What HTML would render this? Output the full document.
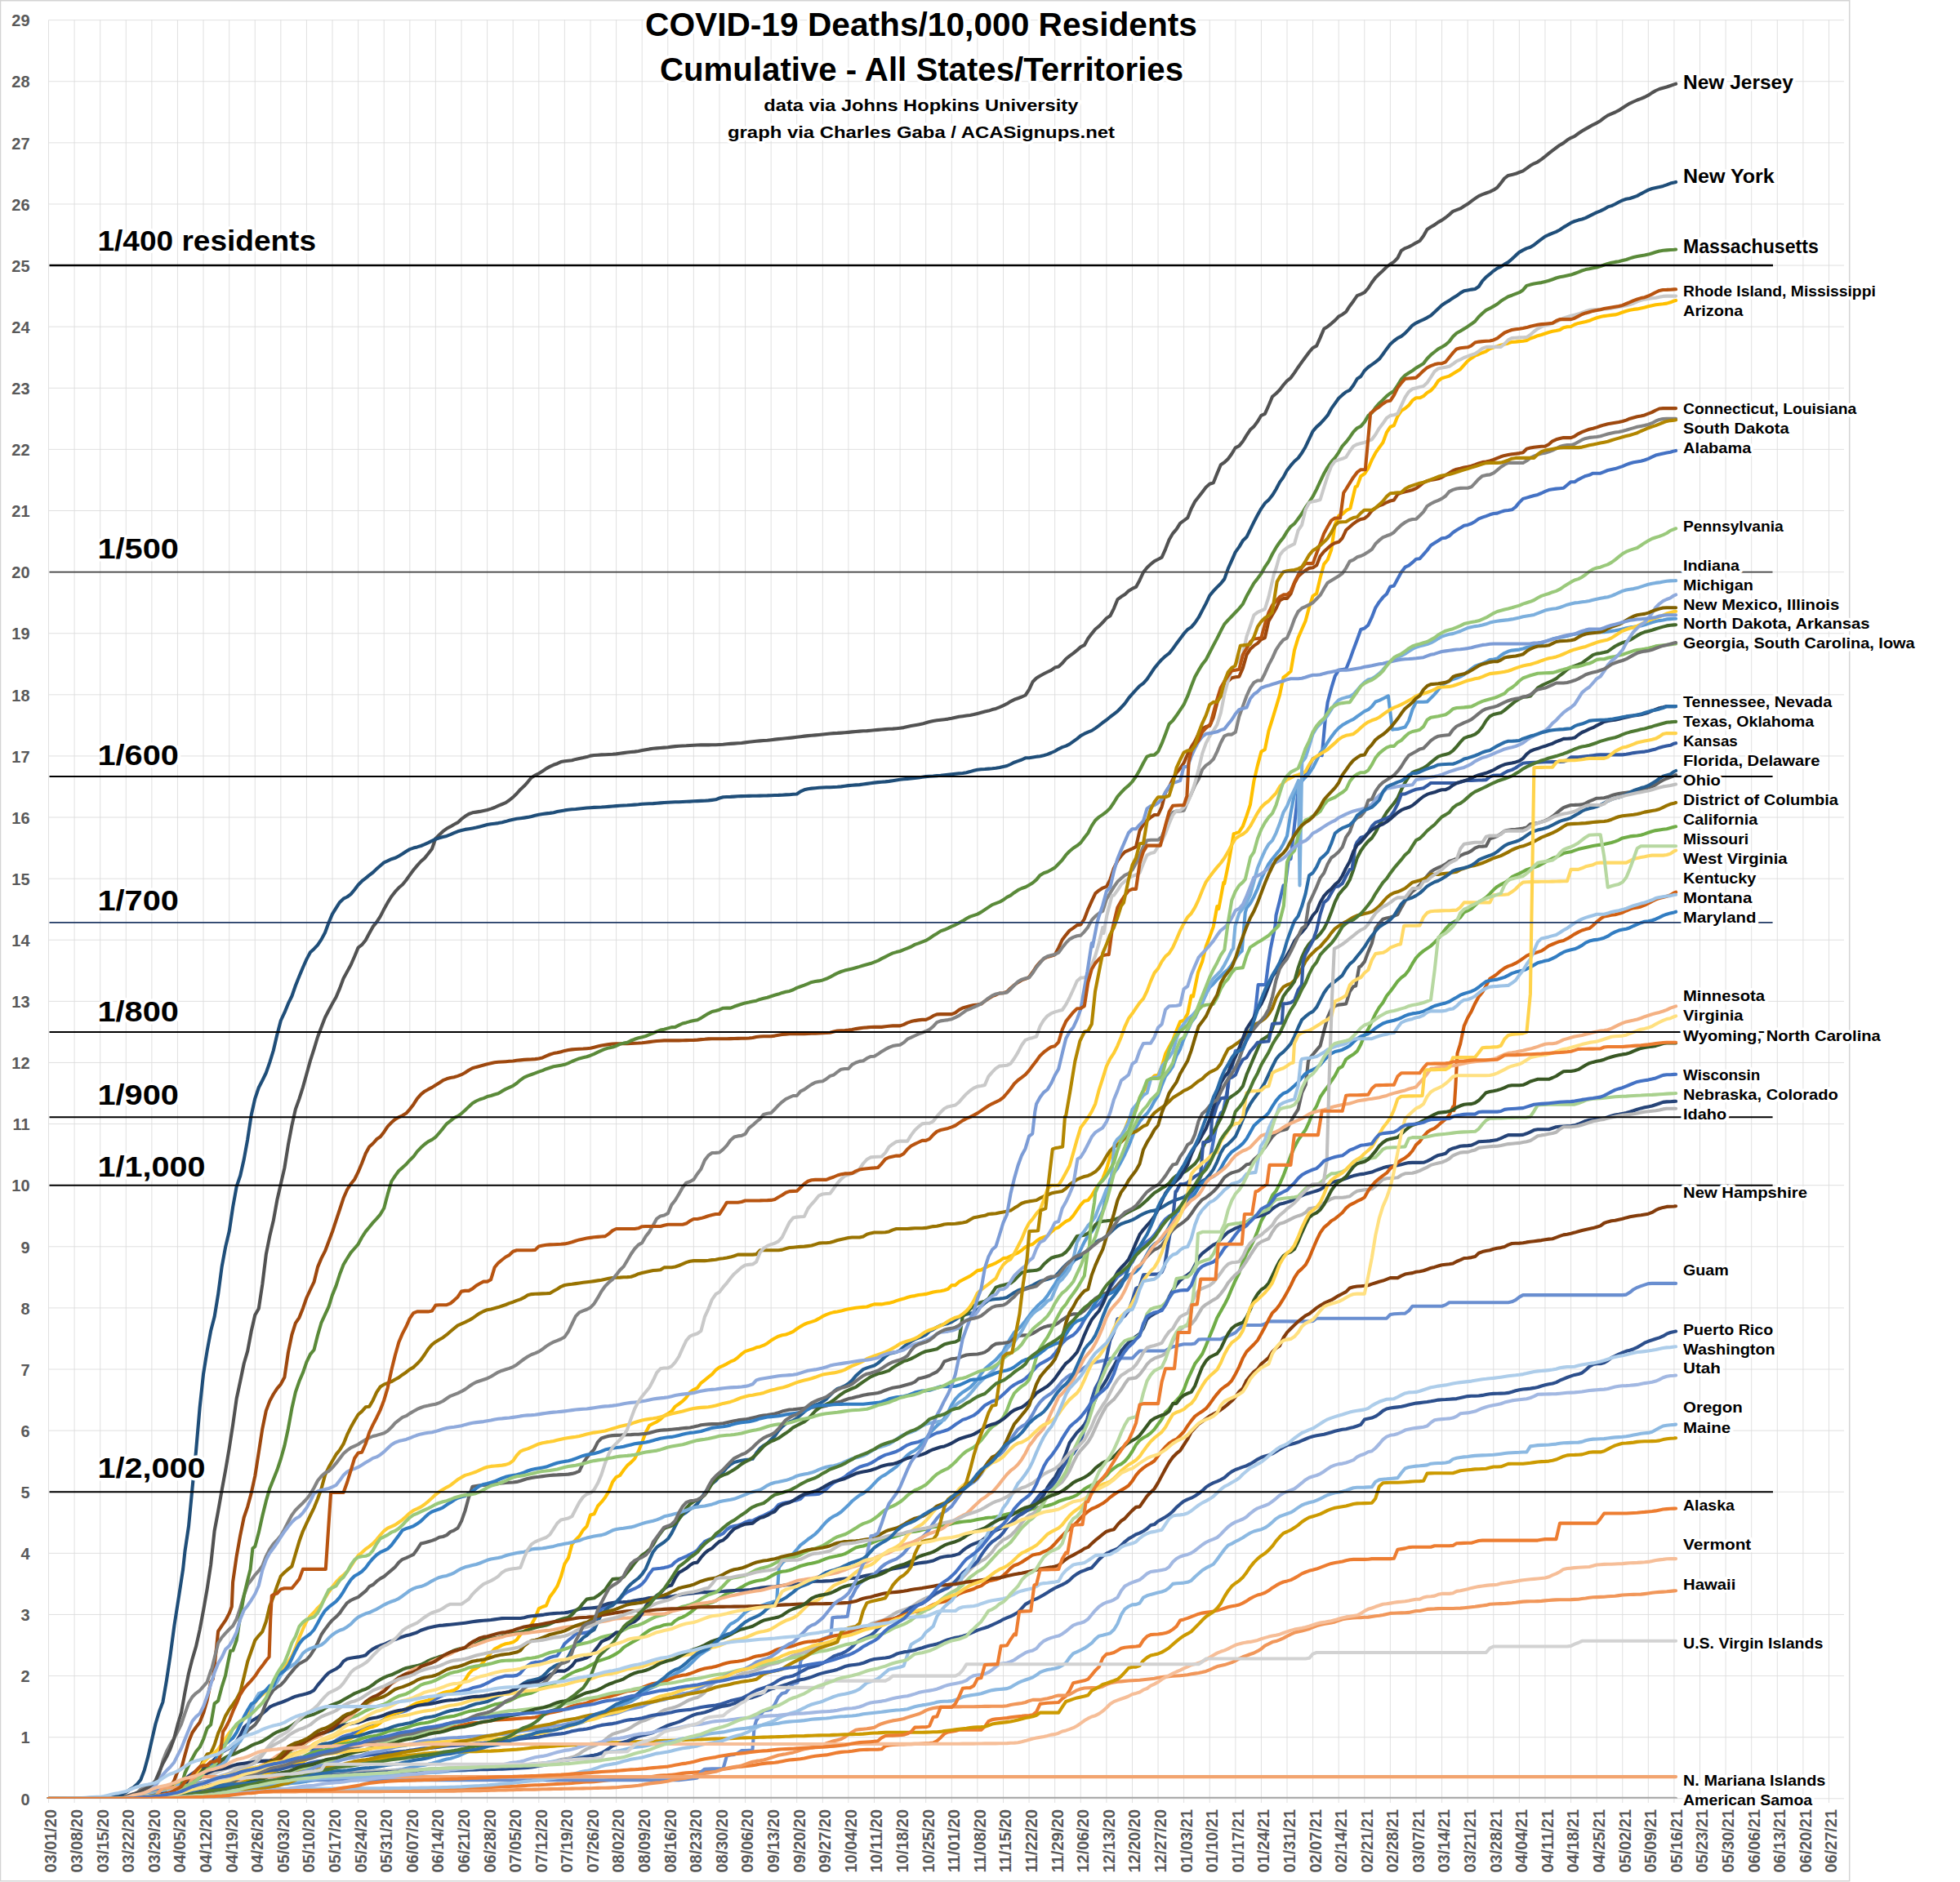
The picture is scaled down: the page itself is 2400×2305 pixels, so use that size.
<!DOCTYPE html>
<html><head><meta charset="utf-8"><title>COVID-19 Deaths/10,000 Residents</title>
<style>html,body{margin:0;padding:0;background:#fff}svg{display:block}</style></head>
<body>
<svg xmlns="http://www.w3.org/2000/svg" width="2400" height="2305" viewBox="0 0 2400 2305" style="display:block">
<rect x="0" y="0" width="2400" height="2305" fill="#fff"/>
<rect x="0.5" y="0.75" width="2264.2" height="2303" fill="none" stroke="#d4d4d4" stroke-width="1.5"/>
<path d="M59.5 2202.80H2258M59.5 2127.69H2258M59.5 2052.58H2258M59.5 1977.47H2258M59.5 1902.36H2258M59.5 1827.25H2258M59.5 1752.14H2258M59.5 1677.03H2258M59.5 1601.92H2258M59.5 1526.81H2258M59.5 1451.70H2258M59.5 1376.59H2258M59.5 1301.48H2258M59.5 1226.37H2258M59.5 1151.26H2258M59.5 1076.15H2258M59.5 1001.04H2258M59.5 925.93H2258M59.5 850.82H2258M59.5 775.71H2258M59.5 700.60H2258M59.5 625.49H2258M59.5 550.38H2258M59.5 475.27H2258M59.5 400.16H2258M59.5 325.05H2258M59.5 249.94H2258M59.5 174.83H2258M59.5 99.72H2258M59.5 24.61H2258M59.50 24.5V2208M91.09 24.5V2208M122.69 24.5V2208M154.28 24.5V2208M185.88 24.5V2208M217.47 24.5V2208M249.07 24.5V2208M280.66 24.5V2208M312.25 24.5V2208M343.85 24.5V2208M375.44 24.5V2208M407.04 24.5V2208M438.63 24.5V2208M470.22 24.5V2208M501.82 24.5V2208M533.41 24.5V2208M565.01 24.5V2208M596.60 24.5V2208M628.20 24.5V2208M659.79 24.5V2208M691.38 24.5V2208M722.98 24.5V2208M754.57 24.5V2208M786.17 24.5V2208M817.76 24.5V2208M849.36 24.5V2208M880.95 24.5V2208M912.54 24.5V2208M944.14 24.5V2208M975.73 24.5V2208M1007.33 24.5V2208M1038.92 24.5V2208M1070.51 24.5V2208M1102.11 24.5V2208M1133.70 24.5V2208M1165.30 24.5V2208M1196.89 24.5V2208M1228.49 24.5V2208M1260.08 24.5V2208M1291.67 24.5V2208M1323.27 24.5V2208M1354.86 24.5V2208M1386.46 24.5V2208M1418.05 24.5V2208M1449.64 24.5V2208M1481.24 24.5V2208M1512.83 24.5V2208M1544.43 24.5V2208M1576.02 24.5V2208M1607.62 24.5V2208M1639.21 24.5V2208M1670.80 24.5V2208M1702.40 24.5V2208M1733.99 24.5V2208M1765.59 24.5V2208M1797.18 24.5V2208M1828.78 24.5V2208M1860.37 24.5V2208M1891.96 24.5V2208M1923.56 24.5V2208M1955.15 24.5V2208M1986.75 24.5V2208M2018.34 24.5V2208M2049.93 24.5V2208M2081.53 24.5V2208M2113.12 24.5V2208M2144.72 24.5V2208M2176.31 24.5V2208M2207.91 24.5V2208M2239.50 24.5V2208" stroke="#dcdcdc" stroke-width="0.9" fill="none"/>
<text x="36.6" y="2210.5" text-anchor="end" font-size="20" fill="#595959" font-family="Liberation Sans, sans-serif" font-weight="bold">0</text>
<text x="36.6" y="2135.4" text-anchor="end" font-size="20" fill="#595959" font-family="Liberation Sans, sans-serif" font-weight="bold">1</text>
<text x="36.6" y="2060.3" text-anchor="end" font-size="20" fill="#595959" font-family="Liberation Sans, sans-serif" font-weight="bold">2</text>
<text x="36.6" y="1985.2" text-anchor="end" font-size="20" fill="#595959" font-family="Liberation Sans, sans-serif" font-weight="bold">3</text>
<text x="36.6" y="1910.1" text-anchor="end" font-size="20" fill="#595959" font-family="Liberation Sans, sans-serif" font-weight="bold">4</text>
<text x="36.6" y="1835.0" text-anchor="end" font-size="20" fill="#595959" font-family="Liberation Sans, sans-serif" font-weight="bold">5</text>
<text x="36.6" y="1759.8" text-anchor="end" font-size="20" fill="#595959" font-family="Liberation Sans, sans-serif" font-weight="bold">6</text>
<text x="36.6" y="1684.7" text-anchor="end" font-size="20" fill="#595959" font-family="Liberation Sans, sans-serif" font-weight="bold">7</text>
<text x="36.6" y="1609.6" text-anchor="end" font-size="20" fill="#595959" font-family="Liberation Sans, sans-serif" font-weight="bold">8</text>
<text x="36.6" y="1534.5" text-anchor="end" font-size="20" fill="#595959" font-family="Liberation Sans, sans-serif" font-weight="bold">9</text>
<text x="36.6" y="1459.4" text-anchor="end" font-size="20" fill="#595959" font-family="Liberation Sans, sans-serif" font-weight="bold">10</text>
<text x="36.6" y="1384.3" text-anchor="end" font-size="20" fill="#595959" font-family="Liberation Sans, sans-serif" font-weight="bold">11</text>
<text x="36.6" y="1309.2" text-anchor="end" font-size="20" fill="#595959" font-family="Liberation Sans, sans-serif" font-weight="bold">12</text>
<text x="36.6" y="1234.1" text-anchor="end" font-size="20" fill="#595959" font-family="Liberation Sans, sans-serif" font-weight="bold">13</text>
<text x="36.6" y="1159.0" text-anchor="end" font-size="20" fill="#595959" font-family="Liberation Sans, sans-serif" font-weight="bold">14</text>
<text x="36.6" y="1083.9" text-anchor="end" font-size="20" fill="#595959" font-family="Liberation Sans, sans-serif" font-weight="bold">15</text>
<text x="36.6" y="1008.7" text-anchor="end" font-size="20" fill="#595959" font-family="Liberation Sans, sans-serif" font-weight="bold">16</text>
<text x="36.6" y="933.6" text-anchor="end" font-size="20" fill="#595959" font-family="Liberation Sans, sans-serif" font-weight="bold">17</text>
<text x="36.6" y="858.5" text-anchor="end" font-size="20" fill="#595959" font-family="Liberation Sans, sans-serif" font-weight="bold">18</text>
<text x="36.6" y="783.4" text-anchor="end" font-size="20" fill="#595959" font-family="Liberation Sans, sans-serif" font-weight="bold">19</text>
<text x="36.6" y="708.3" text-anchor="end" font-size="20" fill="#595959" font-family="Liberation Sans, sans-serif" font-weight="bold">20</text>
<text x="36.6" y="633.2" text-anchor="end" font-size="20" fill="#595959" font-family="Liberation Sans, sans-serif" font-weight="bold">21</text>
<text x="36.6" y="558.1" text-anchor="end" font-size="20" fill="#595959" font-family="Liberation Sans, sans-serif" font-weight="bold">22</text>
<text x="36.6" y="483.0" text-anchor="end" font-size="20" fill="#595959" font-family="Liberation Sans, sans-serif" font-weight="bold">23</text>
<text x="36.6" y="407.9" text-anchor="end" font-size="20" fill="#595959" font-family="Liberation Sans, sans-serif" font-weight="bold">24</text>
<text x="36.6" y="332.8" text-anchor="end" font-size="20" fill="#595959" font-family="Liberation Sans, sans-serif" font-weight="bold">25</text>
<text x="36.6" y="257.6" text-anchor="end" font-size="20" fill="#595959" font-family="Liberation Sans, sans-serif" font-weight="bold">26</text>
<text x="36.6" y="182.5" text-anchor="end" font-size="20" fill="#595959" font-family="Liberation Sans, sans-serif" font-weight="bold">27</text>
<text x="36.6" y="107.4" text-anchor="end" font-size="20" fill="#595959" font-family="Liberation Sans, sans-serif" font-weight="bold">28</text>
<text x="36.6" y="32.3" text-anchor="end" font-size="20" fill="#595959" font-family="Liberation Sans, sans-serif" font-weight="bold">29</text>
<text transform="translate(69.40 2293.5) rotate(-90)" font-size="20" fill="#595959" textLength="77.5" lengthAdjust="spacingAndGlyphs" font-family="Liberation Sans, sans-serif" font-weight="bold">03/01/20</text>
<text transform="translate(100.99 2293.5) rotate(-90)" font-size="20" fill="#595959" textLength="77.5" lengthAdjust="spacingAndGlyphs" font-family="Liberation Sans, sans-serif" font-weight="bold">03/08/20</text>
<text transform="translate(132.59 2293.5) rotate(-90)" font-size="20" fill="#595959" textLength="77.5" lengthAdjust="spacingAndGlyphs" font-family="Liberation Sans, sans-serif" font-weight="bold">03/15/20</text>
<text transform="translate(164.18 2293.5) rotate(-90)" font-size="20" fill="#595959" textLength="77.5" lengthAdjust="spacingAndGlyphs" font-family="Liberation Sans, sans-serif" font-weight="bold">03/22/20</text>
<text transform="translate(195.78 2293.5) rotate(-90)" font-size="20" fill="#595959" textLength="77.5" lengthAdjust="spacingAndGlyphs" font-family="Liberation Sans, sans-serif" font-weight="bold">03/29/20</text>
<text transform="translate(227.37 2293.5) rotate(-90)" font-size="20" fill="#595959" textLength="77.5" lengthAdjust="spacingAndGlyphs" font-family="Liberation Sans, sans-serif" font-weight="bold">04/05/20</text>
<text transform="translate(258.97 2293.5) rotate(-90)" font-size="20" fill="#595959" textLength="77.5" lengthAdjust="spacingAndGlyphs" font-family="Liberation Sans, sans-serif" font-weight="bold">04/12/20</text>
<text transform="translate(290.56 2293.5) rotate(-90)" font-size="20" fill="#595959" textLength="77.5" lengthAdjust="spacingAndGlyphs" font-family="Liberation Sans, sans-serif" font-weight="bold">04/19/20</text>
<text transform="translate(322.15 2293.5) rotate(-90)" font-size="20" fill="#595959" textLength="77.5" lengthAdjust="spacingAndGlyphs" font-family="Liberation Sans, sans-serif" font-weight="bold">04/26/20</text>
<text transform="translate(353.75 2293.5) rotate(-90)" font-size="20" fill="#595959" textLength="77.5" lengthAdjust="spacingAndGlyphs" font-family="Liberation Sans, sans-serif" font-weight="bold">05/03/20</text>
<text transform="translate(385.34 2293.5) rotate(-90)" font-size="20" fill="#595959" textLength="77.5" lengthAdjust="spacingAndGlyphs" font-family="Liberation Sans, sans-serif" font-weight="bold">05/10/20</text>
<text transform="translate(416.94 2293.5) rotate(-90)" font-size="20" fill="#595959" textLength="77.5" lengthAdjust="spacingAndGlyphs" font-family="Liberation Sans, sans-serif" font-weight="bold">05/17/20</text>
<text transform="translate(448.53 2293.5) rotate(-90)" font-size="20" fill="#595959" textLength="77.5" lengthAdjust="spacingAndGlyphs" font-family="Liberation Sans, sans-serif" font-weight="bold">05/24/20</text>
<text transform="translate(480.12 2293.5) rotate(-90)" font-size="20" fill="#595959" textLength="77.5" lengthAdjust="spacingAndGlyphs" font-family="Liberation Sans, sans-serif" font-weight="bold">05/31/20</text>
<text transform="translate(511.72 2293.5) rotate(-90)" font-size="20" fill="#595959" textLength="77.5" lengthAdjust="spacingAndGlyphs" font-family="Liberation Sans, sans-serif" font-weight="bold">06/07/20</text>
<text transform="translate(543.31 2293.5) rotate(-90)" font-size="20" fill="#595959" textLength="77.5" lengthAdjust="spacingAndGlyphs" font-family="Liberation Sans, sans-serif" font-weight="bold">06/14/20</text>
<text transform="translate(574.91 2293.5) rotate(-90)" font-size="20" fill="#595959" textLength="77.5" lengthAdjust="spacingAndGlyphs" font-family="Liberation Sans, sans-serif" font-weight="bold">06/21/20</text>
<text transform="translate(606.50 2293.5) rotate(-90)" font-size="20" fill="#595959" textLength="77.5" lengthAdjust="spacingAndGlyphs" font-family="Liberation Sans, sans-serif" font-weight="bold">06/28/20</text>
<text transform="translate(638.10 2293.5) rotate(-90)" font-size="20" fill="#595959" textLength="77.5" lengthAdjust="spacingAndGlyphs" font-family="Liberation Sans, sans-serif" font-weight="bold">07/05/20</text>
<text transform="translate(669.69 2293.5) rotate(-90)" font-size="20" fill="#595959" textLength="77.5" lengthAdjust="spacingAndGlyphs" font-family="Liberation Sans, sans-serif" font-weight="bold">07/12/20</text>
<text transform="translate(701.28 2293.5) rotate(-90)" font-size="20" fill="#595959" textLength="77.5" lengthAdjust="spacingAndGlyphs" font-family="Liberation Sans, sans-serif" font-weight="bold">07/19/20</text>
<text transform="translate(732.88 2293.5) rotate(-90)" font-size="20" fill="#595959" textLength="77.5" lengthAdjust="spacingAndGlyphs" font-family="Liberation Sans, sans-serif" font-weight="bold">07/26/20</text>
<text transform="translate(764.47 2293.5) rotate(-90)" font-size="20" fill="#595959" textLength="77.5" lengthAdjust="spacingAndGlyphs" font-family="Liberation Sans, sans-serif" font-weight="bold">08/02/20</text>
<text transform="translate(796.07 2293.5) rotate(-90)" font-size="20" fill="#595959" textLength="77.5" lengthAdjust="spacingAndGlyphs" font-family="Liberation Sans, sans-serif" font-weight="bold">08/09/20</text>
<text transform="translate(827.66 2293.5) rotate(-90)" font-size="20" fill="#595959" textLength="77.5" lengthAdjust="spacingAndGlyphs" font-family="Liberation Sans, sans-serif" font-weight="bold">08/16/20</text>
<text transform="translate(859.26 2293.5) rotate(-90)" font-size="20" fill="#595959" textLength="77.5" lengthAdjust="spacingAndGlyphs" font-family="Liberation Sans, sans-serif" font-weight="bold">08/23/20</text>
<text transform="translate(890.85 2293.5) rotate(-90)" font-size="20" fill="#595959" textLength="77.5" lengthAdjust="spacingAndGlyphs" font-family="Liberation Sans, sans-serif" font-weight="bold">08/30/20</text>
<text transform="translate(922.44 2293.5) rotate(-90)" font-size="20" fill="#595959" textLength="77.5" lengthAdjust="spacingAndGlyphs" font-family="Liberation Sans, sans-serif" font-weight="bold">09/06/20</text>
<text transform="translate(954.04 2293.5) rotate(-90)" font-size="20" fill="#595959" textLength="77.5" lengthAdjust="spacingAndGlyphs" font-family="Liberation Sans, sans-serif" font-weight="bold">09/13/20</text>
<text transform="translate(985.63 2293.5) rotate(-90)" font-size="20" fill="#595959" textLength="77.5" lengthAdjust="spacingAndGlyphs" font-family="Liberation Sans, sans-serif" font-weight="bold">09/20/20</text>
<text transform="translate(1017.23 2293.5) rotate(-90)" font-size="20" fill="#595959" textLength="77.5" lengthAdjust="spacingAndGlyphs" font-family="Liberation Sans, sans-serif" font-weight="bold">09/27/20</text>
<text transform="translate(1048.82 2293.5) rotate(-90)" font-size="20" fill="#595959" textLength="77.5" lengthAdjust="spacingAndGlyphs" font-family="Liberation Sans, sans-serif" font-weight="bold">10/04/20</text>
<text transform="translate(1080.41 2293.5) rotate(-90)" font-size="20" fill="#595959" textLength="77.5" lengthAdjust="spacingAndGlyphs" font-family="Liberation Sans, sans-serif" font-weight="bold">10/11/20</text>
<text transform="translate(1112.01 2293.5) rotate(-90)" font-size="20" fill="#595959" textLength="77.5" lengthAdjust="spacingAndGlyphs" font-family="Liberation Sans, sans-serif" font-weight="bold">10/18/20</text>
<text transform="translate(1143.60 2293.5) rotate(-90)" font-size="20" fill="#595959" textLength="77.5" lengthAdjust="spacingAndGlyphs" font-family="Liberation Sans, sans-serif" font-weight="bold">10/25/20</text>
<text transform="translate(1175.20 2293.5) rotate(-90)" font-size="20" fill="#595959" textLength="77.5" lengthAdjust="spacingAndGlyphs" font-family="Liberation Sans, sans-serif" font-weight="bold">11/01/20</text>
<text transform="translate(1206.79 2293.5) rotate(-90)" font-size="20" fill="#595959" textLength="77.5" lengthAdjust="spacingAndGlyphs" font-family="Liberation Sans, sans-serif" font-weight="bold">11/08/20</text>
<text transform="translate(1238.39 2293.5) rotate(-90)" font-size="20" fill="#595959" textLength="77.5" lengthAdjust="spacingAndGlyphs" font-family="Liberation Sans, sans-serif" font-weight="bold">11/15/20</text>
<text transform="translate(1269.98 2293.5) rotate(-90)" font-size="20" fill="#595959" textLength="77.5" lengthAdjust="spacingAndGlyphs" font-family="Liberation Sans, sans-serif" font-weight="bold">11/22/20</text>
<text transform="translate(1301.57 2293.5) rotate(-90)" font-size="20" fill="#595959" textLength="77.5" lengthAdjust="spacingAndGlyphs" font-family="Liberation Sans, sans-serif" font-weight="bold">11/29/20</text>
<text transform="translate(1333.17 2293.5) rotate(-90)" font-size="20" fill="#595959" textLength="77.5" lengthAdjust="spacingAndGlyphs" font-family="Liberation Sans, sans-serif" font-weight="bold">12/06/20</text>
<text transform="translate(1364.76 2293.5) rotate(-90)" font-size="20" fill="#595959" textLength="77.5" lengthAdjust="spacingAndGlyphs" font-family="Liberation Sans, sans-serif" font-weight="bold">12/13/20</text>
<text transform="translate(1396.36 2293.5) rotate(-90)" font-size="20" fill="#595959" textLength="77.5" lengthAdjust="spacingAndGlyphs" font-family="Liberation Sans, sans-serif" font-weight="bold">12/20/20</text>
<text transform="translate(1427.95 2293.5) rotate(-90)" font-size="20" fill="#595959" textLength="77.5" lengthAdjust="spacingAndGlyphs" font-family="Liberation Sans, sans-serif" font-weight="bold">12/27/20</text>
<text transform="translate(1459.54 2293.5) rotate(-90)" font-size="20" fill="#595959" textLength="77.5" lengthAdjust="spacingAndGlyphs" font-family="Liberation Sans, sans-serif" font-weight="bold">01/03/21</text>
<text transform="translate(1491.14 2293.5) rotate(-90)" font-size="20" fill="#595959" textLength="77.5" lengthAdjust="spacingAndGlyphs" font-family="Liberation Sans, sans-serif" font-weight="bold">01/10/21</text>
<text transform="translate(1522.73 2293.5) rotate(-90)" font-size="20" fill="#595959" textLength="77.5" lengthAdjust="spacingAndGlyphs" font-family="Liberation Sans, sans-serif" font-weight="bold">01/17/21</text>
<text transform="translate(1554.33 2293.5) rotate(-90)" font-size="20" fill="#595959" textLength="77.5" lengthAdjust="spacingAndGlyphs" font-family="Liberation Sans, sans-serif" font-weight="bold">01/24/21</text>
<text transform="translate(1585.92 2293.5) rotate(-90)" font-size="20" fill="#595959" textLength="77.5" lengthAdjust="spacingAndGlyphs" font-family="Liberation Sans, sans-serif" font-weight="bold">01/31/21</text>
<text transform="translate(1617.52 2293.5) rotate(-90)" font-size="20" fill="#595959" textLength="77.5" lengthAdjust="spacingAndGlyphs" font-family="Liberation Sans, sans-serif" font-weight="bold">02/07/21</text>
<text transform="translate(1649.11 2293.5) rotate(-90)" font-size="20" fill="#595959" textLength="77.5" lengthAdjust="spacingAndGlyphs" font-family="Liberation Sans, sans-serif" font-weight="bold">02/14/21</text>
<text transform="translate(1680.70 2293.5) rotate(-90)" font-size="20" fill="#595959" textLength="77.5" lengthAdjust="spacingAndGlyphs" font-family="Liberation Sans, sans-serif" font-weight="bold">02/21/21</text>
<text transform="translate(1712.30 2293.5) rotate(-90)" font-size="20" fill="#595959" textLength="77.5" lengthAdjust="spacingAndGlyphs" font-family="Liberation Sans, sans-serif" font-weight="bold">02/28/21</text>
<text transform="translate(1743.89 2293.5) rotate(-90)" font-size="20" fill="#595959" textLength="77.5" lengthAdjust="spacingAndGlyphs" font-family="Liberation Sans, sans-serif" font-weight="bold">03/07/21</text>
<text transform="translate(1775.49 2293.5) rotate(-90)" font-size="20" fill="#595959" textLength="77.5" lengthAdjust="spacingAndGlyphs" font-family="Liberation Sans, sans-serif" font-weight="bold">03/14/21</text>
<text transform="translate(1807.08 2293.5) rotate(-90)" font-size="20" fill="#595959" textLength="77.5" lengthAdjust="spacingAndGlyphs" font-family="Liberation Sans, sans-serif" font-weight="bold">03/21/21</text>
<text transform="translate(1838.68 2293.5) rotate(-90)" font-size="20" fill="#595959" textLength="77.5" lengthAdjust="spacingAndGlyphs" font-family="Liberation Sans, sans-serif" font-weight="bold">03/28/21</text>
<text transform="translate(1870.27 2293.5) rotate(-90)" font-size="20" fill="#595959" textLength="77.5" lengthAdjust="spacingAndGlyphs" font-family="Liberation Sans, sans-serif" font-weight="bold">04/04/21</text>
<text transform="translate(1901.86 2293.5) rotate(-90)" font-size="20" fill="#595959" textLength="77.5" lengthAdjust="spacingAndGlyphs" font-family="Liberation Sans, sans-serif" font-weight="bold">04/11/21</text>
<text transform="translate(1933.46 2293.5) rotate(-90)" font-size="20" fill="#595959" textLength="77.5" lengthAdjust="spacingAndGlyphs" font-family="Liberation Sans, sans-serif" font-weight="bold">04/18/21</text>
<text transform="translate(1965.05 2293.5) rotate(-90)" font-size="20" fill="#595959" textLength="77.5" lengthAdjust="spacingAndGlyphs" font-family="Liberation Sans, sans-serif" font-weight="bold">04/25/21</text>
<text transform="translate(1996.65 2293.5) rotate(-90)" font-size="20" fill="#595959" textLength="77.5" lengthAdjust="spacingAndGlyphs" font-family="Liberation Sans, sans-serif" font-weight="bold">05/02/21</text>
<text transform="translate(2028.24 2293.5) rotate(-90)" font-size="20" fill="#595959" textLength="77.5" lengthAdjust="spacingAndGlyphs" font-family="Liberation Sans, sans-serif" font-weight="bold">05/09/21</text>
<text transform="translate(2059.83 2293.5) rotate(-90)" font-size="20" fill="#595959" textLength="77.5" lengthAdjust="spacingAndGlyphs" font-family="Liberation Sans, sans-serif" font-weight="bold">05/16/21</text>
<text transform="translate(2091.43 2293.5) rotate(-90)" font-size="20" fill="#595959" textLength="77.5" lengthAdjust="spacingAndGlyphs" font-family="Liberation Sans, sans-serif" font-weight="bold">05/23/21</text>
<text transform="translate(2123.02 2293.5) rotate(-90)" font-size="20" fill="#595959" textLength="77.5" lengthAdjust="spacingAndGlyphs" font-family="Liberation Sans, sans-serif" font-weight="bold">05/30/21</text>
<text transform="translate(2154.62 2293.5) rotate(-90)" font-size="20" fill="#595959" textLength="77.5" lengthAdjust="spacingAndGlyphs" font-family="Liberation Sans, sans-serif" font-weight="bold">06/06/21</text>
<text transform="translate(2186.21 2293.5) rotate(-90)" font-size="20" fill="#595959" textLength="77.5" lengthAdjust="spacingAndGlyphs" font-family="Liberation Sans, sans-serif" font-weight="bold">06/13/21</text>
<text transform="translate(2217.81 2293.5) rotate(-90)" font-size="20" fill="#595959" textLength="77.5" lengthAdjust="spacingAndGlyphs" font-family="Liberation Sans, sans-serif" font-weight="bold">06/20/21</text>
<text transform="translate(2249.40 2293.5) rotate(-90)" font-size="20" fill="#595959" textLength="77.5" lengthAdjust="spacingAndGlyphs" font-family="Liberation Sans, sans-serif" font-weight="bold">06/27/21</text>
<clipPath id="plot"><rect x="55" y="20" width="2010" height="2182.8"/></clipPath><g clip-path="url(#plot)" fill="none" stroke-width="4.1" stroke-linejoin="round" stroke-linecap="round">
<path d="M59.5,2202.8 64.0,2202.8 68.5,2202.8 73.0,2202.8 77.6,2202.8 82.1,2202.8 86.6,2202.8 91.1,2202.8 95.6,2202.8 100.1,2202.8 104.6,2202.8 109.1,2202.8 113.7,2202.8 118.2,2202.8 122.7,2202.8 127.2,2202.8 131.7,2202.8 136.2,2202.8 140.7,2202.8 145.3,2202.8 149.8,2202.7 154.3,2202.5 158.8,2202.3 163.3,2201.9 167.8,2201.6 172.3,2201.5 176.8,2201.3 181.4,2201.0 185.9,2200.6 190.4,2200.1 194.9,2199.5 199.4,2198.9 203.9,2198.5 208.4,2198.0 213.0,2197.4 217.5,2196.4 222.0,2195.2 226.5,2194.0 231.0,2192.8 235.5,2192.2 240.0,2191.5 244.6,2190.7 249.1,2189.2 253.6,2187.6 258.1,2186.0 262.6,2184.6 267.1,2183.7 271.6,2182.5 276.1,2181.0 280.7,2178.4 285.2,2175.3 289.7,2172.4 294.2,2170.6 298.7,2169.3 303.2,2168.1 307.7,2167.0 312.3,2165.4 316.8,2164.4 321.3,2163.8 325.8,2163.4 330.3,2163.2 334.8,2162.9 339.3,2162.6 343.8,2162.1 348.4,2161.3 352.9,2160.2 357.4,2158.7 361.9,2157.6 366.4,2156.1 370.9,2154.2 375.4,2150.9 380.0,2147.6 384.5,2143.6 389.0,2141.5 393.5,2140.1 398.0,2138.6 402.5,2136.8 407.0,2134.5 411.5,2131.6 416.1,2128.9 420.6,2126.6 425.1,2125.3 429.6,2124.2 434.1,2122.2 438.6,2120.0 443.1,2117.3 447.7,2114.3 452.2,2112.4 456.7,2111.0 461.2,2109.9 465.7,2108.4 470.2,2106.0 474.7,2103.2 479.3,2100.7 483.8,2098.9 488.3,2097.5 492.8,2096.5 497.3,2095.2 501.8,2093.0 506.3,2090.3 510.8,2088.0 515.4,2086.5 519.9,2085.2 524.4,2084.4 528.9,2083.0 533.4,2080.6 537.9,2078.4 542.4,2076.3 547.0,2074.8 551.5,2073.9 556.0,2073.3 560.5,2072.4 565.0,2071.5 569.5,2070.2 574.0,2069.2 578.5,2067.3 583.1,2066.2 587.6,2065.3 592.1,2063.5 596.6,2061.4 601.1,2059.0 605.6,2056.7 610.1,2054.9 614.7,2053.7 619.2,2052.6 623.7,2052.6 628.2,2052.6 632.7,2051.9 637.2,2049.2 641.7,2043.6 646.2,2040.0 650.8,2037.1 655.3,2035.9 659.8,2035.6 664.3,2035.0 668.8,2032.2 673.3,2030.1 677.8,2028.7 682.4,2027.9 686.9,2021.1 691.4,2013.1 695.9,2009.2 700.4,2005.7 704.9,2001.1 709.4,2000.6 714.0,2000.1 718.5,1999.4 723.0,1997.6 727.5,1993.4 732.0,1980.7 736.5,1970.5 741.0,1967.7 745.5,1966.1 750.1,1964.2 754.6,1962.1 759.1,1958.4 763.6,1953.1 768.1,1949.9 772.6,1947.7 777.1,1945.7 781.7,1943.3 786.2,1940.0 790.7,1934.8 795.2,1927.4 799.7,1921.7 804.2,1921.2 808.7,1920.8 813.2,1920.1 817.8,1919.0 822.3,1917.4 826.8,1913.1 831.3,1910.0 835.8,1908.2 840.3,1906.2 844.8,1903.8 849.4,1901.7 853.9,1898.6 858.4,1892.8 862.9,1888.1 867.4,1885.9 871.9,1884.1 876.4,1881.3 880.9,1880.3 885.5,1878.2 890.0,1873.3 894.5,1870.2 899.0,1869.0 903.5,1868.3 908.0,1866.8 912.5,1864.4 917.1,1862.6 921.6,1862.6 926.1,1860.0 930.6,1857.8 935.1,1856.1 939.6,1853.8 944.1,1851.6 948.7,1848.2 953.2,1843.0 957.7,1841.3 962.2,1840.3 966.7,1839.6 971.2,1838.3 975.7,1837.4 980.2,1835.8 984.8,1831.0 989.3,1830.7 993.8,1830.5 998.3,1830.3 1002.8,1829.6 1007.3,1827.2 1011.8,1823.7 1016.4,1819.4 1020.9,1815.9 1025.4,1813.6 1029.9,1811.3 1034.4,1808.9 1038.9,1805.2 1043.4,1802.1 1047.9,1799.2 1052.5,1796.7 1057.0,1795.3 1061.5,1794.1 1066.0,1792.2 1070.5,1789.6 1075.0,1786.6 1079.5,1784.1 1084.1,1781.9 1088.6,1780.6 1093.1,1779.2 1097.6,1777.7 1102.1,1775.5 1106.6,1772.5 1111.1,1769.8 1115.6,1768.1 1120.2,1767.0 1124.7,1765.9 1129.2,1764.3 1133.7,1762.3 1138.2,1759.6 1142.7,1757.0 1147.2,1755.0 1151.8,1753.9 1156.3,1752.5 1160.8,1751.0 1165.3,1748.2 1169.8,1744.8 1174.3,1741.9 1178.8,1738.9 1183.4,1737.5 1187.9,1735.5 1192.4,1733.5 1196.9,1730.2 1201.4,1725.7 1205.9,1721.3 1210.4,1718.8 1214.9,1716.3 1219.5,1714.9 1224.0,1711.7 1228.5,1707.8 1233.0,1703.5 1237.5,1699.1 1242.0,1696.0 1246.5,1693.4 1251.1,1691.5 1255.6,1688.4 1260.1,1684.4 1264.6,1679.0 1269.1,1674.1 1273.6,1670.5 1278.1,1668.1 1282.6,1665.6 1287.2,1662.6 1291.7,1657.5 1296.2,1651.6 1300.7,1645.1 1305.2,1640.5 1309.7,1637.5 1314.2,1635.1 1318.8,1630.6 1323.3,1624.6 1327.8,1616.3 1332.3,1609.8 1336.8,1604.1 1341.3,1600.7 1345.8,1597.4 1350.3,1592.2 1354.9,1585.0 1359.4,1576.8 1363.9,1570.1 1368.4,1563.9 1372.9,1560.3 1377.4,1556.7 1381.9,1551.9 1386.5,1545.8 1391.0,1537.5 1395.5,1530.0 1400.0,1524.4 1404.5,1520.7 1409.0,1517.5 1413.5,1512.4 1418.1,1506.2 1422.6,1498.5 1427.1,1493.2 1431.6,1489.5 1436.1,1487.1 1440.6,1484.6 1445.1,1481.7 1449.6,1476.8 1454.2,1469.3 1458.7,1461.8 1463.2,1453.4 1467.7,1447.2 1472.2,1436.3 1476.7,1427.4 1481.2,1419.3 1482.5,1414.9 1486.9,1391.6 1490.3,1375.9 1494.8,1363.1 1497.7,1360.8 1504.0,1330.0 1506.8,1300.0 1508.3,1308.2 1512.8,1287.0 1517.3,1286.2 1521.9,1282.5 1526.4,1274.3 1530.9,1266.4 1533.1,1260.2 1537.5,1235.4 1540.6,1206.1 1544.4,1206.1 1549.8,1206.1 1553.0,1180.6 1555.8,1161.8 1561.5,1134.0 1562.5,1121.0 1567.0,1103.1 1571.5,1084.4 1573.8,1084.4 1577.9,1052.1 1580.5,1052.1 1585.0,1011.0 1589.6,968.9 1594.1,956.6 1598.6,949.2 1603.1,938.6 1607.6,929.2 1612.1,927.2 1616.6,924.1 1618.7,925.2 1622.8,880.9 1625.7,859.9 1630.2,842.9 1634.7,828.1 1639.2,820.7 1643.7,820.0 1648.2,819.4 1652.8,808.1 1657.3,795.4 1661.8,783.6 1666.3,771.0 1670.8,769.5 1675.3,765.6 1679.8,755.9 1684.3,744.3 1688.9,737.2 1693.4,731.6 1697.9,727.5 1702.4,718.5 1706.9,717.4 1711.4,709.0 1715.9,700.8 1720.5,694.7 1725.0,692.6 1729.5,688.9 1734.0,684.7 1738.5,684.2 1743.0,679.2 1747.5,674.0 1752.0,668.0 1756.6,665.0 1761.1,662.2 1765.6,659.2 1770.1,658.8 1774.6,656.4 1779.1,652.2 1783.6,649.3 1788.2,646.6 1792.7,643.7 1797.2,642.9 1801.7,641.3 1806.2,638.7 1810.7,635.4 1815.2,633.7 1819.7,632.1 1824.3,630.3 1828.8,629.0 1833.3,628.6 1837.8,626.9 1842.3,625.5 1846.8,625.0 1851.3,624.3 1855.9,620.9 1860.4,615.4 1864.9,610.9 1869.4,609.6 1873.9,608.3 1878.4,607.1 1882.9,605.9 1887.5,604.0 1892.0,601.8 1896.5,600.1 1901.0,599.3 1905.5,598.6 1910.0,598.2 1914.5,597.8 1919.0,594.0 1923.6,590.2 1928.1,590.2 1932.6,587.3 1937.1,585.0 1941.6,582.9 1946.1,581.8 1950.6,579.7 1955.2,579.7 1959.7,579.7 1964.2,577.8 1968.7,576.0 1973.2,575.0 1977.7,574.1 1982.2,572.6 1986.7,571.1 1991.3,569.2 1995.8,567.5 2000.3,566.3 2004.8,565.5 2009.3,564.7 2013.8,563.5 2018.3,561.8 2022.9,559.7 2027.4,557.6 2031.9,556.4 2036.4,555.5 2040.9,554.6 2045.4,553.8 2049.9,552.4 2052.1,551.9" stroke="#4472c4"/>
<path d="M59.5,2202.8 64.0,2202.8 68.5,2202.8 73.0,2202.8 77.6,2202.8 82.1,2202.8 86.6,2202.8 91.1,2202.8 95.6,2202.8 100.1,2202.8 104.6,2202.8 109.1,2202.8 113.7,2202.8 118.2,2202.8 122.7,2202.8 127.2,2202.8 131.7,2202.8 136.2,2202.8 140.7,2202.8 145.3,2202.7 149.8,2202.6 154.3,2202.4 158.8,2202.3 163.3,2202.1 167.8,2201.7 172.3,2201.2 176.8,2200.8 181.4,2200.5 185.9,2200.4 190.4,2200.1 194.9,2199.7 199.4,2199.2 203.9,2198.8 208.4,2198.3 213.0,2198.0 217.5,2197.7 222.0,2197.3 226.5,2196.8 231.0,2196.2 235.5,2195.5 240.0,2195.0 244.6,2194.7 249.1,2194.5 253.6,2194.2 258.1,2194.0 262.6,2193.8 267.1,2193.6 271.6,2193.5 276.1,2193.5 280.7,2193.4 285.2,2193.4 289.7,2193.3 294.2,2193.2 298.7,2193.1 303.2,2193.1 307.7,2193.1 312.3,2193.0 316.8,2193.0 321.3,2192.9 325.8,2192.9 330.3,2192.8 334.8,2192.8 339.3,2192.8 343.8,2192.7 348.4,2192.7 352.9,2192.7 357.4,2192.6 361.9,2192.6 366.4,2192.6 370.9,2192.5 375.4,2192.5 380.0,2192.5 384.5,2192.4 389.0,2192.4 393.5,2192.3 398.0,2192.3 402.5,2192.2 407.0,2192.2 411.5,2192.2 416.1,2192.1 420.6,2192.1 425.1,2192.0 429.6,2191.9 434.1,2191.9 438.6,2191.9 443.1,2191.9 447.7,2191.8 452.2,2191.8 456.7,2191.7 461.2,2191.7 465.7,2191.6 470.2,2191.6 474.7,2191.6 479.3,2191.5 483.8,2191.5 488.3,2191.4 492.8,2191.4 497.3,2191.3 501.8,2191.3 506.3,2191.2 510.8,2191.2 515.4,2191.1 519.9,2191.0 524.4,2190.9 528.9,2190.9 533.4,2190.9 537.9,2190.8 542.4,2190.7 547.0,2190.6 551.5,2190.5 556.0,2190.3 560.5,2190.2 565.0,2190.2 569.5,2190.1 574.0,2189.9 578.5,2189.7 583.1,2189.5 587.6,2189.3 592.1,2189.2 596.6,2189.1 601.1,2189.0 605.6,2188.8 610.1,2188.5 614.7,2188.3 619.2,2188.0 623.7,2187.9 628.2,2187.7 632.7,2187.6 637.2,2187.4 641.7,2187.1 646.2,2186.8 650.8,2186.5 655.3,2186.3 659.8,2186.2 664.3,2186.0 668.8,2185.8 673.3,2185.5 677.8,2185.2 682.4,2184.9 686.9,2184.7 691.4,2184.5 695.9,2184.3 700.4,2184.0 704.9,2183.5 709.4,2183.2 714.0,2182.8 718.5,2182.5 723.0,2182.4 727.5,2182.1 732.0,2181.7 736.5,2181.2 741.0,2180.7 745.5,2180.3 750.1,2180.0 754.6,2179.8 759.1,2179.5 763.6,2179.1 768.1,2178.6 772.6,2178.0 777.1,2177.5 781.7,2177.2 786.2,2177.0 790.7,2176.7 795.2,2176.2 799.7,2175.7 804.2,2175.1 808.7,2174.6 813.2,2174.3 817.8,2174.1 822.3,2173.7 826.8,2173.2 831.3,2172.6 835.8,2171.9 840.3,2171.4 844.8,2171.1 849.4,2170.7 853.9,2170.4 858.4,2169.9 862.9,2169.2 867.4,2168.4 871.9,2167.8 876.4,2167.4 880.9,2167.1 885.5,2166.7 890.0,2166.2 894.5,2165.4 899.0,2164.6 903.5,2164.0 908.0,2163.6 912.5,2163.3 917.1,2162.8 921.6,2162.1 926.1,2161.4 930.6,2160.6 935.1,2159.9 939.6,2159.4 944.1,2159.1 948.7,2158.7 953.2,2158.1 957.7,2157.2 962.2,2156.3 966.7,2155.5 971.2,2155.1 975.7,2154.7 980.2,2154.3 984.8,2153.5 989.3,2152.5 993.8,2151.5 998.3,2150.8 1002.8,2150.2 1007.3,2149.8 1011.8,2149.4 1016.4,2148.5 1020.9,2147.6 1025.4,2146.6 1029.9,2145.9 1034.4,2145.5 1038.9,2145.2 1043.4,2144.7 1047.9,2144.0 1052.5,2143.3 1057.0,2143.0 1061.5,2142.9 1066.0,2142.8 1070.5,2142.8 1075.0,2142.6 1079.5,2142.3 1084.1,2138.5 1088.6,2137.4 1093.1,2136.9 1097.6,2136.7 1102.1,2136.5 1106.6,2136.4 1111.1,2136.2 1115.6,2136.1 1120.2,2135.9 1124.7,2135.8 1129.2,2135.6 1133.7,2135.4 1138.2,2135.1 1142.7,2134.6 1147.2,2132.2 1151.8,2128.2 1156.3,2123.5 1160.8,2121.4 1165.3,2120.7 1169.8,2119.9 1174.3,2118.7 1178.8,2118.7 1183.4,2118.7 1187.9,2118.7 1192.4,2118.7 1196.9,2118.7 1201.4,2118.7 1205.9,2114.6 1210.4,2108.1 1214.9,2106.1 1219.5,2105.4 1224.0,2105.0 1228.5,2104.5 1233.0,2104.1 1237.5,2103.4 1242.0,2102.8 1246.5,2102.3 1251.1,2101.9 1255.6,2101.4 1260.1,2101.1 1264.6,2100.4 1269.1,2096.6 1273.6,2086.9 1278.1,2086.3 1282.6,2085.8 1287.2,2085.5 1291.7,2085.2 1296.2,2085.0 1300.7,2080.6 1305.2,2077.4 1309.7,2070.4 1314.2,2061.2 1318.8,2060.2 1323.3,2059.3 1327.8,2058.3 1332.3,2056.6 1336.8,2051.4 1341.3,2045.9 1345.8,2041.5 1350.3,2030.7 1354.9,2025.9 1359.4,2025.3 1363.9,2024.1 1368.4,2021.4 1372.9,2018.8 1377.4,2017.7 1381.9,2017.3 1386.5,2016.9 1391.0,2016.5 1395.5,2015.9 1400.0,2008.8 1404.5,2004.2 1409.0,2002.1 1413.5,2001.7 1418.1,2001.5 1422.6,2000.9 1427.1,2000.1 1431.6,1998.5 1436.1,1995.6 1440.6,1991.9 1445.1,1984.6 1449.6,1983.4 1454.2,1981.9 1458.7,1980.1 1463.2,1978.4 1467.7,1976.7 1472.2,1975.6 1476.7,1974.9 1481.2,1974.2 1485.8,1973.5 1490.3,1972.6 1494.8,1971.1 1499.3,1969.7 1503.8,1968.3 1508.3,1967.2 1512.8,1966.5 1517.3,1965.5 1521.9,1963.4 1526.4,1960.9 1530.9,1957.8 1535.4,1955.5 1539.9,1953.5 1544.4,1952.4 1548.9,1950.8 1553.5,1948.1 1558.0,1944.7 1562.5,1941.9 1567.0,1939.4 1571.5,1937.5 1576.0,1936.4 1580.5,1935.1 1585.0,1932.9 1589.6,1930.3 1594.1,1927.4 1598.6,1925.5 1603.1,1923.8 1607.6,1922.8 1612.1,1921.6 1616.6,1919.9 1621.2,1918.1 1625.7,1916.4 1630.2,1914.9 1634.7,1914.0 1639.2,1913.3 1643.7,1912.4 1648.2,1911.3 1652.8,1910.3 1657.3,1909.9 1661.8,1909.9 1666.3,1909.9 1670.8,1909.9 1675.3,1909.7 1679.8,1909.1 1684.3,1909.1 1688.9,1909.1 1693.4,1909.1 1697.9,1909.1 1702.4,1909.1 1706.9,1908.7 1711.4,1897.8 1715.9,1897.1 1720.5,1896.4 1725.0,1895.1 1729.5,1894.8 1734.0,1894.8 1738.5,1894.8 1743.0,1894.8 1747.5,1894.8 1752.0,1894.8 1756.6,1893.3 1761.1,1893.3 1765.6,1893.3 1770.1,1893.3 1774.6,1893.3 1779.1,1892.9 1783.6,1890.3 1788.2,1890.1 1792.7,1889.9 1797.2,1889.8 1801.7,1889.7 1806.2,1888.4 1810.7,1887.0 1815.2,1886.6 1819.7,1886.6 1824.3,1886.6 1828.8,1886.6 1833.3,1886.6 1837.8,1886.6 1842.3,1886.6 1846.8,1886.6 1851.3,1886.6 1855.9,1886.6 1860.4,1886.6 1864.9,1886.6 1869.4,1886.6 1873.9,1886.6 1878.4,1886.6 1882.9,1886.6 1887.5,1885.8 1892.0,1885.1 1896.5,1885.1 1901.0,1885.1 1905.5,1885.1 1910.0,1865.6 1914.5,1865.6 1919.0,1865.6 1923.6,1865.6 1928.1,1865.6 1932.6,1865.6 1937.1,1865.6 1941.6,1865.6 1946.1,1865.6 1950.6,1865.6 1955.2,1865.6 1959.7,1859.9 1964.2,1853.6 1968.7,1853.5 1973.2,1853.5 1977.7,1853.5 1982.2,1853.5 1986.7,1853.5 1991.3,1853.5 1995.8,1853.2 2000.3,1853.0 2004.8,1852.8 2009.3,1852.2 2013.8,1851.9 2018.3,1851.5 2022.9,1851.0 2027.4,1850.4 2031.9,1849.5 2036.4,1848.5 2040.9,1848.1 2045.4,1847.8 2049.9,1847.6 2052.1,1847.5" stroke="#ed7d31"/>
<path d="M59.5,2202.8 64.0,2202.8 68.5,2202.8 73.0,2202.8 77.6,2202.8 82.1,2202.8 86.6,2202.8 91.1,2202.8 95.6,2202.8 100.1,2202.8 104.6,2202.8 109.1,2202.8 113.7,2202.8 118.2,2202.8 122.7,2202.8 127.2,2202.8 131.7,2202.8 136.2,2202.8 140.7,2202.8 145.3,2202.8 149.8,2202.8 154.3,2202.8 158.8,2202.8 163.3,2202.8 167.8,2202.8 172.3,2202.8 176.8,2202.8 181.4,2202.8 185.9,2202.8 190.4,2202.8 194.9,2202.8 199.4,2202.8 203.9,2202.8 208.4,2202.8 213.0,2202.8 217.5,2202.8 222.0,2202.8 226.5,2202.8 231.0,2202.8 235.5,2202.8 240.0,2202.8 244.6,2202.8 249.1,2202.8 253.6,2202.8 258.1,2202.8 262.6,2202.8 267.1,2202.8 271.6,2202.8 276.1,2202.8 280.7,2202.8 285.2,2202.8 289.7,2202.8 294.2,2202.8 298.7,2202.8 303.2,2202.8 307.7,2202.8 312.3,2202.8 316.8,2202.8 321.3,2202.8 325.8,2202.8 330.3,2202.8 334.8,2202.8 339.3,2202.8 343.8,2202.8 348.4,2202.8 352.9,2202.8 357.4,2202.8 361.9,2202.8 366.4,2202.8 370.9,2202.8 375.4,2202.8 380.0,2202.8 384.5,2202.8 389.0,2202.8 393.5,2202.8 398.0,2202.8 402.5,2202.8 407.0,2202.8 411.5,2202.8 416.1,2202.8 420.6,2202.8 425.1,2202.8 429.6,2202.8 434.1,2202.8 438.6,2202.8 443.1,2202.8 447.7,2202.8 452.2,2202.8 456.7,2202.8 461.2,2202.8 465.7,2202.8 470.2,2202.8 474.7,2202.8 479.3,2202.8 483.8,2202.8 488.3,2202.8 492.8,2202.8 497.3,2202.8 501.8,2202.8 506.3,2202.8 510.8,2202.8 515.4,2202.8 519.9,2202.8 524.4,2202.8 528.9,2202.8 533.4,2202.8 537.9,2202.8 542.4,2202.8 547.0,2202.8 551.5,2202.8 556.0,2202.8 560.5,2202.8 565.0,2202.8 569.5,2202.8 574.0,2202.8 578.5,2202.8 583.1,2202.8 587.6,2202.8 592.1,2202.8 596.6,2202.8 601.1,2202.8 605.6,2202.8 610.1,2202.8 614.7,2202.8 619.2,2202.8 623.7,2202.8 628.2,2202.8 632.7,2202.8 637.2,2202.8 641.7,2202.8 646.2,2202.8 650.8,2202.8 655.3,2202.8 659.8,2202.8 664.3,2202.8 668.8,2202.8 673.3,2202.8 677.8,2202.8 682.4,2202.8 686.9,2202.8 691.4,2202.8 695.9,2202.8 700.4,2202.8 704.9,2202.8 709.4,2202.8 714.0,2202.8 718.5,2202.8 723.0,2202.8 727.5,2202.8 732.0,2202.8 736.5,2202.8 741.0,2202.8 745.5,2202.8 750.1,2202.8 754.6,2202.8 759.1,2202.8 763.6,2202.8 768.1,2202.8 772.6,2202.8 777.1,2202.8 781.7,2202.8 786.2,2202.8 790.7,2202.8 795.2,2202.8 799.7,2202.8 804.2,2202.8 808.7,2202.8 813.2,2202.8 817.8,2202.8 822.3,2202.8 826.8,2202.8 831.3,2202.8 835.8,2202.8 840.3,2202.8 844.8,2202.8 849.4,2202.8 853.9,2202.8 858.4,2202.8 862.9,2202.8 867.4,2202.8 871.9,2202.8 876.4,2202.8 880.9,2202.8 885.5,2202.8 890.0,2202.8 894.5,2202.8 899.0,2202.8 903.5,2202.8 908.0,2202.8 912.5,2202.8 917.1,2202.8 921.6,2202.8 926.1,2202.8 930.6,2202.8 935.1,2202.8 939.6,2202.8 944.1,2202.8 948.7,2202.8 953.2,2202.8 957.7,2202.8 962.2,2202.8 966.7,2202.8 971.2,2202.8 975.7,2202.8 980.2,2202.8 984.8,2202.8 989.3,2202.8 993.8,2202.8 998.3,2202.8 1002.8,2202.8 1007.3,2202.8 1011.8,2202.8 1016.4,2202.8 1020.9,2202.8 1025.4,2202.8 1029.9,2202.8 1034.4,2202.8 1038.9,2202.8 1043.4,2202.8 1047.9,2202.8 1052.5,2202.8 1057.0,2202.8 1061.5,2202.8 1066.0,2202.8 1070.5,2202.8 1075.0,2202.8 1079.5,2202.8 1084.1,2202.8 1088.6,2202.8 1093.1,2202.8 1097.6,2202.8 1102.1,2202.8 1106.6,2202.8 1111.1,2202.8 1115.6,2202.8 1120.2,2202.8 1124.7,2202.8 1129.2,2202.8 1133.7,2202.8 1138.2,2202.8 1142.7,2202.8 1147.2,2202.8 1151.8,2202.8 1156.3,2202.8 1160.8,2202.8 1165.3,2202.8 1169.8,2202.8 1174.3,2202.8 1178.8,2202.8 1183.4,2202.8 1187.9,2202.8 1192.4,2202.8 1196.9,2202.8 1201.4,2202.8 1205.9,2202.8 1210.4,2202.8 1214.9,2202.8 1219.5,2202.8 1224.0,2202.8 1228.5,2202.8 1233.0,2202.8 1237.5,2202.8 1242.0,2202.8 1246.5,2202.8 1251.1,2202.8 1255.6,2202.8 1260.1,2202.8 1264.6,2202.8 1269.1,2202.8 1273.6,2202.8 1278.1,2202.8 1282.6,2202.8 1287.2,2202.8 1291.7,2202.8 1296.2,2202.8 1300.7,2202.8 1305.2,2202.8 1309.7,2202.8 1314.2,2202.8 1318.8,2202.8 1323.3,2202.8 1327.8,2202.8 1332.3,2202.8 1336.8,2202.8 1341.3,2202.8 1345.8,2202.8 1350.3,2202.8 1354.9,2202.8 1359.4,2202.8 1363.9,2202.8 1368.4,2202.8 1372.9,2202.8 1377.4,2202.8 1381.9,2202.8 1386.5,2202.8 1391.0,2202.8 1395.5,2202.8 1400.0,2202.8 1404.5,2202.8 1409.0,2202.8 1413.5,2202.8 1418.1,2202.8 1422.6,2202.8 1427.1,2202.8 1431.6,2202.8 1436.1,2202.8 1440.6,2202.8 1445.1,2202.8 1449.6,2202.8 1454.2,2202.8 1458.7,2202.8 1463.2,2202.8 1467.7,2202.8 1472.2,2202.8 1476.7,2202.8 1481.2,2202.8 1485.8,2202.8 1490.3,2202.8 1494.8,2202.8 1499.3,2202.8 1503.8,2202.8 1508.3,2202.8 1512.8,2202.8 1517.3,2202.8 1521.9,2202.8 1526.4,2202.8 1530.9,2202.8 1535.4,2202.8 1539.9,2202.8 1544.4,2202.8 1548.9,2202.8 1553.5,2202.8 1558.0,2202.8 1562.5,2202.8 1567.0,2202.8 1571.5,2202.8 1576.0,2202.8 1580.5,2202.8 1585.0,2202.8 1589.6,2202.8 1594.1,2202.8 1598.6,2202.8 1603.1,2202.8 1607.6,2202.8 1612.1,2202.8 1616.6,2202.8 1621.2,2202.8 1625.7,2202.8 1630.2,2202.8 1634.7,2202.8 1639.2,2202.8 1643.7,2202.8 1648.2,2202.8 1652.8,2202.8 1657.3,2202.8 1661.8,2202.8 1666.3,2202.8 1670.8,2202.8 1675.3,2202.8 1679.8,2202.8 1684.3,2202.8 1688.9,2202.8 1693.4,2202.8 1697.9,2202.8 1702.4,2202.8 1706.9,2202.8 1711.4,2202.8 1715.9,2202.8 1720.5,2202.8 1725.0,2202.8 1729.5,2202.8 1734.0,2202.8 1738.5,2202.8 1743.0,2202.8 1747.5,2202.8 1752.0,2202.8 1756.6,2202.8 1761.1,2202.8 1765.6,2202.8 1770.1,2202.8 1774.6,2202.8 1779.1,2202.8 1783.6,2202.8 1788.2,2202.8 1792.7,2202.8 1797.2,2202.8 1801.7,2202.8 1806.2,2202.8 1810.7,2202.8 1815.2,2202.8 1819.7,2202.8 1824.3,2202.8 1828.8,2202.8 1833.3,2202.8 1837.8,2202.8 1842.3,2202.8 1846.8,2202.8 1851.3,2202.8 1855.9,2202.8 1860.4,2202.8 1864.9,2202.8 1869.4,2202.8 1873.9,2202.8 1878.4,2202.8 1882.9,2202.8 1887.5,2202.8 1892.0,2202.8 1896.5,2202.8 1901.0,2202.8 1905.5,2202.8 1910.0,2202.8 1914.5,2202.8 1919.0,2202.8 1923.6,2202.8 1928.1,2202.8 1932.6,2202.8 1937.1,2202.8 1941.6,2202.8 1946.1,2202.8 1950.6,2202.8 1955.2,2202.8 1959.7,2202.8 1964.2,2202.8 1968.7,2202.8 1973.2,2202.8 1977.7,2202.8 1982.2,2202.8 1986.7,2202.8 1991.3,2202.8 1995.8,2202.8 2000.3,2202.8 2004.8,2202.8 2009.3,2202.8 2013.8,2202.8 2018.3,2202.8 2022.9,2202.8 2027.4,2202.8 2031.9,2202.8 2036.4,2202.8 2040.9,2202.8 2045.4,2202.8 2049.9,2202.8 2052.1,2202.8" stroke="#a5a5a5"/>
<path d="M59.5,2202.8 64.0,2202.8 68.5,2202.8 73.0,2202.8 77.6,2202.8 82.1,2202.8 86.6,2202.8 91.1,2202.8 95.6,2202.8 100.1,2202.8 104.6,2202.8 109.1,2202.8 113.7,2202.8 118.2,2202.8 122.7,2202.8 127.2,2202.8 131.7,2202.8 136.2,2202.8 140.7,2202.8 145.3,2202.8 149.8,2202.7 154.3,2202.6 158.8,2202.4 163.3,2202.2 167.8,2202.1 172.3,2202.0 176.8,2201.8 181.4,2201.6 185.9,2201.3 190.4,2200.8 194.9,2200.4 199.4,2199.9 203.9,2199.7 208.4,2199.3 213.0,2198.4 217.5,2197.3 222.0,2196.0 226.5,2195.0 231.0,2194.4 235.5,2193.8 240.0,2193.1 244.6,2192.0 249.1,2190.4 253.6,2189.1 258.1,2188.0 262.6,2187.5 267.1,2186.8 271.6,2186.2 276.1,2184.9 280.7,2183.6 285.2,2182.0 289.7,2180.8 294.2,2180.0 298.7,2179.3 303.2,2178.4 307.7,2177.0 312.3,2175.4 316.8,2173.5 321.3,2172.0 325.8,2171.3 330.3,2170.6 334.8,2169.6 339.3,2168.1 343.8,2166.0 348.4,2164.2 352.9,2162.5 357.4,2161.6 361.9,2160.6 366.4,2159.6 370.9,2157.7 375.4,2155.0 380.0,2152.3 384.5,2149.8 389.0,2148.2 393.5,2146.8 398.0,2145.1 402.5,2142.5 407.0,2138.9 411.5,2136.0 416.1,2133.3 420.6,2132.2 425.1,2130.8 429.6,2129.0 434.1,2126.6 438.6,2123.4 443.1,2120.2 447.7,2117.9 452.2,2116.1 456.7,2114.9 461.2,2113.2 465.7,2110.0 470.2,2106.3 474.7,2103.0 479.3,2100.0 483.8,2098.4 488.3,2097.1 492.8,2095.3 497.3,2092.9 501.8,2090.5 506.3,2087.8 510.8,2085.7 515.4,2084.5 519.9,2083.6 524.4,2082.4 528.9,2080.0 533.4,2077.3 537.9,2075.2 542.4,2073.3 547.0,2072.0 551.5,2071.3 556.0,2070.0 560.5,2067.2 565.0,2061.8 569.5,2057.4 574.0,2050.2 578.5,2045.4 583.1,2043.3 587.6,2040.3 592.1,2035.4 596.6,2029.8 601.1,2024.4 605.6,2019.7 610.1,2017.4 614.7,2014.9 619.2,2013.3 623.7,2012.4 628.2,2011.3 632.7,2008.4 637.2,2002.0 641.7,1997.8 646.2,1994.5 650.8,1989.5 655.3,1981.4 659.8,1970.1 664.3,1968.0 668.8,1966.5 673.3,1955.8 677.8,1949.8 682.4,1942.7 686.9,1931.1 691.4,1915.3 695.9,1908.2 700.4,1891.4 704.9,1885.9 709.4,1881.5 714.0,1874.0 718.5,1869.3 723.0,1855.5 727.5,1854.3 732.0,1844.5 736.5,1839.7 741.0,1833.9 745.5,1826.7 750.1,1815.1 754.6,1809.1 759.1,1807.0 763.6,1800.6 768.1,1794.9 772.6,1791.1 777.1,1786.6 781.7,1777.8 786.2,1766.5 790.7,1754.5 795.2,1745.8 799.7,1743.5 804.2,1741.4 808.7,1738.3 813.2,1734.1 817.8,1731.4 822.3,1728.6 826.8,1722.6 831.3,1719.5 835.8,1716.1 840.3,1711.7 844.8,1705.2 849.4,1702.0 853.9,1699.8 858.4,1693.8 862.9,1690.3 867.4,1686.7 871.9,1683.2 876.4,1678.0 880.9,1674.6 885.5,1672.6 890.0,1670.3 894.5,1667.7 899.0,1665.9 903.5,1662.6 908.0,1658.4 912.5,1655.1 917.1,1653.6 921.6,1652.3 926.1,1650.3 930.6,1649.4 935.1,1647.7 939.6,1645.2 944.1,1641.8 948.7,1639.0 953.2,1636.7 957.7,1635.3 962.2,1634.5 966.7,1632.9 971.2,1630.8 975.7,1627.5 980.2,1624.6 984.8,1622.0 989.3,1620.2 993.8,1618.9 998.3,1617.4 1002.8,1614.9 1007.3,1612.2 1011.8,1610.1 1016.4,1608.4 1020.9,1607.1 1025.4,1606.5 1029.9,1605.6 1034.4,1604.2 1038.9,1603.2 1043.4,1602.4 1047.9,1601.7 1052.5,1601.3 1057.0,1600.9 1061.5,1600.5 1066.0,1598.8 1070.5,1597.4 1075.0,1597.4 1079.5,1597.4 1084.1,1596.6 1088.6,1595.9 1093.1,1594.8 1097.6,1593.1 1102.1,1591.7 1106.6,1590.6 1111.1,1589.0 1115.6,1587.8 1120.2,1587.1 1124.7,1586.0 1129.2,1585.5 1133.7,1584.9 1138.2,1583.8 1142.7,1582.5 1147.2,1581.7 1151.8,1581.2 1156.3,1580.2 1160.8,1578.7 1165.3,1574.1 1169.8,1574.1 1174.3,1569.9 1178.8,1567.5 1183.4,1565.1 1187.9,1562.9 1192.4,1559.6 1196.9,1556.1 1201.4,1555.4 1205.9,1552.9 1210.4,1550.7 1214.9,1548.8 1219.5,1546.8 1224.0,1544.3 1228.5,1541.1 1233.0,1540.5 1237.5,1538.4 1242.0,1536.4 1246.5,1534.4 1251.1,1531.2 1255.6,1527.3 1260.1,1525.2 1264.6,1523.8 1269.1,1520.0 1273.6,1517.0 1278.1,1515.2 1282.6,1513.6 1287.2,1508.9 1291.7,1504.9 1296.2,1503.3 1300.7,1499.3 1305.2,1495.9 1309.7,1493.8 1314.2,1488.9 1318.8,1482.2 1323.3,1475.6 1327.8,1470.9 1332.3,1470.0 1336.8,1464.3 1341.3,1456.6 1345.8,1450.6 1350.3,1443.5 1354.9,1431.5 1359.4,1416.5 1363.9,1404.0 1368.4,1396.6 1372.9,1391.1 1377.4,1383.3 1381.9,1371.8 1386.5,1364.7 1391.0,1359.9 1395.5,1345.2 1400.0,1336.7 1404.5,1330.0 1409.0,1322.0 1413.5,1317.6 1418.1,1316.8 1422.6,1306.3 1427.1,1290.8 1431.6,1282.2 1436.1,1274.0 1440.6,1262.3 1445.1,1251.2 1449.6,1249.7 1454.2,1241.6 1458.7,1219.5 1461.0,1220.4 1467.0,1191.1 1472.2,1177.5 1476.7,1159.2 1481.2,1147.4 1485.8,1134.9 1490.3,1110.1 1492.3,1113.0 1498.3,1080.7 1499.3,1082.2 1504.6,1055.9 1510.6,1021.3 1512.8,1020.6 1517.3,1018.8 1521.9,1011.8 1526.4,999.4 1530.9,985.6 1535.4,956.6 1539.9,937.4 1544.4,920.6 1548.9,917.9 1553.5,895.2 1558.0,880.8 1562.5,866.0 1567.0,851.1 1571.5,829.6 1576.0,826.3 1580.5,822.3 1585.0,796.3 1589.6,781.1 1594.1,770.8 1598.6,760.5 1603.1,743.6 1607.6,729.9 1612.1,727.0 1616.6,707.8 1621.2,690.8 1625.7,685.5 1630.2,673.3 1634.7,642.2 1639.2,631.7 1643.7,629.7 1648.2,625.4 1653.4,622.5 1659.7,596.2 1661.8,595.6 1666.3,583.2 1670.8,580.3 1675.3,573.7 1679.8,563.2 1684.3,554.7 1688.9,548.1 1693.4,542.0 1697.9,529.7 1702.4,522.8 1706.9,521.0 1711.4,509.8 1715.9,503.1 1720.5,500.2 1725.0,496.4 1729.5,490.4 1734.0,487.3 1738.5,487.3 1743.0,485.2 1747.5,481.0 1752.0,478.4 1756.6,473.3 1761.1,466.5 1765.6,463.2 1770.1,461.9 1774.6,460.6 1779.1,457.8 1783.6,455.0 1788.2,452.2 1792.7,447.2 1797.2,442.1 1801.7,438.7 1806.2,435.7 1810.7,434.0 1815.2,432.0 1819.7,430.3 1824.3,427.1 1828.8,425.5 1833.3,424.3 1837.8,422.8 1842.3,421.6 1846.8,420.4 1851.3,418.9 1855.9,418.6 1860.4,418.1 1864.9,417.7 1869.4,416.9 1873.9,414.5 1878.4,413.0 1882.9,411.2 1887.5,410.0 1892.0,408.5 1896.5,407.0 1901.0,405.8 1905.5,405.0 1910.0,404.0 1914.5,401.2 1919.0,400.2 1923.6,400.0 1928.1,397.5 1932.6,395.9 1937.1,394.9 1941.6,394.0 1946.1,392.8 1950.6,390.9 1955.2,389.3 1959.7,388.0 1964.2,387.1 1968.7,386.5 1973.2,385.9 1977.7,385.4 1982.2,384.2 1986.7,382.5 1991.3,381.0 1995.8,379.7 2000.3,378.9 2004.8,378.4 2009.3,377.5 2013.8,376.5 2018.3,375.3 2022.9,374.3 2027.4,373.3 2031.9,372.7 2036.4,372.3 2040.9,371.6 2045.4,370.3 2049.9,368.5 2052.1,367.9" stroke="#ffc000"/>
<path d="M59.5,2202.8 64.0,2202.8 68.5,2202.8 73.0,2202.8 77.6,2202.8 82.1,2202.8 86.6,2202.8 91.1,2202.8 95.6,2202.8 100.1,2202.8 104.6,2202.8 109.1,2202.8 113.7,2202.8 118.2,2202.8 122.7,2202.8 127.2,2202.8 131.7,2202.8 136.2,2202.8 140.7,2202.8 145.3,2202.8 149.8,2202.7 154.3,2202.6 158.8,2202.4 163.3,2202.2 167.8,2202.1 172.3,2201.9 176.8,2201.8 181.4,2201.6 185.9,2201.3 190.4,2201.0 194.9,2200.7 199.4,2200.4 203.9,2200.3 208.4,2199.9 213.0,2199.5 217.5,2199.0 222.0,2198.4 226.5,2198.0 231.0,2197.6 235.5,2197.3 240.0,2196.9 244.6,2196.3 249.1,2195.8 253.6,2195.2 258.1,2194.8 262.6,2194.4 267.1,2194.1 271.6,2193.8 276.1,2193.2 280.7,2192.7 285.2,2192.1 289.7,2191.7 294.2,2191.3 298.7,2190.9 303.2,2190.6 307.7,2190.0 312.3,2189.5 316.8,2188.8 321.3,2188.4 325.8,2187.9 330.3,2187.6 334.8,2187.1 339.3,2186.5 343.8,2185.8 348.4,2185.2 352.9,2184.6 357.4,2184.0 361.9,2183.6 366.4,2183.1 370.9,2182.4 375.4,2181.7 380.0,2180.9 384.5,2180.2 389.0,2179.8 393.5,2179.4 398.0,2178.9 402.5,2178.3 407.0,2177.6 411.5,2177.0 416.1,2176.5 420.6,2176.1 425.1,2175.7 429.6,2175.3 434.1,2174.7 438.6,2174.1 443.1,2173.4 447.7,2173.0 452.2,2172.6 456.7,2172.1 461.2,2171.7 465.7,2171.0 470.2,2170.1 474.7,2169.4 479.3,2168.7 483.8,2168.0 488.3,2167.6 492.8,2167.0 497.3,2166.0 501.8,2165.0 506.3,2163.9 510.8,2163.1 515.4,2162.3 519.9,2161.6 524.4,2160.8 528.9,2159.8 533.4,2158.5 537.9,2157.2 542.4,2155.8 547.0,2154.6 551.5,2153.7 556.0,2152.4 560.5,2150.9 565.0,2148.8 569.5,2146.9 574.0,2145.0 578.5,2143.6 583.1,2142.6 587.6,2141.1 592.1,2139.4 596.6,2137.3 601.1,2135.7 605.6,2134.2 610.1,2133.3 614.7,2132.4 619.2,2131.5 623.7,2130.1 628.2,2128.8 632.7,2127.5 637.2,2126.5 641.7,2125.7 646.2,2125.0 650.8,2124.0 655.3,2123.0 659.8,2121.8 664.3,2120.6 668.8,2119.6 673.3,2118.8 677.8,2118.3 682.4,2117.5 686.9,2116.6 691.4,2115.4 695.9,2113.9 700.4,2112.5 704.9,2111.5 709.4,2110.5 714.0,2109.1 718.5,2107.2 723.0,2104.7 727.5,2102.4 732.0,2100.7 736.5,2099.2 741.0,2097.8 745.5,2096.4 750.1,2094.4 754.6,2092.0 759.1,2089.3 763.6,2087.1 768.1,2085.5 772.6,2083.9 777.1,2081.3 781.7,2078.5 786.2,2074.6 790.7,2071.0 795.2,2068.3 799.7,2066.3 804.2,2064.5 808.7,2062.0 813.2,2059.0 817.8,2055.6 822.3,2052.6 826.8,2050.1 831.3,2047.6 835.8,2045.6 840.3,2042.4 844.8,2038.6 849.4,2034.1 853.9,2029.4 858.4,2025.7 862.9,2022.7 867.4,2020.3 871.9,2016.9 876.4,2013.2 880.9,2007.6 885.5,2000.6 890.0,1994.1 894.5,1989.1 899.0,1986.8 903.5,1983.9 908.0,1979.4 912.5,1974.8 917.1,1971.8 921.6,1969.8 926.1,1968.6 930.6,1967.1 935.1,1965.6 939.6,1964.0 944.1,1962.6 948.7,1961.3 951.1,1960.9 953.9,1919.6 957.7,1914.2 962.2,1910.7 966.7,1906.6 971.2,1902.9 975.7,1897.8 980.2,1892.4 984.8,1889.0 989.3,1885.3 993.8,1882.2 998.3,1878.8 1002.8,1874.3 1007.3,1868.9 1011.8,1863.9 1016.4,1859.9 1020.9,1857.0 1025.4,1854.8 1029.9,1851.7 1034.4,1847.5 1038.9,1843.3 1043.4,1838.5 1047.9,1834.9 1052.5,1831.4 1057.0,1829.1 1061.5,1825.6 1066.0,1821.7 1070.5,1816.8 1075.0,1812.1 1079.5,1808.5 1084.1,1806.1 1088.6,1802.8 1093.1,1799.7 1097.6,1796.3 1102.1,1791.5 1106.6,1786.6 1111.1,1782.1 1115.6,1778.9 1120.2,1776.5 1124.7,1773.0 1129.2,1767.7 1133.7,1762.4 1138.2,1755.7 1142.7,1750.7 1147.2,1746.2 1151.8,1742.4 1156.3,1737.1 1160.8,1729.9 1165.3,1720.6 1169.8,1713.7 1174.3,1708.8 1178.8,1705.2 1183.4,1702.2 1187.9,1699.3 1192.4,1694.7 1196.9,1689.7 1201.4,1682.5 1205.9,1676.8 1210.4,1672.8 1214.9,1669.0 1219.5,1665.4 1224.0,1660.1 1228.5,1655.3 1233.0,1646.5 1237.5,1638.8 1242.0,1631.8 1246.5,1628.1 1251.1,1623.4 1255.6,1617.8 1260.1,1611.7 1264.6,1605.7 1269.1,1600.8 1273.6,1596.4 1278.1,1592.5 1282.6,1586.9 1287.2,1579.7 1291.7,1572.9 1296.2,1565.4 1300.7,1560.5 1305.2,1556.2 1309.7,1551.2 1314.2,1545.5 1318.8,1539.2 1323.3,1530.4 1327.8,1521.1 1332.3,1513.5 1336.8,1508.6 1341.3,1501.8 1345.8,1492.5 1350.3,1483.1 1354.9,1463.4 1359.4,1444.5 1363.9,1436.9 1368.4,1430.8 1372.9,1422.5 1377.4,1413.7 1381.9,1403.9 1386.5,1392.3 1391.0,1380.9 1395.5,1373.8 1400.0,1368.3 1404.5,1363.8 1409.0,1357.2 1413.5,1348.8 1418.1,1341.8 1422.6,1329.6 1427.1,1318.3 1431.6,1312.8 1436.1,1306.1 1440.6,1292.9 1445.1,1284.9 1449.6,1272.2 1454.2,1262.3 1458.7,1252.1 1463.2,1246.3 1467.7,1236.7 1472.2,1228.2 1476.7,1217.6 1481.2,1209.3 1485.8,1205.0 1490.3,1199.7 1494.8,1195.4 1499.3,1191.1 1503.8,1187.3 1508.3,1181.4 1512.8,1174.1 1517.3,1167.8 1520.7,1164.8 1524.8,1117.5 1526.4,1112.3 1530.9,1106.6 1535.4,1098.2 1539.9,1088.3 1544.4,1076.3 1548.9,1066.9 1553.5,1058.0 1558.0,1052.1 1562.5,1046.4 1567.0,1041.2 1571.5,1033.4 1576.0,1023.9 1580.5,995.6 1585.0,972.9 1589.6,959.6 1594.1,956.5 1598.6,951.9 1603.1,947.0 1607.6,940.2 1612.1,931.4 1616.6,922.0 1621.2,916.1 1625.7,909.1 1630.2,902.4 1634.7,896.4 1639.2,891.7 1643.7,888.1 1648.2,885.4 1652.8,883.0 1657.3,880.8 1661.8,877.5 1666.3,874.4 1670.8,871.2 1675.3,869.2 1679.8,865.2 1684.3,859.5 1688.9,857.8 1693.4,855.7 1697.9,853.3 1699.9,852.3 1704.9,893.6 1706.9,893.3 1711.4,892.9 1715.9,891.7 1720.5,890.6 1725.0,883.0 1729.5,869.0 1734.0,859.8 1738.5,859.8 1743.0,859.8 1747.5,859.4 1752.0,855.1 1756.6,850.3 1761.1,845.0 1765.6,839.5 1770.1,836.4 1774.6,834.1 1779.1,832.0 1783.6,830.6 1788.2,828.6 1792.7,826.2 1797.2,822.6 1801.7,819.1 1806.2,815.8 1810.7,814.1 1815.2,812.6 1819.7,810.7 1824.3,808.1 1828.8,807.6 1833.3,806.6 1837.8,802.8 1842.3,799.8 1846.8,797.8 1851.3,796.6 1855.9,796.1 1860.4,795.6 1864.9,794.5 1869.4,793.0 1873.9,792.0 1878.4,790.7 1882.9,789.3 1887.5,787.9 1892.0,785.9 1896.5,784.2 1901.0,782.6 1905.5,781.5 1910.0,780.7 1914.5,779.9 1919.0,778.9 1923.6,777.7 1928.1,776.6 1932.6,776.0 1937.1,775.4 1941.6,775.0 1946.1,774.3 1950.6,774.2 1955.2,774.2 1959.7,774.2 1964.2,774.2 1968.7,773.7 1973.2,773.0 1977.7,772.3 1982.2,771.4 1986.7,770.4 1991.3,769.3 1995.8,768.4 2000.3,767.9 2004.8,767.2 2009.3,766.5 2013.8,765.3 2018.3,763.8 2022.9,762.3 2027.4,761.1 2031.9,760.1 2036.4,759.5 2040.9,758.4 2045.4,758.1 2049.9,757.8 2052.1,757.7" stroke="#5b9bd5"/>
<path d="M59.5,2202.8 64.0,2202.8 68.5,2202.8 73.0,2202.8 77.6,2202.8 82.1,2202.8 86.6,2202.8 91.1,2202.8 95.6,2202.8 100.1,2202.8 104.6,2202.8 109.1,2202.8 113.7,2202.8 118.2,2202.8 122.7,2202.8 127.2,2202.8 131.7,2202.8 136.2,2202.7 140.7,2202.7 145.3,2202.6 149.8,2202.4 154.3,2202.2 158.8,2201.9 163.3,2201.6 167.8,2201.4 172.3,2201.2 176.8,2200.9 181.4,2200.6 185.9,2200.1 190.4,2199.6 194.9,2199.2 199.4,2198.8 203.9,2198.6 208.4,2198.2 213.0,2197.5 217.5,2196.4 222.0,2195.2 226.5,2194.1 231.0,2193.2 235.5,2192.7 240.0,2191.8 244.6,2190.6 249.1,2189.1 253.6,2187.4 258.1,2186.3 262.6,2185.5 267.1,2184.7 271.6,2183.9 276.1,2182.5 280.7,2180.5 285.2,2178.7 289.7,2177.1 294.2,2176.0 298.7,2175.2 303.2,2174.0 307.7,2172.2 312.3,2170.4 316.8,2168.3 321.3,2166.5 325.8,2165.6 330.3,2164.7 334.8,2163.5 339.3,2162.0 343.8,2160.0 348.4,2158.1 352.9,2156.3 357.4,2155.0 361.9,2154.2 366.4,2153.2 370.9,2151.8 375.4,2149.7 380.0,2147.6 384.5,2146.0 389.0,2145.1 393.5,2144.1 398.0,2143.2 402.5,2141.7 407.0,2140.0 411.5,2138.2 416.1,2136.6 420.6,2135.9 425.1,2135.1 429.6,2134.0 434.1,2132.8 438.6,2131.0 443.1,2129.3 447.7,2127.9 452.2,2127.0 456.7,2126.3 461.2,2125.4 465.7,2124.1 470.2,2122.6 474.7,2120.8 479.3,2119.5 483.8,2118.7 488.3,2118.2 492.8,2117.3 497.3,2116.0 501.8,2114.6 506.3,2112.9 510.8,2111.8 515.4,2110.8 519.9,2110.2 524.4,2109.4 528.9,2108.2 533.4,2106.8 537.9,2105.0 542.4,2104.0 547.0,2103.1 551.5,2102.4 556.0,2101.7 560.5,2100.4 565.0,2099.0 569.5,2097.4 574.0,2096.1 578.5,2095.3 583.1,2094.6 587.6,2093.8 592.1,2092.5 596.6,2090.8 601.1,2089.1 605.6,2087.6 610.1,2086.7 614.7,2085.8 619.2,2084.7 623.7,2083.1 628.2,2080.9 632.7,2078.7 637.2,2076.9 641.7,2075.6 646.2,2074.5 650.8,2073.5 655.3,2071.5 659.8,2068.9 664.3,2066.5 668.8,2064.4 673.3,2063.0 677.8,2061.6 682.4,2060.0 686.9,2057.4 691.4,2054.3 695.9,2051.5 700.4,2049.0 704.9,2047.0 709.4,2045.5 714.0,2044.1 718.5,2042.1 723.0,2039.6 727.5,2037.2 732.0,2034.5 736.5,2033.1 741.0,2031.6 745.5,2030.1 750.1,2027.9 754.6,2025.4 759.1,2022.4 763.6,2017.8 768.1,2014.9 772.6,2012.3 777.1,2009.8 781.7,2007.2 786.2,2003.2 790.7,1999.7 795.2,1996.6 799.7,1994.5 804.2,1993.0 808.7,1991.9 813.2,1990.2 817.8,1989.5 822.3,1989.2 826.8,1985.1 831.3,1982.2 835.8,1980.6 840.3,1978.2 844.8,1975.3 849.4,1971.6 853.9,1967.8 858.4,1966.0 862.9,1964.8 867.4,1963.8 871.9,1962.6 876.4,1960.7 880.9,1957.6 885.5,1954.6 890.0,1951.6 894.5,1949.9 899.0,1948.8 903.5,1946.4 908.0,1943.9 912.5,1941.2 917.1,1939.0 921.6,1937.5 926.1,1936.3 930.6,1935.5 935.1,1934.7 939.6,1933.1 944.1,1930.4 948.7,1927.9 953.2,1925.9 957.7,1924.8 962.2,1924.2 966.7,1923.3 971.2,1921.7 975.7,1919.9 980.2,1918.0 984.8,1916.7 989.3,1915.5 993.8,1914.8 998.3,1913.7 1002.8,1912.5 1007.3,1910.7 1011.8,1908.9 1016.4,1907.4 1020.9,1906.4 1025.4,1905.6 1029.9,1904.6 1034.4,1903.1 1038.9,1900.8 1043.4,1898.0 1047.9,1895.4 1052.5,1894.2 1057.0,1893.5 1061.5,1892.0 1066.0,1890.5 1070.5,1888.5 1075.0,1886.6 1079.5,1885.1 1084.1,1884.3 1088.6,1883.5 1093.1,1882.7 1097.6,1881.3 1102.1,1879.9 1106.6,1878.4 1111.1,1877.2 1115.6,1876.2 1120.2,1875.7 1124.7,1875.0 1129.2,1873.8 1133.7,1872.7 1138.2,1871.2 1142.7,1870.3 1147.2,1869.7 1151.8,1869.0 1156.3,1868.4 1160.8,1867.5 1165.3,1866.3 1169.8,1865.1 1174.3,1864.4 1178.8,1863.8 1183.4,1863.3 1187.9,1862.9 1192.4,1862.1 1196.9,1861.1 1201.4,1860.2 1205.9,1859.4 1210.4,1858.8 1214.9,1858.5 1219.5,1857.8 1224.0,1856.9 1228.5,1855.8 1233.0,1854.5 1237.5,1853.5 1242.0,1852.8 1246.5,1852.5 1251.1,1851.6 1255.6,1850.7 1260.1,1849.4 1264.6,1847.9 1269.1,1846.7 1273.6,1845.8 1278.1,1845.1 1282.6,1844.2 1287.2,1842.8 1291.7,1841.1 1296.2,1838.8 1300.7,1837.3 1305.2,1835.7 1309.7,1834.7 1314.2,1833.1 1318.8,1831.0 1323.3,1827.4 1327.8,1823.8 1332.3,1821.1 1336.8,1818.8 1341.3,1816.8 1345.8,1814.8 1350.3,1811.3 1354.9,1807.1 1359.4,1801.8 1363.9,1798.4 1368.4,1795.2 1372.9,1793.1 1377.4,1789.7 1381.9,1784.4 1386.5,1777.5 1391.0,1769.5 1395.5,1764.2 1400.0,1760.8 1404.5,1758.5 1409.0,1755.1 1413.5,1750.6 1418.1,1744.3 1422.6,1738.1 1427.1,1729.5 1431.6,1725.5 1436.1,1719.6 1440.6,1715.1 1445.1,1710.2 1449.6,1702.0 1454.2,1689.6 1458.7,1680.1 1463.2,1670.3 1467.7,1664.5 1472.2,1658.3 1476.7,1648.0 1481.2,1636.8 1485.8,1625.6 1490.3,1614.1 1494.8,1606.0 1499.3,1598.1 1503.8,1589.1 1508.3,1578.3 1512.8,1568.1 1517.3,1559.2 1521.9,1545.5 1526.4,1535.3 1530.9,1527.8 1535.4,1518.8 1539.9,1507.7 1544.4,1495.4 1548.9,1487.7 1553.5,1474.3 1558.0,1464.1 1562.5,1458.5 1567.0,1450.0 1571.5,1439.9 1576.0,1427.7 1580.5,1415.4 1585.0,1405.2 1589.6,1396.4 1594.1,1390.0 1598.6,1383.8 1603.1,1374.1 1607.6,1362.2 1612.1,1354.8 1616.6,1343.7 1621.2,1336.8 1625.7,1331.1 1630.2,1324.0 1634.7,1317.4 1639.2,1308.6 1643.7,1306.1 1648.2,1297.3 1652.8,1294.0 1657.3,1291.3 1661.8,1287.4 1666.3,1279.2 1670.8,1267.8 1675.3,1260.6 1679.8,1251.2 1684.3,1241.5 1688.9,1233.8 1693.4,1228.1 1697.9,1219.8 1702.4,1214.3 1706.9,1208.2 1711.4,1201.9 1715.9,1197.4 1720.5,1194.0 1725.0,1188.3 1729.5,1180.2 1734.0,1173.2 1738.5,1168.4 1743.0,1164.6 1747.5,1161.6 1752.0,1158.6 1756.6,1154.3 1761.1,1149.7 1765.6,1143.4 1770.1,1137.7 1774.6,1132.8 1779.1,1129.7 1783.6,1127.3 1788.2,1123.5 1792.7,1117.3 1797.2,1115.4 1801.7,1113.0 1806.2,1108.8 1810.7,1104.8 1815.2,1102.2 1819.7,1099.1 1824.3,1094.6 1828.8,1089.8 1833.3,1085.9 1837.8,1083.3 1842.3,1081.1 1846.8,1078.2 1851.3,1074.2 1855.9,1071.9 1860.4,1069.9 1864.9,1067.5 1869.4,1065.1 1873.9,1063.6 1878.4,1062.3 1882.9,1060.8 1887.5,1058.5 1892.0,1055.9 1896.5,1053.5 1901.0,1051.3 1905.5,1049.7 1910.0,1047.5 1914.5,1045.1 1919.0,1044.1 1923.6,1043.3 1928.1,1041.6 1932.6,1040.1 1937.1,1038.9 1941.6,1037.9 1946.1,1036.9 1950.6,1036.0 1955.2,1035.3 1959.7,1034.6 1964.2,1034.0 1968.7,1032.9 1973.2,1032.0 1977.7,1030.6 1982.2,1028.8 1986.7,1026.4 1991.3,1025.4 1995.8,1024.4 2000.3,1023.9 2004.8,1023.5 2009.3,1022.8 2013.8,1021.4 2018.3,1019.8 2022.9,1018.2 2027.4,1017.1 2031.9,1016.5 2036.4,1015.8 2040.9,1015.2 2045.4,1014.0 2049.9,1012.7 2052.1,1012.3" stroke="#70ad47"/>
<path d="M59.5,2202.8 64.0,2202.8 68.5,2202.8 73.0,2202.8 77.6,2202.8 82.1,2202.8 86.6,2202.8 91.1,2202.8 95.6,2202.8 100.1,2202.8 104.6,2202.8 109.1,2202.8 113.7,2202.8 118.2,2202.8 122.7,2202.8 127.2,2202.8 131.7,2202.8 136.2,2202.7 140.7,2202.4 145.3,2202.1 149.8,2201.8 154.3,2201.5 158.8,2200.9 163.3,2200.2 167.8,2199.2 172.3,2198.1 176.8,2197.0 181.4,2196.3 185.9,2195.6 190.4,2194.8 194.9,2193.4 199.4,2192.1 203.9,2189.9 208.4,2187.8 213.0,2186.4 217.5,2184.4 222.0,2182.5 226.5,2179.1 231.0,2175.4 235.5,2172.1 240.0,2169.2 244.6,2166.5 249.1,2164.8 253.6,2162.0 258.1,2159.0 262.6,2154.8 267.1,2149.8 271.6,2146.2 276.1,2143.5 280.7,2140.9 285.2,2138.0 289.7,2132.6 294.2,2125.1 298.7,2115.9 303.2,2111.9 307.7,2108.0 312.3,2105.3 316.8,2102.4 321.3,2098.8 325.8,2095.0 330.3,2090.7 334.8,2088.5 339.3,2086.8 343.8,2085.3 348.4,2083.5 352.9,2081.6 357.4,2079.5 361.9,2077.7 366.4,2076.5 370.9,2075.4 375.4,2074.3 380.0,2072.7 384.5,2070.1 389.0,2063.9 393.5,2058.7 398.0,2053.2 402.5,2048.7 407.0,2046.3 411.5,2044.0 416.1,2040.7 420.6,2034.6 425.1,2031.7 429.6,2030.7 434.1,2030.0 438.6,2029.4 443.1,2028.6 447.7,2027.2 452.2,2022.8 456.7,2019.5 461.2,2017.1 465.7,2015.3 470.2,2014.0 474.7,2011.9 479.3,2010.0 483.8,2008.0 488.3,2006.3 492.8,2004.7 497.3,2003.3 501.8,2002.2 506.3,2000.8 510.8,1999.3 515.4,1996.8 519.9,1995.2 524.4,1993.7 528.9,1992.8 533.4,1991.8 537.9,1990.9 542.4,1990.6 547.0,1990.1 551.5,1989.7 556.0,1989.2 560.5,1988.8 565.0,1988.3 569.5,1987.7 574.0,1987.0 578.5,1986.2 583.1,1985.6 587.6,1985.1 592.1,1984.7 596.6,1984.4 601.1,1984.0 605.6,1983.4 610.1,1982.7 614.7,1982.1 619.2,1982.0 623.7,1982.0 628.2,1982.0 632.7,1982.0 637.2,1982.0 641.7,1981.2 646.2,1980.1 650.8,1979.3 655.3,1978.9 659.8,1978.4 664.3,1977.9 668.8,1977.1 673.3,1976.5 677.8,1976.1 682.4,1975.7 686.9,1975.5 691.4,1975.2 695.9,1974.6 700.4,1973.4 704.9,1972.1 709.4,1970.7 714.0,1970.2 718.5,1969.8 723.0,1969.5 727.5,1969.1 732.0,1968.6 736.5,1966.9 741.0,1965.3 745.5,1963.8 750.1,1963.0 754.6,1962.4 759.1,1962.3 763.6,1962.1 768.1,1961.8 772.6,1961.3 777.1,1960.2 781.7,1959.5 786.2,1958.9 790.7,1958.1 795.2,1957.1 799.7,1956.9 804.2,1956.7 808.7,1956.5 813.2,1956.4 817.8,1955.9 822.3,1955.4 826.8,1954.6 831.3,1953.8 835.8,1952.9 840.3,1952.2 844.8,1951.7 849.4,1951.3 853.9,1950.7 858.4,1950.3 862.9,1950.1 867.4,1949.9 871.9,1949.7 876.4,1949.5 880.9,1949.3 885.5,1949.0 890.0,1948.6 894.5,1948.2 899.0,1948.0 903.5,1947.8 908.0,1947.7 912.5,1947.6 917.1,1947.4 921.6,1946.6 926.1,1945.7 930.6,1944.9 935.1,1944.3 939.6,1943.9 944.1,1943.6 948.7,1943.2 953.2,1942.6 957.7,1942.0 962.2,1941.3 966.7,1940.8 971.2,1940.4 975.7,1940.2 980.2,1939.7 984.8,1938.9 989.3,1938.0 993.8,1937.1 998.3,1936.8 1002.8,1936.7 1007.3,1936.6 1011.8,1936.4 1016.4,1936.2 1020.9,1935.6 1025.4,1934.7 1029.9,1934.0 1034.4,1933.5 1038.9,1933.1 1043.4,1932.9 1047.9,1932.6 1052.5,1931.7 1057.0,1930.5 1061.5,1929.5 1066.0,1928.7 1070.5,1928.0 1075.0,1927.0 1079.5,1925.2 1084.1,1923.6 1088.6,1922.7 1093.1,1921.6 1097.6,1920.7 1102.1,1920.0 1106.6,1919.0 1111.1,1917.7 1115.6,1916.4 1120.2,1915.4 1124.7,1914.5 1129.2,1913.9 1133.7,1913.4 1138.2,1912.6 1142.7,1911.5 1147.2,1909.4 1151.8,1907.4 1156.3,1906.5 1160.8,1905.9 1165.3,1905.5 1169.8,1904.4 1174.3,1903.1 1178.8,1899.2 1183.4,1895.7 1187.9,1892.9 1192.4,1890.9 1196.9,1889.2 1201.4,1887.3 1205.9,1883.9 1210.4,1880.7 1214.9,1876.9 1219.5,1874.5 1224.0,1872.3 1228.5,1870.6 1233.0,1868.4 1237.5,1865.2 1242.0,1861.3 1246.5,1857.0 1251.1,1853.7 1255.6,1851.3 1260.1,1848.4 1264.6,1845.7 1269.1,1841.7 1273.6,1836.8 1278.1,1831.1 1282.6,1821.7 1287.2,1814.8 1291.7,1809.5 1296.2,1801.2 1300.7,1790.8 1305.2,1779.4 1309.7,1767.0 1314.2,1760.7 1318.8,1754.4 1323.3,1750.1 1327.8,1744.8 1332.3,1736.8 1336.8,1725.0 1341.3,1713.6 1345.8,1703.2 1350.3,1697.1 1354.9,1689.9 1359.4,1681.0 1363.9,1672.9 1368.4,1664.7 1372.9,1654.8 1377.4,1649.2 1381.9,1644.3 1386.5,1640.3 1391.0,1636.8 1395.5,1633.6 1400.0,1626.7 1404.5,1615.6 1409.0,1611.8 1413.5,1609.0 1418.1,1606.8 1422.6,1604.0 1427.1,1598.1 1431.6,1588.3 1436.1,1580.3 1440.6,1573.3 1445.1,1568.2 1449.6,1564.5 1454.2,1561.4 1458.7,1558.0 1463.2,1549.5 1467.7,1540.2 1472.2,1535.2 1476.7,1531.7 1481.2,1528.1 1485.8,1524.7 1490.3,1522.6 1494.8,1517.8 1499.3,1513.3 1503.8,1509.1 1508.3,1506.7 1512.8,1504.4 1517.3,1502.7 1521.9,1500.4 1526.4,1497.2 1530.9,1493.7 1535.4,1491.1 1539.9,1489.9 1544.4,1488.7 1548.9,1487.2 1553.5,1484.8 1558.0,1480.5 1562.5,1477.4 1567.0,1474.7 1571.5,1473.8 1576.0,1472.4 1580.5,1471.0 1585.0,1468.8 1589.6,1466.6 1594.1,1464.3 1598.6,1462.4 1603.1,1461.3 1607.6,1459.9 1612.1,1458.5 1616.6,1456.8 1621.2,1453.9 1625.7,1450.5 1630.2,1448.3 1634.7,1447.1 1639.2,1446.1 1643.7,1444.8 1648.2,1443.3 1652.8,1441.5 1657.3,1440.1 1661.8,1439.0 1666.3,1438.1 1670.8,1437.6 1675.3,1436.6 1679.8,1435.6 1684.3,1433.7 1688.9,1432.0 1693.4,1430.3 1697.9,1429.1 1702.4,1428.4 1706.9,1427.9 1711.4,1427.2 1715.9,1426.2 1720.5,1425.1 1725.0,1424.1 1729.5,1423.9 1734.0,1423.9 1738.5,1423.9 1743.0,1423.8 1747.5,1422.1 1752.0,1419.9 1756.6,1417.1 1761.1,1414.9 1765.6,1413.9 1770.1,1412.7 1774.6,1408.3 1779.1,1406.4 1783.6,1405.2 1788.2,1403.8 1792.7,1403.4 1797.2,1403.1 1801.7,1402.6 1806.2,1400.7 1810.7,1398.3 1815.2,1398.0 1819.7,1397.7 1824.3,1397.4 1828.8,1396.7 1833.3,1395.9 1837.8,1394.1 1842.3,1392.0 1846.8,1390.1 1851.3,1390.1 1855.9,1390.1 1860.4,1390.1 1864.9,1389.9 1869.4,1388.3 1873.9,1386.3 1878.4,1384.1 1882.9,1383.3 1887.5,1383.3 1892.0,1383.3 1896.5,1383.3 1901.0,1381.8 1905.5,1380.3 1910.0,1379.8 1914.5,1379.5 1919.0,1379.3 1923.6,1379.1 1928.1,1378.4 1932.6,1376.8 1937.1,1374.9 1941.6,1372.9 1946.1,1371.8 1950.6,1371.3 1955.2,1370.9 1959.7,1370.3 1964.2,1369.6 1968.7,1368.3 1973.2,1366.8 1977.7,1365.5 1982.2,1364.8 1986.7,1363.9 1991.3,1363.0 1995.8,1361.7 2000.3,1360.3 2004.8,1358.7 2009.3,1357.4 2013.8,1356.3 2018.3,1355.4 2022.9,1354.5 2027.4,1353.0 2031.9,1351.5 2036.4,1349.9 2040.9,1349.4 2045.4,1349.2 2049.9,1348.9 2052.1,1348.8" stroke="#264478"/>
<path d="M59.5,2202.8 64.0,2202.8 68.5,2202.8 73.0,2202.8 77.6,2202.8 82.1,2202.8 86.6,2202.8 91.1,2202.8 95.6,2202.8 100.1,2202.8 104.6,2202.8 109.1,2202.8 113.7,2202.8 118.2,2202.8 122.7,2202.8 127.2,2202.8 131.7,2202.8 136.2,2202.8 140.7,2202.7 145.3,2202.6 149.8,2202.5 154.3,2202.3 158.8,2202.1 163.3,2201.8 167.8,2201.3 172.3,2200.9 176.8,2200.6 181.4,2200.0 185.9,2199.2 190.4,2198.0 194.9,2195.8 199.4,2193.7 203.9,2192.2 208.4,2188.2 213.0,2181.4 217.5,2169.6 222.0,2166.0 226.5,2149.3 231.0,2133.1 235.5,2122.0 240.0,2115.5 244.6,2109.6 249.1,2098.1 253.6,2082.6 258.1,2060.1 260.8,2056.3 265.2,2016.5 267.1,1998.0 271.6,1991.2 276.1,1984.7 280.7,1975.9 283.8,1967.7 285.1,1937.7 289.7,1905.8 294.2,1880.4 298.7,1858.5 303.2,1845.3 307.7,1828.6 312.3,1807.6 316.8,1778.8 321.3,1749.8 325.8,1727.9 330.3,1715.9 334.8,1707.5 339.3,1700.6 343.8,1695.3 348.4,1686.7 352.9,1656.4 357.4,1634.6 361.9,1620.4 366.4,1613.8 370.9,1602.4 375.4,1589.5 380.0,1579.5 384.5,1570.2 389.0,1551.9 393.5,1541.1 398.0,1532.4 402.5,1520.6 407.0,1508.5 411.5,1494.9 416.1,1481.0 420.6,1467.3 425.1,1457.0 429.6,1450.0 434.1,1444.5 438.6,1435.4 443.1,1424.7 447.7,1412.8 452.2,1404.6 456.7,1400.5 461.2,1395.3 465.7,1392.3 470.2,1386.4 474.7,1379.6 479.3,1374.8 483.8,1370.9 488.3,1368.3 492.8,1366.3 497.3,1363.6 501.8,1358.6 506.3,1352.7 510.8,1345.7 515.4,1340.4 519.9,1336.7 524.4,1334.2 528.9,1331.9 533.4,1329.0 537.9,1326.2 542.4,1323.2 547.0,1321.3 551.5,1320.0 556.0,1319.2 560.5,1317.9 565.0,1316.2 569.5,1313.8 574.0,1310.7 578.5,1308.3 583.1,1306.9 587.6,1305.7 592.1,1304.5 596.6,1303.3 601.1,1302.3 605.6,1301.3 610.1,1300.8 614.7,1300.5 619.2,1300.2 623.7,1299.8 628.2,1299.5 632.7,1298.8 637.2,1298.4 641.7,1297.9 646.2,1297.6 650.8,1297.4 655.3,1297.1 659.8,1296.5 664.3,1295.4 668.8,1293.4 673.3,1291.5 677.8,1290.1 682.4,1289.3 686.9,1288.2 691.4,1286.9 695.9,1286.0 700.4,1285.4 704.9,1285.0 709.4,1284.7 714.0,1284.5 718.5,1284.2 723.0,1283.8 727.5,1282.7 732.0,1281.6 736.5,1280.5 741.0,1279.8 745.5,1279.1 750.1,1278.5 754.6,1278.2 759.1,1278.2 763.6,1278.2 768.1,1278.2 772.6,1277.9 777.1,1277.7 781.7,1277.5 786.2,1277.2 790.7,1276.7 795.2,1276.1 799.7,1275.5 804.2,1275.0 808.7,1274.7 813.2,1274.4 817.8,1274.4 822.3,1274.4 826.8,1274.4 831.3,1274.4 835.8,1274.2 840.3,1274.1 844.8,1274.0 849.4,1273.9 853.9,1273.6 858.4,1273.1 862.9,1272.8 867.4,1272.4 871.9,1272.3 876.4,1272.2 880.9,1272.2 885.5,1272.2 890.0,1272.2 894.5,1272.1 899.0,1272.0 903.5,1271.9 908.0,1271.8 912.5,1271.7 917.1,1271.5 921.6,1271.0 926.1,1270.0 930.6,1269.5 935.1,1269.2 939.6,1269.2 944.1,1269.2 948.7,1268.6 953.2,1267.7 957.7,1267.0 962.2,1266.6 966.7,1266.2 971.2,1266.2 975.7,1266.2 980.2,1266.2 984.8,1266.2 989.3,1266.0 993.8,1265.8 998.3,1265.7 1002.8,1265.5 1007.3,1265.3 1011.8,1265.0 1016.4,1264.7 1020.9,1263.6 1025.4,1262.5 1029.9,1262.2 1034.4,1262.0 1038.9,1261.6 1043.4,1261.0 1047.9,1260.1 1052.5,1259.4 1057.0,1258.7 1061.5,1258.4 1066.0,1258.0 1070.5,1257.9 1075.0,1257.9 1079.5,1257.9 1084.1,1257.3 1088.6,1256.7 1093.1,1256.4 1097.6,1256.4 1102.1,1256.4 1106.6,1254.9 1111.1,1252.6 1115.6,1251.1 1120.2,1250.1 1124.7,1249.4 1129.2,1248.9 1133.7,1248.9 1138.2,1246.9 1142.7,1244.2 1147.2,1242.4 1151.8,1242.1 1156.3,1242.1 1160.8,1242.1 1165.3,1242.1 1169.8,1240.4 1174.3,1236.9 1178.8,1234.5 1183.4,1233.3 1187.9,1232.1 1192.4,1231.1 1196.9,1230.5 1201.4,1229.6 1205.9,1226.2 1210.4,1223.0 1214.9,1220.2 1219.5,1218.5 1224.0,1216.5 1228.5,1216.2 1233.0,1214.7 1237.5,1210.2 1242.0,1206.4 1246.5,1203.2 1251.1,1200.4 1255.6,1198.9 1260.1,1196.8 1264.6,1190.5 1269.1,1183.6 1273.6,1178.2 1278.1,1174.2 1282.6,1172.0 1287.2,1170.7 1291.7,1169.3 1296.2,1160.9 1300.7,1151.0 1305.2,1145.1 1309.7,1139.6 1314.2,1136.6 1318.8,1133.1 1323.3,1132.4 1327.8,1125.5 1332.3,1113.6 1336.8,1103.7 1341.3,1094.1 1345.8,1090.4 1350.3,1087.6 1354.9,1085.9 1359.4,1077.2 1363.9,1063.3 1368.4,1054.3 1372.9,1048.1 1377.4,1043.3 1381.9,1041.4 1386.5,1039.4 1391.0,1037.1 1395.5,1017.4 1400.0,1009.8 1404.5,1004.8 1409.0,1001.2 1413.5,998.0 1418.1,998.0 1422.6,988.1 1427.1,970.5 1431.6,964.0 1436.1,954.5 1440.6,946.3 1445.1,941.1 1449.6,934.4 1454.2,923.7 1458.7,914.9 1463.2,907.8 1467.7,898.5 1472.2,892.4 1476.7,890.1 1481.2,889.1 1485.8,878.6 1490.3,860.8 1494.8,845.8 1499.3,838.0 1503.8,834.1 1508.3,830.2 1512.8,829.3 1517.3,828.7 1521.9,818.1 1526.4,802.1 1530.9,795.1 1535.4,790.9 1539.9,787.9 1544.4,783.2 1548.9,781.1 1553.5,760.6 1558.0,753.0 1562.5,745.2 1567.0,735.6 1571.5,732.9 1576.0,732.9 1580.5,727.3 1585.0,714.5 1589.6,706.0 1594.1,702.0 1598.6,698.4 1603.1,695.9 1607.6,695.3 1612.1,692.4 1616.6,681.3 1621.2,675.5 1625.7,671.4 1630.2,667.5 1634.7,665.0 1639.2,663.8 1643.7,659.0 1648.2,649.3 1652.8,645.3 1657.3,641.3 1661.8,638.1 1666.3,635.9 1670.8,634.9 1675.3,631.3 1679.8,625.6 1684.3,622.2 1688.9,619.2 1693.4,617.8 1697.9,615.3 1702.4,613.5 1706.9,612.4 1711.4,605.5 1715.9,603.5 1720.5,602.2 1725.0,601.3 1729.5,600.0 1734.0,598.1 1738.5,594.8 1743.0,591.2 1747.5,589.1 1752.0,588.0 1756.6,587.3 1761.1,586.3 1765.6,584.5 1770.1,581.9 1774.6,579.3 1779.1,576.5 1783.6,574.7 1788.2,573.8 1792.7,572.6 1797.2,571.8 1801.7,570.7 1806.2,569.2 1810.7,567.5 1815.2,566.1 1819.7,565.5 1824.3,564.4 1828.8,563.0 1833.3,561.2 1837.8,559.3 1842.3,557.9 1846.8,557.1 1851.3,556.3 1855.9,555.7 1860.4,555.1 1864.9,554.2 1869.4,549.7 1873.9,548.6 1878.4,547.8 1882.9,547.3 1887.5,546.7 1892.0,546.6 1896.5,544.2 1901.0,540.3 1905.5,538.3 1910.0,537.1 1914.5,536.1 1919.0,536.1 1923.6,536.1 1928.1,534.3 1932.6,531.3 1937.1,529.1 1941.6,527.4 1946.1,525.8 1950.6,524.7 1955.2,523.4 1959.7,521.8 1964.2,520.4 1968.7,519.3 1973.2,518.5 1977.7,517.8 1982.2,517.0 1986.7,516.0 1991.3,514.6 1995.8,512.7 2000.3,511.5 2004.8,510.2 2009.3,509.4 2013.8,508.4 2018.3,506.7 2022.9,504.9 2027.4,502.5 2031.9,500.5 2036.4,500.1 2040.9,500.1 2045.4,500.1 2049.9,500.1 2052.1,500.1" stroke="#9e480e"/>
<path d="M59.5,2202.8 64.0,2202.8 68.5,2202.8 73.0,2202.8 77.6,2202.8 82.1,2202.8 86.6,2202.8 91.1,2202.8 95.6,2202.8 100.1,2202.8 104.6,2202.8 109.1,2202.8 113.7,2202.8 118.2,2202.8 122.7,2202.8 127.2,2202.8 131.7,2202.8 136.2,2202.8 140.7,2202.8 145.3,2202.8 149.8,2202.8 154.3,2202.7 158.8,2202.5 163.3,2202.1 167.8,2201.3 172.3,2200.5 176.8,2199.7 181.4,2199.3 185.9,2198.8 190.4,2198.1 194.9,2197.0 199.4,2195.7 203.9,2194.3 208.4,2193.1 213.0,2192.3 217.5,2191.5 222.0,2190.1 226.5,2187.8 231.0,2184.7 235.5,2182.2 240.0,2179.6 244.6,2177.8 249.1,2176.4 253.6,2174.3 258.1,2170.4 262.6,2166.3 267.1,2160.9 271.6,2156.6 276.1,2153.5 280.7,2150.6 285.2,2145.9 289.7,2138.8 294.2,2131.3 298.7,2125.2 303.2,2119.7 307.7,2116.1 312.3,2112.4 316.8,2106.1 321.3,2097.3 325.8,2085.4 330.3,2076.6 334.8,2069.9 339.3,2066.3 343.8,2063.7 348.4,2058.9 352.9,2052.8 357.4,2047.4 361.9,2041.9 366.4,2037.8 370.9,2035.3 375.4,2032.7 380.0,2027.5 384.5,2020.4 389.0,2012.2 393.5,2002.0 398.0,1995.4 402.5,1989.4 407.0,1984.2 411.5,1980.3 416.1,1975.5 420.6,1968.9 425.1,1963.1 429.6,1960.0 434.1,1957.9 438.6,1956.1 443.1,1952.4 447.7,1948.7 452.2,1943.2 456.7,1940.9 461.2,1936.7 465.7,1933.4 470.2,1930.9 474.7,1927.0 479.3,1923.1 483.8,1919.2 488.3,1913.6 492.8,1909.8 497.3,1908.1 501.8,1906.0 506.3,1903.9 510.8,1897.6 515.4,1890.5 519.9,1889.4 524.4,1888.2 528.9,1886.9 533.4,1885.3 537.9,1882.8 542.4,1882.0 547.0,1880.1 551.5,1876.1 556.0,1874.3 560.5,1871.6 565.0,1863.1 569.5,1850.4 574.0,1833.8 578.5,1820.7 583.1,1819.9 587.6,1819.2 592.1,1818.9 596.6,1818.4 601.1,1817.9 605.6,1817.4 610.1,1816.9 614.7,1816.4 619.2,1816.0 623.7,1815.7 628.2,1815.5 632.7,1814.9 637.2,1813.8 641.7,1812.3 646.2,1810.9 650.8,1810.0 655.3,1809.3 659.8,1808.8 664.3,1808.1 668.8,1807.5 673.3,1807.0 677.8,1806.6 682.4,1806.4 686.9,1806.1 691.4,1806.0 695.9,1805.6 700.4,1804.9 704.9,1803.7 709.4,1801.9 714.0,1792.2 718.5,1785.4 723.0,1780.0 727.5,1775.2 732.0,1766.1 736.5,1761.5 741.0,1760.0 745.5,1758.8 750.1,1758.1 754.6,1757.9 759.1,1757.7 763.6,1757.4 768.1,1757.3 772.6,1757.1 777.1,1756.8 781.7,1756.7 786.2,1756.3 790.7,1755.9 795.2,1755.0 799.7,1753.7 804.2,1752.6 808.7,1751.7 813.2,1751.4 817.8,1751.1 822.3,1750.7 826.8,1750.3 831.3,1749.9 835.8,1749.3 840.3,1748.9 844.8,1748.5 849.4,1747.6 853.9,1746.6 858.4,1745.3 862.9,1744.8 867.4,1744.4 871.9,1744.1 876.4,1744.0 880.9,1743.7 885.5,1743.2 890.0,1742.3 894.5,1741.3 899.0,1740.2 903.5,1739.4 908.0,1738.9 912.5,1738.4 917.1,1737.6 921.6,1736.6 926.1,1735.5 930.6,1734.3 935.1,1733.5 939.6,1733.0 944.1,1732.3 948.7,1731.5 953.2,1730.2 957.7,1728.6 962.2,1727.5 966.7,1726.5 971.2,1726.2 975.7,1725.7 980.2,1725.3 984.8,1724.8 989.3,1724.3 993.8,1723.8 998.3,1723.4 1002.8,1723.1 1007.3,1722.8 1011.8,1721.8 1016.4,1720.4 1020.9,1718.9 1025.4,1717.5 1029.9,1716.5 1034.4,1714.7 1038.9,1713.1 1043.4,1712.3 1047.9,1711.1 1052.5,1710.0 1057.0,1708.7 1061.5,1707.9 1066.0,1707.3 1070.5,1706.7 1075.0,1706.0 1079.5,1704.7 1084.1,1702.7 1088.6,1701.1 1093.1,1699.8 1097.6,1699.0 1102.1,1698.3 1106.6,1697.1 1111.1,1695.8 1115.6,1694.6 1120.2,1692.5 1124.7,1688.5 1129.2,1687.4 1133.7,1686.3 1138.2,1684.7 1142.7,1682.3 1147.2,1680.1 1151.8,1675.4 1156.3,1667.5 1160.8,1665.9 1165.3,1664.3 1169.8,1663.8 1174.3,1663.1 1178.8,1661.0 1183.4,1659.5 1187.9,1659.0 1192.4,1658.7 1196.9,1658.5 1201.4,1657.6 1205.9,1656.1 1210.4,1653.1 1214.9,1648.5 1219.5,1645.9 1224.0,1645.4 1228.5,1645.0 1233.0,1644.3 1237.5,1643.5 1242.0,1638.8 1246.5,1636.4 1251.1,1635.6 1255.6,1635.3 1260.1,1635.1 1264.6,1633.1 1269.1,1630.5 1273.6,1627.6 1278.1,1625.5 1282.6,1624.1 1287.2,1623.4 1291.7,1622.7 1296.2,1619.9 1300.7,1616.4 1305.2,1613.6 1309.7,1610.7 1314.2,1609.4 1318.8,1609.4 1323.3,1608.4 1327.8,1605.0 1332.3,1601.0 1336.8,1594.8 1341.3,1590.2 1345.8,1587.4 1350.3,1585.1 1354.9,1583.4 1359.4,1581.5 1363.9,1578.7 1368.4,1573.9 1372.9,1568.8 1377.4,1565.2 1381.9,1562.4 1386.5,1559.8 1391.0,1555.9 1395.5,1551.2 1400.0,1544.1 1404.5,1538.7 1409.0,1534.2 1413.5,1530.7 1418.1,1528.5 1422.6,1525.0 1427.1,1519.0 1431.6,1512.5 1436.1,1506.4 1440.6,1502.4 1445.1,1499.6 1449.6,1496.3 1454.2,1492.4 1458.7,1486.6 1463.2,1479.8 1467.7,1474.1 1472.2,1469.2 1476.7,1466.7 1481.2,1463.2 1485.8,1459.3 1490.3,1454.6 1494.8,1448.5 1499.3,1442.1 1503.8,1438.8 1508.3,1436.4 1512.8,1435.1 1517.3,1433.7 1521.9,1430.3 1526.4,1426.2 1530.9,1425.4 1535.4,1420.3 1539.9,1416.4 1544.4,1410.4 1548.9,1405.4 1553.5,1398.6 1558.0,1392.0 1562.5,1387.7 1567.0,1385.1 1571.5,1384.0 1576.0,1382.7 1580.5,1373.7 1585.0,1365.8 1589.6,1358.6 1594.1,1338.5 1598.8,1328.5 1601.9,1300.0 1603.1,1296.9 1607.6,1291.5 1612.1,1286.1 1616.6,1280.9 1621.2,1262.7 1625.7,1246.1 1630.2,1235.9 1634.7,1232.1 1639.2,1230.6 1643.7,1230.1 1648.2,1229.5 1652.8,1214.4 1657.3,1208.2 1660.1,1207.6 1664.2,1184.3 1666.3,1183.4 1670.8,1177.9 1675.3,1166.1 1679.8,1155.5 1684.3,1137.1 1688.9,1130.8 1693.4,1125.7 1697.9,1124.4 1702.4,1123.4 1706.9,1121.9 1711.4,1120.1 1715.9,1111.6 1720.5,1103.7 1725.0,1097.2 1729.5,1091.8 1734.0,1088.4 1738.5,1084.1 1743.0,1078.5 1747.5,1072.8 1752.0,1067.7 1756.6,1064.8 1761.1,1062.6 1765.6,1060.8 1770.1,1058.4 1774.6,1055.0 1779.1,1053.3 1783.6,1051.6 1788.2,1048.0 1792.7,1045.8 1797.2,1044.5 1801.7,1042.1 1806.2,1038.6 1810.7,1036.8 1815.2,1036.6 1819.7,1036.2 1824.3,1027.4 1828.8,1025.8 1833.3,1024.0 1837.8,1021.1 1842.3,1017.8 1846.8,1016.7 1851.3,1016.1 1855.9,1015.7 1860.4,1015.2 1864.9,1014.6 1869.4,1013.4 1873.9,1009.2 1878.4,1008.8 1882.9,1008.1 1887.5,1006.6 1892.0,1005.1 1896.5,1003.0 1901.0,1000.0 1905.5,996.4 1910.0,992.5 1914.5,989.1 1919.0,987.5 1923.6,986.0 1928.1,985.9 1932.6,985.7 1937.1,985.4 1941.6,983.9 1946.1,981.4 1950.6,979.6 1955.2,977.7 1959.7,977.5 1964.2,977.2 1968.7,976.1 1973.2,974.3 1977.7,973.1 1982.2,972.0 1986.7,971.4 1991.3,970.7 1995.8,970.1 2000.3,969.3 2004.8,968.8 2009.3,966.9 2013.8,965.8 2018.3,964.8 2022.9,963.3 2027.4,961.1 2031.9,958.0 2036.4,955.5 2040.9,953.5 2045.4,951.9 2049.9,950.1 2052.1,949.2" stroke="#636363"/>
<path d="M59.5,2202.8 64.0,2202.8 68.5,2202.8 73.0,2202.8 77.6,2202.8 82.1,2202.8 86.6,2202.8 91.1,2202.8 95.6,2202.8 100.1,2202.8 104.6,2202.8 109.1,2202.8 113.7,2202.8 118.2,2202.8 122.7,2202.8 127.2,2202.8 131.7,2202.8 136.2,2202.8 140.7,2202.8 145.3,2202.7 149.8,2202.6 154.3,2202.5 158.8,2202.4 163.3,2202.3 167.8,2202.1 172.3,2201.9 176.8,2201.5 181.4,2201.0 185.9,2200.6 190.4,2200.1 194.9,2199.7 199.4,2198.9 203.9,2198.2 208.4,2197.0 213.0,2195.5 217.5,2194.7 222.0,2193.7 226.5,2192.8 231.0,2191.7 235.5,2186.2 240.0,2175.4 244.6,2165.5 249.1,2156.2 253.6,2148.5 258.1,2147.2 262.6,2137.0 267.1,2122.9 271.6,2112.8 276.1,2101.6 280.7,2093.7 285.2,2087.5 289.7,2080.9 294.2,2072.3 298.7,2053.9 303.2,2035.0 307.7,2022.3 312.3,2009.0 316.8,2003.3 321.3,1998.3 325.8,1986.0 330.3,1967.0 334.8,1955.7 339.3,1942.5 343.8,1930.4 348.4,1925.8 352.9,1921.9 357.4,1918.3 361.9,1903.0 366.4,1887.8 370.9,1875.3 375.4,1865.7 380.0,1856.0 384.5,1846.8 389.0,1835.7 393.5,1823.2 398.0,1806.6 402.5,1797.1 407.0,1789.3 411.5,1781.4 416.1,1775.8 420.6,1768.4 425.1,1757.2 429.6,1748.1 434.1,1740.0 438.6,1732.5 443.1,1728.6 447.7,1723.3 452.2,1722.8 456.7,1714.9 461.2,1705.1 465.7,1698.5 470.2,1695.6 474.7,1693.9 479.3,1692.1 483.8,1689.5 488.3,1687.1 492.8,1683.7 497.3,1680.7 501.8,1677.1 506.3,1674.6 510.8,1670.3 515.4,1665.4 519.9,1659.0 524.4,1652.1 528.9,1646.9 533.4,1643.4 537.9,1640.7 542.4,1638.2 547.0,1634.7 551.5,1630.8 556.0,1627.0 560.5,1623.3 565.0,1621.4 569.5,1619.4 574.0,1617.2 578.5,1614.6 583.1,1611.3 587.6,1608.3 592.1,1606.0 596.6,1604.2 601.1,1603.4 605.6,1602.3 610.1,1601.1 614.7,1599.5 619.2,1598.0 623.7,1596.1 628.2,1594.7 632.7,1592.9 637.2,1591.4 641.7,1589.2 646.2,1586.3 650.8,1585.1 655.3,1584.8 659.8,1584.6 664.3,1584.4 668.8,1584.2 673.3,1583.9 677.8,1581.3 682.4,1578.7 686.9,1575.8 691.4,1574.0 695.9,1573.3 700.4,1572.8 704.9,1572.1 709.4,1571.5 714.0,1570.8 718.5,1570.2 723.0,1569.7 727.5,1569.1 732.0,1568.4 736.5,1567.7 741.0,1566.8 745.5,1565.8 750.1,1565.0 754.6,1564.8 759.1,1564.6 763.6,1564.3 768.1,1564.1 772.6,1563.8 777.1,1562.3 781.7,1560.2 786.2,1559.0 790.7,1558.0 795.2,1557.0 799.7,1556.0 804.2,1555.7 808.7,1555.3 813.2,1552.4 817.8,1552.3 822.3,1552.3 826.8,1551.5 831.3,1550.0 835.8,1548.1 840.3,1546.1 844.8,1544.7 849.4,1544.1 853.9,1544.1 858.4,1544.1 862.9,1544.1 867.4,1543.8 871.9,1543.1 876.4,1542.7 880.9,1541.8 885.5,1541.2 890.0,1540.5 894.5,1539.6 899.0,1538.2 903.5,1536.6 908.0,1536.6 912.5,1536.6 917.1,1536.6 921.6,1536.6 926.1,1536.1 930.6,1531.3 935.1,1531.3 939.6,1531.3 944.1,1531.3 948.7,1531.3 953.2,1531.3 957.7,1530.6 962.2,1529.2 966.7,1528.0 971.2,1527.7 975.7,1527.3 980.2,1526.9 984.8,1526.6 989.3,1526.1 993.8,1525.5 998.3,1524.1 1002.8,1522.6 1007.3,1522.3 1011.8,1522.3 1016.4,1521.8 1020.9,1520.5 1025.4,1519.0 1029.9,1517.9 1034.4,1517.1 1038.9,1516.0 1043.4,1515.5 1047.9,1515.5 1052.5,1515.5 1057.0,1514.4 1061.5,1511.8 1066.0,1510.4 1070.5,1509.5 1075.0,1509.5 1079.5,1509.5 1084.1,1509.2 1088.6,1508.4 1093.1,1506.4 1097.6,1505.0 1102.1,1505.0 1106.6,1505.0 1111.1,1505.0 1115.6,1504.6 1120.2,1504.3 1124.7,1504.3 1129.2,1504.3 1133.7,1503.9 1138.2,1503.0 1142.7,1502.1 1147.2,1501.7 1151.8,1500.8 1156.3,1499.5 1160.8,1499.0 1165.3,1499.0 1169.8,1498.7 1174.3,1498.1 1178.8,1497.5 1183.4,1496.6 1187.9,1493.8 1192.4,1491.2 1196.9,1490.4 1201.4,1489.6 1205.9,1488.8 1210.4,1487.0 1214.9,1486.6 1219.5,1486.3 1224.0,1485.2 1228.5,1484.4 1233.0,1483.6 1237.5,1482.6 1242.0,1479.6 1246.5,1476.9 1251.1,1473.7 1255.6,1472.3 1260.1,1471.4 1264.6,1470.7 1269.1,1470.0 1273.6,1467.4 1278.1,1465.3 1282.6,1463.7 1287.2,1461.6 1291.7,1460.5 1296.2,1459.8 1300.7,1458.9 1305.2,1455.6 1309.7,1450.8 1314.2,1447.8 1318.8,1444.6 1323.3,1442.7 1327.8,1441.0 1332.3,1439.9 1336.8,1437.8 1341.3,1435.1 1345.8,1430.5 1350.3,1424.1 1354.9,1416.0 1359.4,1409.2 1363.9,1405.0 1368.4,1402.2 1372.9,1398.6 1377.4,1394.1 1381.9,1389.7 1386.5,1387.2 1391.0,1385.7 1395.5,1382.7 1400.0,1379.4 1404.5,1377.5 1409.0,1368.5 1413.5,1363.2 1418.1,1359.5 1422.6,1356.4 1427.1,1353.4 1431.6,1349.0 1436.1,1344.6 1440.6,1341.8 1445.1,1339.1 1449.6,1335.8 1454.2,1333.8 1458.7,1331.3 1463.2,1327.5 1467.7,1323.9 1472.2,1321.3 1476.7,1316.8 1481.2,1313.4 1485.8,1311.2 1490.3,1308.7 1494.8,1303.1 1499.3,1293.5 1503.8,1284.9 1508.3,1282.4 1512.8,1279.1 1517.3,1275.9 1521.9,1272.3 1526.4,1267.1 1530.9,1261.5 1535.4,1255.5 1539.9,1253.2 1544.4,1250.7 1548.9,1247.4 1553.5,1242.1 1558.0,1234.9 1562.5,1222.6 1567.0,1214.7 1571.5,1208.8 1576.0,1206.2 1580.5,1204.8 1585.0,1200.7 1589.6,1194.0 1594.1,1186.4 1598.6,1177.6 1603.1,1171.5 1607.6,1166.9 1612.1,1162.6 1616.6,1159.4 1621.2,1153.9 1625.7,1148.9 1630.2,1142.6 1634.7,1137.4 1639.2,1134.1 1643.7,1131.2 1648.2,1128.9 1652.8,1125.9 1657.3,1123.3 1661.8,1121.3 1666.3,1120.2 1670.8,1119.0 1675.3,1118.0 1679.8,1116.6 1684.3,1113.6 1688.9,1109.8 1693.4,1104.7 1697.9,1099.5 1702.4,1095.9 1706.9,1093.5 1711.4,1092.3 1715.9,1090.4 1720.5,1088.0 1725.0,1084.3 1729.5,1080.7 1734.0,1079.5 1738.5,1078.3 1743.0,1076.7 1747.5,1074.4 1752.0,1071.0 1756.6,1070.9 1761.1,1070.9 1765.6,1070.3 1770.1,1069.7 1774.6,1069.3 1779.1,1068.5 1783.6,1067.7 1788.2,1065.2 1792.7,1063.5 1797.2,1062.1 1801.7,1060.8 1806.2,1059.9 1810.7,1058.5 1815.2,1057.0 1819.7,1055.2 1824.3,1053.2 1828.8,1051.0 1833.3,1049.6 1837.8,1048.1 1842.3,1045.9 1846.8,1043.6 1851.3,1041.0 1855.9,1039.0 1860.4,1037.3 1864.9,1036.3 1869.4,1034.6 1873.9,1032.8 1878.4,1030.6 1882.9,1028.2 1887.5,1025.6 1892.0,1023.8 1896.5,1022.0 1901.0,1020.2 1905.5,1017.9 1910.0,1015.3 1914.5,1012.2 1919.0,1009.6 1923.6,1009.1 1928.1,1008.9 1932.6,1008.7 1937.1,1008.4 1941.6,1008.1 1946.1,1007.6 1950.6,1007.0 1955.2,1006.6 1959.7,1006.2 1964.2,1006.0 1968.7,1005.2 1973.2,1003.7 1977.7,1001.8 1982.2,1000.2 1986.7,999.3 1991.3,998.8 1995.8,998.3 2000.3,997.7 2004.8,996.9 2009.3,995.9 2013.8,994.6 2018.3,993.9 2022.9,993.1 2027.4,992.3 2031.9,991.0 2036.4,988.9 2040.9,986.7 2045.4,984.8 2049.9,983.7 2052.1,983.0" stroke="#997300"/>
<path d="M59.5,2202.8 64.0,2202.8 68.5,2202.8 73.0,2202.8 77.6,2202.8 82.1,2202.8 86.6,2202.8 91.1,2202.8 95.6,2202.8 100.1,2202.8 104.6,2202.8 109.1,2202.8 113.7,2202.8 118.2,2202.8 122.7,2202.8 127.2,2202.8 131.7,2202.8 136.2,2202.8 140.7,2202.7 145.3,2202.6 149.8,2202.5 154.3,2202.4 158.8,2202.1 163.3,2201.8 167.8,2201.4 172.3,2201.1 176.8,2200.9 181.4,2200.7 185.9,2200.4 190.4,2199.9 194.9,2199.3 199.4,2198.7 203.9,2198.1 208.4,2197.6 213.0,2196.9 217.5,2196.2 222.0,2194.8 226.5,2193.0 231.0,2191.2 235.5,2189.5 240.0,2188.6 244.6,2187.9 249.1,2186.7 253.6,2184.8 258.1,2182.6 262.6,2180.9 267.1,2179.3 271.6,2178.5 276.1,2177.7 280.7,2176.7 285.2,2175.0 289.7,2172.7 294.2,2170.6 298.7,2169.0 303.2,2168.1 307.7,2167.4 312.3,2166.1 316.8,2164.4 321.3,2162.0 325.8,2160.0 330.3,2158.3 334.8,2157.5 339.3,2156.3 343.8,2155.3 348.4,2153.3 352.9,2150.9 357.4,2148.7 361.9,2147.1 366.4,2145.9 370.9,2145.2 375.4,2143.9 380.0,2142.0 384.5,2139.9 389.0,2138.0 393.5,2136.6 398.0,2135.6 402.5,2135.1 407.0,2134.0 411.5,2132.6 416.1,2130.8 420.6,2129.4 425.1,2128.3 429.6,2127.4 434.1,2126.9 438.6,2126.2 443.1,2124.8 447.7,2123.4 452.2,2122.0 456.7,2120.7 461.2,2120.0 465.7,2119.4 470.2,2118.5 474.7,2117.3 479.3,2115.5 483.8,2113.9 488.3,2112.7 492.8,2112.0 497.3,2111.1 501.8,2110.2 506.3,2108.6 510.8,2106.9 515.4,2105.3 519.9,2103.9 524.4,2103.2 528.9,2102.4 533.4,2101.4 537.9,2099.9 542.4,2098.1 547.0,2096.5 551.5,2095.2 556.0,2094.4 560.5,2093.9 565.0,2093.0 569.5,2091.6 574.0,2089.8 578.5,2088.3 583.1,2086.7 587.6,2086.0 592.1,2085.1 596.6,2084.0 601.1,2082.2 605.6,2080.0 610.1,2077.7 614.7,2075.8 619.2,2074.0 623.7,2073.0 628.2,2071.2 632.7,2068.2 637.2,2064.5 641.7,2061.3 646.2,2059.1 650.8,2058.1 655.3,2057.0 659.8,2055.8 664.3,2053.2 668.8,2048.9 673.3,2044.2 677.8,2041.4 682.4,2038.9 686.9,2037.6 691.4,2034.8 695.9,2029.0 700.4,2020.4 704.9,2015.2 709.4,2010.8 714.0,2005.8 718.5,2003.1 723.0,1998.8 727.5,1996.1 732.0,1986.1 736.5,1977.1 741.0,1972.3 745.5,1968.5 750.1,1966.3 754.6,1962.2 759.1,1957.2 763.6,1951.1 768.1,1944.6 772.6,1940.0 777.1,1936.3 781.7,1932.9 786.2,1928.0 790.7,1921.4 795.2,1910.7 799.7,1900.7 804.2,1894.9 808.7,1891.8 813.2,1888.8 817.8,1884.8 822.3,1878.0 826.8,1869.1 831.3,1860.1 835.8,1855.0 840.3,1852.2 844.8,1848.4 849.4,1846.0 853.9,1841.7 858.4,1835.3 862.9,1828.6 867.4,1822.1 871.9,1817.0 876.4,1813.6 880.9,1808.2 885.5,1803.0 890.0,1797.6 894.5,1793.7 899.0,1791.0 903.5,1789.8 908.0,1788.8 912.5,1788.1 917.1,1787.5 921.6,1786.8 926.1,1779.6 930.6,1773.9 935.1,1770.5 939.6,1767.6 944.1,1763.2 948.7,1758.7 953.2,1752.4 957.7,1747.3 962.2,1743.7 966.7,1741.5 971.2,1739.8 975.7,1737.0 980.2,1733.2 984.8,1729.1 989.3,1725.3 993.8,1722.8 998.3,1720.6 1002.8,1719.2 1007.3,1716.7 1011.8,1713.6 1016.4,1708.9 1020.9,1704.4 1025.4,1701.0 1029.9,1699.3 1034.4,1697.4 1038.9,1694.6 1043.4,1690.6 1047.9,1685.1 1052.5,1681.0 1057.0,1677.1 1061.5,1675.4 1066.0,1673.9 1070.5,1672.5 1075.0,1669.6 1079.5,1665.8 1084.1,1661.2 1088.6,1658.1 1093.1,1657.1 1097.6,1656.0 1102.1,1653.8 1106.6,1649.6 1111.1,1646.1 1115.6,1643.1 1120.2,1640.4 1124.7,1638.6 1129.2,1637.0 1133.7,1634.7 1138.2,1630.4 1142.7,1628.3 1147.2,1625.5 1151.8,1623.3 1156.3,1622.0 1160.8,1620.9 1165.3,1619.0 1169.8,1616.2 1174.3,1613.3 1178.8,1611.4 1183.4,1609.7 1187.9,1608.8 1192.4,1607.6 1196.9,1604.1 1201.4,1599.7 1205.9,1596.0 1210.4,1592.4 1214.9,1591.5 1219.5,1591.0 1224.0,1590.6 1228.5,1590.0 1233.0,1589.0 1237.5,1585.9 1242.0,1583.0 1246.5,1580.5 1251.1,1579.0 1255.6,1578.0 1260.1,1576.1 1264.6,1574.0 1269.1,1571.6 1273.6,1569.2 1278.1,1568.0 1282.6,1566.7 1287.2,1565.2 1291.7,1563.3 1296.2,1558.6 1300.7,1553.5 1305.2,1548.9 1309.7,1545.1 1314.2,1543.4 1318.8,1541.8 1323.3,1539.4 1327.8,1535.6 1332.3,1530.3 1336.8,1525.9 1341.3,1521.7 1345.8,1519.1 1350.3,1517.3 1354.9,1513.9 1359.4,1509.8 1363.9,1505.4 1368.4,1501.6 1372.9,1499.0 1377.4,1497.3 1381.9,1495.9 1386.5,1494.1 1391.0,1491.7 1395.5,1488.9 1400.0,1486.6 1404.5,1484.6 1409.0,1483.3 1413.5,1482.6 1418.1,1480.8 1422.6,1478.9 1427.1,1476.0 1431.6,1473.3 1436.1,1471.1 1440.6,1469.3 1445.1,1467.9 1449.6,1466.3 1454.2,1462.7 1458.7,1459.0 1463.2,1454.3 1467.7,1450.1 1472.2,1446.6 1476.7,1443.9 1481.2,1438.6 1485.8,1432.2 1490.3,1423.1 1494.8,1412.0 1499.3,1404.5 1503.8,1401.3 1508.3,1396.9 1512.8,1391.9 1517.3,1382.0 1521.9,1370.9 1526.4,1360.4 1530.9,1352.2 1535.4,1345.4 1539.9,1339.5 1544.4,1333.2 1548.9,1325.7 1553.5,1316.0 1558.0,1306.2 1562.5,1297.3 1567.0,1291.8 1571.5,1288.3 1576.0,1283.6 1580.5,1278.4 1585.0,1269.6 1589.6,1258.5 1594.1,1249.0 1598.6,1244.9 1603.1,1241.3 1607.6,1238.9 1612.1,1233.7 1616.6,1224.9 1621.2,1216.0 1625.7,1209.6 1630.2,1205.1 1634.7,1202.0 1639.2,1198.4 1643.7,1194.6 1648.2,1186.7 1652.8,1180.7 1657.3,1177.0 1661.8,1171.2 1666.3,1165.7 1670.8,1159.8 1675.3,1152.5 1679.8,1146.3 1684.3,1140.5 1688.9,1135.2 1693.4,1132.2 1697.9,1129.8 1702.4,1126.4 1706.9,1121.7 1711.4,1114.4 1715.9,1107.1 1720.5,1102.4 1725.0,1100.9 1729.5,1099.3 1734.0,1096.9 1738.5,1093.9 1743.0,1089.9 1747.5,1085.4 1752.0,1082.7 1756.6,1080.3 1761.1,1078.7 1765.6,1076.3 1770.1,1073.6 1774.6,1070.4 1779.1,1066.7 1783.6,1065.0 1788.2,1064.0 1792.7,1063.0 1797.2,1061.7 1801.7,1059.9 1806.2,1057.0 1810.7,1053.2 1815.2,1051.2 1819.7,1049.4 1824.3,1047.8 1828.8,1046.0 1833.3,1043.1 1837.8,1039.4 1842.3,1035.9 1846.8,1033.5 1851.3,1032.1 1855.9,1030.7 1860.4,1029.1 1864.9,1026.4 1869.4,1023.3 1873.9,1020.1 1878.4,1018.0 1882.9,1016.6 1887.5,1015.6 1892.0,1014.2 1896.5,1012.7 1901.0,1010.5 1905.5,1008.2 1910.0,1005.9 1914.5,1004.4 1919.0,1003.2 1923.6,1001.6 1928.1,998.9 1932.6,996.5 1937.1,993.5 1941.6,991.5 1946.1,990.2 1950.6,989.2 1955.2,987.9 1959.7,985.9 1964.2,983.6 1968.7,981.0 1973.2,979.1 1977.7,977.6 1982.2,976.5 1986.7,975.0 1991.3,972.9 1995.8,970.6 2000.3,968.2 2004.8,966.6 2009.3,965.1 2013.8,963.9 2018.3,962.3 2022.9,959.5 2027.4,956.8 2031.9,953.3 2036.4,950.8 2040.9,949.5 2045.4,948.1 2049.9,945.0 2052.1,944.0" stroke="#255e91"/>
<path d="M59.5,2202.8 64.0,2202.8 68.5,2202.8 73.0,2202.8 77.6,2202.8 82.1,2202.8 86.6,2202.8 91.1,2202.8 95.6,2202.8 100.1,2202.8 104.6,2202.8 109.1,2202.8 113.7,2202.8 118.2,2202.8 122.7,2202.8 127.2,2202.8 131.7,2202.8 136.2,2202.7 140.7,2202.4 145.3,2202.0 149.8,2201.5 154.3,2201.1 158.8,2200.6 163.3,2200.1 167.8,2199.5 172.3,2198.4 176.8,2197.4 181.4,2196.4 185.9,2195.7 190.4,2194.9 194.9,2194.2 199.4,2193.2 203.9,2191.6 208.4,2189.7 213.0,2187.7 217.5,2185.9 222.0,2184.3 226.5,2182.7 231.0,2179.8 235.5,2177.0 240.0,2173.3 244.6,2170.2 249.1,2167.8 253.6,2166.1 258.1,2164.5 262.6,2161.9 267.1,2158.8 271.6,2155.4 276.1,2152.5 280.7,2150.2 285.2,2148.9 289.7,2146.8 294.2,2144.7 298.7,2142.8 303.2,2140.6 307.7,2137.9 312.3,2135.9 316.8,2134.4 321.3,2132.5 325.8,2129.7 330.3,2126.9 334.8,2123.8 339.3,2121.3 343.8,2119.5 348.4,2117.8 352.9,2115.9 357.4,2113.3 361.9,2110.0 366.4,2106.6 370.9,2103.5 375.4,2102.3 380.0,2100.9 384.5,2099.5 389.0,2097.5 393.5,2095.2 398.0,2092.3 402.5,2089.7 407.0,2087.9 411.5,2086.1 416.1,2084.5 420.6,2081.8 425.1,2079.2 429.6,2076.7 434.1,2074.1 438.6,2072.3 443.1,2070.3 447.7,2068.8 452.2,2066.4 456.7,2063.3 461.2,2059.7 465.7,2057.0 470.2,2054.6 474.7,2052.6 479.3,2051.3 483.8,2049.2 488.3,2047.1 492.8,2044.7 497.3,2043.0 501.8,2042.1 506.3,2041.0 510.8,2040.1 515.4,2038.8 519.9,2036.7 524.4,2034.1 528.9,2032.2 533.4,2030.8 537.9,2029.1 542.4,2027.9 547.0,2026.1 551.5,2023.6 556.0,2021.4 560.5,2020.0 565.0,2018.8 569.5,2018.1 574.0,2017.0 578.5,2015.4 583.1,2013.2 587.6,2010.7 592.1,2008.6 596.6,2007.4 601.1,2006.9 605.6,2006.2 610.1,2005.4 614.7,2004.3 619.2,2002.9 623.7,2001.7 628.2,2000.7 632.7,2000.0 637.2,1999.1 641.7,1997.9 646.2,1996.5 650.8,1994.9 655.3,1993.5 659.8,1992.3 664.3,1991.5 668.8,1990.5 673.3,1989.0 677.8,1987.0 682.4,1984.6 686.9,1983.3 691.4,1981.9 695.9,1980.9 700.4,1977.5 704.9,1972.7 709.4,1969.5 714.0,1963.6 718.5,1958.6 723.0,1957.9 727.5,1957.2 732.0,1954.3 736.5,1950.8 741.0,1947.0 745.5,1940.3 750.1,1934.1 754.6,1933.6 759.1,1933.3 763.6,1931.4 768.1,1925.8 772.6,1920.5 777.1,1914.4 781.7,1909.2 786.2,1904.7 790.7,1901.8 795.2,1897.9 799.7,1892.1 804.2,1884.1 808.7,1877.8 813.2,1872.1 817.8,1870.2 822.3,1868.8 826.8,1866.0 831.3,1860.6 835.8,1854.3 840.3,1847.2 844.8,1842.4 849.4,1839.0 853.9,1837.1 858.4,1834.5 862.9,1831.1 867.4,1824.5 871.9,1817.0 876.4,1811.5 880.9,1808.9 885.5,1806.6 890.0,1805.1 894.5,1802.5 899.0,1799.8 903.5,1796.7 908.0,1793.1 912.5,1790.5 917.1,1788.2 921.6,1785.1 926.1,1781.2 930.6,1776.3 935.1,1771.4 939.6,1767.9 944.1,1765.4 948.7,1763.5 953.2,1761.5 957.7,1758.3 962.2,1755.3 966.7,1752.1 971.2,1748.3 975.7,1746.0 980.2,1743.6 984.8,1741.4 989.3,1737.8 993.8,1733.1 998.3,1728.2 1002.8,1724.6 1007.3,1722.0 1011.8,1719.9 1016.4,1717.8 1020.9,1714.8 1025.4,1711.2 1029.9,1707.7 1034.4,1704.6 1038.9,1702.7 1043.4,1700.7 1047.9,1698.8 1052.5,1695.5 1057.0,1692.4 1061.5,1689.4 1066.0,1686.3 1070.5,1684.3 1075.0,1682.5 1079.5,1681.6 1084.1,1680.1 1088.6,1678.6 1093.1,1675.1 1097.6,1672.2 1102.1,1669.6 1106.6,1667.1 1111.1,1665.9 1115.6,1664.1 1120.2,1661.7 1124.7,1659.2 1129.2,1656.8 1133.7,1655.0 1138.2,1654.2 1142.7,1653.3 1147.2,1652.3 1151.8,1649.3 1156.3,1646.5 1160.8,1645.3 1165.3,1644.3 1169.8,1643.5 1174.3,1641.2 1178.8,1612.1 1183.4,1608.8 1187.9,1603.3 1192.4,1599.5 1196.9,1596.8 1201.4,1595.0 1205.9,1593.6 1210.4,1590.4 1214.9,1583.6 1219.5,1576.6 1224.0,1575.1 1228.5,1574.0 1233.0,1572.8 1237.5,1571.6 1242.0,1568.1 1246.5,1563.4 1251.1,1558.7 1255.6,1557.4 1260.1,1556.6 1264.6,1556.2 1269.1,1555.8 1273.6,1554.0 1278.1,1548.6 1282.6,1544.4 1287.2,1540.8 1291.7,1539.2 1296.2,1538.2 1300.7,1536.9 1305.2,1533.5 1309.7,1528.1 1314.2,1521.0 1318.8,1514.0 1323.3,1513.4 1327.8,1512.7 1332.3,1510.5 1336.8,1506.6 1341.3,1499.9 1345.8,1496.9 1350.3,1495.8 1354.9,1495.3 1359.4,1494.7 1363.9,1493.9 1368.4,1492.3 1372.9,1490.1 1377.4,1487.0 1381.9,1484.5 1386.5,1482.2 1391.0,1479.9 1395.5,1477.7 1400.0,1473.8 1404.5,1469.7 1409.0,1465.2 1413.5,1461.0 1418.1,1458.2 1422.6,1455.2 1427.1,1452.6 1431.6,1449.1 1436.1,1443.6 1440.6,1439.8 1445.1,1438.2 1449.6,1435.8 1454.2,1432.9 1458.7,1429.2 1463.2,1425.4 1467.7,1419.1 1472.2,1406.9 1476.7,1397.6 1481.2,1392.2 1485.8,1386.3 1490.3,1378.4 1494.8,1369.9 1499.3,1358.7 1503.8,1346.1 1508.3,1342.6 1512.8,1339.6 1517.3,1336.0 1521.9,1330.2 1526.4,1316.3 1530.9,1305.7 1535.4,1295.1 1539.9,1284.8 1544.4,1274.0 1548.9,1271.3 1553.5,1268.2 1558.0,1259.7 1562.5,1245.5 1567.0,1231.9 1571.5,1220.1 1576.0,1213.8 1580.5,1208.6 1585.0,1202.1 1589.6,1185.3 1594.1,1172.3 1598.6,1162.7 1603.1,1155.9 1607.6,1151.2 1612.1,1148.2 1616.6,1143.6 1621.2,1137.3 1625.7,1128.4 1630.2,1117.0 1634.7,1104.6 1639.2,1095.6 1643.7,1090.2 1648.2,1085.4 1652.8,1077.5 1657.3,1065.0 1661.8,1050.7 1666.3,1042.0 1670.8,1035.6 1675.3,1030.4 1679.8,1026.4 1684.3,1019.5 1688.9,1010.5 1693.4,1002.6 1697.9,995.0 1702.4,989.2 1706.9,983.7 1711.4,977.4 1715.9,967.3 1720.5,958.5 1725.0,951.4 1729.5,946.2 1734.0,944.1 1738.5,942.7 1743.0,940.7 1747.5,937.8 1752.0,933.8 1756.6,930.1 1761.1,926.6 1765.6,925.1 1770.1,923.9 1774.6,922.6 1779.1,919.3 1783.6,914.5 1788.2,908.9 1792.7,904.2 1797.2,902.3 1801.7,901.2 1806.2,899.4 1810.7,895.8 1815.2,890.2 1819.7,882.8 1824.3,877.3 1828.8,875.0 1833.3,874.0 1837.8,873.1 1842.3,869.9 1846.8,866.1 1851.3,862.4 1855.9,858.7 1860.4,856.0 1864.9,853.8 1869.4,853.5 1873.9,852.6 1878.4,847.7 1882.9,842.6 1887.5,839.7 1892.0,837.5 1896.5,835.5 1901.0,833.5 1905.5,831.2 1910.0,827.3 1914.5,824.0 1919.0,820.0 1923.6,817.2 1928.1,815.6 1932.6,814.0 1937.1,812.1 1941.6,808.7 1946.1,805.5 1950.6,802.1 1955.2,800.6 1959.7,800.0 1964.2,799.1 1968.7,797.9 1973.2,794.7 1977.7,791.5 1982.2,789.1 1986.7,787.2 1991.3,785.6 1995.8,783.9 2000.3,781.2 2004.8,778.4 2009.3,775.9 2013.8,774.1 2018.3,772.9 2022.9,771.7 2027.4,770.2 2031.9,768.9 2036.4,767.6 2040.9,766.4 2045.4,765.8 2049.9,765.4 2052.1,765.2" stroke="#43682b"/>
<path d="M59.5,2202.8 64.0,2202.8 68.5,2202.8 73.0,2202.8 77.6,2202.8 82.1,2202.8 86.6,2202.8 91.1,2202.8 95.6,2202.8 100.1,2202.8 104.6,2202.8 109.1,2202.8 113.7,2202.8 118.2,2202.8 122.7,2202.8 127.2,2202.8 131.7,2202.8 136.2,2202.8 140.7,2202.8 145.3,2202.8 149.8,2202.6 154.3,2201.2 158.8,2199.4 163.3,2197.4 167.8,2196.3 172.3,2195.6 176.8,2195.1 181.4,2194.6 185.9,2194.0 190.4,2193.3 194.9,2192.4 199.4,2191.6 203.9,2191.1 208.4,2190.7 213.0,2190.3 217.5,2189.7 222.0,2188.7 226.5,2187.2 231.0,2185.8 235.5,2184.8 240.0,2184.1 244.6,2183.4 249.1,2182.4 253.6,2181.4 258.1,2180.5 262.6,2180.3 267.1,2180.3 271.6,2180.3 276.1,2180.3 280.7,2180.3 285.2,2180.3 289.7,2180.3 294.2,2180.3 298.7,2180.3 303.2,2180.3 307.7,2180.3 312.3,2180.3 316.8,2180.3 321.3,2180.3 325.8,2180.3 330.3,2180.3 334.8,2180.3 339.3,2180.3 343.8,2180.3 348.4,2180.3 352.9,2180.3 357.4,2180.3 361.9,2180.3 366.4,2180.3 370.9,2180.3 375.4,2180.3 380.0,2180.3 384.5,2180.3 389.0,2180.3 393.5,2180.3 398.0,2180.3 402.5,2180.3 407.0,2180.3 411.5,2180.3 416.1,2180.3 420.6,2180.3 425.1,2180.3 429.6,2180.3 434.1,2180.3 438.6,2180.3 443.1,2180.3 447.7,2180.3 452.2,2180.3 456.7,2180.3 461.2,2180.3 465.7,2180.3 470.2,2180.3 474.7,2180.3 479.3,2180.3 483.8,2180.3 488.3,2180.3 492.8,2180.3 497.3,2180.3 501.8,2180.3 506.3,2180.3 510.8,2180.3 515.4,2180.3 519.9,2180.3 524.4,2180.3 528.9,2180.3 533.4,2180.3 537.9,2180.3 542.4,2180.3 547.0,2180.3 551.5,2180.3 556.0,2180.3 560.5,2180.3 565.0,2180.3 569.5,2180.3 574.0,2180.3 578.5,2180.3 583.1,2180.3 587.6,2180.3 592.1,2180.3 596.6,2180.3 601.1,2180.3 605.6,2180.3 610.1,2180.3 614.7,2180.3 619.2,2180.3 623.7,2180.3 628.2,2180.3 632.7,2180.3 637.2,2180.3 641.7,2180.3 646.2,2180.3 650.8,2180.3 655.3,2180.3 659.8,2180.3 664.3,2180.3 668.8,2180.3 673.3,2180.3 677.8,2180.3 682.4,2180.3 686.9,2180.3 691.4,2180.3 695.9,2180.3 700.4,2180.3 704.9,2180.3 709.4,2180.3 714.0,2180.3 718.5,2180.3 723.0,2180.3 727.5,2180.3 732.0,2180.3 736.5,2180.3 741.0,2180.3 745.5,2180.3 750.1,2180.3 754.6,2180.3 759.1,2180.3 763.6,2180.3 768.1,2180.3 772.6,2180.3 777.1,2180.3 781.7,2180.3 786.2,2180.3 790.7,2180.3 795.2,2180.3 799.7,2180.3 804.2,2180.3 808.7,2180.3 813.2,2180.3 817.8,2180.3 822.3,2180.3 826.8,2180.3 831.3,2180.2 835.8,2179.6 840.3,2179.2 844.8,2178.8 849.4,2178.3 853.9,2177.4 858.4,2170.4 862.9,2166.7 867.4,2166.5 871.9,2166.4 876.4,2166.4 880.9,2166.2 885.5,2166.1 890.0,2150.5 894.5,2149.5 899.0,2149.0 903.5,2147.0 908.0,2144.1 912.5,2144.0 917.1,2143.7 921.4,2143.5 923.6,2115.7 926.1,2107.2 930.6,2101.0 935.1,2095.4 939.6,2094.8 944.1,2093.7 948.7,2087.4 953.2,2078.4 957.7,2074.1 962.2,2073.1 966.7,2067.4 971.2,2062.1 976.7,2060.8 980.5,2033.8 984.8,2029.0 989.3,2024.6 993.8,2022.6 998.3,2019.0 1002.8,2014.5 1007.3,2007.4 1011.8,2005.8 1016.4,2003.8 1017.4,2003.8 1019.3,1981.2 1020.9,1981.0 1025.4,1980.6 1029.9,1980.4 1034.4,1980.1 1037.7,1979.7 1041.8,1956.4 1043.4,1955.0 1047.9,1946.0 1052.5,1939.6 1057.0,1935.9 1061.5,1933.4 1066.0,1930.7 1070.5,1928.0 1075.0,1923.8 1079.5,1919.0 1084.1,1915.5 1088.6,1913.0 1093.1,1911.2 1097.6,1909.4 1102.1,1906.2 1106.6,1902.4 1111.1,1896.9 1115.6,1892.1 1120.2,1887.9 1124.7,1885.4 1129.2,1882.8 1133.7,1878.5 1138.2,1872.5 1142.7,1865.7 1147.2,1859.6 1151.8,1854.5 1156.3,1851.8 1160.8,1848.5 1165.3,1844.9 1169.8,1838.5 1174.3,1832.1 1178.8,1825.3 1183.4,1821.3 1187.9,1817.9 1192.4,1815.1 1196.9,1811.1 1201.4,1805.3 1205.9,1798.6 1210.4,1792.4 1214.9,1787.9 1219.5,1784.3 1224.0,1781.9 1228.5,1777.4 1233.0,1771.2 1237.5,1763.1 1242.0,1756.5 1246.5,1750.6 1251.1,1747.0 1255.6,1744.5 1260.1,1739.1 1264.6,1731.9 1269.1,1723.5 1273.6,1717.2 1278.1,1712.7 1282.6,1709.5 1287.2,1706.5 1291.7,1702.3 1296.2,1697.2 1300.7,1691.5 1305.2,1687.7 1309.7,1684.3 1314.2,1682.7 1318.8,1680.9 1323.3,1678.3 1327.8,1675.0 1332.3,1671.9 1336.8,1669.7 1341.3,1668.4 1345.8,1667.5 1350.3,1666.6 1354.9,1665.6 1359.4,1663.9 1363.9,1663.5 1368.4,1663.5 1372.9,1663.5 1377.4,1663.5 1381.9,1663.5 1386.5,1663.5 1391.0,1658.8 1395.5,1654.5 1400.0,1654.5 1404.5,1654.5 1409.0,1654.5 1413.5,1654.5 1418.1,1654.5 1422.6,1654.5 1427.1,1654.2 1431.6,1651.6 1436.1,1649.5 1440.6,1648.4 1445.1,1647.3 1449.6,1646.2 1454.2,1646.2 1458.7,1646.2 1463.2,1645.4 1467.7,1640.6 1472.2,1640.2 1476.7,1640.2 1481.2,1640.2 1485.8,1640.2 1490.3,1640.2 1494.8,1640.2 1499.3,1638.2 1503.8,1636.3 1508.3,1634.4 1512.8,1632.1 1517.3,1627.6 1521.9,1623.0 1526.4,1623.0 1530.9,1623.0 1535.4,1623.0 1539.9,1623.0 1544.4,1623.0 1548.9,1621.5 1553.5,1618.4 1558.0,1618.4 1562.5,1618.4 1567.0,1618.4 1571.5,1618.4 1576.0,1618.4 1580.5,1618.4 1585.0,1618.4 1589.6,1618.4 1594.1,1618.4 1598.6,1618.4 1603.1,1618.4 1607.6,1618.0 1612.1,1614.7 1616.6,1614.7 1621.2,1614.7 1625.7,1614.7 1630.2,1614.7 1634.7,1614.7 1639.2,1614.7 1643.7,1614.7 1648.2,1614.7 1652.8,1614.7 1657.3,1614.7 1661.8,1614.7 1666.3,1614.7 1670.8,1614.7 1675.3,1614.7 1679.8,1614.7 1684.3,1614.7 1688.9,1614.7 1693.4,1614.7 1697.9,1614.7 1702.4,1610.0 1706.9,1609.3 1711.4,1609.0 1715.9,1608.8 1720.5,1608.7 1725.0,1605.4 1729.5,1599.7 1734.0,1599.7 1738.5,1599.7 1743.0,1599.7 1747.5,1599.7 1752.0,1599.7 1756.6,1599.7 1761.1,1599.7 1765.6,1599.7 1770.1,1598.1 1774.6,1595.2 1779.1,1595.2 1783.6,1595.2 1788.2,1595.2 1792.7,1595.2 1797.2,1595.2 1801.7,1595.2 1806.2,1595.2 1810.7,1595.2 1815.2,1595.2 1819.7,1595.2 1824.3,1595.2 1828.8,1595.2 1833.3,1595.2 1837.8,1595.2 1842.3,1595.2 1846.8,1595.2 1851.3,1594.3 1855.9,1592.1 1860.4,1588.6 1864.9,1586.1 1869.4,1586.1 1873.9,1586.1 1878.4,1586.1 1882.9,1586.1 1887.5,1586.1 1892.0,1586.1 1896.5,1586.1 1901.0,1586.1 1905.5,1586.1 1910.0,1586.1 1914.5,1586.1 1919.0,1586.1 1923.6,1586.1 1928.1,1586.1 1932.6,1586.1 1937.1,1586.1 1941.6,1586.1 1946.1,1586.1 1950.6,1586.1 1955.2,1586.1 1959.7,1586.1 1964.2,1586.1 1968.7,1586.1 1973.2,1586.1 1977.7,1586.1 1982.2,1586.1 1986.7,1586.1 1991.3,1585.6 1995.8,1582.8 2000.3,1579.2 2004.8,1576.8 2009.3,1575.1 2013.8,1573.6 2018.3,1572.1 2022.9,1571.9 2027.4,1571.9 2031.9,1571.9 2036.4,1571.9 2040.9,1571.9 2045.4,1571.9 2049.9,1571.9 2052.1,1571.9" stroke="#698ed0"/>
<path d="M59.5,2202.8 64.0,2202.8 68.5,2202.8 73.0,2202.8 77.6,2202.8 82.1,2202.8 86.6,2202.8 91.1,2202.8 95.6,2202.8 100.1,2202.8 104.6,2202.8 109.1,2202.8 113.7,2202.8 118.2,2202.8 122.7,2202.8 127.2,2202.8 131.7,2202.8 136.2,2202.8 140.7,2202.8 145.3,2202.8 149.8,2202.8 154.3,2202.8 158.8,2202.8 163.3,2202.7 167.8,2202.6 172.3,2202.5 176.8,2202.4 181.4,2202.2 185.9,2202.0 190.4,2201.7 194.9,2201.5 199.4,2201.3 203.9,2201.2 208.4,2201.1 213.0,2200.9 217.5,2200.6 222.0,2200.3 226.5,2200.1 231.0,2199.8 235.5,2199.7 240.0,2199.5 244.6,2199.3 249.1,2199.0 253.6,2198.7 258.1,2198.4 262.6,2198.2 267.1,2198.1 271.6,2197.9 276.1,2197.6 280.7,2197.2 285.2,2196.8 289.7,2196.5 294.2,2196.2 298.7,2196.0 303.2,2195.8 307.7,2195.5 312.3,2195.2 316.8,2194.9 321.3,2194.8 325.8,2194.7 330.3,2194.6 334.8,2194.5 339.3,2194.5 343.8,2194.5 348.4,2194.4 352.9,2194.4 357.4,2194.4 361.9,2194.4 366.4,2194.3 370.9,2194.3 375.4,2194.3 380.0,2194.3 384.5,2194.2 389.0,2194.2 393.5,2194.2 398.0,2194.2 402.5,2194.2 407.0,2194.2 411.5,2194.2 416.1,2194.2 420.6,2194.1 425.1,2194.1 429.6,2194.1 434.1,2194.1 438.6,2194.1 443.1,2194.1 447.7,2194.1 452.2,2194.1 456.7,2194.1 461.2,2194.1 465.7,2194.1 470.2,2194.0 474.7,2194.0 479.3,2194.0 483.8,2194.0 488.3,2194.0 492.8,2194.0 497.3,2194.0 501.8,2193.9 506.3,2193.9 510.8,2193.9 515.4,2193.9 519.9,2193.9 524.4,2193.9 528.9,2193.8 533.4,2193.8 537.9,2193.7 542.4,2193.7 547.0,2193.7 551.5,2193.6 556.0,2193.6 560.5,2193.5 565.0,2193.4 569.5,2193.3 574.0,2193.3 578.5,2193.2 583.1,2193.1 587.6,2193.1 592.1,2193.0 596.6,2192.9 601.1,2192.7 605.6,2192.6 610.1,2192.5 614.7,2192.5 619.2,2192.4 623.7,2192.3 628.2,2192.2 632.7,2192.0 637.2,2191.9 641.7,2191.8 646.2,2191.8 650.8,2191.7 655.3,2191.6 659.8,2191.5 664.3,2191.3 668.8,2191.2 673.3,2191.1 677.8,2191.0 682.4,2191.0 686.9,2190.9 691.4,2190.8 695.9,2190.7 700.4,2190.6 704.9,2190.5 709.4,2190.5 714.0,2190.4 718.5,2190.3 723.0,2190.2 727.5,2190.0 732.0,2189.9 736.5,2189.8 741.0,2189.7 745.5,2189.6 750.1,2189.4 754.6,2189.2 759.1,2188.7 763.6,2188.3 768.1,2188.0 772.6,2187.7 777.1,2187.3 781.7,2186.8 786.2,2186.1 790.7,2185.1 795.2,2184.4 799.7,2183.9 804.2,2183.4 808.7,2183.0 813.2,2182.3 817.8,2181.4 822.3,2180.2 826.8,2179.4 831.3,2178.8 835.8,2178.3 840.3,2177.6 844.8,2176.6 849.4,2175.3 853.9,2174.0 858.4,2173.0 862.9,2172.0 867.4,2171.5 871.9,2170.6 876.4,2169.7 880.9,2168.2 885.5,2166.8 890.0,2165.7 894.5,2164.7 899.0,2164.0 903.5,2163.4 908.0,2162.4 912.5,2160.9 917.1,2159.3 921.6,2157.8 926.1,2156.9 930.6,2156.3 935.1,2155.4 939.6,2154.3 944.1,2152.8 948.7,2151.2 953.2,2149.7 957.7,2148.9 962.2,2148.3 966.7,2147.3 971.2,2146.4 975.7,2145.1 980.2,2143.5 984.8,2142.3 989.3,2141.5 993.8,2140.6 998.3,2139.9 1002.8,2138.7 1007.3,2136.9 1011.8,2135.3 1016.4,2133.6 1020.9,2132.3 1025.4,2131.2 1029.9,2130.0 1034.4,2127.5 1038.9,2124.4 1043.4,2121.4 1047.9,2118.7 1052.5,2118.1 1057.0,2117.7 1061.5,2117.3 1066.0,2116.6 1070.5,2115.8 1075.0,2113.2 1079.5,2111.2 1084.1,2109.8 1088.6,2108.6 1093.1,2107.4 1097.6,2106.7 1102.1,2105.9 1106.6,2105.0 1111.1,2103.4 1115.6,2102.0 1120.2,2100.6 1124.7,2099.3 1129.2,2097.4 1133.7,2094.9 1138.2,2093.2 1142.7,2092.0 1147.2,2091.4 1151.8,2090.9 1156.3,2090.8 1160.8,2090.7 1165.3,2090.5 1169.8,2090.4 1174.3,2090.4 1178.8,2090.3 1183.4,2090.3 1187.9,2090.2 1192.4,2090.2 1196.9,2090.1 1201.4,2090.0 1205.9,2089.9 1210.4,2089.9 1214.9,2089.8 1219.5,2089.8 1224.0,2089.7 1228.5,2089.6 1233.0,2089.2 1237.5,2088.0 1242.0,2087.2 1246.5,2086.6 1251.1,2086.0 1255.6,2085.0 1260.1,2083.2 1264.6,2081.9 1269.1,2081.9 1273.6,2081.9 1278.1,2081.1 1282.6,2080.2 1287.2,2079.1 1291.7,2077.6 1296.2,2076.6 1300.7,2076.6 1305.2,2076.6 1309.7,2075.2 1314.2,2072.8 1318.8,2070.1 1323.3,2068.5 1327.8,2067.5 1332.3,2067.3 1336.8,2067.1 1341.3,2067.0 1345.8,2066.9 1350.3,2065.5 1354.9,2063.2 1359.4,2061.5 1363.9,2060.6 1368.4,2059.8 1372.9,2059.4 1377.4,2058.9 1381.9,2058.5 1386.5,2058.2 1391.0,2058.0 1395.5,2057.8 1400.0,2057.3 1404.5,2056.8 1409.0,2056.3 1413.5,2055.7 1418.1,2054.8 1422.6,2054.1 1427.1,2053.6 1431.6,2053.1 1436.1,2052.8 1440.6,2052.5 1445.1,2052.2 1449.6,2051.8 1454.2,2051.2 1458.7,2050.3 1463.2,2049.6 1467.7,2049.0 1472.2,2048.1 1476.7,2046.9 1481.2,2045.2 1485.8,2043.0 1490.3,2041.1 1494.8,2040.0 1499.3,2039.1 1503.8,2037.6 1508.3,2036.1 1512.8,2034.1 1517.3,2031.4 1521.9,2029.3 1526.4,2027.7 1530.9,2026.0 1535.4,2024.5 1539.9,2022.2 1544.4,2019.4 1548.9,2015.6 1553.5,2013.4 1558.0,2011.1 1562.5,2010.1 1567.0,2008.4 1571.5,2006.4 1576.0,2003.9 1580.5,2001.6 1585.0,1999.6 1589.6,1998.4 1594.1,1997.5 1598.6,1996.3 1603.1,1995.1 1607.6,1993.0 1612.1,1991.3 1616.6,1990.1 1621.2,1989.0 1625.7,1988.3 1630.2,1987.4 1634.7,1986.4 1639.2,1984.9 1643.7,1983.3 1648.2,1982.4 1652.8,1981.9 1657.3,1981.5 1661.8,1981.2 1666.3,1981.1 1670.8,1980.8 1675.3,1980.6 1679.8,1980.0 1684.3,1979.3 1688.9,1978.8 1693.4,1978.0 1697.9,1976.9 1702.4,1975.9 1706.9,1975.7 1711.4,1975.5 1715.9,1975.4 1720.5,1975.3 1725.0,1974.9 1729.5,1973.9 1734.0,1973.0 1738.5,1973.0 1743.0,1972.0 1747.5,1970.9 1752.0,1970.6 1756.6,1970.4 1761.1,1970.1 1765.6,1970.0 1770.1,1970.0 1774.6,1970.0 1779.1,1970.0 1783.6,1969.8 1788.2,1969.6 1792.7,1969.2 1797.2,1968.7 1801.7,1968.2 1806.2,1967.8 1810.7,1967.1 1815.2,1966.5 1819.7,1965.9 1824.3,1964.8 1828.8,1964.5 1833.3,1964.3 1837.8,1964.1 1842.3,1964.0 1846.8,1963.6 1851.3,1963.3 1855.9,1962.8 1860.4,1962.1 1864.9,1961.6 1869.4,1961.4 1873.9,1961.3 1878.4,1961.2 1882.9,1961.1 1887.5,1960.9 1892.0,1960.4 1896.5,1960.0 1901.0,1959.6 1905.5,1959.4 1910.0,1959.3 1914.5,1959.2 1919.0,1959.2 1923.6,1959.1 1928.1,1958.9 1932.6,1958.7 1937.1,1958.0 1941.6,1957.5 1946.1,1956.7 1950.6,1956.3 1955.2,1956.1 1959.7,1955.9 1964.2,1955.7 1968.7,1955.3 1973.2,1955.0 1977.7,1954.7 1982.2,1954.1 1986.7,1953.5 1991.3,1953.2 1995.8,1953.0 2000.3,1952.9 2004.8,1952.8 2009.3,1952.6 2013.8,1952.1 2018.3,1951.5 2022.9,1950.8 2027.4,1950.3 2031.9,1949.9 2036.4,1949.6 2040.9,1949.3 2045.4,1948.9 2049.9,1948.4 2052.1,1948.2" stroke="#f1975a"/>
<path d="M59.5,2202.8 64.0,2202.8 68.5,2202.8 73.0,2202.8 77.6,2202.8 82.1,2202.8 86.6,2202.8 91.1,2202.8 95.6,2202.8 100.1,2202.8 104.6,2202.8 109.1,2202.8 113.7,2202.8 118.2,2202.8 122.7,2202.8 127.2,2202.8 131.7,2202.8 136.2,2202.8 140.7,2202.8 145.3,2202.8 149.8,2202.8 154.3,2202.7 158.8,2202.6 163.3,2202.5 167.8,2202.3 172.3,2201.8 176.8,2201.3 181.4,2200.9 185.9,2200.5 190.4,2200.2 194.9,2199.9 199.4,2199.5 203.9,2198.9 208.4,2198.0 213.0,2196.9 217.5,2196.2 222.0,2195.4 226.5,2194.9 231.0,2193.7 235.5,2192.3 240.0,2190.7 244.6,2189.3 249.1,2188.4 253.6,2187.9 258.1,2187.2 262.6,2186.4 267.1,2185.5 271.6,2184.5 276.1,2183.6 280.7,2183.1 285.2,2182.6 289.7,2182.2 294.2,2181.5 298.7,2180.7 303.2,2179.8 307.7,2179.2 312.3,2178.8 316.8,2178.3 321.3,2178.0 325.8,2177.5 330.3,2177.0 334.8,2176.3 339.3,2175.9 343.8,2175.6 348.4,2175.3 352.9,2175.0 357.4,2174.7 361.9,2174.3 366.4,2173.8 370.9,2173.5 375.4,2173.2 380.0,2173.0 384.5,2172.9 389.0,2172.6 393.5,2172.2 398.0,2171.9 402.5,2171.6 407.0,2171.4 411.5,2171.3 416.1,2171.1 420.6,2170.9 425.1,2170.6 429.6,2170.4 434.1,2170.1 438.6,2169.9 443.1,2169.8 447.7,2169.7 452.2,2169.5 456.7,2169.3 461.2,2169.0 465.7,2168.8 470.2,2168.6 474.7,2168.5 479.3,2168.4 483.8,2168.2 488.3,2168.0 492.8,2167.7 497.3,2167.6 501.8,2167.4 506.3,2167.3 510.8,2167.2 515.4,2167.0 519.9,2166.7 524.4,2166.5 528.9,2166.2 533.4,2166.1 537.9,2166.0 542.4,2165.8 547.0,2165.6 551.5,2165.4 556.0,2165.2 560.5,2164.9 565.0,2164.8 569.5,2164.7 574.0,2164.6 578.5,2164.5 583.1,2164.2 587.6,2164.0 592.1,2163.8 596.6,2163.6 601.1,2163.5 605.6,2163.4 610.1,2163.2 614.7,2162.9 619.2,2162.6 623.7,2162.3 628.2,2162.1 632.7,2162.0 637.2,2161.7 641.7,2161.4 646.2,2161.1 650.8,2160.6 655.3,2160.1 659.8,2159.7 664.3,2159.3 668.8,2159.0 673.3,2158.3 677.8,2157.4 682.4,2156.3 686.9,2155.1 691.4,2154.3 695.9,2153.5 700.4,2152.3 704.9,2150.6 709.4,2148.0 714.0,2144.7 718.5,2142.1 723.0,2140.1 727.5,2138.3 732.0,2136.3 736.5,2134.4 741.0,2130.9 745.5,2127.0 750.1,2123.9 754.6,2122.5 759.1,2121.1 763.6,2119.8 768.1,2118.1 772.6,2115.7 777.1,2112.8 781.7,2110.2 786.2,2107.9 790.7,2106.7 795.2,2104.7 799.7,2102.6 804.2,2100.2 808.7,2096.9 813.2,2094.5 817.8,2093.1 822.3,2092.0 826.8,2090.6 831.3,2088.9 835.8,2086.5 840.3,2083.9 844.8,2081.7 849.4,2080.1 853.9,2079.0 858.4,2076.4 862.9,2072.8 867.4,2067.3 871.9,2062.6 876.4,2059.7 880.9,2058.5 885.5,2057.6 890.0,2056.9 894.5,2055.5 899.0,2053.6 903.5,2051.9 908.0,2050.4 912.5,2048.9 917.1,2048.2 921.6,2047.1 926.1,2045.7 930.6,2043.9 935.1,2042.0 939.6,2039.9 944.1,2038.5 948.7,2037.4 953.2,2036.4 957.7,2034.4 962.2,2032.2 966.7,2029.9 971.2,2027.6 975.7,2026.2 980.2,2025.0 984.8,2023.6 989.3,2022.0 993.8,2019.6 998.3,2017.2 1002.8,2014.9 1007.3,2013.4 1011.8,2012.3 1016.4,2010.7 1020.9,2009.0 1025.4,2006.8 1029.9,2004.4 1034.4,2002.4 1038.9,2001.0 1043.4,1999.8 1047.9,1998.6 1052.5,1996.6 1057.0,1994.4 1061.5,1991.7 1066.0,1989.2 1070.5,1987.5 1075.0,1986.3 1079.5,1984.8 1084.1,1983.1 1088.6,1980.5 1093.1,1977.6 1097.6,1975.0 1102.1,1973.2 1106.6,1971.6 1111.1,1970.2 1115.6,1968.2 1120.2,1965.3 1124.7,1962.0 1129.2,1959.6 1133.7,1957.2 1138.2,1955.8 1142.7,1954.3 1147.2,1951.8 1151.8,1948.3 1156.3,1945.1 1160.8,1941.4 1165.3,1939.3 1169.8,1937.2 1174.3,1934.6 1178.8,1931.9 1183.4,1927.0 1187.9,1922.3 1192.4,1917.7 1196.9,1915.0 1201.4,1911.8 1205.9,1909.5 1210.4,1905.4 1214.9,1900.6 1219.5,1894.3 1224.0,1889.9 1228.5,1885.9 1233.0,1883.8 1237.5,1880.7 1242.0,1876.3 1246.5,1871.2 1251.1,1865.1 1255.6,1859.9 1260.1,1856.0 1264.6,1854.0 1269.1,1850.2 1273.6,1845.7 1278.1,1839.9 1282.6,1833.4 1287.2,1827.0 1291.7,1822.0 1296.2,1818.5 1300.7,1814.8 1305.2,1808.6 1309.7,1801.1 1314.2,1791.4 1318.8,1782.4 1323.3,1776.3 1327.8,1771.4 1332.3,1766.1 1336.8,1758.6 1341.3,1748.6 1345.8,1738.7 1350.3,1729.9 1354.9,1722.0 1359.4,1717.7 1363.9,1713.9 1368.4,1708.0 1372.9,1702.1 1377.4,1694.8 1381.9,1688.8 1386.5,1688.1 1391.0,1687.4 1395.5,1683.4 1400.0,1677.6 1404.5,1670.9 1409.0,1666.4 1413.5,1663.7 1418.1,1662.0 1422.6,1660.4 1427.1,1657.6 1431.6,1652.5 1436.1,1642.8 1440.6,1635.0 1445.1,1628.8 1449.6,1624.9 1454.2,1623.6 1458.7,1621.9 1463.2,1616.6 1467.7,1608.9 1472.2,1601.4 1476.7,1597.7 1481.2,1594.9 1485.8,1592.1 1490.3,1589.5 1494.8,1584.6 1499.3,1578.6 1503.8,1571.1 1508.3,1566.0 1512.8,1561.2 1517.3,1557.3 1521.9,1551.3 1526.4,1544.5 1530.9,1537.4 1535.4,1530.4 1539.9,1524.0 1544.4,1520.8 1548.9,1518.8 1553.5,1517.0 1558.0,1508.8 1562.5,1502.3 1567.0,1498.7 1571.5,1497.6 1576.0,1495.4 1580.5,1493.1 1585.0,1490.9 1589.6,1489.2 1594.1,1487.8 1598.6,1485.1 1603.1,1480.2 1607.6,1479.5 1612.1,1478.9 1616.6,1477.2 1621.2,1473.3 1625.7,1470.9 1630.2,1468.3 1634.7,1466.7 1639.2,1466.7 1643.7,1466.7 1648.2,1466.1 1652.8,1465.3 1657.3,1461.5 1661.8,1458.7 1666.3,1457.9 1670.8,1457.2 1675.3,1456.8 1679.8,1456.3 1684.3,1452.9 1688.9,1448.4 1693.4,1444.5 1697.9,1443.2 1702.4,1443.0 1706.9,1442.8 1711.4,1442.2 1715.9,1439.2 1720.5,1437.3 1725.0,1437.0 1729.5,1436.8 1734.0,1435.5 1738.5,1433.8 1743.0,1431.7 1747.5,1429.6 1752.0,1426.9 1756.6,1425.6 1761.1,1424.4 1765.6,1423.5 1770.1,1421.7 1774.6,1419.1 1779.1,1415.3 1783.6,1413.4 1788.2,1411.6 1792.7,1411.1 1797.2,1411.1 1801.7,1409.6 1806.2,1408.4 1810.7,1405.9 1815.2,1405.3 1819.7,1404.8 1824.3,1404.3 1828.8,1403.9 1833.3,1403.7 1837.8,1403.0 1842.3,1402.1 1846.8,1401.1 1851.3,1400.7 1855.9,1400.2 1860.4,1399.9 1864.9,1399.0 1869.4,1398.2 1873.9,1397.0 1878.4,1394.2 1882.9,1391.3 1887.5,1390.4 1892.0,1389.7 1896.5,1388.8 1901.0,1388.0 1905.5,1386.8 1910.0,1382.9 1914.5,1380.3 1919.0,1380.3 1923.6,1380.3 1928.1,1379.7 1932.6,1379.0 1937.1,1377.7 1941.6,1376.3 1946.1,1374.7 1950.6,1373.2 1955.2,1372.4 1959.7,1371.6 1964.2,1370.9 1968.7,1369.6 1973.2,1368.6 1977.7,1367.5 1982.2,1366.5 1986.7,1365.9 1991.3,1365.4 1995.8,1364.9 2000.3,1364.3 2004.8,1363.5 2009.3,1362.6 2013.8,1361.8 2018.3,1361.3 2022.9,1360.8 2027.4,1360.3 2031.9,1359.5 2036.4,1358.4 2040.9,1357.8 2045.4,1357.8 2049.9,1357.8 2052.1,1357.8" stroke="#b7b7b7"/>
<path d="M59.5,2202.8 64.0,2202.8 68.5,2202.8 73.0,2202.8 77.6,2202.8 82.1,2202.8 86.6,2202.8 91.1,2202.8 95.6,2202.8 100.1,2202.8 104.6,2202.8 109.1,2202.8 113.7,2202.8 118.2,2202.8 122.7,2202.8 127.2,2202.8 131.7,2202.8 136.2,2202.8 140.7,2202.8 145.3,2202.6 149.8,2202.2 154.3,2201.7 158.8,2201.3 163.3,2200.9 167.8,2200.5 172.3,2199.8 176.8,2199.0 181.4,2198.0 185.9,2196.9 190.4,2195.9 194.9,2195.4 199.4,2194.6 203.9,2193.7 208.4,2191.7 213.0,2189.0 217.5,2185.8 222.0,2183.0 226.5,2180.7 231.0,2179.1 235.5,2175.9 240.0,2171.5 244.6,2166.0 249.1,2158.8 253.6,2153.9 258.1,2150.1 262.6,2146.5 267.1,2142.4 271.6,2135.9 276.1,2129.5 280.7,2122.5 285.2,2117.7 289.7,2113.5 294.2,2110.4 298.7,2105.3 303.2,2099.0 307.7,2091.5 312.3,2085.0 316.8,2079.1 321.3,2075.7 325.8,2071.2 330.3,2066.8 334.8,2061.4 339.3,2055.4 343.8,2049.3 348.4,2041.7 352.9,2035.6 357.4,2028.3 361.9,2018.1 366.4,2005.8 370.9,1995.2 375.4,1985.6 380.0,1979.0 384.5,1974.8 389.0,1969.4 393.5,1965.1 398.0,1957.1 402.5,1950.0 407.0,1943.5 411.5,1937.7 416.1,1932.9 420.6,1929.0 425.1,1924.8 429.6,1918.3 434.1,1911.4 438.6,1905.2 443.1,1901.6 447.7,1897.2 452.2,1894.1 456.7,1890.4 461.2,1885.6 465.7,1880.0 470.2,1875.0 474.7,1871.7 479.3,1869.7 483.8,1867.6 488.3,1864.5 492.8,1861.3 497.3,1857.2 501.8,1853.1 506.3,1849.9 510.8,1847.9 515.4,1845.7 519.9,1842.5 524.4,1838.8 528.9,1834.8 533.4,1830.5 537.9,1827.1 542.4,1824.3 547.0,1821.6 551.5,1819.2 556.0,1815.6 560.5,1812.1 565.0,1809.4 569.5,1806.9 574.0,1805.6 578.5,1804.1 583.1,1802.5 587.6,1800.3 592.1,1798.3 596.6,1796.7 601.1,1795.9 605.6,1795.5 610.1,1795.1 614.7,1794.6 619.2,1793.9 623.7,1792.4 628.2,1789.2 632.7,1782.5 637.2,1777.7 641.7,1775.7 646.2,1774.4 650.8,1772.4 655.3,1770.4 659.8,1768.4 664.3,1767.3 668.8,1766.4 673.3,1765.8 677.8,1765.0 682.4,1763.8 686.9,1762.8 691.4,1761.7 695.9,1761.0 700.4,1760.4 704.9,1759.8 709.4,1758.9 714.0,1757.8 718.5,1756.6 723.0,1755.5 727.5,1754.6 732.0,1754.0 736.5,1753.3 741.0,1752.5 745.5,1751.1 750.1,1749.7 754.6,1748.4 759.1,1747.0 763.6,1746.1 768.1,1745.1 772.6,1743.9 777.1,1742.2 781.7,1740.7 786.2,1739.5 790.7,1738.6 795.2,1737.9 799.7,1737.3 804.2,1736.5 808.7,1735.4 813.2,1734.2 817.8,1732.8 822.3,1731.6 826.8,1730.5 831.3,1729.6 835.8,1728.5 840.3,1727.2 844.8,1726.0 849.4,1725.0 853.9,1724.4 858.4,1723.9 862.9,1723.6 867.4,1723.2 871.9,1722.4 876.4,1721.5 880.9,1720.3 885.5,1718.9 890.0,1717.9 894.5,1716.9 899.0,1715.4 903.5,1713.5 908.0,1711.7 912.5,1710.5 917.1,1709.3 921.6,1708.7 926.1,1707.8 930.6,1707.0 935.1,1705.9 939.6,1704.3 944.1,1702.8 948.7,1701.7 953.2,1700.5 957.7,1699.6 962.2,1698.2 966.7,1696.7 971.2,1694.8 975.7,1693.1 980.2,1691.7 984.8,1690.6 989.3,1689.5 993.8,1688.3 998.3,1686.8 1002.8,1685.1 1007.3,1683.6 1011.8,1682.7 1016.4,1682.0 1020.9,1681.4 1025.4,1680.4 1029.9,1679.3 1034.4,1677.6 1038.9,1675.1 1043.4,1672.8 1047.9,1671.1 1052.5,1669.2 1057.0,1667.0 1061.5,1664.2 1066.0,1662.4 1070.5,1660.8 1075.0,1659.2 1079.5,1657.6 1084.1,1655.9 1088.6,1653.9 1093.1,1651.4 1097.6,1648.8 1102.1,1645.7 1106.6,1644.0 1111.1,1642.5 1115.6,1641.1 1120.2,1639.3 1124.7,1637.0 1129.2,1633.8 1133.7,1630.9 1138.2,1629.0 1142.7,1627.4 1147.2,1625.7 1151.8,1623.7 1156.3,1621.2 1160.8,1618.3 1165.3,1615.8 1169.8,1613.7 1174.3,1612.5 1178.8,1609.4 1183.4,1605.6 1187.9,1600.4 1192.4,1593.1 1196.9,1583.7 1201.4,1579.7 1205.9,1576.2 1210.4,1572.9 1214.9,1569.1 1219.5,1565.6 1224.0,1556.0 1228.5,1549.0 1233.0,1544.8 1237.5,1542.2 1242.0,1535.2 1246.5,1526.5 1251.1,1517.5 1255.6,1506.4 1260.1,1497.9 1264.6,1492.8 1269.1,1486.4 1273.6,1481.4 1278.1,1469.7 1282.6,1456.2 1287.2,1451.7 1291.7,1451.7 1296.2,1451.7 1300.7,1444.5 1305.2,1436.3 1309.7,1427.8 1314.2,1412.1 1318.8,1395.6 1323.3,1380.9 1327.8,1375.0 1332.3,1368.8 1336.8,1361.4 1341.3,1351.8 1345.8,1334.6 1350.3,1320.7 1354.9,1305.8 1359.4,1296.7 1363.9,1289.8 1368.4,1280.8 1372.9,1270.0 1377.4,1257.3 1381.9,1247.5 1386.5,1241.3 1391.0,1234.6 1395.5,1228.1 1400.0,1223.1 1404.5,1213.9 1409.0,1201.9 1413.5,1191.6 1418.1,1186.1 1422.6,1177.6 1427.1,1171.4 1431.6,1167.5 1436.1,1160.3 1440.6,1150.4 1445.1,1139.8 1449.6,1131.1 1454.2,1123.2 1458.7,1118.7 1463.2,1111.4 1467.7,1101.8 1472.2,1090.4 1476.7,1080.2 1481.2,1073.9 1485.8,1067.7 1490.3,1062.1 1494.8,1057.0 1499.3,1050.7 1503.8,1043.1 1508.3,1034.4 1512.8,1027.1 1517.3,1024.0 1521.9,1021.6 1526.4,1018.1 1530.9,1011.9 1535.4,1003.8 1539.9,995.6 1544.4,988.7 1548.9,984.2 1553.5,981.0 1558.0,976.0 1562.5,971.3 1567.0,963.5 1571.5,958.7 1576.0,954.8 1580.5,952.6 1585.0,950.4 1589.6,949.0 1594.1,947.5 1598.6,944.8 1603.1,936.4 1607.6,929.6 1612.1,926.4 1616.6,923.5 1621.2,920.7 1625.7,917.9 1630.2,913.9 1634.7,909.9 1639.2,905.6 1643.7,902.6 1648.2,900.8 1652.8,900.0 1657.3,898.9 1661.8,895.4 1666.3,891.2 1670.8,887.4 1675.3,884.3 1679.8,882.3 1684.3,880.8 1688.9,878.5 1693.4,875.1 1697.9,871.9 1702.4,869.1 1706.9,866.6 1711.4,864.9 1715.9,862.9 1720.5,860.5 1725.0,858.0 1729.5,855.4 1734.0,852.6 1738.5,850.7 1743.0,849.5 1747.5,848.0 1752.0,846.5 1756.6,844.4 1761.1,841.8 1765.6,841.5 1770.1,841.3 1774.6,840.9 1779.1,840.0 1783.6,838.5 1788.2,836.8 1792.7,835.1 1797.2,833.5 1801.7,832.4 1806.2,831.3 1810.7,830.5 1815.2,828.9 1819.7,826.9 1824.3,825.1 1828.8,824.6 1833.3,824.1 1837.8,823.5 1842.3,822.8 1846.8,821.7 1851.3,820.2 1855.9,818.4 1860.4,816.9 1864.9,815.5 1869.4,814.6 1873.9,813.7 1878.4,812.4 1882.9,811.0 1887.5,809.2 1892.0,807.6 1896.5,806.2 1901.0,805.5 1905.5,804.4 1910.0,802.9 1914.5,801.0 1919.0,799.0 1923.6,797.0 1928.1,795.4 1932.6,794.3 1937.1,793.1 1941.6,791.9 1946.1,790.1 1950.6,788.5 1955.2,786.8 1959.7,785.6 1964.2,784.5 1968.7,783.4 1973.2,781.4 1977.7,778.5 1982.2,775.5 1986.7,772.8 1991.3,771.0 1995.8,769.5 2000.3,768.4 2004.8,766.7 2009.3,764.7 2013.8,762.0 2018.3,760.2 2022.9,758.3 2027.4,756.8 2031.9,755.4 2036.4,753.7 2040.9,751.5 2045.4,750.2 2049.9,749.1 2052.1,748.7" stroke="#ffcd33"/>
<path d="M59.5,2202.8 64.0,2202.8 68.5,2202.8 73.0,2202.8 77.6,2202.8 82.1,2202.8 86.6,2202.8 91.1,2202.8 95.6,2202.8 100.1,2202.8 104.6,2202.8 109.1,2202.8 113.7,2202.8 118.2,2202.8 122.7,2202.8 127.2,2202.8 131.7,2202.8 136.2,2202.8 140.7,2202.8 145.3,2202.6 149.8,2202.3 154.3,2201.8 158.8,2201.4 163.3,2201.0 167.8,2200.6 172.3,2200.2 176.8,2199.4 181.4,2198.3 185.9,2197.3 190.4,2196.5 194.9,2195.9 199.4,2195.3 203.9,2194.5 208.4,2193.0 213.0,2190.4 217.5,2186.9 222.0,2185.1 226.5,2183.5 231.0,2182.2 235.5,2180.5 240.0,2177.7 244.6,2174.4 249.1,2170.9 253.6,2168.2 258.1,2166.5 262.6,2165.6 267.1,2163.6 271.6,2161.4 276.1,2158.1 280.7,2151.2 285.2,2141.9 289.7,2136.6 294.2,2132.7 298.7,2124.8 303.2,2114.8 307.7,2096.6 312.3,2081.6 316.8,2074.2 321.3,2072.4 325.8,2070.9 330.3,2069.2 334.8,2065.8 339.3,2060.1 343.8,2051.8 348.4,2046.0 352.9,2043.2 357.4,2040.0 361.9,2036.9 366.4,2031.6 370.9,2024.8 375.4,2021.4 380.0,2019.1 384.5,2017.3 389.0,2016.4 393.5,2014.6 398.0,2011.2 402.5,2006.3 407.0,2002.2 411.5,1999.1 416.1,1996.7 420.6,1995.2 425.1,1992.4 429.6,1989.1 434.1,1984.4 438.6,1980.6 443.1,1978.3 447.7,1976.3 452.2,1975.1 456.7,1972.8 461.2,1970.8 465.7,1968.3 470.2,1965.6 474.7,1963.3 479.3,1961.5 483.8,1960.0 488.3,1957.8 492.8,1954.7 497.3,1951.4 501.8,1948.0 506.3,1945.6 510.8,1943.9 515.4,1943.1 519.9,1941.4 524.4,1939.1 528.9,1936.3 533.4,1934.0 537.9,1931.9 542.4,1930.7 547.0,1929.9 551.5,1928.3 556.0,1926.4 560.5,1923.5 565.0,1921.2 569.5,1919.3 574.0,1918.2 578.5,1917.1 583.1,1916.0 587.6,1914.5 592.1,1912.6 596.6,1910.8 601.1,1909.6 605.6,1908.8 610.1,1908.0 614.7,1906.9 619.2,1905.3 623.7,1904.0 628.2,1903.1 632.7,1902.0 637.2,1901.4 641.7,1900.7 646.2,1899.3 650.8,1897.5 655.3,1896.9 659.8,1896.6 664.3,1896.2 668.8,1895.6 673.3,1894.8 677.8,1893.9 682.4,1892.6 686.9,1891.7 691.4,1890.8 695.9,1890.0 700.4,1888.9 704.9,1887.8 709.4,1886.8 714.0,1884.9 718.5,1883.6 723.0,1882.5 727.5,1881.6 732.0,1880.8 736.5,1880.1 741.0,1878.8 745.5,1876.6 750.1,1874.3 754.6,1873.0 759.1,1872.2 763.6,1871.7 768.1,1871.0 772.6,1870.4 777.1,1869.2 781.7,1867.6 786.2,1866.1 790.7,1864.7 795.2,1863.8 799.7,1862.8 804.2,1861.4 808.7,1859.6 813.2,1857.3 817.8,1856.3 822.3,1855.2 826.8,1853.9 831.3,1853.0 835.8,1851.4 840.3,1849.8 844.8,1847.8 849.4,1846.5 853.9,1845.6 858.4,1845.0 862.9,1844.5 867.4,1843.5 871.9,1842.4 876.4,1841.0 880.9,1839.2 885.5,1838.2 890.0,1837.5 894.5,1836.8 899.0,1835.8 903.5,1834.1 908.0,1832.3 912.5,1830.6 917.1,1828.6 921.6,1827.3 926.1,1826.0 930.6,1824.7 935.1,1822.2 939.6,1819.3 944.1,1817.2 948.7,1815.7 953.2,1815.0 957.7,1814.1 962.2,1813.1 966.7,1811.6 971.2,1809.8 975.7,1807.7 980.2,1806.4 984.8,1805.5 989.3,1804.7 993.8,1803.6 998.3,1802.0 1002.8,1799.9 1007.3,1798.3 1011.8,1796.7 1016.4,1795.8 1020.9,1795.2 1025.4,1794.0 1029.9,1792.5 1034.4,1790.4 1038.9,1788.4 1043.4,1786.5 1047.9,1785.6 1052.5,1784.3 1057.0,1782.9 1061.5,1780.7 1066.0,1777.8 1070.5,1775.3 1075.0,1772.9 1079.5,1771.7 1084.1,1770.4 1088.6,1768.6 1093.1,1766.0 1097.6,1762.8 1102.1,1759.6 1106.6,1757.1 1111.1,1755.6 1115.6,1754.1 1120.2,1752.2 1124.7,1749.6 1129.2,1746.4 1133.7,1744.4 1138.2,1742.9 1142.7,1742.2 1147.2,1741.4 1151.8,1740.4 1156.3,1739.0 1160.8,1733.2 1165.3,1726.0 1169.8,1721.1 1174.3,1717.6 1178.8,1715.1 1183.4,1711.5 1187.9,1707.0 1192.4,1701.6 1196.9,1696.1 1201.4,1691.5 1205.9,1687.2 1210.4,1683.6 1214.9,1679.7 1219.5,1674.7 1224.0,1668.3 1228.5,1660.4 1233.0,1652.0 1237.5,1646.8 1242.0,1643.6 1246.5,1636.8 1251.1,1630.5 1255.6,1622.2 1260.1,1614.5 1264.6,1609.1 1269.1,1605.3 1273.6,1602.6 1278.1,1598.3 1282.6,1593.5 1287.2,1591.1 1291.7,1580.5 1296.2,1570.6 1300.7,1566.8 1305.2,1561.1 1309.7,1554.6 1314.2,1541.7 1318.8,1521.4 1323.3,1513.2 1327.8,1507.9 1332.3,1501.0 1336.8,1496.3 1341.3,1490.0 1345.8,1477.9 1350.3,1468.6 1354.9,1456.5 1359.9,1451.7 1364.7,1400.6 1368.4,1395.0 1372.9,1391.2 1377.4,1383.5 1381.9,1374.6 1386.5,1358.9 1391.0,1353.6 1395.5,1347.2 1400.0,1341.4 1404.5,1338.6 1409.0,1321.9 1413.5,1319.5 1418.1,1319.5 1422.6,1306.0 1427.1,1300.5 1431.6,1294.9 1436.1,1287.9 1440.6,1272.0 1445.1,1260.0 1449.6,1254.1 1454.2,1247.9 1458.7,1244.8 1463.2,1240.0 1467.7,1233.9 1472.2,1226.8 1476.7,1218.2 1481.2,1206.5 1485.8,1198.1 1490.3,1193.7 1494.8,1189.1 1499.3,1181.8 1503.8,1173.1 1508.3,1163.6 1510.0,1161.8 1512.5,1134.0 1517.3,1118.5 1521.9,1112.7 1526.4,1106.1 1530.9,1096.2 1535.4,1079.9 1539.9,1063.1 1544.4,1051.9 1548.9,1041.8 1553.5,1033.9 1558.0,1029.4 1562.5,1020.3 1567.0,1008.6 1571.5,995.0 1576.0,987.4 1580.5,976.4 1585.0,967.2 1589.9,956.0 1591.5,1084.4 1594.3,933.4 1598.6,928.0 1603.1,913.9 1607.6,899.0 1612.1,891.4 1616.6,886.7 1621.2,881.9 1625.7,876.0 1630.2,868.8 1634.7,862.2 1639.2,857.3 1643.7,855.4 1648.2,854.1 1652.8,853.0 1657.3,850.3 1661.8,845.3 1666.3,840.0 1670.8,835.6 1675.3,832.5 1679.8,831.2 1684.3,828.5 1688.9,825.0 1693.4,820.4 1697.9,815.0 1702.4,810.3 1706.9,806.9 1711.4,804.8 1715.9,803.3 1720.5,800.7 1725.0,797.7 1729.5,794.9 1734.0,792.7 1738.5,791.2 1743.0,790.2 1747.5,789.1 1752.0,787.4 1756.6,784.9 1761.1,782.1 1765.6,779.5 1770.1,778.1 1774.6,776.8 1779.1,776.1 1783.6,774.6 1788.2,773.0 1792.7,771.0 1797.2,769.1 1801.7,767.9 1806.2,767.1 1810.7,766.5 1815.2,765.5 1819.7,764.3 1824.3,762.6 1828.8,761.5 1833.3,760.8 1837.8,760.1 1842.3,759.6 1846.8,759.1 1851.3,758.4 1855.9,757.4 1860.4,756.4 1864.9,755.2 1869.4,754.5 1873.9,753.8 1878.4,752.9 1882.9,751.2 1887.5,749.4 1892.0,747.6 1896.5,746.5 1901.0,745.7 1905.5,745.2 1910.0,744.0 1914.5,742.4 1919.0,740.7 1923.6,739.5 1928.1,738.4 1932.6,738.0 1937.1,737.3 1941.6,736.7 1946.1,735.9 1950.6,734.8 1955.2,733.7 1959.7,732.8 1964.2,731.9 1968.7,731.2 1973.2,729.9 1977.7,728.0 1982.2,725.9 1986.7,723.9 1991.3,722.5 1995.8,721.7 2000.3,721.1 2004.8,720.1 2009.3,718.6 2013.8,717.1 2018.3,715.7 2022.9,714.7 2027.4,713.9 2031.9,713.4 2036.4,712.6 2040.9,711.8 2045.4,711.4 2049.9,711.2 2052.1,711.1" stroke="#7cafdd"/>
<path d="M59.5,2202.8 64.0,2202.8 68.5,2202.8 73.0,2202.8 77.6,2202.8 82.1,2202.8 86.6,2202.8 91.1,2202.8 95.6,2202.8 100.1,2202.8 104.6,2202.8 109.1,2202.8 113.7,2202.8 118.2,2202.8 122.7,2202.8 127.2,2202.8 131.7,2202.8 136.2,2202.8 140.7,2202.8 145.3,2202.8 149.8,2202.8 154.3,2202.8 158.8,2202.7 163.3,2202.5 167.8,2202.3 172.3,2202.2 176.8,2202.0 181.4,2201.9 185.9,2201.6 190.4,2201.3 194.9,2200.9 199.4,2200.6 203.9,2200.2 208.4,2199.9 213.0,2199.6 217.5,2199.2 222.0,2198.3 226.5,2197.4 231.0,2196.2 235.5,2195.5 240.0,2194.9 244.6,2194.3 249.1,2193.3 253.6,2192.1 258.1,2190.6 262.6,2189.5 267.1,2188.3 271.6,2187.6 276.1,2186.9 280.7,2186.0 285.2,2184.2 289.7,2182.5 294.2,2180.7 298.7,2179.4 303.2,2178.6 307.7,2177.5 312.3,2175.9 316.8,2173.5 321.3,2170.7 325.8,2168.0 330.3,2165.9 334.8,2163.7 339.3,2161.4 343.8,2157.6 348.4,2152.5 352.9,2147.4 357.4,2143.3 361.9,2140.9 366.4,2138.7 370.9,2137.0 375.4,2134.2 380.0,2130.9 384.5,2127.9 389.0,2124.7 393.5,2123.1 398.0,2121.9 402.5,2120.6 407.0,2119.1 411.5,2116.7 416.1,2113.5 420.6,2109.3 425.1,2106.3 429.6,2103.9 434.1,2102.3 438.6,2100.3 443.1,2097.9 447.7,2095.3 452.2,2093.3 456.7,2091.5 461.2,2090.1 465.7,2088.8 470.2,2087.4 474.7,2085.2 479.3,2082.0 483.8,2079.5 488.3,2077.3 492.8,2076.0 497.3,2074.7 501.8,2072.4 506.3,2069.8 510.8,2066.7 515.4,2063.6 519.9,2062.0 524.4,2060.9 528.9,2059.7 533.4,2058.0 537.9,2055.7 542.4,2053.4 547.0,2051.2 551.5,2049.2 556.0,2048.0 560.5,2047.2 565.0,2045.9 569.5,2044.4 574.0,2042.4 578.5,2041.4 583.1,2040.6 587.6,2040.0 592.1,2039.4 596.6,2038.6 601.1,2037.6 605.6,2036.3 610.1,2035.0 614.7,2034.1 619.2,2033.7 623.7,2033.6 628.2,2033.5 632.7,2033.3 637.2,2033.0 641.7,2032.0 646.2,2031.1 650.8,2030.7 655.3,2030.0 659.8,2028.9 664.3,2027.5 668.8,2025.7 673.3,2024.0 677.8,2023.0 682.4,2022.0 686.9,2021.2 691.4,2019.8 695.9,2018.2 700.4,2016.4 704.9,2014.9 709.4,2013.9 714.0,2013.0 718.5,2012.1 723.0,2010.8 727.5,2009.0 732.0,2007.2 736.5,2005.2 741.0,2004.0 745.5,2003.0 750.1,2002.0 754.6,2000.4 759.1,1998.6 763.6,1996.3 768.1,1994.1 772.6,1992.6 777.1,1991.5 781.7,1990.4 786.2,1988.6 790.7,1986.3 795.2,1983.9 799.7,1981.6 804.2,1979.7 808.7,1978.6 813.2,1977.5 817.8,1975.7 822.3,1973.5 826.8,1971.3 831.3,1969.4 835.8,1967.8 840.3,1966.8 844.8,1965.4 849.4,1963.8 853.9,1961.4 858.4,1958.3 862.9,1955.7 867.4,1953.3 871.9,1951.7 876.4,1950.4 880.9,1946.8 885.5,1942.5 890.0,1937.6 894.5,1933.5 899.0,1932.1 903.5,1931.4 908.0,1930.5 912.5,1929.4 917.1,1927.5 921.6,1925.0 926.1,1922.7 930.6,1921.1 935.1,1919.9 939.6,1918.8 944.1,1917.1 948.7,1914.7 953.2,1912.3 957.7,1910.2 962.2,1909.1 966.7,1908.2 971.2,1907.4 975.7,1906.1 980.2,1904.3 984.8,1901.6 989.3,1899.3 993.8,1897.8 998.3,1896.6 1002.8,1894.9 1007.3,1893.3 1011.8,1890.4 1016.4,1887.6 1020.9,1884.5 1025.4,1882.2 1029.9,1880.8 1034.4,1879.3 1038.9,1877.0 1043.4,1874.3 1047.9,1871.6 1052.5,1868.5 1057.0,1866.1 1061.5,1864.6 1066.0,1862.9 1070.5,1860.0 1075.0,1856.7 1079.5,1852.4 1084.1,1849.3 1088.6,1846.5 1093.1,1844.6 1097.6,1842.3 1102.1,1839.6 1106.6,1835.9 1111.1,1831.6 1115.6,1828.2 1120.2,1825.2 1124.7,1823.3 1129.2,1821.1 1133.7,1818.4 1138.2,1814.3 1142.7,1809.5 1147.2,1805.4 1151.8,1802.7 1156.3,1800.4 1160.8,1798.3 1165.3,1794.7 1169.8,1790.6 1174.3,1785.6 1178.8,1781.1 1183.4,1777.3 1187.9,1775.0 1192.4,1772.5 1196.9,1768.6 1201.4,1764.0 1205.9,1758.3 1210.4,1752.2 1214.9,1747.5 1219.5,1744.6 1224.0,1741.2 1228.5,1735.9 1233.0,1727.1 1237.5,1715.1 1242.0,1706.4 1246.5,1701.9 1251.1,1697.9 1255.6,1695.0 1260.1,1689.9 1264.6,1677.9 1269.1,1662.2 1273.6,1651.0 1278.1,1644.1 1282.6,1637.8 1287.2,1629.3 1291.7,1619.0 1296.2,1610.5 1300.7,1602.6 1305.2,1597.5 1309.7,1590.2 1314.2,1584.2 1318.8,1577.8 1323.3,1570.3 1327.8,1562.5 1332.3,1530.2 1334.0,1526.8 1335.6,1500.5 1340.0,1472.7 1341.3,1460.4 1345.8,1450.0 1350.3,1445.9 1354.9,1440.1 1359.4,1432.3 1363.9,1424.1 1368.4,1408.7 1372.9,1396.4 1377.4,1390.6 1381.9,1384.9 1386.5,1373.3 1391.0,1359.0 1395.5,1344.3 1400.0,1335.1 1404.5,1323.3 1409.0,1321.0 1413.5,1321.0 1418.1,1321.0 1422.6,1319.1 1427.1,1301.8 1431.6,1286.8 1436.1,1275.7 1440.6,1267.9 1445.1,1263.1 1449.6,1259.5 1454.2,1255.4 1458.7,1248.1 1463.2,1244.9 1467.7,1236.5 1472.2,1232.1 1476.7,1230.7 1481.2,1230.3 1485.8,1229.7 1490.3,1221.9 1494.8,1211.1 1499.3,1203.7 1503.8,1198.8 1508.3,1191.2 1512.8,1186.3 1517.3,1185.7 1521.9,1185.1 1526.4,1170.5 1530.9,1160.1 1535.4,1157.2 1539.9,1154.3 1544.4,1151.8 1548.9,1148.7 1553.5,1145.7 1558.0,1141.1 1562.5,1136.9 1565.6,1134.0 1571.9,1109.2 1576.0,1055.9 1580.5,1046.5 1585.0,1041.8 1589.6,1023.8 1594.1,1010.9 1598.6,1004.4 1603.1,1002.7 1607.6,999.5 1612.1,997.1 1616.6,993.7 1621.2,985.7 1625.7,980.5 1630.2,978.3 1634.7,976.5 1639.2,973.3 1643.7,970.6 1648.2,966.8 1652.8,957.1 1657.3,951.4 1661.8,948.1 1666.3,946.2 1670.8,946.2 1675.3,943.5 1679.8,936.6 1684.3,928.1 1688.9,922.6 1693.4,918.9 1697.9,915.6 1702.4,913.9 1706.9,913.9 1711.4,909.2 1715.9,906.7 1720.5,902.0 1725.0,898.0 1729.5,896.0 1734.0,895.1 1738.5,893.7 1743.0,889.9 1747.5,881.7 1752.0,878.7 1756.6,877.9 1761.1,877.2 1765.6,876.2 1770.1,875.3 1774.6,872.3 1779.1,868.3 1783.6,867.0 1788.2,866.7 1792.7,866.4 1797.2,865.9 1801.7,865.4 1806.2,863.2 1810.7,860.8 1815.2,858.9 1819.7,857.5 1824.3,856.2 1828.8,855.1 1833.3,853.5 1837.8,851.4 1842.3,849.4 1846.8,844.7 1851.3,842.1 1855.9,838.5 1860.4,834.0 1864.9,830.5 1869.4,828.8 1873.9,827.2 1878.4,826.0 1882.9,824.8 1887.5,824.5 1892.0,824.3 1896.5,824.1 1901.0,823.9 1905.5,822.8 1910.0,821.2 1914.5,820.0 1919.0,818.6 1923.6,817.0 1928.1,816.7 1932.6,816.4 1937.1,815.1 1941.6,813.6 1946.1,812.5 1950.6,810.6 1955.2,807.9 1959.7,807.3 1964.2,807.3 1968.7,805.8 1973.2,804.7 1977.7,803.9 1982.2,802.8 1986.7,801.7 1991.3,800.1 1995.8,798.6 2000.3,797.1 2004.8,796.1 2009.3,795.5 2013.8,794.8 2018.3,793.9 2022.9,792.7 2027.4,791.4 2031.9,790.7 2036.4,790.2 2040.9,789.8 2045.4,789.4 2049.9,788.7 2052.1,788.5" stroke="#8cc168"/>
<path d="M59.5,2202.8 64.0,2202.8 68.5,2202.8 73.0,2202.8 77.6,2202.8 82.1,2202.8 86.6,2202.8 91.1,2202.8 95.6,2202.8 100.1,2202.8 104.6,2202.8 109.1,2202.8 113.7,2202.8 118.2,2202.8 122.7,2202.8 127.2,2202.8 131.7,2202.8 136.2,2202.8 140.7,2202.8 145.3,2202.8 149.8,2202.7 154.3,2202.6 158.8,2202.5 163.3,2202.2 167.8,2201.9 172.3,2201.7 176.8,2201.6 181.4,2201.4 185.9,2201.1 190.4,2200.7 194.9,2200.2 199.4,2199.8 203.9,2199.4 208.4,2199.0 213.0,2198.5 217.5,2197.6 222.0,2195.8 226.5,2193.8 231.0,2192.2 235.5,2190.9 240.0,2190.1 244.6,2189.0 249.1,2187.4 253.6,2185.4 258.1,2183.9 262.6,2182.5 267.1,2181.7 271.6,2181.2 276.1,2180.5 280.7,2179.3 285.2,2178.1 289.7,2176.8 294.2,2175.8 298.7,2175.0 303.2,2174.5 307.7,2173.8 312.3,2172.9 316.8,2171.7 321.3,2170.6 325.8,2169.5 330.3,2168.7 334.8,2168.2 339.3,2167.7 343.8,2166.7 348.4,2165.6 352.9,2164.2 357.4,2163.1 361.9,2162.5 366.4,2161.8 370.9,2161.3 375.4,2160.4 380.0,2159.3 384.5,2158.2 389.0,2157.2 393.5,2156.7 398.0,2156.2 402.5,2155.8 407.0,2155.2 411.5,2154.4 416.1,2153.5 420.6,2152.9 425.1,2152.5 429.6,2152.2 434.1,2151.8 438.6,2151.3 443.1,2150.6 447.7,2149.9 452.2,2149.4 456.7,2149.0 461.2,2148.7 465.7,2148.3 470.2,2147.8 474.7,2147.1 479.3,2146.3 483.8,2145.7 488.3,2145.3 492.8,2145.0 497.3,2144.6 501.8,2143.9 506.3,2143.2 510.8,2142.5 515.4,2141.8 519.9,2141.4 524.4,2141.2 528.9,2140.7 533.4,2140.3 537.9,2139.6 542.4,2139.0 547.0,2138.5 551.5,2138.1 556.0,2137.9 560.5,2137.6 565.0,2137.2 569.5,2136.7 574.0,2136.1 578.5,2135.7 583.1,2135.3 587.6,2135.1 592.1,2134.8 596.6,2134.4 601.1,2133.8 605.6,2133.1 610.1,2132.6 614.7,2132.3 619.2,2131.9 623.7,2131.7 628.2,2131.2 632.7,2130.4 637.2,2129.7 641.7,2129.1 646.2,2128.8 650.8,2128.4 655.3,2128.0 659.8,2127.5 664.3,2126.6 668.8,2125.8 673.3,2124.9 677.8,2124.4 682.4,2123.9 686.9,2123.4 691.4,2122.7 695.9,2121.6 700.4,2120.3 704.9,2119.4 709.4,2118.6 714.0,2118.1 718.5,2117.5 723.0,2116.6 727.5,2115.3 732.0,2113.9 736.5,2112.9 741.0,2112.2 745.5,2111.6 750.1,2111.1 754.6,2110.2 759.1,2109.1 763.6,2107.8 768.1,2106.8 772.6,2106.1 777.1,2105.7 781.7,2105.0 786.2,2104.2 790.7,2103.1 795.2,2101.7 799.7,2100.8 804.2,2100.1 808.7,2099.6 813.2,2099.0 817.8,2098.1 822.3,2097.2 826.8,2096.0 831.3,2095.3 835.8,2094.7 840.3,2094.3 844.8,2093.9 849.4,2093.0 853.9,2092.1 858.4,2091.0 862.9,2090.2 867.4,2089.6 871.9,2089.1 876.4,2088.5 880.9,2087.6 885.5,2086.1 890.0,2084.6 894.5,2083.1 899.0,2082.0 903.5,2080.9 908.0,2080.0 912.5,2077.9 917.1,2075.6 921.6,2072.7 926.1,2070.2 930.6,2068.7 935.1,2067.1 939.6,2065.7 944.1,2063.5 948.7,2061.0 953.2,2058.0 957.7,2055.8 962.2,2054.3 966.7,2053.5 971.2,2052.4 975.7,2050.3 980.2,2047.8 984.8,2045.4 989.3,2043.0 993.8,2041.8 998.3,2040.6 1002.8,2039.2 1007.3,2037.2 1011.8,2034.5 1016.4,2031.6 1020.9,2028.5 1025.4,2026.8 1029.9,2025.6 1034.4,2023.4 1038.9,2020.6 1043.4,2017.0 1047.9,2012.4 1052.5,2009.0 1057.0,2006.8 1061.5,2004.8 1066.0,2002.8 1070.5,1999.5 1075.0,1995.0 1079.5,1990.7 1084.1,1986.8 1088.6,1984.7 1093.1,1982.9 1097.6,1981.2 1102.1,1978.8 1106.6,1975.2 1111.1,1971.9 1115.6,1968.8 1120.2,1967.1 1124.7,1965.7 1129.2,1964.0 1133.7,1961.1 1138.2,1957.7 1142.7,1953.8 1147.2,1950.8 1151.8,1948.8 1156.3,1946.7 1160.8,1944.8 1165.3,1941.4 1169.8,1936.6 1174.3,1931.5 1178.8,1926.3 1183.4,1922.5 1187.9,1919.5 1192.4,1916.8 1196.9,1912.3 1201.4,1904.9 1205.9,1898.4 1210.4,1892.7 1214.9,1888.3 1219.5,1885.2 1224.0,1882.0 1228.5,1877.2 1233.0,1870.7 1237.5,1865.3 1242.0,1860.0 1246.5,1856.4 1251.1,1854.6 1255.6,1851.5 1260.1,1847.7 1264.6,1841.5 1269.1,1835.7 1273.6,1830.3 1278.1,1826.6 1282.6,1824.1 1287.2,1820.6 1291.7,1815.1 1296.2,1807.8 1300.7,1798.8 1305.2,1791.3 1309.7,1784.8 1314.2,1780.3 1318.8,1773.3 1323.3,1765.1 1327.8,1751.2 1332.3,1733.8 1336.8,1713.6 1341.3,1699.9 1345.8,1692.1 1350.3,1679.8 1354.9,1663.1 1359.4,1641.4 1363.9,1631.7 1368.4,1615.2 1372.9,1614.8 1377.4,1611.6 1381.9,1605.5 1386.5,1592.7 1391.0,1578.1 1395.5,1575.6 1400.0,1561.3 1404.5,1561.0 1409.0,1560.8 1413.5,1560.6 1418.1,1560.3 1422.6,1558.1 1425.9,1550.8 1430.4,1523.8 1436.4,1490.0 1439.5,1459.2 1440.6,1459.0 1445.1,1450.2 1449.6,1450.2 1454.2,1448.6 1458.7,1444.3 1463.2,1440.8 1467.7,1438.3 1470.2,1437.4 1473.3,1399.1 1476.7,1398.8 1481.2,1397.2 1482.5,1396.1 1484.1,1368.3 1485.8,1368.1 1490.3,1353.7 1494.8,1345.2 1499.3,1344.6 1502.4,1344.3 1504.0,1321.0 1508.3,1319.6 1512.8,1316.5 1517.3,1305.6 1521.9,1297.8 1526.4,1295.2 1530.9,1287.7 1535.4,1282.7 1539.9,1276.7 1544.4,1276.3 1548.9,1275.8 1553.5,1275.3 1558.0,1254.0 1562.5,1253.5 1567.0,1253.2 1569.7,1252.7 1571.3,1229.4 1576.0,1229.0 1580.5,1227.9 1585.0,1225.1 1589.6,1212.4 1594.0,1206.1 1595.6,1177.5 1598.6,1168.7 1603.1,1160.4 1607.6,1152.3 1612.1,1139.4 1616.6,1119.9 1621.2,1105.3 1625.7,1101.7 1630.2,1093.7 1634.7,1086.3 1639.2,1085.4 1643.7,1082.0 1648.2,1073.0 1652.8,1065.0 1655.6,1064.1 1659.7,1035.6 1661.8,1031.2 1666.3,1025.7 1670.8,1024.4 1675.3,1020.0 1679.8,1012.0 1684.3,1007.4 1688.9,1005.6 1693.4,1003.7 1697.9,1002.1 1702.4,999.9 1706.9,993.4 1711.4,984.8 1715.9,972.8 1720.5,972.4 1725.0,970.4 1729.5,968.4 1734.0,966.8 1738.5,966.0 1743.0,965.2 1747.5,962.3 1752.0,959.0 1756.6,959.0 1761.1,959.0 1765.6,959.0 1770.1,959.0 1774.6,959.0 1779.1,959.0 1783.6,959.0 1788.2,958.0 1792.7,956.3 1797.2,956.0 1801.7,956.0 1806.2,955.8 1810.7,955.5 1815.2,955.4 1819.7,955.2 1824.3,951.4 1828.8,949.8 1833.3,949.5 1837.8,949.2 1842.3,946.5 1846.8,944.2 1851.3,942.9 1855.9,940.5 1860.4,937.4 1864.9,934.8 1869.4,934.3 1873.9,934.0 1878.4,933.8 1882.9,933.6 1887.5,933.4 1892.0,933.3 1896.5,933.2 1901.0,933.1 1905.5,933.0 1910.0,932.9 1914.5,932.7 1919.0,931.1 1923.6,927.4 1928.1,927.4 1932.6,927.4 1937.1,926.8 1941.6,926.2 1946.1,925.9 1950.6,925.3 1955.2,924.6 1959.7,924.4 1964.2,924.4 1968.7,924.4 1973.2,924.4 1977.7,924.4 1982.2,924.4 1986.7,924.4 1991.3,923.8 1995.8,922.9 2000.3,922.1 2004.8,921.5 2009.3,921.0 2013.8,920.6 2018.3,919.8 2022.9,918.6 2027.4,917.4 2031.9,915.7 2036.4,914.5 2040.9,913.5 2045.4,912.8 2049.9,910.7 2052.1,910.2" stroke="#335aa1"/>
<path d="M59.5,2202.8 64.0,2202.8 68.5,2202.8 73.0,2202.8 77.6,2202.8 82.1,2202.8 86.6,2202.8 91.1,2202.8 95.6,2202.8 100.1,2202.8 104.6,2202.8 109.1,2202.8 113.7,2202.8 118.2,2202.8 122.7,2202.8 127.2,2202.8 131.7,2202.8 136.2,2202.8 140.7,2202.8 145.3,2202.7 149.8,2202.7 154.3,2202.5 158.8,2202.3 163.3,2202.1 167.8,2201.9 172.3,2201.8 176.8,2201.6 181.4,2201.4 185.9,2201.0 190.4,2200.6 194.9,2200.2 199.4,2199.8 203.9,2199.5 208.4,2199.3 213.0,2198.5 217.5,2197.4 222.0,2195.6 226.5,2193.5 231.0,2192.4 235.5,2191.2 240.0,2190.3 244.6,2189.0 249.1,2187.0 253.6,2184.8 258.1,2182.9 262.6,2181.7 267.1,2180.9 271.6,2180.2 276.1,2179.0 280.7,2177.4 285.2,2175.5 289.7,2173.8 294.2,2172.6 298.7,2171.8 303.2,2171.2 307.7,2170.1 312.3,2168.3 316.8,2166.6 321.3,2165.0 325.8,2164.0 330.3,2163.4 334.8,2162.5 339.3,2161.5 343.8,2160.0 348.4,2158.6 352.9,2157.1 357.4,2156.0 361.9,2155.5 366.4,2154.8 370.9,2153.9 375.4,2152.5 380.0,2151.2 384.5,2149.7 389.0,2148.8 393.5,2148.1 398.0,2147.4 402.5,2146.7 407.0,2145.3 411.5,2143.5 416.1,2142.1 420.6,2141.1 425.1,2140.5 429.6,2139.7 434.1,2138.8 438.6,2137.3 443.1,2135.8 447.7,2134.5 452.2,2133.4 456.7,2132.7 461.2,2132.1 465.7,2131.4 470.2,2130.2 474.7,2128.6 479.3,2127.6 483.8,2126.8 488.3,2126.3 492.8,2125.7 497.3,2125.0 501.8,2124.0 506.3,2122.8 510.8,2121.8 515.4,2121.2 519.9,2120.8 524.4,2120.2 528.9,2119.6 533.4,2118.6 537.9,2117.5 542.4,2116.6 547.0,2115.9 551.5,2115.4 556.0,2114.8 560.5,2114.2 565.0,2113.1 569.5,2112.1 574.0,2111.1 578.5,2110.4 583.1,2110.0 587.6,2109.7 592.1,2109.0 596.6,2108.2 601.1,2107.5 605.6,2106.8 610.1,2106.4 614.7,2106.2 619.2,2106.0 623.7,2105.7 628.2,2105.4 632.7,2105.0 637.2,2104.6 641.7,2104.3 646.2,2104.0 650.8,2103.8 655.3,2103.3 659.8,2102.2 664.3,2100.6 668.8,2099.0 673.3,2097.8 677.8,2097.0 682.4,2096.1 686.9,2095.0 691.4,2093.4 695.9,2091.3 700.4,2089.7 704.9,2088.4 709.4,2087.5 714.0,2086.8 718.5,2085.7 723.0,2083.9 727.5,2082.0 732.0,2080.5 736.5,2079.2 741.0,2078.7 745.5,2078.0 750.1,2076.9 754.6,2075.6 759.1,2074.0 763.6,2072.5 768.1,2071.2 772.6,2070.6 777.1,2069.9 781.7,2068.6 786.2,2067.0 790.7,2065.2 795.2,2063.5 799.7,2062.0 804.2,2061.4 808.7,2060.4 813.2,2059.3 817.8,2057.7 822.3,2055.6 826.8,2053.8 831.3,2052.7 835.8,2051.7 840.3,2051.2 844.8,2049.8 849.4,2048.1 853.9,2046.3 858.4,2044.7 862.9,2043.6 867.4,2042.8 871.9,2042.1 876.4,2041.0 880.9,2039.6 885.5,2038.0 890.0,2036.7 894.5,2035.8 899.0,2035.3 903.5,2034.8 908.0,2034.0 912.5,2032.9 917.1,2031.6 921.6,2029.8 926.1,2028.5 930.6,2027.9 935.1,2026.9 939.6,2025.8 944.1,2024.0 948.7,2021.5 953.2,2019.7 957.7,2018.4 962.2,2017.8 966.7,2016.9 971.2,2015.8 975.7,2014.1 980.2,2012.7 984.8,2011.6 989.3,2010.7 993.8,2010.4 998.3,2009.9 1002.8,2009.1 1007.3,2007.8 1011.8,2006.4 1016.4,2004.9 1020.9,2003.6 1025.4,2002.8 1029.9,2002.2 1034.4,2000.8 1038.9,1999.2 1043.4,1997.1 1047.9,1995.3 1052.5,1994.1 1057.0,1993.5 1061.5,1992.5 1066.0,1991.5 1070.5,1989.7 1075.0,1987.6 1079.5,1985.8 1084.1,1984.2 1088.6,1983.4 1093.1,1982.7 1097.6,1981.5 1102.1,1979.7 1106.6,1977.8 1111.1,1976.1 1115.6,1974.9 1120.2,1974.1 1124.7,1973.4 1129.2,1972.0 1133.7,1970.2 1138.2,1967.6 1142.7,1965.3 1147.2,1963.7 1151.8,1962.4 1156.3,1961.6 1160.8,1959.7 1165.3,1957.5 1169.8,1954.9 1174.3,1952.1 1178.8,1950.4 1183.4,1948.9 1187.9,1947.5 1192.4,1946.0 1196.9,1943.7 1201.4,1942.4 1205.9,1939.0 1210.4,1936.6 1214.9,1935.6 1219.5,1934.6 1224.0,1933.0 1228.5,1929.6 1233.0,1925.4 1237.5,1920.6 1242.0,1917.2 1246.5,1915.7 1251.1,1913.3 1255.6,1910.2 1260.1,1907.4 1264.6,1904.4 1269.1,1903.5 1273.6,1902.7 1278.1,1900.4 1282.6,1898.7 1287.2,1895.3 1291.7,1890.7 1296.2,1885.6 1300.7,1880.9 1305.2,1876.3 1309.7,1872.4 1314.2,1868.7 1318.8,1864.2 1323.3,1859.2 1327.8,1854.8 1332.3,1851.1 1336.8,1848.0 1341.3,1846.1 1345.8,1843.8 1350.3,1841.3 1354.9,1837.9 1359.4,1833.8 1363.9,1830.5 1368.4,1827.5 1372.9,1825.1 1377.4,1822.5 1381.9,1819.5 1386.5,1813.9 1391.0,1806.8 1395.5,1801.7 1400.0,1797.9 1404.5,1794.7 1409.0,1792.3 1413.5,1789.2 1418.1,1783.1 1422.6,1777.1 1427.1,1772.0 1431.6,1767.7 1436.1,1764.7 1440.6,1762.6 1445.1,1758.2 1449.6,1753.5 1454.2,1746.4 1458.7,1740.1 1463.2,1734.6 1467.7,1731.4 1472.2,1728.5 1476.7,1725.2 1481.2,1719.6 1485.8,1713.1 1490.3,1707.3 1494.8,1702.0 1499.3,1698.5 1503.8,1695.5 1508.3,1690.8 1512.8,1682.9 1517.3,1674.1 1521.9,1663.3 1526.4,1655.5 1530.9,1651.0 1535.4,1646.5 1539.9,1641.5 1544.4,1633.6 1548.9,1625.3 1553.5,1616.1 1558.0,1608.0 1562.5,1603.8 1567.0,1597.9 1571.5,1590.7 1576.0,1582.8 1580.5,1574.4 1585.0,1564.8 1589.6,1557.9 1594.1,1553.9 1598.6,1549.2 1603.1,1540.8 1607.6,1529.7 1612.1,1519.2 1616.6,1509.9 1621.2,1503.4 1625.7,1499.7 1630.2,1495.2 1634.7,1492.7 1639.2,1489.0 1643.7,1485.2 1648.2,1479.6 1652.8,1475.9 1657.3,1473.7 1661.8,1471.2 1666.3,1469.2 1670.8,1466.5 1675.3,1458.5 1679.8,1452.3 1684.3,1447.2 1688.9,1443.3 1693.4,1439.9 1697.9,1436.7 1702.4,1431.1 1706.9,1428.3 1711.4,1423.8 1715.9,1420.7 1720.5,1418.2 1725.0,1414.6 1729.5,1409.5 1734.0,1402.1 1738.5,1398.1 1743.0,1391.8 1747.5,1386.8 1752.0,1383.8 1756.6,1381.9 1761.1,1378.3 1765.6,1374.3 1770.1,1370.6 1774.6,1365.5 1779.1,1355.5 1780.4,1360.1 1782.3,1331.5 1784.5,1290.2 1788.2,1278.3 1792.7,1256.7 1797.2,1246.5 1801.7,1238.7 1806.2,1228.9 1810.7,1220.8 1815.2,1215.3 1819.7,1207.4 1824.3,1198.8 1828.8,1196.0 1833.3,1192.8 1837.8,1188.8 1842.3,1185.6 1846.8,1183.4 1851.3,1181.9 1855.9,1179.7 1860.4,1177.0 1864.9,1173.9 1869.4,1170.7 1873.9,1168.7 1878.4,1167.5 1882.9,1166.1 1887.5,1164.6 1892.0,1161.7 1896.5,1158.4 1901.0,1156.5 1905.5,1154.6 1910.0,1152.9 1914.5,1152.0 1919.0,1149.7 1923.6,1146.9 1928.1,1144.1 1932.6,1141.6 1937.1,1139.5 1941.6,1138.1 1946.1,1137.1 1950.6,1133.5 1955.2,1129.0 1959.7,1125.3 1964.2,1122.6 1968.7,1121.7 1973.2,1120.8 1977.7,1120.2 1982.2,1119.1 1986.7,1117.7 1991.3,1115.5 1995.8,1113.6 2000.3,1112.1 2004.8,1111.5 2009.3,1110.4 2013.8,1108.7 2018.3,1106.4 2022.9,1103.9 2027.4,1101.6 2031.9,1100.1 2036.4,1098.9 2040.9,1097.7 2045.4,1096.3 2049.9,1093.4 2052.1,1092.7" stroke="#d26012"/>
<path d="M59.5,2202.8 64.0,2202.8 68.5,2202.7 73.0,2202.7 77.6,2202.7 82.1,2202.6 86.6,2202.6 91.1,2202.6 95.6,2202.6 100.1,2202.5 104.6,2202.5 109.1,2202.4 113.7,2202.4 118.2,2202.4 122.7,2202.3 127.2,2202.3 131.7,2202.2 136.2,2202.1 140.7,2201.8 145.3,2201.5 149.8,2201.2 154.3,2200.5 158.8,2199.4 163.3,2197.7 167.8,2195.9 172.3,2191.6 176.8,2188.4 181.4,2186.8 185.9,2185.5 190.4,2183.8 194.9,2172.7 199.4,2156.5 203.9,2145.2 208.4,2136.6 213.0,2129.4 217.5,2120.7 222.0,2111.6 226.5,2098.3 231.0,2085.7 235.5,2078.3 240.0,2073.8 244.6,2070.5 249.1,2065.4 253.6,2060.2 258.1,2046.3 259.2,2044.3 265.2,2020.3 267.1,2012.5 271.6,2005.5 276.1,2000.3 280.7,1995.5 285.2,1991.2 289.7,1982.7 294.2,1969.4 298.7,1954.1 303.2,1941.0 307.7,1935.3 312.3,1928.9 316.8,1923.9 321.3,1917.8 325.8,1906.1 330.3,1897.4 334.8,1890.9 339.3,1886.2 343.8,1880.7 348.4,1872.7 352.9,1863.8 357.4,1855.6 361.9,1849.4 366.4,1845.1 370.9,1840.7 375.4,1835.9 380.0,1829.9 384.5,1822.3 389.0,1813.5 393.5,1808.0 398.0,1803.9 402.5,1801.8 407.0,1797.5 411.5,1792.2 416.1,1786.2 420.6,1780.2 425.1,1776.4 429.6,1773.1 434.1,1771.1 438.6,1769.0 443.1,1765.9 447.7,1763.2 452.2,1761.0 456.7,1759.0 461.2,1757.9 465.7,1756.6 470.2,1755.2 474.7,1752.4 479.3,1748.1 483.8,1742.8 488.3,1739.3 492.8,1735.9 497.3,1734.2 501.8,1731.1 506.3,1728.5 510.8,1725.9 515.4,1724.0 519.9,1722.4 524.4,1721.6 528.9,1720.6 533.4,1719.7 537.9,1718.1 542.4,1716.0 547.0,1712.8 551.5,1709.8 556.0,1708.1 560.5,1706.3 565.0,1704.2 569.5,1701.6 574.0,1698.3 578.5,1695.3 583.1,1692.8 587.6,1691.3 592.1,1689.8 596.6,1688.2 601.1,1686.0 605.6,1683.3 610.1,1680.6 614.7,1678.7 619.2,1677.3 623.7,1675.9 628.2,1674.1 632.7,1671.4 637.2,1667.9 641.7,1664.5 646.2,1661.5 650.8,1659.0 655.3,1657.4 659.8,1655.4 664.3,1652.4 668.8,1648.9 673.3,1646.0 677.8,1643.7 682.4,1641.8 686.9,1640.0 691.4,1637.4 695.9,1630.9 700.4,1621.5 704.9,1612.2 709.4,1607.3 714.0,1605.4 718.5,1603.8 723.0,1601.4 727.5,1596.8 732.0,1589.4 736.5,1581.5 741.0,1575.2 745.5,1570.6 750.1,1566.9 754.6,1561.4 759.1,1555.5 763.6,1551.3 768.1,1543.8 772.6,1536.0 777.1,1529.5 781.7,1524.6 786.2,1522.1 790.7,1514.2 795.2,1508.6 799.7,1500.8 804.2,1492.6 808.7,1489.4 813.2,1488.5 817.8,1486.1 822.3,1475.6 826.8,1470.0 831.3,1462.5 835.8,1454.5 840.3,1448.6 844.8,1447.2 849.4,1444.6 853.9,1437.7 858.4,1431.8 862.9,1421.1 867.4,1415.2 871.9,1412.0 876.4,1411.9 880.9,1411.5 885.5,1407.6 890.0,1402.9 894.5,1396.5 899.0,1392.6 903.5,1391.4 908.0,1390.9 912.5,1388.8 917.1,1381.6 921.6,1378.2 926.1,1374.0 930.6,1370.4 935.1,1364.9 939.6,1363.7 944.1,1363.1 948.7,1358.5 953.2,1353.7 957.7,1349.6 962.2,1346.2 966.7,1344.0 971.2,1342.0 975.7,1342.0 980.2,1336.6 984.8,1334.4 989.3,1331.1 993.8,1328.1 998.3,1325.7 1002.8,1324.8 1007.3,1324.3 1011.8,1321.5 1016.4,1317.9 1020.9,1316.5 1025.4,1312.9 1029.9,1309.7 1034.4,1309.0 1038.9,1309.0 1043.4,1303.9 1047.9,1301.5 1052.5,1299.9 1057.0,1299.2 1061.5,1296.2 1066.0,1294.0 1070.5,1293.8 1075.0,1291.1 1079.5,1287.9 1084.1,1285.2 1088.6,1282.9 1093.1,1281.1 1097.6,1280.2 1102.1,1279.8 1106.6,1276.9 1111.1,1272.7 1115.6,1270.7 1120.2,1268.5 1124.7,1266.4 1129.2,1264.8 1133.7,1263.0 1138.2,1260.8 1142.7,1257.2 1147.2,1252.2 1151.8,1250.4 1156.3,1249.7 1160.8,1249.1 1165.3,1248.2 1169.8,1246.1 1174.3,1243.9 1178.8,1240.6 1183.4,1237.4 1187.9,1235.6 1192.4,1233.5 1196.9,1231.7 1201.4,1229.4 1205.9,1226.1 1210.4,1222.4 1214.9,1219.4 1219.5,1217.5 1224.0,1216.5 1228.5,1216.2 1233.0,1215.4 1237.5,1211.4 1242.0,1206.6 1246.5,1202.2 1251.1,1199.6 1255.6,1198.3 1260.1,1197.2 1264.6,1191.7 1269.1,1184.7 1273.6,1179.1 1278.1,1173.8 1282.6,1171.2 1287.2,1170.0 1291.7,1168.9 1296.2,1166.7 1300.7,1160.6 1305.2,1154.9 1309.7,1150.4 1314.2,1147.9 1318.8,1146.3 1323.3,1145.6 1327.8,1141.1 1332.3,1135.4 1336.8,1126.9 1341.3,1122.1 1345.8,1118.6 1350.3,1115.8 1354.9,1101.4 1359.4,1093.7 1363.9,1086.4 1368.4,1079.8 1372.9,1075.8 1377.4,1071.9 1381.9,1069.9 1386.5,1065.4 1391.0,1057.3 1395.5,1047.9 1400.0,1036.9 1404.5,1029.2 1409.0,1028.8 1413.5,1028.8 1418.1,1028.8 1422.6,1024.7 1427.1,1012.9 1431.6,1002.0 1436.1,995.0 1440.6,993.5 1445.1,993.5 1449.6,992.8 1454.2,981.6 1458.7,972.3 1463.2,961.8 1467.7,954.3 1472.2,942.5 1476.7,937.4 1481.2,934.4 1485.8,929.8 1490.3,920.6 1494.8,909.8 1499.3,901.3 1503.8,899.6 1508.3,899.6 1512.8,896.8 1517.3,877.5 1521.9,864.9 1526.4,852.5 1530.9,842.7 1535.4,836.0 1539.9,833.5 1544.4,833.5 1548.9,824.7 1553.5,814.4 1558.0,805.9 1562.5,795.9 1567.0,789.0 1571.5,783.6 1576.0,781.3 1580.5,770.8 1585.0,758.2 1589.6,749.0 1594.1,744.9 1598.6,742.9 1603.1,740.7 1607.6,738.1 1612.1,733.5 1616.6,728.9 1621.2,720.9 1625.7,713.7 1630.2,711.0 1634.7,708.2 1639.2,705.5 1643.7,702.3 1648.2,695.8 1652.8,687.5 1657.3,685.7 1661.8,682.3 1666.3,681.0 1670.8,678.8 1675.3,676.0 1679.8,672.9 1684.3,666.1 1688.9,661.7 1693.4,658.2 1697.9,656.3 1702.4,654.7 1706.9,651.9 1711.4,647.2 1715.9,643.0 1720.5,639.8 1725.0,637.2 1729.5,636.0 1734.0,635.8 1738.5,631.5 1743.0,626.9 1747.5,619.9 1752.0,617.0 1756.6,614.7 1761.1,612.9 1765.6,610.7 1770.1,607.5 1774.6,602.2 1779.1,599.9 1783.6,598.5 1788.2,597.9 1792.7,597.7 1797.2,597.7 1801.7,596.3 1806.2,591.6 1810.7,586.7 1815.2,582.9 1819.7,581.9 1824.3,581.4 1828.8,579.3 1833.3,575.8 1837.8,572.0 1842.3,569.0 1846.8,566.9 1851.3,566.9 1855.9,566.9 1860.4,566.9 1864.9,566.9 1869.4,564.3 1873.9,560.8 1878.4,558.7 1882.9,556.9 1887.5,555.5 1892.0,554.7 1896.5,553.4 1901.0,551.6 1905.5,549.3 1910.0,547.0 1914.5,545.7 1919.0,545.1 1923.6,545.1 1928.1,543.8 1932.6,541.3 1937.1,538.7 1941.6,536.9 1946.1,535.9 1950.6,535.5 1955.2,535.0 1959.7,534.2 1964.2,532.9 1968.7,531.5 1973.2,530.5 1977.7,529.5 1982.2,529.0 1986.7,528.0 1991.3,526.8 1995.8,525.4 2000.3,524.1 2004.8,522.8 2009.3,521.9 2013.8,521.1 2018.3,520.0 2022.9,518.2 2027.4,515.7 2031.9,513.9 2036.4,513.0 2040.9,512.8 2045.4,512.8 2049.9,512.8 2052.1,512.8" stroke="#848484"/>
<path d="M59.5,2202.8 64.0,2202.8 68.5,2202.8 73.0,2202.8 77.6,2202.8 82.1,2202.8 86.6,2202.8 91.1,2202.8 95.6,2202.8 100.1,2202.8 104.6,2202.8 109.1,2202.8 113.7,2202.8 118.2,2202.8 122.7,2202.8 127.2,2202.8 131.7,2202.8 136.2,2202.8 140.7,2202.8 145.3,2202.8 149.8,2202.8 154.3,2202.8 158.8,2202.8 163.3,2202.7 167.8,2202.6 172.3,2202.4 176.8,2202.1 181.4,2201.8 185.9,2201.7 190.4,2201.4 194.9,2201.2 199.4,2200.8 203.9,2200.3 208.4,2199.7 213.0,2199.1 217.5,2198.6 222.0,2198.1 226.5,2197.3 231.0,2196.3 235.5,2195.0 240.0,2193.6 244.6,2192.6 249.1,2191.8 253.6,2191.2 258.1,2190.4 262.6,2189.3 267.1,2188.0 271.6,2186.9 276.1,2185.9 280.7,2185.1 285.2,2184.4 289.7,2183.6 294.2,2182.3 298.7,2180.9 303.2,2179.5 307.7,2178.5 312.3,2177.8 316.8,2177.3 321.3,2176.4 325.8,2175.4 330.3,2174.1 334.8,2173.2 339.3,2172.5 343.8,2171.9 348.4,2171.4 352.9,2170.8 357.4,2170.1 361.9,2169.3 366.4,2168.5 370.9,2167.9 375.4,2167.5 380.0,2167.1 384.5,2166.6 389.0,2165.9 393.5,2165.0 398.0,2164.1 402.5,2163.5 407.0,2163.0 411.5,2162.6 416.1,2162.0 420.6,2161.1 425.1,2160.3 429.6,2159.4 434.1,2158.7 438.6,2158.1 443.1,2157.6 447.7,2157.1 452.2,2156.3 456.7,2155.5 461.2,2154.6 465.7,2153.9 470.2,2153.6 474.7,2153.2 479.3,2152.7 483.8,2152.1 488.3,2151.3 492.8,2150.5 497.3,2150.0 501.8,2149.6 506.3,2149.2 510.8,2148.8 515.4,2148.2 519.9,2147.6 524.4,2147.2 528.9,2146.8 533.4,2146.6 537.9,2146.5 542.4,2146.3 547.0,2146.1 551.5,2145.9 556.0,2145.7 560.5,2145.6 565.0,2145.5 569.5,2145.4 574.0,2145.3 578.5,2145.2 583.1,2145.1 587.6,2144.9 592.1,2144.8 596.6,2144.7 601.1,2144.6 605.6,2144.4 610.1,2144.2 614.7,2143.9 619.2,2143.5 623.7,2143.2 628.2,2142.9 632.7,2142.6 637.2,2142.2 641.7,2141.8 646.2,2141.2 650.8,2140.6 655.3,2140.2 659.8,2140.0 664.3,2139.7 668.8,2139.4 673.3,2139.0 677.8,2138.6 682.4,2138.2 686.9,2137.9 691.4,2137.7 695.9,2137.5 700.4,2137.3 704.9,2137.0 709.4,2136.6 714.0,2136.3 718.5,2136.0 723.0,2135.9 727.5,2135.7 732.0,2135.5 736.5,2135.2 741.0,2134.9 745.5,2134.6 750.1,2134.4 754.6,2134.3 759.1,2134.2 763.6,2134.0 768.1,2133.7 772.6,2133.5 777.1,2133.3 781.7,2133.1 786.2,2132.9 790.7,2132.8 795.2,2132.7 799.7,2132.5 804.2,2132.2 808.7,2132.0 813.2,2131.9 817.8,2131.7 822.3,2131.6 826.8,2131.5 831.3,2131.3 835.8,2131.1 840.3,2130.9 844.8,2130.7 849.4,2130.6 853.9,2130.5 858.4,2130.4 862.9,2130.2 867.4,2130.0 871.9,2129.8 876.4,2129.6 880.9,2129.5 885.5,2129.4 890.0,2129.3 894.5,2129.1 899.0,2128.9 903.5,2128.7 908.0,2128.5 912.5,2128.4 917.1,2128.3 921.6,2128.2 926.1,2128.0 930.6,2127.8 935.1,2127.6 939.6,2127.5 944.1,2127.4 948.7,2127.2 953.2,2127.1 957.7,2127.0 962.2,2126.7 966.7,2126.6 971.2,2126.4 975.7,2126.3 980.2,2126.2 984.8,2126.1 989.3,2125.9 993.8,2125.7 998.3,2125.5 1002.8,2125.4 1007.3,2125.3 1011.8,2125.2 1016.4,2125.1 1020.9,2124.9 1025.4,2124.7 1029.9,2124.5 1034.4,2124.4 1038.9,2124.3 1043.4,2124.2 1047.9,2124.0 1052.5,2123.9 1057.0,2123.6 1061.5,2123.2 1066.0,2122.8 1070.5,2122.5 1075.0,2122.4 1079.5,2122.1 1084.1,2121.8 1088.6,2121.7 1093.1,2121.7 1097.6,2121.7 1102.1,2121.7 1106.6,2121.7 1111.1,2121.7 1115.6,2121.7 1120.2,2121.7 1124.7,2121.7 1129.2,2121.7 1133.7,2121.6 1138.2,2121.5 1142.7,2121.3 1147.2,2121.2 1151.8,2120.9 1156.3,2120.0 1160.8,2119.5 1165.3,2119.0 1169.8,2118.4 1174.3,2117.9 1178.8,2117.3 1183.4,2116.7 1187.9,2116.0 1192.4,2115.6 1196.9,2115.3 1201.4,2115.1 1205.9,2114.7 1210.4,2113.2 1214.9,2111.6 1219.5,2110.7 1224.0,2110.1 1228.5,2109.6 1233.0,2109.1 1237.5,2108.5 1242.0,2107.6 1246.5,2106.4 1251.1,2105.3 1255.6,2104.1 1260.1,2103.3 1264.6,2102.3 1269.1,2100.7 1273.6,2097.6 1278.1,2097.6 1282.6,2097.6 1287.2,2097.6 1291.7,2097.6 1296.2,2097.6 1300.7,2090.6 1305.2,2084.0 1309.7,2082.5 1314.2,2080.9 1318.8,2079.4 1323.3,2078.4 1327.8,2077.5 1332.3,2076.2 1336.8,2070.6 1341.3,2068.4 1345.8,2065.9 1350.3,2063.0 1354.9,2061.6 1359.4,2060.0 1363.9,2058.5 1368.4,2056.7 1372.9,2052.9 1377.4,2048.1 1381.9,2043.0 1386.5,2041.8 1391.0,2041.6 1395.5,2040.1 1400.0,2033.8 1404.5,2030.1 1409.0,2027.5 1413.5,2026.6 1418.1,2025.4 1422.6,2023.6 1427.1,2021.0 1431.6,2018.1 1436.1,2014.0 1440.6,2010.1 1445.1,2006.5 1449.6,2003.4 1454.2,2000.9 1458.7,1998.2 1463.2,1993.6 1467.7,1989.1 1472.2,1984.3 1476.7,1980.0 1481.2,1977.0 1485.8,1974.0 1490.3,1969.7 1494.8,1964.0 1499.3,1955.6 1503.8,1948.4 1508.3,1942.7 1512.8,1939.0 1517.3,1936.1 1521.9,1931.7 1526.4,1925.9 1530.9,1919.2 1535.4,1913.6 1539.9,1909.1 1544.4,1905.4 1548.9,1902.6 1553.5,1898.5 1558.0,1893.7 1562.5,1887.4 1567.0,1882.3 1571.5,1877.9 1576.0,1876.0 1580.5,1873.9 1585.0,1871.1 1589.6,1867.9 1594.1,1864.0 1598.6,1861.0 1603.1,1858.5 1607.6,1857.2 1612.1,1855.9 1616.6,1854.4 1621.2,1852.2 1625.7,1849.9 1630.2,1848.1 1634.7,1846.8 1639.2,1846.0 1643.7,1845.3 1648.2,1844.5 1652.8,1843.3 1657.3,1842.0 1661.8,1841.4 1666.3,1841.2 1670.8,1841.1 1675.3,1841.0 1679.8,1840.8 1684.3,1835.2 1688.9,1820.4 1693.4,1816.3 1697.9,1816.0 1702.4,1815.8 1706.9,1815.8 1711.4,1815.7 1715.9,1815.5 1720.5,1815.2 1725.0,1814.9 1729.5,1814.5 1734.0,1814.3 1738.5,1814.1 1743.0,1813.8 1747.5,1804.6 1752.0,1804.4 1756.6,1804.3 1761.1,1804.3 1765.6,1804.3 1770.1,1804.3 1774.6,1804.3 1779.1,1804.2 1783.6,1802.8 1788.2,1801.2 1792.7,1800.7 1797.2,1800.2 1801.7,1799.9 1806.2,1799.4 1810.7,1799.2 1815.2,1799.0 1819.7,1798.8 1824.3,1797.6 1828.8,1796.5 1833.3,1796.5 1837.8,1796.3 1842.3,1794.6 1846.8,1792.9 1851.3,1792.7 1855.9,1792.7 1860.4,1792.7 1864.9,1792.7 1869.4,1792.3 1873.9,1791.8 1878.4,1791.1 1882.9,1790.5 1887.5,1790.1 1892.0,1789.9 1896.5,1789.6 1901.0,1788.8 1905.5,1787.6 1910.0,1785.7 1914.5,1783.7 1919.0,1782.4 1923.6,1782.0 1928.1,1781.9 1932.6,1781.7 1937.1,1781.4 1941.6,1780.1 1946.1,1778.8 1950.6,1778.4 1955.2,1778.4 1959.7,1778.4 1964.2,1777.3 1968.7,1774.9 1973.2,1772.5 1977.7,1770.4 1982.2,1769.0 1986.7,1767.8 1991.3,1767.5 1995.8,1767.1 2000.3,1766.6 2004.8,1765.9 2009.3,1765.5 2013.8,1765.3 2018.3,1765.2 2022.9,1765.1 2027.4,1765.0 2031.9,1764.4 2036.4,1763.1 2040.9,1762.3 2045.4,1761.7 2049.9,1761.4 2052.1,1761.2" stroke="#cc9a00"/>
<path d="M59.5,2202.8 64.0,2202.8 68.5,2202.8 73.0,2202.8 77.6,2202.8 82.1,2202.8 86.6,2202.8 91.1,2202.8 95.6,2202.8 100.1,2202.8 104.6,2202.8 109.1,2202.8 113.7,2202.8 118.2,2202.8 122.7,2202.8 127.2,2202.8 131.7,2202.8 136.2,2202.8 140.7,2202.8 145.3,2202.7 149.8,2202.7 154.3,2202.6 158.8,2202.5 163.3,2202.3 167.8,2201.9 172.3,2201.5 176.8,2201.1 181.4,2200.7 185.9,2200.4 190.4,2200.1 194.9,2199.7 199.4,2199.1 203.9,2197.9 208.4,2196.2 213.0,2195.1 217.5,2193.8 222.0,2192.9 226.5,2191.1 231.0,2188.0 235.5,2184.3 240.0,2179.9 244.6,2176.5 249.1,2173.6 253.6,2170.7 258.1,2165.5 262.6,2158.7 267.1,2149.6 271.6,2142.3 276.1,2135.9 280.7,2132.1 285.2,2128.6 289.7,2121.9 294.2,2112.7 298.7,2102.8 303.2,2094.5 307.7,2087.0 312.3,2084.4 316.8,2079.1 321.3,2073.8 325.8,2069.8 330.3,2064.6 334.8,2064.6 339.3,2052.9 343.8,2049.2 348.4,2046.0 352.9,2040.1 357.4,2031.2 361.9,2021.7 366.4,2013.3 370.9,2007.7 375.4,2004.4 380.0,2001.0 384.5,1996.0 389.0,1987.9 393.5,1979.6 398.0,1972.7 402.5,1968.4 407.0,1964.9 411.5,1961.4 416.1,1956.1 420.6,1949.3 425.1,1941.5 429.6,1934.8 434.1,1930.3 438.6,1927.8 443.1,1924.7 447.7,1920.1 452.2,1914.0 456.7,1908.7 461.2,1904.3 465.7,1901.2 470.2,1899.2 474.7,1897.0 479.3,1892.6 483.8,1886.6 488.3,1880.5 492.8,1874.1 497.3,1872.1 501.8,1870.7 506.3,1869.1 510.8,1866.3 515.4,1863.0 519.9,1858.6 524.4,1854.4 528.9,1851.5 533.4,1849.9 537.9,1848.3 542.4,1846.3 547.0,1843.1 551.5,1840.3 556.0,1837.2 560.5,1834.8 565.0,1833.2 569.5,1832.2 574.0,1829.3 578.5,1826.4 583.1,1822.8 587.6,1819.8 592.1,1817.9 596.6,1816.9 601.1,1815.6 605.6,1814.3 610.1,1812.4 614.7,1810.5 619.2,1808.8 623.7,1807.8 628.2,1807.0 632.7,1806.2 637.2,1805.0 641.7,1803.4 646.2,1801.5 650.8,1800.0 655.3,1799.0 659.8,1798.3 664.3,1797.5 668.8,1796.6 673.3,1794.9 677.8,1793.3 682.4,1791.8 686.9,1790.7 691.4,1789.9 695.9,1789.3 700.4,1788.0 704.9,1786.3 709.4,1784.6 714.0,1782.9 718.5,1781.7 723.0,1781.0 727.5,1780.2 732.0,1779.1 736.5,1777.5 741.0,1775.6 745.5,1774.5 750.1,1773.6 754.6,1773.0 759.1,1772.5 763.6,1771.8 768.1,1770.6 772.6,1769.4 777.1,1768.3 781.7,1767.6 786.2,1767.1 790.7,1766.5 795.2,1765.5 799.7,1764.3 804.2,1762.9 808.7,1761.7 813.2,1761.0 817.8,1760.3 822.3,1759.9 826.8,1759.0 831.3,1757.9 835.8,1756.8 840.3,1755.7 844.8,1754.9 849.4,1754.5 853.9,1753.8 858.4,1753.0 862.9,1751.6 867.4,1750.2 871.9,1748.9 876.4,1748.2 880.9,1747.7 885.5,1747.2 890.0,1746.4 894.5,1745.4 899.0,1744.1 903.5,1743.1 908.0,1742.2 912.5,1741.8 917.1,1741.2 921.6,1740.3 926.1,1739.0 930.6,1737.4 935.1,1736.4 939.6,1735.5 944.1,1735.1 948.7,1734.8 953.2,1734.3 957.7,1733.5 962.2,1732.6 966.7,1731.8 971.2,1731.2 975.7,1730.5 980.2,1729.8 984.8,1728.5 989.3,1726.2 993.8,1723.6 998.3,1722.0 1002.8,1721.4 1007.3,1721.2 1011.8,1721.0 1016.4,1720.7 1020.9,1720.3 1025.4,1720.0 1029.9,1719.9 1034.4,1719.8 1038.9,1719.8 1043.4,1719.8 1047.9,1719.8 1052.5,1719.8 1057.0,1719.8 1061.5,1719.3 1066.0,1718.8 1070.5,1718.4 1075.0,1717.9 1079.5,1716.9 1084.1,1715.3 1088.6,1713.3 1093.1,1712.2 1097.6,1711.3 1102.1,1710.9 1106.6,1710.3 1111.1,1709.1 1115.6,1707.4 1120.2,1705.6 1124.7,1704.4 1129.2,1703.6 1133.7,1703.2 1138.2,1702.7 1142.7,1701.3 1147.2,1699.7 1151.8,1698.1 1156.3,1698.1 1160.8,1698.1 1165.3,1698.1 1169.8,1697.7 1174.3,1696.6 1178.8,1694.7 1183.4,1692.5 1187.9,1690.3 1192.4,1689.6 1196.9,1689.2 1201.4,1688.4 1205.9,1687.0 1210.4,1685.3 1214.9,1683.5 1219.5,1681.5 1224.0,1680.3 1228.5,1679.2 1233.0,1678.3 1237.5,1676.8 1242.0,1674.2 1246.5,1670.9 1251.1,1667.4 1255.6,1665.3 1260.1,1664.1 1264.6,1662.5 1269.1,1660.5 1273.6,1657.3 1278.1,1653.9 1282.6,1650.2 1287.2,1648.1 1291.7,1646.0 1296.2,1644.6 1300.7,1641.5 1305.2,1634.2 1309.7,1627.2 1314.2,1621.4 1318.8,1618.0 1323.3,1616.3 1327.8,1614.3 1332.3,1609.9 1336.8,1603.0 1341.3,1595.4 1345.8,1590.0 1350.3,1586.9 1354.9,1586.0 1359.4,1584.2 1363.9,1581.8 1368.4,1578.0 1372.9,1572.5 1377.4,1567.2 1381.9,1562.3 1386.5,1560.0 1391.0,1557.2 1395.5,1552.5 1400.0,1544.4 1404.5,1536.1 1409.0,1528.3 1413.5,1523.8 1418.1,1520.8 1422.6,1517.1 1427.1,1510.8 1431.6,1502.4 1436.1,1493.3 1440.6,1485.3 1445.1,1481.1 1449.6,1477.8 1454.2,1474.8 1458.7,1469.4 1463.2,1461.7 1467.7,1454.2 1472.2,1448.8 1476.7,1445.6 1481.2,1442.9 1485.8,1440.9 1490.3,1437.9 1494.8,1430.9 1499.3,1422.6 1503.8,1415.8 1508.3,1410.7 1512.8,1407.6 1517.3,1404.5 1521.9,1400.4 1526.4,1394.7 1530.9,1386.8 1535.4,1378.8 1539.9,1374.5 1544.4,1370.4 1548.9,1367.6 1553.5,1362.8 1558.0,1355.0 1562.5,1348.1 1567.0,1342.8 1571.5,1339.2 1576.0,1337.3 1580.5,1333.8 1585.0,1329.8 1589.6,1325.5 1594.1,1319.8 1598.6,1314.9 1603.1,1312.1 1607.6,1310.1 1612.1,1307.8 1616.6,1304.2 1621.2,1298.6 1625.7,1294.1 1630.2,1290.3 1634.7,1288.0 1639.2,1287.1 1643.7,1285.7 1648.2,1283.4 1652.8,1280.7 1657.3,1276.3 1661.8,1272.2 1666.3,1269.4 1670.8,1267.6 1675.3,1266.2 1679.8,1263.0 1684.3,1259.2 1688.9,1256.3 1693.4,1253.5 1697.9,1251.8 1702.4,1250.7 1706.9,1249.8 1711.4,1248.3 1715.9,1246.5 1720.5,1244.2 1725.0,1242.5 1729.5,1241.4 1734.0,1240.8 1738.5,1239.9 1743.0,1238.6 1747.5,1236.7 1752.0,1234.2 1756.6,1232.0 1761.1,1230.7 1765.6,1229.5 1770.1,1228.4 1774.6,1226.8 1779.1,1224.1 1783.6,1221.5 1788.2,1218.7 1792.7,1217.0 1797.2,1215.6 1801.7,1214.2 1806.2,1212.2 1810.7,1209.0 1815.2,1205.4 1819.7,1202.1 1824.3,1201.0 1828.8,1200.3 1833.3,1199.6 1837.8,1198.3 1842.3,1196.9 1846.8,1194.6 1851.3,1192.1 1855.9,1190.6 1860.4,1189.5 1864.9,1188.5 1869.4,1186.8 1873.9,1184.4 1878.4,1181.9 1882.9,1179.3 1887.5,1178.1 1892.0,1176.7 1896.5,1175.9 1901.0,1173.9 1905.5,1171.6 1910.0,1168.6 1914.5,1166.2 1919.0,1164.4 1923.6,1163.3 1928.1,1162.3 1932.6,1160.4 1937.1,1157.9 1941.6,1154.6 1946.1,1152.6 1950.6,1151.4 1955.2,1150.9 1959.7,1150.0 1964.2,1148.7 1968.7,1146.7 1973.2,1143.6 1977.7,1141.4 1982.2,1139.6 1986.7,1138.5 1991.3,1137.7 1995.8,1136.2 2000.3,1134.0 2004.8,1132.1 2009.3,1130.2 2013.8,1128.8 2018.3,1128.2 2022.9,1127.2 2027.4,1125.7 2031.9,1123.7 2036.4,1121.4 2040.9,1119.7 2045.4,1118.4 2049.9,1117.4 2052.1,1116.7" stroke="#327dc2"/>
<path d="M59.5,2202.8 64.0,2202.8 68.5,2202.8 73.0,2202.8 77.6,2202.8 82.1,2202.8 86.6,2202.8 91.1,2202.8 95.6,2202.8 100.1,2202.8 104.6,2202.8 109.1,2202.8 113.7,2202.8 118.2,2202.8 122.7,2202.8 127.2,2202.8 131.7,2202.8 136.2,2202.8 140.7,2202.7 145.3,2202.6 149.8,2202.5 154.3,2202.3 158.8,2202.2 163.3,2201.9 167.8,2201.5 172.3,2201.1 176.8,2200.7 181.4,2200.4 185.9,2199.9 190.4,2199.3 194.9,2198.3 199.4,2197.0 203.9,2195.6 208.4,2194.6 213.0,2193.7 217.5,2192.6 222.0,2186.9 226.5,2171.5 231.0,2162.0 235.5,2153.5 240.0,2145.3 244.6,2139.8 249.1,2130.2 253.6,2116.8 258.1,2112.3 262.6,2086.5 267.1,2083.1 271.6,2066.2 276.1,2052.0 277.5,2044.3 282.2,2021.8 285.2,2021.5 289.7,2008.8 294.2,1979.9 298.7,1954.3 303.2,1935.4 306.6,1921.9 309.4,1896.4 312.3,1894.1 316.8,1877.1 321.3,1856.8 325.8,1838.4 330.3,1822.9 334.8,1811.7 339.3,1800.6 343.8,1787.0 348.4,1770.6 352.9,1749.7 357.4,1724.8 361.9,1704.9 366.4,1691.8 370.9,1681.3 375.4,1668.1 380.0,1658.6 384.5,1653.2 389.0,1635.3 393.5,1619.8 398.0,1610.2 402.5,1600.3 407.0,1585.9 411.5,1574.9 416.1,1560.5 420.6,1548.7 425.1,1541.3 429.6,1534.1 434.1,1529.0 438.6,1523.8 443.1,1515.5 447.7,1508.4 452.2,1503.0 456.7,1497.4 461.2,1492.6 465.7,1487.3 470.2,1479.8 474.7,1462.7 479.3,1447.0 483.8,1440.1 488.3,1434.0 492.8,1430.1 497.3,1426.0 501.8,1420.9 506.3,1416.6 510.8,1410.4 515.4,1405.6 519.9,1401.5 524.4,1398.1 528.9,1395.9 533.4,1392.6 537.9,1387.5 542.4,1382.1 547.0,1376.3 551.5,1372.9 556.0,1369.2 560.5,1367.1 565.0,1363.8 569.5,1359.8 574.0,1355.4 578.5,1351.2 583.1,1348.5 587.6,1346.5 592.1,1345.1 596.6,1343.1 601.1,1342.0 605.6,1340.5 610.1,1339.2 614.7,1336.4 619.2,1333.9 623.7,1331.9 628.2,1329.8 632.7,1326.8 637.2,1322.8 641.7,1319.6 646.2,1317.6 650.8,1316.0 655.3,1314.4 659.8,1312.7 664.3,1311.1 668.8,1309.2 673.3,1307.7 677.8,1306.3 682.4,1305.5 686.9,1304.7 691.4,1303.8 695.9,1302.1 700.4,1300.0 704.9,1298.2 709.4,1296.4 714.0,1295.3 718.5,1294.2 723.0,1292.7 727.5,1290.8 732.0,1288.6 736.5,1286.6 741.0,1284.7 745.5,1283.4 750.1,1282.5 754.6,1281.0 759.1,1278.9 763.6,1277.6 768.1,1276.9 772.6,1274.5 777.1,1272.8 781.7,1271.3 786.2,1270.2 790.7,1269.0 795.2,1267.2 799.7,1265.3 804.2,1263.3 808.7,1261.6 813.2,1260.7 817.8,1259.4 822.3,1258.1 826.8,1257.9 831.3,1255.7 835.8,1253.5 840.3,1252.4 844.8,1251.1 849.4,1250.0 853.9,1249.3 858.4,1246.9 862.9,1244.0 867.4,1241.3 871.9,1239.0 876.4,1238.0 880.9,1236.7 885.5,1234.7 890.0,1234.6 894.5,1234.6 899.0,1232.8 903.5,1231.2 908.0,1229.8 912.5,1228.4 917.1,1227.5 921.6,1226.5 926.1,1225.7 930.6,1223.9 935.1,1222.8 939.6,1221.7 944.1,1220.2 948.7,1218.8 953.2,1217.6 957.7,1215.9 962.2,1214.7 966.7,1213.9 971.2,1212.3 975.7,1209.9 980.2,1208.3 984.8,1206.6 989.3,1204.8 993.8,1202.9 998.3,1202.1 1002.8,1201.4 1007.3,1200.4 1011.8,1198.8 1016.4,1196.7 1020.9,1194.2 1025.4,1191.9 1029.9,1190.0 1034.4,1188.6 1038.9,1187.5 1043.4,1186.4 1047.9,1185.2 1052.5,1183.9 1057.0,1182.5 1061.5,1181.3 1066.0,1180.1 1070.5,1178.4 1075.0,1176.7 1079.5,1174.1 1084.1,1171.8 1088.6,1169.5 1093.1,1167.4 1097.6,1166.1 1102.1,1165.0 1106.6,1163.2 1111.1,1161.3 1115.6,1159.5 1120.2,1156.9 1124.7,1155.4 1129.2,1153.7 1133.7,1151.9 1138.2,1149.2 1142.7,1146.1 1147.2,1143.4 1151.8,1140.4 1156.3,1138.8 1160.8,1136.8 1165.3,1134.6 1169.8,1132.8 1174.3,1130.4 1178.8,1127.9 1183.4,1125.0 1187.9,1122.6 1192.4,1121.1 1196.9,1119.6 1201.4,1117.1 1205.9,1114.1 1210.4,1111.1 1214.9,1108.1 1219.5,1106.4 1224.0,1104.7 1228.5,1102.1 1233.0,1098.9 1237.5,1096.7 1242.0,1093.2 1246.5,1090.2 1251.1,1088.0 1255.6,1086.5 1260.1,1083.9 1264.6,1081.2 1269.1,1077.4 1273.6,1071.9 1278.1,1069.2 1282.6,1067.7 1287.2,1065.2 1291.7,1062.6 1296.2,1058.0 1300.7,1053.3 1305.2,1047.2 1309.7,1042.5 1314.2,1038.7 1318.8,1035.8 1323.3,1032.1 1327.8,1026.0 1332.3,1020.2 1336.8,1011.3 1341.3,1004.6 1345.8,1000.6 1350.3,997.6 1354.9,994.1 1359.4,989.7 1363.9,983.0 1368.4,975.6 1372.9,970.5 1377.4,965.9 1381.9,962.2 1386.5,957.3 1391.0,951.1 1395.5,943.3 1400.0,934.5 1404.5,926.6 1409.0,924.9 1413.5,924.6 1418.1,920.5 1422.6,910.7 1427.1,898.9 1431.6,886.8 1436.1,882.5 1440.6,876.3 1445.1,869.6 1449.6,862.9 1454.2,852.7 1458.7,840.5 1463.2,829.1 1467.7,820.9 1472.2,813.6 1476.7,808.0 1481.2,799.2 1485.8,790.4 1490.3,781.9 1494.8,772.8 1499.3,764.4 1503.8,759.4 1508.3,754.8 1512.8,750.0 1517.3,745.3 1521.9,739.7 1526.4,730.3 1530.9,722.2 1535.4,714.2 1539.9,708.6 1544.4,702.6 1548.9,694.3 1553.5,687.7 1558.0,678.5 1562.5,670.7 1567.0,664.0 1571.5,658.4 1576.0,650.9 1580.5,644.8 1585.0,641.4 1589.6,635.2 1594.1,629.0 1598.6,621.5 1603.1,615.2 1607.6,608.0 1612.1,599.4 1616.6,589.7 1621.2,580.0 1625.7,572.1 1630.2,565.7 1634.7,560.7 1639.2,554.1 1643.7,546.3 1648.2,541.4 1652.8,535.4 1657.3,528.9 1661.8,524.3 1666.3,522.2 1670.8,516.9 1675.3,509.2 1679.8,505.7 1684.3,499.1 1688.9,493.9 1693.4,489.7 1697.9,485.1 1702.4,481.7 1706.9,478.7 1711.4,471.8 1715.9,464.5 1720.5,459.8 1725.0,456.8 1729.5,454.0 1734.0,450.6 1738.5,448.0 1743.0,445.3 1747.5,439.2 1752.0,434.7 1756.6,431.0 1761.1,427.4 1765.6,425.0 1770.1,422.2 1774.6,418.3 1779.1,412.2 1783.6,408.0 1788.2,405.5 1792.7,402.7 1797.2,399.9 1801.7,396.8 1806.2,393.5 1810.7,388.0 1815.2,383.7 1819.7,379.9 1824.3,377.7 1828.8,375.1 1833.3,372.5 1837.8,368.8 1842.3,365.9 1846.8,363.2 1851.3,361.7 1855.9,359.9 1860.4,358.2 1864.9,355.2 1869.4,349.9 1873.9,348.6 1878.4,347.6 1882.9,346.8 1887.5,346.1 1892.0,345.0 1896.5,343.8 1901.0,342.2 1905.5,340.5 1910.0,339.3 1914.5,338.5 1919.0,337.6 1923.6,336.6 1928.1,335.0 1932.6,333.3 1937.1,331.5 1941.6,330.1 1946.1,329.3 1950.6,328.3 1955.2,327.5 1959.7,326.1 1964.2,324.5 1968.7,322.9 1973.2,321.8 1977.7,320.9 1982.2,320.2 1986.7,319.1 1991.3,318.0 1995.8,316.4 2000.3,315.0 2004.8,314.0 2009.3,313.2 2013.8,312.5 2018.3,311.6 2022.9,310.2 2027.4,308.8 2031.9,307.6 2036.4,306.8 2040.9,306.4 2045.4,306.0 2049.9,305.7 2052.1,305.5" stroke="#5a8a39"/>
<path d="M59.5,2202.8 64.0,2202.8 68.5,2202.8 73.0,2202.8 77.6,2202.8 82.1,2202.8 86.6,2202.8 91.1,2202.8 95.6,2202.8 100.1,2202.8 104.6,2202.8 109.1,2202.8 113.7,2202.8 118.2,2202.8 122.7,2202.8 127.2,2202.8 131.7,2202.8 136.2,2202.5 140.7,2202.3 145.3,2202.1 149.8,2201.9 154.3,2201.3 158.8,2200.0 163.3,2198.3 167.8,2196.9 172.3,2195.7 176.8,2194.5 181.4,2192.7 185.9,2189.9 190.4,2186.9 194.9,2180.5 199.4,2173.6 203.9,2168.6 208.4,2164.3 213.0,2158.8 217.5,2149.9 222.0,2141.3 226.5,2130.0 231.0,2119.0 235.5,2108.0 240.0,2102.6 244.6,2098.7 249.1,2089.9 253.6,2077.5 258.1,2062.9 262.6,2048.6 267.1,2037.3 271.6,2029.8 276.1,2020.1 280.7,2015.8 285.2,2008.4 289.7,1998.9 294.2,1983.1 298.7,1972.1 303.2,1966.4 307.7,1959.8 312.3,1952.3 316.8,1942.0 321.3,1923.1 325.8,1910.6 330.3,1901.9 334.8,1896.0 339.3,1889.6 343.8,1882.5 348.4,1875.7 352.9,1869.7 357.4,1864.2 361.9,1860.0 366.4,1857.5 370.9,1852.8 375.4,1846.8 380.0,1838.5 384.5,1829.3 389.0,1826.4 393.5,1824.9 398.0,1824.1 402.5,1823.0 407.0,1821.2 411.5,1819.0 416.1,1813.1 420.6,1806.8 425.1,1802.6 429.6,1800.2 434.1,1798.9 438.6,1796.9 443.1,1794.2 447.7,1791.3 452.2,1788.8 456.7,1785.9 461.2,1784.4 465.7,1781.7 470.2,1778.1 474.7,1773.7 479.3,1769.5 483.8,1766.7 488.3,1765.1 492.8,1764.1 497.3,1762.9 501.8,1761.3 506.3,1759.4 510.8,1757.8 515.4,1756.4 519.9,1755.5 524.4,1754.8 528.9,1754.2 533.4,1753.1 537.9,1751.7 542.4,1750.2 547.0,1749.0 551.5,1748.2 556.0,1747.7 560.5,1747.0 565.0,1746.2 569.5,1744.9 574.0,1743.8 578.5,1742.8 583.1,1742.1 587.6,1741.6 592.1,1741.1 596.6,1740.3 601.1,1739.5 605.6,1738.5 610.1,1737.8 614.7,1737.4 619.2,1736.9 623.7,1736.5 628.2,1735.9 632.7,1735.2 637.2,1734.4 641.7,1733.8 646.2,1733.4 650.8,1733.1 655.3,1732.7 659.8,1732.1 664.3,1731.4 668.8,1730.7 673.3,1730.1 677.8,1729.6 682.4,1729.3 686.9,1728.9 691.4,1728.4 695.9,1727.8 700.4,1727.1 704.9,1726.5 709.4,1726.1 714.0,1725.8 718.5,1725.5 723.0,1724.9 727.5,1724.2 732.0,1723.5 736.5,1722.9 741.0,1722.4 745.5,1722.1 750.1,1721.6 754.6,1721.0 759.1,1720.2 763.6,1719.2 768.1,1718.5 772.6,1717.9 777.1,1717.5 781.7,1717.0 786.2,1716.2 790.7,1715.4 795.2,1714.4 799.7,1713.6 804.2,1712.9 808.7,1712.4 813.2,1711.9 817.8,1711.2 822.3,1710.2 826.8,1709.1 831.3,1708.3 835.8,1707.6 840.3,1707.1 844.8,1706.6 849.4,1705.9 853.9,1704.7 858.4,1703.8 862.9,1702.9 867.4,1702.3 871.9,1701.9 876.4,1701.5 880.9,1700.9 885.5,1700.2 890.0,1699.8 894.5,1699.4 899.0,1699.1 903.5,1698.9 908.0,1698.5 912.5,1697.9 917.1,1696.9 921.6,1695.3 926.1,1690.4 930.6,1689.0 935.1,1688.2 939.6,1687.5 944.1,1686.7 948.7,1686.0 953.2,1685.3 957.7,1684.8 962.2,1684.5 966.7,1684.1 971.2,1683.7 975.7,1683.0 980.2,1681.6 984.8,1680.1 989.3,1678.8 993.8,1678.0 998.3,1677.4 1002.8,1676.5 1007.3,1675.5 1011.8,1674.2 1016.4,1672.6 1020.9,1671.5 1025.4,1670.8 1029.9,1670.1 1034.4,1669.4 1038.9,1668.7 1043.4,1667.9 1047.9,1667.2 1052.5,1666.6 1057.0,1666.0 1061.5,1665.6 1066.0,1665.0 1070.5,1664.1 1075.0,1662.9 1079.5,1660.4 1084.1,1658.6 1088.6,1657.2 1093.1,1656.4 1097.6,1655.8 1102.1,1654.8 1106.6,1653.4 1111.1,1650.5 1115.6,1648.0 1120.2,1646.3 1124.7,1644.9 1129.2,1643.6 1133.7,1641.7 1138.2,1639.5 1142.7,1637.2 1147.2,1633.9 1151.8,1631.7 1156.3,1631.2 1160.8,1630.6 1165.3,1629.7 1169.8,1628.2 1174.3,1626.4 1178.8,1620.3 1183.4,1616.8 1187.9,1614.9 1192.4,1612.1 1196.9,1606.6 1201.4,1599.7 1205.9,1594.3 1210.4,1591.0 1214.9,1587.2 1219.5,1585.4 1224.0,1579.3 1228.5,1579.0 1233.0,1576.0 1237.5,1569.3 1242.0,1562.5 1246.5,1557.9 1251.1,1553.7 1255.6,1550.4 1260.1,1544.1 1264.6,1540.7 1269.1,1529.3 1273.6,1521.3 1278.1,1519.4 1282.6,1513.9 1287.2,1506.3 1291.7,1497.4 1296.2,1496.0 1300.7,1479.9 1305.2,1472.1 1309.7,1462.3 1314.1,1451.7 1319.5,1419.4 1323.3,1417.2 1327.8,1410.0 1332.3,1401.3 1336.8,1392.3 1341.3,1386.9 1345.8,1384.0 1350.3,1381.2 1354.9,1373.9 1359.4,1362.6 1363.9,1346.7 1368.4,1335.9 1372.9,1323.4 1377.4,1320.0 1381.9,1316.3 1386.5,1303.0 1391.0,1300.0 1395.5,1286.9 1400.0,1278.0 1404.5,1277.8 1409.0,1277.6 1413.5,1270.3 1418.1,1258.6 1422.6,1254.4 1427.1,1236.6 1431.6,1232.3 1436.1,1232.0 1440.6,1231.8 1445.1,1230.7 1449.6,1211.2 1454.2,1208.0 1458.7,1193.5 1463.2,1182.9 1467.7,1172.7 1472.2,1167.6 1476.7,1163.0 1481.2,1157.8 1485.8,1152.4 1490.3,1145.6 1494.8,1139.6 1499.3,1136.1 1503.8,1131.5 1508.3,1124.1 1512.8,1115.1 1517.3,1112.8 1521.9,1107.7 1526.4,1097.5 1530.9,1086.2 1535.4,1074.6 1539.9,1072.7 1544.4,1070.4 1548.9,1067.0 1553.5,1063.1 1558.0,1058.6 1562.5,1056.1 1567.0,1053.9 1571.5,1051.2 1576.0,1047.3 1580.5,1041.9 1585.0,1037.8 1589.6,1034.5 1594.1,1031.5 1598.6,1029.7 1603.1,1025.9 1607.6,1020.5 1612.1,1018.3 1616.6,1015.5 1621.2,1012.4 1625.7,1009.5 1630.2,1006.9 1634.7,1004.9 1639.2,1001.5 1643.7,999.4 1648.2,997.1 1652.8,995.1 1657.3,993.4 1661.8,992.3 1666.3,991.3 1670.8,990.0 1675.3,988.3 1679.8,985.3 1684.3,978.6 1688.9,974.2 1693.4,970.6 1697.9,965.6 1702.4,965.0 1706.9,964.2 1711.4,963.3 1715.9,962.6 1720.5,962.1 1725.0,961.7 1729.5,961.2 1734.0,955.1 1738.5,954.3 1743.0,953.4 1747.5,952.4 1752.0,951.7 1756.6,950.9 1761.1,949.9 1765.6,948.7 1770.1,946.9 1774.6,945.1 1779.1,943.7 1783.6,942.2 1788.2,941.1 1792.7,939.9 1797.2,937.8 1801.7,935.7 1806.2,932.3 1810.7,930.1 1815.2,928.0 1819.7,926.7 1824.3,925.1 1828.8,923.1 1833.3,921.2 1837.8,919.3 1842.3,917.4 1846.8,916.2 1851.3,915.2 1855.9,914.0 1860.4,912.2 1864.9,910.0 1869.4,906.3 1873.9,903.5 1878.4,901.1 1882.9,899.4 1887.5,897.2 1892.0,894.9 1896.5,891.2 1901.0,885.9 1905.5,882.2 1910.0,877.1 1914.5,872.7 1919.0,869.3 1923.6,866.4 1928.1,862.7 1932.6,855.6 1937.1,848.4 1941.6,844.5 1946.1,841.5 1950.6,836.5 1955.2,831.2 1959.7,828.5 1964.2,822.1 1968.7,814.6 1973.2,809.5 1977.7,806.2 1982.2,801.3 1986.7,796.2 1991.3,787.6 1995.8,780.3 2000.3,773.7 2004.8,769.2 2009.3,765.2 2013.8,762.4 2018.3,757.0 2022.9,750.9 2027.4,743.9 2031.9,739.6 2036.4,736.2 2040.9,734.0 2045.4,732.3 2049.9,729.3 2052.1,728.4" stroke="#8faadc"/>
<path d="M59.5,2202.8 64.0,2202.8 68.5,2202.8 73.0,2202.8 77.6,2202.8 82.1,2202.8 86.6,2202.8 91.1,2202.8 95.6,2202.8 100.1,2202.8 104.6,2202.8 109.1,2202.8 113.7,2202.8 118.2,2202.8 122.7,2202.8 127.2,2202.8 131.7,2202.8 136.2,2202.8 140.7,2202.8 145.3,2202.8 149.8,2202.8 154.3,2202.7 158.8,2202.6 163.3,2202.5 167.8,2202.4 172.3,2202.3 176.8,2202.0 181.4,2201.8 185.9,2201.5 190.4,2201.2 194.9,2200.9 199.4,2200.7 203.9,2200.5 208.4,2200.1 213.0,2199.5 217.5,2199.0 222.0,2198.3 226.5,2197.8 231.0,2197.2 235.5,2196.8 240.0,2195.8 244.6,2194.8 249.1,2193.7 253.6,2192.6 258.1,2191.9 262.6,2191.2 267.1,2190.2 271.6,2189.0 276.1,2186.9 280.7,2184.8 285.2,2183.3 289.7,2181.7 294.2,2180.1 298.7,2178.2 303.2,2175.4 307.7,2171.6 312.3,2168.1 316.8,2164.5 321.3,2161.5 325.8,2158.9 330.3,2156.6 334.8,2153.7 339.3,2150.4 343.8,2148.0 348.4,2146.0 352.9,2144.3 357.4,2143.0 361.9,2141.5 366.4,2139.6 370.9,2136.7 375.4,2133.6 380.0,2131.3 384.5,2129.2 389.0,2127.3 393.5,2124.9 398.0,2122.2 402.5,2118.5 407.0,2114.8 411.5,2112.5 416.1,2109.6 420.6,2107.6 425.1,2105.4 429.6,2101.9 434.1,2097.5 438.6,2094.0 443.1,2090.7 447.7,2087.6 452.2,2085.7 456.7,2082.6 461.2,2078.5 465.7,2074.1 470.2,2068.8 474.7,2065.3 479.3,2062.1 483.8,2059.6 488.3,2056.8 492.8,2052.9 497.3,2049.8 501.8,2046.9 506.3,2044.6 510.8,2042.7 515.4,2041.1 519.9,2039.5 524.4,2037.5 528.9,2034.8 533.4,2032.8 537.9,2030.8 542.4,2028.9 547.0,2027.5 551.5,2025.7 556.0,2023.0 560.5,2021.1 565.0,2019.0 569.5,2017.6 574.0,2016.4 578.5,2015.5 583.1,2014.4 587.6,2012.7 592.1,2011.0 596.6,2009.4 601.1,2008.0 605.6,2007.1 610.1,2006.1 614.7,2005.1 619.2,2003.6 623.7,2002.8 628.2,2002.0 632.7,2001.3 637.2,2000.7 641.7,2000.4 646.2,1999.9 650.8,1999.3 655.3,1998.7 659.8,1998.1 664.3,1997.5 668.8,1997.1 673.3,1996.7 677.8,1996.0 682.4,1995.0 686.9,1994.0 691.4,1993.1 695.9,1992.5 700.4,1992.1 704.9,1991.8 709.4,1991.4 714.0,1990.7 718.5,1989.6 723.0,1988.5 727.5,1987.8 732.0,1986.9 736.5,1986.2 741.0,1985.5 745.5,1984.5 750.1,1983.2 754.6,1982.4 759.1,1982.1 763.6,1981.8 768.1,1981.6 772.6,1981.3 777.1,1980.4 781.7,1979.3 786.2,1977.8 790.7,1976.8 795.2,1976.7 799.7,1976.7 804.2,1976.7 808.7,1976.7 813.2,1976.6 817.8,1975.2 822.3,1973.5 826.8,1972.5 831.3,1971.5 835.8,1970.3 840.3,1968.9 844.8,1967.3 849.4,1965.7 853.9,1964.6 858.4,1963.8 862.9,1963.2 867.4,1962.6 871.9,1961.7 876.4,1960.5 880.9,1958.4 885.5,1956.9 890.0,1955.7 894.5,1954.5 899.0,1953.7 903.5,1952.7 908.0,1951.7 912.5,1950.8 917.1,1949.9 921.6,1949.3 926.1,1948.5 930.6,1948.0 935.1,1946.9 939.6,1945.8 944.1,1944.6 948.7,1943.5 953.2,1942.8 957.7,1942.0 962.2,1940.9 966.7,1939.5 971.2,1937.8 975.7,1936.1 980.2,1935.2 984.8,1934.6 989.3,1933.9 993.8,1933.2 998.3,1932.3 1002.8,1931.0 1007.3,1929.8 1011.8,1928.8 1016.4,1928.0 1020.9,1927.0 1025.4,1926.0 1029.9,1924.4 1034.4,1922.8 1038.9,1920.8 1043.4,1919.4 1047.9,1918.0 1052.5,1916.7 1057.0,1915.2 1061.5,1913.3 1066.0,1910.7 1070.5,1908.5 1075.0,1906.2 1079.5,1904.7 1084.1,1903.2 1088.6,1901.8 1093.1,1899.3 1097.6,1896.9 1102.1,1894.5 1106.6,1892.2 1111.1,1890.8 1115.6,1889.4 1120.2,1887.7 1124.7,1885.5 1129.2,1883.1 1133.7,1880.3 1138.2,1878.2 1142.7,1876.8 1147.2,1875.2 1151.8,1873.1 1156.3,1870.7 1160.8,1867.1 1165.3,1864.0 1169.8,1861.2 1174.3,1858.6 1178.8,1856.2 1183.4,1854.0 1187.9,1849.8 1192.4,1845.2 1196.9,1841.1 1201.4,1836.7 1205.9,1834.0 1210.4,1830.3 1214.9,1827.6 1219.5,1822.5 1224.0,1817.1 1228.5,1811.3 1233.0,1805.8 1237.5,1801.2 1242.0,1797.9 1246.5,1793.5 1251.1,1787.4 1255.6,1780.0 1260.1,1770.9 1264.6,1765.3 1269.1,1759.0 1273.6,1754.3 1278.1,1749.4 1282.6,1740.4 1287.2,1730.0 1291.7,1720.8 1296.2,1711.1 1300.7,1706.8 1305.2,1701.4 1309.7,1695.8 1314.2,1689.9 1318.8,1681.1 1323.3,1672.1 1327.8,1663.5 1332.3,1658.1 1336.8,1652.9 1341.3,1645.3 1345.8,1636.2 1350.3,1625.6 1354.9,1613.5 1359.4,1604.8 1363.9,1599.5 1368.4,1594.7 1372.9,1588.9 1377.4,1580.5 1381.9,1570.4 1386.5,1559.1 1391.0,1552.6 1395.5,1549.6 1400.0,1545.1 1404.5,1537.6 1409.0,1530.6 1413.5,1525.0 1418.1,1520.5 1422.6,1515.3 1427.1,1509.2 1431.6,1504.6 1436.1,1498.5 1440.6,1492.0 1445.1,1487.4 1449.6,1480.2 1454.2,1474.9 1458.7,1470.2 1463.2,1467.2 1467.7,1463.5 1472.2,1456.9 1476.7,1448.4 1481.2,1443.4 1485.8,1440.5 1490.3,1437.9 1494.8,1434.7 1499.3,1430.9 1503.8,1426.6 1508.3,1420.4 1512.8,1415.4 1517.3,1412.3 1521.9,1409.5 1526.4,1407.8 1530.9,1405.2 1535.4,1400.3 1539.9,1395.6 1544.4,1391.0 1548.9,1389.5 1553.5,1388.3 1558.0,1387.6 1562.5,1386.2 1567.0,1383.9 1571.5,1380.7 1576.0,1378.1 1580.5,1375.9 1585.0,1373.8 1589.6,1371.9 1594.1,1369.6 1598.6,1367.3 1603.1,1364.4 1607.6,1362.5 1612.1,1361.2 1616.6,1360.2 1621.2,1359.2 1625.7,1357.9 1630.2,1356.3 1634.7,1354.9 1639.2,1353.9 1643.7,1353.0 1648.2,1352.2 1652.8,1351.5 1657.3,1350.1 1661.8,1348.6 1666.3,1347.8 1670.8,1347.1 1675.3,1346.3 1679.8,1345.8 1684.3,1345.0 1688.9,1344.2 1693.4,1343.1 1697.9,1341.9 1702.4,1340.2 1706.9,1338.9 1711.4,1337.7 1715.9,1336.5 1720.5,1335.4 1725.0,1333.8 1729.5,1332.6 1734.0,1331.2 1738.5,1325.9 1743.0,1320.9 1747.5,1315.2 1752.0,1308.9 1756.6,1308.3 1761.1,1307.6 1765.6,1307.0 1770.1,1306.3 1774.6,1305.9 1779.1,1305.2 1783.6,1304.6 1788.2,1303.6 1792.7,1302.5 1797.2,1301.5 1801.7,1300.8 1806.2,1300.1 1810.7,1299.7 1815.2,1299.2 1819.7,1298.6 1824.3,1297.9 1828.8,1296.9 1833.3,1295.6 1837.8,1293.3 1842.3,1291.5 1846.8,1289.9 1851.3,1289.3 1855.9,1288.5 1860.4,1287.6 1864.9,1286.7 1869.4,1285.5 1873.9,1284.6 1878.4,1283.3 1882.9,1281.9 1887.5,1280.2 1892.0,1278.7 1896.5,1278.2 1901.0,1278.2 1905.5,1277.5 1910.0,1275.7 1914.5,1273.4 1919.0,1272.1 1923.6,1270.8 1928.1,1269.5 1932.6,1268.7 1937.1,1268.0 1941.6,1266.8 1946.1,1265.7 1950.6,1264.5 1955.2,1263.4 1959.7,1262.6 1964.2,1262.0 1968.7,1261.2 1973.2,1259.6 1977.7,1257.4 1982.2,1255.2 1986.7,1253.1 1991.3,1251.4 1995.8,1250.5 2000.3,1249.6 2004.8,1248.5 2009.3,1247.0 2013.8,1245.2 2018.3,1243.8 2022.9,1242.3 2027.4,1241.1 2031.9,1239.9 2036.4,1238.5 2040.9,1236.9 2045.4,1234.6 2049.9,1233.1 2052.1,1232.4" stroke="#f4b183"/>
<path d="M59.5,2202.8 64.0,2202.8 68.5,2202.8 73.0,2202.8 77.6,2202.8 82.1,2202.8 86.6,2202.8 91.1,2202.8 95.6,2202.8 100.1,2202.8 104.6,2202.8 109.1,2202.8 113.7,2202.8 118.2,2202.8 122.7,2202.8 127.2,2202.8 131.7,2202.8 136.2,2202.8 140.7,2202.8 145.3,2202.7 149.8,2202.5 154.3,2202.3 158.8,2202.2 163.3,2201.9 167.8,2201.4 172.3,2200.7 176.8,2199.9 181.4,2199.2 185.9,2198.6 190.4,2198.2 194.9,2197.8 199.4,2196.9 203.9,2195.6 208.4,2193.8 213.0,2192.1 217.5,2191.1 222.0,2189.7 226.5,2188.3 231.0,2186.3 235.5,2183.2 240.0,2180.6 244.6,2178.0 249.1,2176.6 253.6,2175.5 258.1,2174.3 262.6,2172.1 267.1,2170.2 271.6,2168.3 276.1,2166.5 280.7,2165.6 285.2,2164.7 289.7,2163.7 294.2,2162.4 298.7,2161.1 303.2,2159.2 307.7,2156.0 312.3,2152.9 316.8,2150.9 321.3,2147.8 325.8,2142.5 330.3,2137.1 334.8,2132.0 339.3,2128.3 343.8,2125.6 348.4,2123.0 352.9,2120.2 357.4,2116.0 361.9,2110.8 366.4,2105.6 370.9,2101.4 375.4,2097.8 380.0,2095.8 384.5,2092.6 389.0,2088.5 393.5,2082.8 398.0,2077.9 402.5,2073.5 407.0,2071.4 411.5,2069.2 416.1,2066.3 420.6,2061.4 425.1,2054.9 429.6,2048.3 434.1,2044.3 438.6,2041.8 443.1,2039.5 447.7,2036.6 452.2,2032.7 456.7,2027.5 461.2,2023.1 465.7,2018.5 470.2,2016.0 474.7,2013.8 479.3,2010.9 483.8,2007.1 488.3,2002.6 492.8,1997.2 497.3,1994.0 501.8,1991.7 506.3,1989.6 510.8,1987.6 515.4,1984.2 519.9,1980.7 524.4,1977.7 528.9,1975.2 533.4,1973.8 537.9,1972.2 542.4,1969.8 547.0,1966.6 551.5,1964.7 556.0,1964.7 560.5,1964.7 565.0,1964.7 569.5,1961.6 574.0,1958.5 578.5,1952.6 583.1,1947.9 587.6,1943.8 592.1,1940.1 596.6,1938.1 601.1,1936.1 605.6,1933.6 610.1,1930.6 614.7,1925.9 619.2,1923.3 623.7,1922.1 628.2,1921.3 632.7,1920.7 637.2,1919.9 641.7,1908.0 646.2,1897.9 650.8,1891.4 655.3,1888.4 659.8,1886.4 664.3,1884.7 668.8,1883.0 673.3,1879.5 677.8,1872.6 682.4,1865.5 686.9,1861.5 691.4,1860.6 695.9,1859.5 700.4,1857.2 704.9,1848.5 709.4,1840.0 714.0,1833.5 718.5,1830.0 723.0,1828.6 727.5,1824.5 732.0,1816.6 736.5,1805.9 741.0,1791.9 745.5,1780.4 750.1,1772.4 754.6,1767.9 759.1,1763.3 763.6,1758.3 768.1,1750.7 772.6,1737.7 777.1,1725.5 781.7,1716.6 786.2,1710.3 790.7,1704.8 795.2,1699.2 799.7,1690.8 804.2,1681.2 808.7,1676.3 813.2,1675.5 817.8,1675.5 822.3,1673.3 826.8,1668.4 831.3,1661.5 835.8,1651.3 840.3,1641.8 844.8,1636.6 849.4,1634.7 853.9,1633.2 858.4,1630.1 862.9,1612.9 867.4,1603.1 871.9,1591.6 876.4,1585.1 880.9,1582.4 885.5,1576.4 890.0,1571.3 894.5,1565.4 899.0,1560.2 903.5,1556.2 908.0,1552.3 912.5,1549.5 917.1,1548.9 921.6,1548.4 926.1,1545.6 930.6,1534.1 935.1,1528.7 939.6,1526.0 944.1,1524.1 948.7,1522.7 953.2,1520.4 957.7,1515.3 962.2,1506.1 966.7,1497.0 971.2,1491.6 975.7,1490.6 980.2,1490.3 984.8,1490.0 989.3,1480.4 993.8,1474.8 998.3,1469.8 1002.8,1464.3 1007.3,1462.5 1011.8,1462.0 1016.4,1461.7 1020.9,1455.7 1025.4,1449.2 1029.9,1444.1 1034.4,1440.3 1038.9,1438.7 1043.4,1437.2 1047.9,1435.7 1052.5,1431.7 1057.0,1425.0 1061.5,1420.0 1066.0,1417.4 1070.5,1417.0 1075.0,1416.7 1079.5,1416.5 1084.1,1411.9 1088.6,1404.7 1093.1,1401.2 1097.6,1398.3 1102.1,1397.6 1106.6,1397.6 1111.1,1397.6 1115.6,1390.4 1120.2,1384.2 1124.7,1380.1 1129.2,1376.4 1133.7,1375.8 1138.2,1375.8 1142.7,1373.3 1147.2,1367.4 1151.8,1362.2 1156.3,1357.8 1160.8,1355.4 1165.3,1354.4 1169.8,1353.5 1174.3,1349.9 1178.8,1344.7 1183.4,1339.7 1187.9,1335.7 1192.4,1332.6 1196.9,1330.6 1201.4,1330.0 1205.9,1328.9 1210.4,1318.3 1214.9,1313.1 1219.5,1308.4 1224.0,1305.6 1228.5,1305.2 1233.0,1304.8 1237.5,1302.6 1242.0,1296.3 1246.5,1288.9 1251.1,1280.0 1255.6,1273.8 1260.1,1272.1 1264.6,1270.9 1269.1,1269.5 1273.6,1256.7 1278.1,1249.3 1282.6,1244.2 1287.2,1241.2 1291.7,1239.4 1296.2,1238.1 1300.7,1237.0 1305.2,1230.4 1309.7,1221.7 1314.2,1212.0 1318.8,1201.5 1323.3,1197.6 1327.8,1197.3 1332.3,1195.0 1336.8,1182.3 1341.3,1170.3 1345.8,1154.6 1350.3,1135.9 1351.4,1143.0 1355.5,1120.5 1361.5,1097.2 1363.9,1096.6 1368.4,1090.3 1372.9,1083.3 1377.4,1079.3 1381.9,1075.8 1386.5,1073.1 1391.0,1071.5 1395.5,1069.0 1400.0,1057.8 1404.5,1047.3 1409.0,1045.1 1413.5,1044.0 1418.1,1036.9 1422.6,1030.3 1427.1,1020.7 1431.6,1008.7 1436.1,998.3 1440.6,992.8 1445.1,992.8 1449.6,988.7 1454.2,983.1 1458.7,972.3 1463.2,959.0 1467.7,941.9 1472.2,922.9 1476.7,910.2 1481.2,901.8 1485.8,894.8 1490.3,887.6 1494.8,873.1 1499.3,850.3 1503.8,833.5 1508.3,820.0 1512.8,813.6 1517.3,808.2 1521.9,801.2 1526.4,779.9 1530.9,766.9 1535.4,753.4 1539.9,749.8 1544.4,747.8 1548.9,746.0 1553.6,730.6 1559.6,704.4 1562.5,696.2 1567.0,680.1 1571.5,674.3 1576.0,670.8 1580.5,668.4 1585.0,666.2 1589.6,649.6 1594.1,643.0 1598.6,624.1 1603.1,615.6 1607.6,614.1 1612.1,613.4 1616.6,612.0 1621.2,597.0 1625.7,582.9 1630.2,570.9 1634.7,564.8 1639.2,563.1 1643.7,561.8 1648.2,559.9 1652.8,552.5 1657.3,546.5 1661.8,544.2 1666.3,543.1 1670.8,541.9 1675.3,540.1 1679.8,538.3 1684.3,532.2 1688.9,524.4 1693.4,518.6 1697.9,512.0 1702.4,508.9 1706.9,508.2 1711.4,506.6 1715.9,496.7 1720.5,486.7 1725.0,479.8 1729.5,476.3 1734.0,475.2 1738.5,474.0 1743.0,472.9 1747.5,468.8 1752.0,462.2 1756.6,454.9 1761.1,451.5 1765.6,450.6 1770.1,449.7 1774.6,448.8 1779.1,445.8 1783.6,442.3 1788.2,440.3 1792.7,438.0 1797.2,436.3 1801.7,434.8 1806.2,433.2 1810.7,430.2 1815.2,426.7 1819.7,425.1 1824.3,424.9 1828.8,424.9 1833.3,424.9 1837.8,424.9 1842.3,421.2 1846.8,416.3 1851.3,414.0 1855.9,413.7 1860.4,413.4 1864.9,413.2 1869.4,412.9 1873.9,410.1 1878.4,406.0 1882.9,402.6 1887.5,400.2 1892.0,398.5 1896.5,397.5 1901.0,396.1 1905.5,394.1 1910.0,392.0 1914.5,389.7 1919.0,388.1 1923.6,386.8 1928.1,385.8 1932.6,384.6 1937.1,383.0 1941.6,381.3 1946.1,379.9 1950.6,379.3 1955.2,379.0 1959.7,378.7 1964.2,378.5 1968.7,378.1 1973.2,377.6 1977.7,376.8 1982.2,376.0 1986.7,375.1 1991.3,374.2 1995.8,373.0 2000.3,371.5 2004.8,369.3 2009.3,367.8 2013.8,366.6 2018.3,365.9 2022.9,365.3 2027.4,364.7 2031.9,363.7 2036.4,362.9 2040.9,362.6 2045.4,362.6 2049.9,362.6 2052.1,362.6" stroke="#c9c9c9"/>
<path d="M59.5,2202.8 64.0,2202.8 68.5,2202.8 73.0,2202.8 77.6,2202.8 82.1,2202.8 86.6,2202.8 91.1,2202.8 95.6,2202.8 100.1,2202.8 104.6,2202.8 109.1,2202.8 113.7,2202.8 118.2,2202.8 122.7,2202.8 127.2,2202.8 131.7,2202.8 136.2,2202.8 140.7,2202.8 145.3,2202.8 149.8,2202.8 154.3,2202.7 158.8,2202.5 163.3,2202.3 167.8,2202.0 172.3,2201.8 176.8,2201.6 181.4,2201.5 185.9,2201.2 190.4,2200.7 194.9,2200.2 199.4,2199.8 203.9,2199.3 208.4,2199.0 213.0,2198.4 217.5,2197.5 222.0,2196.0 226.5,2193.9 231.0,2192.2 235.5,2190.9 240.0,2190.1 244.6,2189.0 249.1,2187.3 253.6,2185.4 258.1,2183.2 262.6,2181.6 267.1,2180.4 271.6,2179.7 276.1,2178.8 280.7,2177.5 285.2,2175.8 289.7,2173.9 294.2,2172.3 298.7,2171.2 303.2,2170.5 307.7,2169.5 312.3,2168.2 316.8,2166.4 321.3,2164.1 325.8,2162.3 330.3,2160.9 334.8,2160.0 339.3,2159.0 343.8,2157.2 348.4,2154.1 352.9,2151.4 357.4,2148.6 361.9,2146.9 366.4,2145.4 370.9,2144.0 375.4,2141.9 380.0,2139.0 384.5,2135.5 389.0,2133.4 393.5,2131.9 398.0,2130.8 402.5,2129.4 407.0,2127.9 411.5,2125.8 416.1,2123.4 420.6,2121.3 425.1,2120.1 429.6,2119.3 434.1,2118.2 438.6,2116.8 443.1,2114.9 447.7,2112.9 452.2,2111.2 456.7,2110.0 461.2,2109.4 465.7,2108.5 470.2,2107.2 474.7,2105.8 479.3,2104.1 483.8,2103.0 488.3,2102.0 492.8,2101.5 497.3,2100.8 501.8,2099.9 506.3,2098.6 510.8,2097.4 515.4,2096.4 519.9,2095.6 524.4,2095.0 528.9,2094.5 533.4,2093.5 537.9,2092.2 542.4,2090.9 547.0,2089.7 551.5,2088.8 556.0,2088.3 560.5,2087.4 565.0,2086.5 569.5,2085.0 574.0,2083.6 578.5,2082.4 583.1,2081.5 587.6,2080.9 592.1,2080.4 596.6,2079.5 601.1,2078.2 605.6,2077.1 610.1,2076.0 614.7,2075.4 619.2,2075.0 623.7,2074.6 628.2,2073.8 632.7,2072.9 637.2,2072.1 641.7,2071.3 646.2,2070.8 650.8,2070.5 655.3,2070.0 659.8,2069.2 664.3,2068.3 668.8,2067.3 673.3,2066.2 677.8,2065.5 682.4,2065.0 686.9,2064.3 691.4,2063.4 695.9,2062.1 700.4,2060.8 704.9,2059.6 709.4,2058.5 714.0,2057.9 718.5,2057.3 723.0,2056.2 727.5,2054.7 732.0,2053.1 736.5,2051.9 741.0,2050.9 745.5,2050.2 750.1,2049.6 754.6,2048.7 759.1,2047.1 763.6,2045.7 768.1,2044.3 772.6,2043.6 777.1,2042.9 781.7,2042.3 786.2,2041.3 790.7,2039.9 795.2,2038.3 799.7,2036.9 804.2,2036.0 808.7,2035.5 813.2,2034.5 817.8,2033.6 822.3,2032.0 826.8,2030.2 831.3,2028.8 835.8,2027.9 840.3,2027.1 844.8,2026.2 849.4,2024.9 853.9,2023.3 858.4,2021.3 862.9,2019.6 867.4,2018.7 871.9,2017.8 876.4,2016.9 880.9,2015.6 885.5,2013.7 890.0,2011.6 894.5,2010.1 899.0,2008.8 903.5,2008.1 908.0,2007.2 912.5,2005.8 917.1,2003.9 921.6,2002.0 926.1,2000.0 930.6,1998.7 935.1,1998.0 939.6,1997.0 944.1,1995.3 948.7,1992.6 953.2,1989.6 957.7,1987.1 962.2,1984.8 966.7,1983.3 971.2,1981.5 975.7,1978.9 980.2,1974.8 984.8,1970.1 989.3,1965.8 993.8,1963.0 998.3,1960.8 1002.8,1958.8 1007.3,1955.0 1011.8,1950.7 1016.4,1946.0 1020.9,1942.0 1025.4,1939.8 1029.9,1937.9 1034.4,1936.2 1038.9,1933.3 1043.4,1929.4 1047.9,1925.7 1052.5,1922.3 1057.0,1919.9 1061.5,1918.4 1066.0,1916.7 1070.5,1913.9 1075.0,1909.8 1079.5,1905.4 1084.1,1901.9 1088.6,1898.7 1093.1,1896.9 1097.6,1894.6 1102.1,1891.4 1106.6,1886.5 1111.1,1880.3 1115.6,1875.4 1120.2,1872.2 1124.7,1869.3 1129.2,1866.8 1133.7,1862.5 1138.2,1857.3 1142.7,1851.6 1147.2,1846.6 1151.8,1842.6 1156.3,1840.7 1160.8,1837.8 1165.3,1834.3 1169.8,1829.2 1174.3,1823.8 1178.8,1819.4 1183.4,1816.4 1187.9,1814.8 1192.4,1811.9 1196.9,1808.8 1201.4,1803.9 1205.9,1799.0 1210.4,1794.9 1214.9,1791.5 1219.5,1790.0 1224.0,1787.4 1228.5,1784.0 1233.0,1779.1 1237.5,1774.4 1242.0,1770.2 1246.5,1767.6 1251.1,1766.4 1255.6,1764.0 1260.1,1761.1 1264.6,1756.6 1269.1,1752.4 1273.6,1748.2 1278.1,1745.0 1282.6,1743.4 1287.2,1740.6 1291.7,1736.9 1296.2,1731.8 1300.7,1725.2 1305.2,1719.3 1309.7,1714.1 1314.2,1710.1 1318.8,1706.1 1323.3,1699.7 1327.8,1690.1 1332.3,1679.6 1336.8,1670.3 1341.3,1665.3 1345.8,1661.0 1350.3,1654.6 1354.9,1647.2 1359.4,1637.8 1363.9,1627.2 1368.4,1618.7 1372.9,1612.1 1377.4,1607.7 1381.9,1603.5 1386.5,1595.8 1391.0,1587.3 1395.5,1577.2 1400.0,1568.2 1404.5,1562.3 1409.0,1556.8 1413.5,1552.4 1418.1,1544.6 1422.6,1533.9 1427.1,1521.1 1431.6,1510.7 1436.1,1503.1 1440.6,1497.4 1445.1,1489.0 1449.6,1476.2 1454.2,1461.5 1458.7,1438.0 1463.2,1432.4 1467.7,1428.9 1472.2,1424.3 1476.7,1421.4 1481.2,1416.9 1485.8,1412.9 1490.3,1411.4 1494.8,1398.4 1499.3,1391.6 1503.8,1384.8 1508.3,1378.6 1512.8,1376.1 1517.3,1375.5 1521.9,1368.1 1526.4,1338.6 1530.9,1336.5 1535.4,1336.2 1539.9,1336.0 1544.4,1335.4 1548.9,1331.3 1553.5,1330.3 1558.0,1314.3 1562.5,1311.6 1567.0,1309.8 1571.5,1308.2 1576.0,1305.4 1580.5,1302.2 1583.6,1301.5 1584.9,1278.2 1589.6,1267.9 1594.1,1264.9 1598.6,1263.3 1603.1,1262.0 1607.6,1259.6 1612.1,1256.8 1616.6,1254.0 1621.2,1250.8 1625.7,1248.7 1630.2,1244.9 1634.7,1226.3 1639.2,1224.5 1643.7,1222.0 1648.2,1219.3 1652.8,1206.5 1657.3,1201.7 1661.8,1199.2 1666.3,1197.2 1670.8,1191.5 1675.3,1188.0 1679.8,1175.7 1684.3,1168.1 1688.9,1167.4 1693.4,1166.8 1697.9,1164.5 1702.4,1160.7 1706.9,1158.8 1711.4,1157.1 1715.0,1156.5 1719.1,1134.0 1720.5,1133.9 1725.0,1133.8 1729.5,1133.7 1734.0,1133.6 1738.5,1133.4 1743.0,1123.4 1747.5,1118.0 1752.0,1116.2 1756.6,1115.8 1761.1,1115.6 1765.6,1115.4 1770.1,1115.3 1774.6,1115.2 1779.1,1114.9 1783.6,1114.6 1788.2,1111.1 1792.7,1105.4 1797.2,1105.4 1801.7,1105.4 1806.2,1105.4 1810.7,1105.4 1815.2,1105.4 1819.7,1105.4 1824.3,1105.4 1828.8,1096.3 1833.3,1096.1 1837.8,1096.0 1842.3,1095.8 1846.8,1095.3 1851.3,1092.3 1855.9,1088.8 1860.4,1084.2 1864.9,1080.6 1869.4,1080.3 1873.9,1080.1 1878.4,1079.9 1882.9,1079.9 1887.5,1079.8 1892.0,1079.7 1896.5,1079.7 1901.0,1079.6 1905.5,1079.5 1910.0,1079.4 1914.5,1079.3 1919.0,1079.2 1923.6,1064.9 1928.1,1064.9 1932.6,1064.9 1937.1,1063.3 1941.6,1061.3 1946.1,1060.2 1950.6,1059.2 1955.2,1057.0 1959.7,1056.6 1964.2,1056.6 1968.7,1056.6 1973.2,1056.6 1977.7,1056.6 1982.2,1056.6 1986.7,1056.6 1991.3,1056.6 1995.8,1054.3 2000.3,1052.2 2004.8,1050.9 2009.3,1050.1 2013.8,1049.3 2018.3,1048.3 2022.9,1047.6 2027.4,1047.6 2031.9,1047.6 2036.4,1047.6 2040.9,1047.0 2045.4,1045.6 2049.9,1042.5 2052.1,1041.6" stroke="#ffd966"/>
<path d="M59.5,2202.8 64.0,2202.8 68.5,2202.8 73.0,2202.8 77.6,2202.8 82.1,2202.8 86.6,2202.8 91.1,2202.8 95.6,2202.8 100.1,2202.8 104.6,2202.8 109.1,2202.8 113.7,2202.8 118.2,2202.8 122.7,2202.8 127.2,2202.8 131.7,2202.8 136.2,2202.8 140.7,2202.8 145.3,2202.8 149.8,2202.8 154.3,2202.8 158.8,2202.7 163.3,2202.5 167.8,2202.3 172.3,2202.0 176.8,2201.8 181.4,2201.7 185.9,2201.5 190.4,2201.1 194.9,2200.8 199.4,2200.6 203.9,2200.4 208.4,2200.2 213.0,2200.1 217.5,2200.0 222.0,2199.8 226.5,2199.5 231.0,2199.3 235.5,2199.1 240.0,2199.0 244.6,2198.8 249.1,2198.7 253.6,2198.4 258.1,2198.1 262.6,2197.7 267.1,2197.4 271.6,2197.1 276.1,2196.9 280.7,2196.5 285.2,2195.9 289.7,2195.4 294.2,2194.7 298.7,2194.2 303.2,2193.8 307.7,2193.5 312.3,2193.1 316.8,2192.6 321.3,2192.1 325.8,2191.8 330.3,2191.6 334.8,2191.5 339.3,2191.5 343.8,2191.4 348.4,2191.3 352.9,2191.2 357.4,2191.1 361.9,2191.0 366.4,2191.0 370.9,2190.9 375.4,2190.9 380.0,2190.8 384.5,2190.7 389.0,2190.7 393.5,2190.6 398.0,2190.6 402.5,2190.6 407.0,2190.5 411.5,2190.5 416.1,2190.5 420.6,2190.4 425.1,2190.4 429.6,2190.4 434.1,2190.4 438.6,2190.3 443.1,2190.3 447.7,2190.3 452.2,2190.2 456.7,2190.2 461.2,2190.2 465.7,2190.2 470.2,2190.1 474.7,2190.1 479.3,2190.1 483.8,2190.0 488.3,2190.0 492.8,2189.9 497.3,2189.9 501.8,2189.9 506.3,2189.8 510.8,2189.7 515.4,2189.6 519.9,2189.6 524.4,2189.5 528.9,2189.4 533.4,2189.4 537.9,2189.3 542.4,2189.1 547.0,2189.0 551.5,2188.8 556.0,2188.7 560.5,2188.5 565.0,2188.4 569.5,2188.1 574.0,2187.8 578.5,2187.5 583.1,2187.2 587.6,2187.0 592.1,2186.7 596.6,2186.5 601.1,2186.1 605.6,2185.7 610.1,2185.2 614.7,2184.8 619.2,2184.4 623.7,2184.1 628.2,2183.8 632.7,2183.3 637.2,2182.7 641.7,2182.1 646.2,2181.6 650.8,2181.3 655.3,2180.9 659.8,2180.4 664.3,2179.9 668.8,2179.1 673.3,2178.4 677.8,2177.9 682.4,2177.3 686.9,2176.7 691.4,2175.8 695.9,2174.8 700.4,2173.4 704.9,2172.0 709.4,2170.6 714.0,2169.6 718.5,2168.9 723.0,2167.9 727.5,2166.4 732.0,2164.9 736.5,2163.2 741.0,2162.0 745.5,2161.3 750.1,2160.4 754.6,2159.7 759.1,2158.5 763.6,2157.0 768.1,2155.9 772.6,2154.8 777.1,2154.0 781.7,2153.3 786.2,2152.5 790.7,2151.3 795.2,2150.1 799.7,2148.7 804.2,2147.6 808.7,2147.0 813.2,2146.2 817.8,2145.4 822.3,2144.4 826.8,2143.2 831.3,2142.2 835.8,2141.2 840.3,2140.6 844.8,2140.1 849.4,2139.3 853.9,2138.4 858.4,2137.1 862.9,2136.1 867.4,2135.2 871.9,2134.4 876.4,2133.7 880.9,2132.9 885.5,2131.7 890.0,2130.0 894.5,2128.2 899.0,2126.8 903.5,2125.6 908.0,2124.4 912.5,2122.6 917.1,2120.8 921.6,2118.1 926.1,2115.8 930.6,2113.8 935.1,2111.9 939.6,2110.5 944.1,2108.8 948.7,2106.9 953.2,2104.4 957.7,2102.1 962.2,2100.5 966.7,2098.8 971.2,2097.5 975.7,2096.1 980.2,2093.8 984.8,2091.7 989.3,2089.3 993.8,2087.5 998.3,2086.2 1002.8,2085.1 1007.3,2083.7 1011.8,2081.6 1016.4,2079.8 1020.9,2078.0 1025.4,2076.6 1029.9,2075.5 1034.4,2074.8 1038.9,2073.8 1043.4,2072.5 1047.9,2071.0 1052.5,2068.7 1057.0,2064.9 1061.5,2061.0 1066.0,2059.5 1070.5,2058.1 1075.0,2055.9 1079.5,2052.3 1084.1,2048.3 1088.6,2044.7 1093.1,2043.7 1097.6,2042.8 1102.1,2041.8 1106.6,2040.4 1111.1,2027.1 1115.6,2014.2 1120.2,2011.2 1124.7,2008.8 1129.2,2005.6 1133.7,1999.1 1138.2,1995.6 1142.7,1991.7 1147.2,1979.9 1151.8,1973.4 1156.3,1968.1 1160.8,1963.9 1165.3,1960.5 1169.8,1954.6 1174.3,1943.3 1178.8,1929.5 1183.4,1924.6 1187.9,1917.1 1192.4,1910.9 1196.9,1895.4 1201.4,1887.9 1205.9,1885.9 1210.4,1876.2 1214.9,1867.1 1219.5,1861.4 1224.0,1856.7 1228.5,1846.7 1233.0,1841.0 1237.5,1833.2 1242.0,1825.2 1246.5,1816.8 1251.1,1811.5 1255.6,1805.5 1260.1,1798.7 1264.6,1789.8 1269.1,1778.9 1273.6,1768.9 1278.1,1760.0 1282.6,1753.0 1287.2,1747.4 1291.7,1739.6 1296.2,1729.4 1300.7,1719.2 1305.2,1707.9 1309.7,1700.4 1314.2,1695.6 1318.8,1690.6 1323.3,1685.5 1327.8,1678.8 1332.3,1670.6 1336.8,1663.2 1341.3,1657.3 1345.8,1653.2 1350.3,1648.9 1354.9,1644.7 1359.4,1638.2 1363.9,1630.7 1368.4,1622.6 1372.9,1617.1 1377.4,1608.2 1381.9,1604.6 1386.5,1604.0 1391.0,1594.0 1395.5,1579.5 1400.0,1569.2 1404.5,1568.3 1409.0,1567.4 1413.5,1566.7 1418.1,1563.3 1422.6,1556.4 1427.1,1547.3 1431.6,1540.7 1436.1,1536.8 1440.6,1535.2 1445.1,1530.9 1449.6,1528.0 1454.2,1527.1 1458.7,1516.9 1463.2,1500.3 1467.7,1488.5 1472.2,1481.9 1476.7,1477.3 1481.2,1472.6 1485.8,1470.5 1490.3,1466.8 1494.8,1462.3 1499.3,1457.4 1503.8,1454.1 1508.3,1449.9 1512.8,1448.7 1517.3,1447.4 1521.9,1443.5 1526.4,1437.7 1530.9,1436.8 1535.4,1436.1 1537.5,1435.9 1543.8,1403.6 1548.9,1396.4 1553.5,1382.0 1558.0,1372.7 1562.5,1366.9 1567.0,1353.2 1571.5,1350.6 1576.0,1348.9 1580.5,1347.5 1585.0,1346.1 1589.6,1330.0 1592.8,1300.0 1594.1,1297.0 1598.6,1296.3 1603.1,1295.8 1607.6,1294.9 1612.1,1294.1 1616.6,1291.4 1621.2,1288.9 1625.7,1285.5 1630.2,1283.6 1634.7,1281.8 1639.2,1280.6 1643.7,1279.4 1648.2,1278.1 1652.8,1275.1 1657.3,1272.6 1661.8,1272.2 1666.3,1272.2 1670.8,1272.2 1675.3,1272.2 1679.8,1272.2 1684.3,1270.4 1688.9,1268.8 1693.4,1267.6 1697.9,1266.8 1702.4,1265.4 1706.9,1265.0 1711.4,1258.3 1715.9,1252.5 1720.5,1250.3 1725.0,1249.1 1729.5,1247.9 1734.0,1246.3 1738.5,1245.4 1743.0,1243.4 1747.5,1239.9 1752.0,1238.4 1756.6,1238.4 1761.1,1238.4 1765.6,1238.4 1770.1,1237.7 1774.6,1236.1 1779.1,1235.5 1783.6,1232.2 1788.2,1227.5 1792.7,1224.7 1797.2,1224.2 1801.7,1222.5 1806.2,1220.0 1810.7,1216.2 1815.2,1212.9 1819.7,1210.4 1824.3,1208.7 1828.8,1208.1 1833.3,1207.9 1837.8,1207.5 1842.3,1207.2 1846.8,1206.9 1851.3,1204.1 1855.9,1200.6 1860.4,1194.3 1864.9,1188.5 1869.4,1181.0 1873.9,1174.8 1878.4,1164.2 1882.9,1153.9 1887.5,1149.4 1892.0,1148.5 1896.5,1147.4 1901.0,1146.1 1905.5,1144.9 1910.0,1142.2 1914.5,1139.3 1919.0,1136.9 1923.6,1133.5 1928.1,1130.5 1932.6,1127.9 1937.1,1125.6 1941.6,1123.9 1946.1,1122.5 1950.6,1121.2 1955.2,1119.8 1959.7,1119.7 1964.2,1119.7 1968.7,1118.6 1973.2,1117.0 1977.7,1116.1 1982.2,1115.3 1986.7,1114.1 1991.3,1112.6 1995.8,1110.9 2000.3,1109.3 2004.8,1108.0 2009.3,1106.6 2013.8,1105.5 2018.3,1103.9 2022.9,1102.3 2027.4,1100.1 2031.9,1099.1 2036.4,1098.3 2040.9,1097.5 2045.4,1097.1 2049.9,1096.0 2052.1,1095.7" stroke="#9dc3e6"/>
<path d="M59.5,2202.8 64.0,2202.8 68.5,2202.8 73.0,2202.8 77.6,2202.8 82.1,2202.8 86.6,2202.8 91.1,2202.8 95.6,2202.8 100.1,2202.8 104.6,2202.8 109.1,2202.8 113.7,2202.8 118.2,2202.8 122.7,2202.8 127.2,2202.8 131.7,2202.8 136.2,2202.8 140.7,2202.8 145.3,2202.8 149.8,2202.8 154.3,2202.8 158.8,2202.7 163.3,2202.7 167.8,2202.6 172.3,2202.4 176.8,2202.2 181.4,2202.1 185.9,2201.9 190.4,2201.8 194.9,2201.6 199.4,2201.4 203.9,2201.2 208.4,2200.9 213.0,2200.6 217.5,2200.3 222.0,2200.1 226.5,2199.7 231.0,2199.3 235.5,2198.6 240.0,2197.9 244.6,2197.4 249.1,2197.0 253.6,2196.6 258.1,2196.1 262.6,2195.3 267.1,2194.4 271.6,2193.1 276.1,2192.0 280.7,2191.1 285.2,2190.2 289.7,2189.1 294.2,2187.3 298.7,2185.5 303.2,2183.6 307.7,2181.9 312.3,2181.1 316.8,2179.8 321.3,2178.7 325.8,2177.0 330.3,2175.3 334.8,2173.8 339.3,2172.7 343.8,2171.7 348.4,2171.0 352.9,2170.1 357.4,2169.1 361.9,2167.7 366.4,2166.4 370.9,2165.4 375.4,2164.7 380.0,2164.0 384.5,2163.1 389.0,2161.9 393.5,2160.2 398.0,2158.7 402.5,2157.5 407.0,2156.3 411.5,2155.5 416.1,2154.0 420.6,2152.4 425.1,2150.2 429.6,2148.2 434.1,2146.5 438.6,2145.3 443.1,2144.0 447.7,2142.9 452.2,2141.1 456.7,2138.9 461.2,2137.0 465.7,2135.7 470.2,2134.5 474.7,2133.6 479.3,2132.6 483.8,2131.0 488.3,2129.4 492.8,2128.0 497.3,2126.7 501.8,2126.0 506.3,2125.1 510.8,2124.1 515.4,2122.8 519.9,2121.3 524.4,2120.0 528.9,2118.9 533.4,2117.9 537.9,2117.2 542.4,2116.0 547.0,2114.5 551.5,2112.8 556.0,2111.1 560.5,2109.9 565.0,2108.8 569.5,2107.8 574.0,2106.7 578.5,2105.0 583.1,2103.5 587.6,2101.9 592.1,2100.9 596.6,2100.0 601.1,2099.3 605.6,2098.7 610.1,2097.7 614.7,2096.8 619.2,2096.1 623.7,2095.4 628.2,2095.1 632.7,2094.8 637.2,2094.3 641.7,2093.8 646.2,2093.2 650.8,2092.6 655.3,2092.2 659.8,2091.7 664.3,2091.4 668.8,2090.9 673.3,2090.1 677.8,2089.3 682.4,2088.3 686.9,2087.4 691.4,2086.7 695.9,2086.1 700.4,2085.2 704.9,2084.2 709.4,2082.7 714.0,2081.6 718.5,2080.4 723.0,2079.7 727.5,2079.0 732.0,2078.2 736.5,2076.9 741.0,2075.7 745.5,2074.5 750.1,2073.5 754.6,2073.0 759.1,2072.4 763.6,2071.5 768.1,2070.6 772.6,2069.7 777.1,2068.6 781.7,2067.9 786.2,2067.3 790.7,2066.7 795.2,2066.0 799.7,2065.2 804.2,2064.1 808.7,2063.1 813.2,2062.3 817.8,2061.8 822.3,2061.2 826.8,2060.4 831.3,2059.6 835.8,2058.7 840.3,2057.6 844.8,2056.9 849.4,2056.2 853.9,2055.8 858.4,2055.1 862.9,2054.1 867.4,2053.1 871.9,2052.1 876.4,2051.2 880.9,2050.6 885.5,2050.0 890.0,2049.3 894.5,2048.2 899.0,2047.0 903.5,2045.7 908.0,2044.8 912.5,2043.9 917.1,2043.3 921.6,2042.3 926.1,2041.2 930.6,2039.9 935.1,2038.5 939.6,2037.6 944.1,2036.6 948.7,2035.9 953.2,2035.0 957.7,2033.9 962.2,2032.6 966.7,2031.2 971.2,2030.3 975.7,2029.6 980.2,2028.8 984.8,2027.9 989.3,2026.8 993.8,2025.3 998.3,2024.0 1002.8,2022.8 1007.3,2022.1 1011.8,2021.4 1016.4,2020.3 1020.9,2019.1 1025.4,2017.4 1029.9,2016.0 1034.4,2014.6 1038.9,2013.6 1043.4,2012.9 1047.9,2011.7 1052.5,2010.4 1057.0,2008.5 1061.5,2006.7 1066.0,2005.3 1070.5,2004.2 1075.0,2002.9 1079.5,2001.5 1084.1,1999.5 1088.6,1997.3 1093.1,1994.7 1097.6,1992.7 1102.1,1991.1 1106.6,1989.3 1111.1,1987.1 1115.6,1984.4 1120.2,1980.8 1124.7,1977.2 1129.2,1974.7 1133.7,1972.1 1138.2,1970.4 1142.7,1967.5 1147.2,1964.1 1151.8,1959.6 1156.3,1956.0 1160.8,1952.8 1165.3,1950.1 1169.8,1947.7 1174.3,1944.9 1178.8,1941.4 1183.4,1936.2 1187.9,1931.7 1192.4,1928.5 1196.9,1925.0 1201.4,1922.6 1205.9,1919.2 1210.4,1914.4 1214.9,1909.3 1219.5,1904.3 1224.0,1899.5 1228.5,1895.7 1233.0,1892.7 1237.5,1888.9 1242.0,1883.3 1246.5,1877.3 1251.1,1871.2 1255.6,1866.9 1260.1,1862.7 1264.6,1859.4 1269.1,1854.8 1273.6,1847.8 1278.1,1840.2 1282.6,1833.1 1287.2,1826.6 1291.7,1821.5 1296.2,1816.0 1300.7,1809.7 1305.2,1802.4 1309.7,1790.2 1314.2,1777.0 1318.8,1767.7 1323.3,1758.4 1327.8,1751.8 1332.3,1742.1 1336.8,1728.0 1341.3,1713.0 1345.8,1696.2 1350.3,1685.3 1354.9,1674.5 1359.4,1667.2 1363.9,1659.7 1368.4,1653.6 1372.9,1646.7 1377.4,1642.1 1381.9,1640.4 1386.5,1639.1 1391.0,1638.2 1395.5,1635.2 1400.0,1622.7 1404.5,1609.2 1409.0,1603.5 1413.5,1601.7 1418.1,1600.8 1422.6,1599.7 1427.1,1595.4 1431.6,1589.3 1436.1,1583.3 1440.6,1566.1 1445.1,1565.3 1449.6,1564.5 1454.2,1564.0 1458.7,1560.0 1463.2,1551.7 1467.7,1546.6 1472.2,1544.9 1476.7,1543.3 1481.2,1542.1 1485.8,1535.8 1490.3,1525.7 1494.8,1515.1 1499.3,1505.1 1503.8,1500.0 1508.3,1499.2 1512.8,1498.5 1517.3,1498.1 1521.9,1497.4 1526.4,1496.5 1530.9,1494.1 1535.4,1490.2 1539.9,1487.4 1544.4,1484.7 1548.9,1483.1 1553.5,1480.9 1558.0,1473.3 1562.5,1469.2 1567.0,1468.4 1571.5,1467.7 1576.0,1467.3 1580.5,1466.9 1585.0,1466.3 1589.6,1465.3 1594.1,1460.3 1598.6,1455.6 1603.1,1453.3 1607.6,1452.0 1612.1,1450.8 1616.6,1448.8 1621.2,1444.6 1625.7,1440.6 1630.2,1437.4 1634.7,1437.2 1639.2,1436.2 1643.7,1435.1 1648.2,1432.4 1652.8,1428.0 1657.3,1422.9 1661.8,1420.4 1666.3,1419.9 1670.8,1419.3 1675.3,1418.9 1679.8,1418.4 1684.3,1417.4 1688.9,1412.5 1693.4,1407.7 1697.9,1405.7 1702.4,1405.5 1706.9,1405.3 1711.4,1405.1 1715.9,1404.8 1720.5,1404.4 1725.0,1394.4 1729.5,1393.1 1734.0,1393.1 1738.5,1393.1 1743.0,1393.1 1747.5,1392.2 1752.0,1391.2 1756.6,1390.2 1761.1,1389.6 1765.6,1389.2 1770.1,1388.8 1774.6,1388.2 1779.1,1387.6 1783.6,1387.0 1788.2,1386.6 1792.7,1386.4 1797.2,1386.2 1801.7,1386.0 1806.2,1385.8 1810.7,1382.6 1815.2,1376.9 1819.7,1372.1 1824.3,1369.7 1828.8,1369.6 1833.3,1369.5 1837.8,1369.4 1842.3,1369.2 1846.8,1369.0 1851.3,1368.9 1855.9,1368.8 1860.4,1368.8 1864.9,1368.7 1869.4,1368.6 1873.9,1367.7 1878.4,1360.8 1882.9,1353.4 1887.5,1353.1 1892.0,1352.9 1896.5,1352.8 1901.0,1352.7 1905.5,1352.6 1910.0,1352.6 1914.5,1352.6 1919.0,1352.6 1923.6,1352.6 1928.1,1352.6 1932.6,1351.2 1937.1,1349.6 1941.6,1347.6 1946.1,1346.4 1950.6,1345.8 1955.2,1345.5 1959.7,1345.1 1964.2,1344.7 1968.7,1344.2 1973.2,1343.8 1977.7,1343.3 1982.2,1343.0 1986.7,1342.8 1991.3,1342.6 1995.8,1342.3 2000.3,1342.0 2004.8,1341.7 2009.3,1341.5 2013.8,1341.2 2018.3,1341.0 2022.9,1340.9 2027.4,1340.6 2031.9,1340.3 2036.4,1340.0 2040.9,1339.6 2045.4,1339.4 2049.9,1339.2 2052.1,1339.0" stroke="#a9d18e"/>
<path d="M59.5,2202.8 64.0,2202.8 68.5,2202.8 73.0,2202.8 77.6,2202.8 82.1,2202.8 86.6,2202.8 91.1,2202.8 95.6,2202.8 100.1,2202.8 104.6,2202.8 109.1,2202.8 113.7,2202.8 118.2,2202.8 122.7,2202.8 127.2,2202.8 131.7,2202.8 136.2,2202.8 140.7,2202.7 145.3,2202.7 149.8,2202.5 154.3,2202.3 158.8,2201.9 163.3,2201.4 167.8,2201.0 172.3,2200.7 176.8,2200.4 181.4,2200.0 185.9,2199.3 190.4,2198.6 194.9,2197.8 199.4,2197.1 203.9,2196.4 208.4,2195.5 213.0,2194.2 217.5,2191.7 222.0,2188.7 226.5,2185.4 231.0,2182.8 235.5,2181.3 240.0,2179.5 244.6,2177.7 249.1,2174.5 253.6,2171.5 258.1,2169.6 262.6,2168.1 267.1,2167.3 271.6,2166.5 276.1,2165.6 280.7,2164.0 285.2,2162.4 289.7,2161.1 294.2,2160.2 298.7,2159.7 303.2,2159.1 307.7,2158.6 312.3,2157.9 316.8,2157.3 321.3,2156.9 325.8,2156.5 330.3,2156.3 334.8,2155.8 339.3,2154.8 343.8,2152.2 348.4,2148.3 352.9,2144.3 357.4,2140.5 361.9,2138.7 366.4,2136.7 370.9,2134.3 375.4,2131.3 380.0,2128.4 384.5,2125.9 389.0,2124.3 393.5,2123.0 398.0,2121.9 402.5,2120.3 407.0,2118.5 411.5,2115.9 416.1,2114.3 420.6,2112.8 425.1,2112.2 429.6,2111.3 434.1,2110.2 438.6,2109.7 443.1,2108.4 447.7,2106.6 452.2,2105.3 456.7,2104.2 461.2,2103.5 465.7,2102.2 470.2,2100.7 474.7,2098.7 479.3,2097.2 483.8,2095.9 488.3,2095.0 492.8,2094.2 497.3,2093.2 501.8,2091.8 506.3,2090.4 510.8,2089.1 515.4,2088.2 519.9,2087.6 524.4,2087.1 528.9,2086.4 533.4,2085.5 537.9,2084.4 542.4,2083.5 547.0,2082.8 551.5,2082.3 556.0,2082.0 560.5,2081.5 565.0,2080.7 569.5,2079.8 574.0,2079.0 578.5,2078.3 583.1,2077.9 587.6,2077.6 592.1,2077.1 596.6,2076.4 601.1,2075.5 605.6,2074.7 610.1,2073.9 614.7,2073.5 619.2,2072.8 623.7,2071.9 628.2,2070.0 632.7,2067.1 637.2,2064.9 641.7,2062.9 646.2,2062.0 650.8,2061.0 655.3,2060.2 659.8,2059.0 664.3,2056.8 668.8,2054.7 673.3,2051.4 677.8,2049.0 682.4,2046.6 686.9,2046.6 691.4,2046.6 695.9,2043.9 700.4,2040.2 704.9,2034.1 709.4,2032.9 714.0,2031.7 718.5,2030.3 723.0,2027.6 727.5,2022.5 732.0,2016.9 736.5,2010.7 741.0,2008.5 745.5,2006.7 750.1,2003.1 754.6,1999.3 759.1,1999.3 763.6,1994.1 768.1,1990.1 772.6,1987.8 777.1,1986.0 781.7,1982.3 786.2,1976.0 790.7,1967.1 795.2,1961.7 799.7,1958.5 804.2,1953.9 808.7,1951.2 813.2,1946.1 817.8,1942.7 822.3,1941.5 826.8,1932.7 831.3,1926.0 835.8,1923.6 840.3,1920.8 844.8,1917.1 849.4,1914.2 853.9,1913.6 858.4,1907.5 862.9,1902.4 867.4,1898.7 871.9,1896.3 876.4,1891.9 880.9,1888.0 885.5,1886.3 890.0,1882.4 894.5,1877.0 899.0,1872.5 903.5,1870.5 908.0,1868.2 912.5,1866.6 917.1,1866.1 921.6,1865.6 926.1,1862.0 930.6,1859.1 935.1,1858.0 939.6,1855.9 944.1,1853.2 948.7,1851.3 953.2,1845.9 957.7,1843.0 962.2,1841.4 966.7,1840.3 971.2,1837.9 975.7,1835.0 980.2,1832.3 984.8,1830.1 989.3,1828.7 993.8,1827.4 998.3,1826.3 1002.8,1824.5 1007.3,1822.0 1011.8,1819.3 1016.4,1816.8 1020.9,1814.7 1025.4,1813.4 1029.9,1812.3 1034.4,1811.0 1038.9,1808.9 1043.4,1806.9 1047.9,1804.8 1052.5,1803.6 1057.0,1802.6 1061.5,1801.7 1066.0,1800.7 1070.5,1799.3 1075.0,1797.6 1079.5,1795.7 1084.1,1794.5 1088.6,1793.6 1093.1,1793.1 1097.6,1791.8 1102.1,1790.0 1106.6,1788.0 1111.1,1786.0 1115.6,1784.7 1120.2,1783.6 1124.7,1782.8 1129.2,1781.4 1133.7,1779.6 1138.2,1777.1 1142.7,1775.2 1147.2,1773.7 1151.8,1772.2 1156.3,1771.4 1160.8,1769.7 1165.3,1767.6 1169.8,1764.9 1174.3,1762.5 1178.8,1761.0 1183.4,1759.5 1187.9,1758.3 1192.4,1756.6 1196.9,1754.1 1201.4,1751.4 1205.9,1748.2 1210.4,1746.1 1214.9,1744.4 1219.5,1743.2 1224.0,1740.9 1228.5,1738.0 1233.0,1734.2 1237.5,1730.0 1242.0,1727.0 1246.5,1725.1 1251.1,1723.6 1255.6,1720.5 1260.1,1716.4 1264.6,1711.7 1269.1,1706.3 1273.6,1703.2 1278.1,1700.6 1282.6,1697.8 1287.2,1693.5 1291.7,1688.4 1296.2,1682.0 1300.7,1675.8 1305.2,1669.8 1309.7,1666.3 1314.2,1661.5 1318.8,1656.2 1323.3,1646.5 1327.8,1635.1 1332.3,1625.0 1336.8,1616.3 1341.3,1610.7 1345.8,1605.5 1350.3,1597.1 1354.9,1586.6 1359.4,1575.5 1363.9,1566.0 1368.4,1557.9 1372.9,1552.5 1377.4,1548.0 1381.9,1542.6 1386.5,1532.8 1391.0,1522.1 1395.5,1512.1 1400.0,1506.1 1404.5,1500.9 1409.0,1496.0 1413.5,1489.8 1418.1,1481.6 1422.6,1471.3 1427.1,1461.3 1431.6,1455.5 1436.1,1450.2 1440.6,1446.0 1445.1,1441.7 1449.6,1434.2 1454.2,1426.4 1458.7,1414.2 1463.2,1404.2 1467.7,1398.2 1472.2,1390.1 1476.7,1382.3 1481.2,1370.9 1485.8,1356.3 1490.3,1342.5 1494.8,1326.5 1499.3,1318.9 1503.8,1313.5 1508.3,1304.2 1512.8,1294.1 1517.3,1283.9 1521.9,1271.7 1526.4,1260.0 1530.9,1253.1 1535.4,1246.4 1539.9,1236.5 1544.4,1229.6 1548.9,1220.1 1553.5,1207.8 1558.0,1196.2 1562.5,1189.5 1567.0,1182.4 1571.5,1177.8 1576.0,1169.9 1580.5,1162.2 1585.0,1152.6 1589.6,1146.4 1594.1,1141.7 1598.6,1136.1 1603.1,1129.1 1607.6,1121.0 1612.1,1116.0 1616.6,1105.3 1621.2,1097.4 1625.7,1092.4 1630.2,1088.7 1634.7,1083.4 1639.2,1079.6 1643.7,1072.5 1648.2,1063.2 1652.8,1054.9 1657.3,1042.7 1661.8,1035.0 1666.3,1031.1 1670.8,1025.9 1675.3,1020.5 1679.8,1016.2 1684.3,1013.4 1688.9,1011.1 1693.4,1009.3 1697.9,1006.5 1702.4,1003.2 1706.9,999.1 1711.4,995.2 1715.9,992.2 1720.5,990.2 1725.0,988.8 1729.5,986.5 1734.0,982.9 1738.5,979.0 1743.0,975.5 1747.5,972.9 1752.0,971.4 1756.6,970.3 1761.1,968.5 1765.6,967.2 1770.1,967.2 1774.6,965.1 1779.1,961.7 1783.6,959.2 1788.2,957.6 1792.7,956.5 1797.2,954.8 1801.7,953.0 1806.2,950.9 1810.7,949.2 1815.2,948.0 1819.7,946.8 1824.3,945.0 1828.8,943.1 1833.3,940.4 1837.8,938.1 1842.3,936.3 1846.8,935.3 1851.3,934.5 1855.9,933.4 1860.4,932.0 1864.9,928.9 1869.4,923.6 1873.9,920.0 1878.4,918.1 1882.9,916.8 1887.5,915.1 1892.0,913.8 1896.5,912.1 1901.0,910.7 1905.5,908.4 1910.0,906.8 1914.5,904.9 1919.0,904.7 1923.6,904.4 1928.1,903.6 1932.6,900.0 1937.1,897.0 1941.6,895.1 1946.1,892.9 1950.6,891.2 1955.2,888.6 1959.7,886.4 1964.2,883.9 1968.7,882.9 1973.2,882.3 1977.7,881.6 1982.2,880.8 1986.7,879.5 1991.3,878.4 1995.8,877.4 2000.3,876.4 2004.8,875.9 2009.3,875.3 2013.8,874.1 2018.3,872.7 2022.9,870.7 2027.4,869.0 2031.9,867.2 2036.4,866.3 2040.9,865.1 2045.4,865.1 2049.9,865.1 2052.1,865.1" stroke="#203864"/>
<path d="M59.5,2202.8 64.0,2202.8 68.5,2202.8 73.0,2202.8 77.6,2202.8 82.1,2202.8 86.6,2202.8 91.1,2202.8 95.6,2202.8 100.1,2202.8 104.6,2202.8 109.1,2202.8 113.7,2202.8 118.2,2202.8 122.7,2202.8 127.2,2202.8 131.7,2202.8 136.2,2202.8 140.7,2202.8 145.3,2202.8 149.8,2202.8 154.3,2202.8 158.8,2202.7 163.3,2202.5 167.8,2202.4 172.3,2202.2 176.8,2202.1 181.4,2201.9 185.9,2201.7 190.4,2201.3 194.9,2200.9 199.4,2200.6 203.9,2200.2 208.4,2199.8 213.0,2199.3 217.5,2198.6 222.0,2197.2 226.5,2195.5 231.0,2194.0 235.5,2193.0 240.0,2191.9 244.6,2190.8 249.1,2189.2 253.6,2187.5 258.1,2185.5 262.6,2183.8 267.1,2182.7 271.6,2182.0 276.1,2180.8 280.7,2179.3 285.2,2177.5 289.7,2175.3 294.2,2173.6 298.7,2172.2 303.2,2171.0 307.7,2169.8 312.3,2167.9 316.8,2165.7 321.3,2163.3 325.8,2160.9 330.3,2159.0 334.8,2157.7 339.3,2156.2 343.8,2153.7 348.4,2149.8 352.9,2145.2 357.4,2141.9 361.9,2138.7 366.4,2136.7 370.9,2135.0 375.4,2132.1 380.0,2129.5 384.5,2127.0 389.0,2124.8 393.5,2122.8 398.0,2121.4 402.5,2119.0 407.0,2116.5 411.5,2113.2 416.1,2108.1 420.6,2103.7 425.1,2100.5 429.6,2098.7 434.1,2095.9 438.6,2092.8 443.1,2089.0 447.7,2084.5 452.2,2081.1 456.7,2078.5 461.2,2076.6 465.7,2074.1 470.2,2071.4 474.7,2066.8 479.3,2061.6 483.8,2058.1 488.3,2054.6 492.8,2052.2 497.3,2050.2 501.8,2049.1 506.3,2047.7 510.8,2045.6 515.4,2041.0 519.9,2039.5 524.4,2038.0 528.9,2036.5 533.4,2034.3 537.9,2031.2 542.4,2028.0 547.0,2025.7 551.5,2023.6 556.0,2022.1 560.5,2020.9 565.0,2019.5 569.5,2017.8 574.0,2014.0 578.5,2010.8 583.1,2008.5 587.6,2006.2 592.1,2004.9 596.6,2004.2 601.1,2003.0 605.6,2001.7 610.1,2000.5 614.7,1999.6 619.2,1999.0 623.7,1998.1 628.2,1996.9 632.7,1995.3 637.2,1993.9 641.7,1992.5 646.2,1991.7 650.8,1990.9 655.3,1990.4 659.8,1989.8 664.3,1988.9 668.8,1988.0 673.3,1987.2 677.8,1986.3 682.4,1985.9 686.9,1985.2 691.4,1984.4 695.9,1983.5 700.4,1982.7 704.9,1981.9 709.4,1981.3 714.0,1981.0 718.5,1980.8 723.0,1980.4 727.5,1980.0 732.0,1979.4 736.5,1978.2 741.0,1977.4 745.5,1976.8 750.1,1976.0 754.6,1975.1 759.1,1974.5 763.6,1973.8 768.1,1973.3 772.6,1973.0 777.1,1973.0 781.7,1973.0 786.2,1973.0 790.7,1973.0 795.2,1972.6 799.7,1972.0 804.2,1971.5 808.7,1971.2 813.2,1970.9 817.8,1970.6 822.3,1970.4 826.8,1970.2 831.3,1970.0 835.8,1969.7 840.3,1969.5 844.8,1969.3 849.4,1968.9 853.9,1968.5 858.4,1968.3 862.9,1968.2 867.4,1968.1 871.9,1968.1 876.4,1968.0 880.9,1967.9 885.5,1967.9 890.0,1967.8 894.5,1967.7 899.0,1967.6 903.5,1967.6 908.0,1967.5 912.5,1967.5 917.1,1967.3 921.6,1967.3 926.1,1967.1 930.6,1967.1 935.1,1967.0 939.6,1966.9 944.1,1966.7 948.7,1966.4 953.2,1965.9 957.7,1965.6 962.2,1965.4 966.7,1965.2 971.2,1965.0 975.7,1964.8 980.2,1964.6 984.8,1964.5 989.3,1964.4 993.8,1964.4 998.3,1964.3 1002.8,1964.3 1007.3,1964.2 1011.8,1964.1 1016.4,1964.0 1020.9,1963.8 1025.4,1963.5 1029.9,1963.4 1034.4,1963.1 1038.9,1962.7 1043.4,1961.9 1047.9,1961.1 1052.5,1959.3 1057.0,1957.8 1061.5,1956.8 1066.0,1956.0 1070.5,1954.6 1075.0,1953.4 1079.5,1952.3 1084.1,1951.3 1088.6,1950.7 1093.1,1950.3 1097.6,1949.9 1102.1,1949.4 1106.6,1948.8 1111.1,1948.0 1115.6,1947.0 1120.2,1946.3 1124.7,1945.7 1129.2,1945.1 1133.7,1944.3 1138.2,1943.5 1142.7,1942.7 1147.2,1941.8 1151.8,1941.4 1156.3,1941.2 1160.8,1940.9 1165.3,1940.5 1169.8,1940.2 1174.3,1939.3 1178.8,1938.4 1183.4,1937.6 1187.9,1937.1 1192.4,1936.5 1196.9,1935.9 1201.4,1935.2 1205.9,1934.6 1210.4,1934.0 1214.9,1933.3 1219.5,1932.9 1224.0,1932.2 1228.5,1931.4 1233.0,1930.3 1237.5,1929.3 1242.0,1928.3 1246.5,1927.4 1251.1,1926.7 1255.6,1925.7 1260.1,1924.8 1264.6,1923.7 1269.1,1922.8 1273.6,1921.6 1278.1,1920.9 1282.6,1920.1 1287.2,1919.4 1291.7,1918.4 1296.2,1917.1 1300.7,1913.4 1305.2,1909.7 1309.7,1906.8 1314.2,1904.6 1318.8,1902.0 1323.3,1899.7 1327.8,1896.6 1332.3,1894.9 1336.8,1890.6 1341.3,1886.4 1345.8,1882.8 1350.3,1879.2 1354.9,1875.7 1359.4,1874.2 1363.9,1873.2 1368.4,1867.4 1372.9,1862.8 1377.4,1859.7 1381.9,1854.6 1386.5,1849.9 1391.0,1845.9 1395.5,1845.4 1400.0,1838.8 1404.5,1832.4 1409.0,1827.8 1413.5,1823.4 1418.1,1815.9 1422.6,1807.4 1427.1,1799.0 1431.6,1791.0 1436.1,1784.7 1440.6,1780.2 1445.1,1776.6 1449.6,1769.6 1454.2,1762.5 1458.7,1753.9 1463.2,1748.8 1467.7,1744.1 1472.2,1741.1 1476.7,1737.7 1481.2,1734.3 1485.8,1731.9 1490.3,1729.6 1494.8,1726.7 1499.3,1723.3 1503.8,1719.6 1508.3,1715.8 1512.8,1710.9 1517.3,1704.4 1521.9,1700.2 1526.4,1690.7 1530.9,1685.2 1535.4,1680.1 1539.9,1676.6 1544.4,1670.5 1548.9,1666.7 1553.5,1662.7 1558.0,1655.6 1562.5,1651.2 1567.0,1648.2 1571.5,1638.5 1576.0,1631.9 1580.5,1627.3 1585.0,1622.9 1589.6,1618.5 1594.1,1614.9 1598.6,1611.3 1603.1,1609.2 1607.6,1605.6 1612.1,1601.9 1616.6,1598.9 1621.2,1596.2 1625.7,1594.1 1630.2,1592.2 1634.7,1589.6 1639.2,1586.8 1643.7,1584.5 1648.2,1582.1 1652.8,1577.5 1657.3,1576.2 1661.8,1575.5 1666.3,1575.2 1670.8,1574.8 1675.3,1574.2 1679.8,1572.6 1684.3,1571.2 1688.9,1569.7 1693.4,1568.6 1697.9,1566.9 1702.4,1565.1 1706.9,1565.1 1711.4,1565.1 1715.9,1562.6 1720.5,1560.6 1725.0,1559.7 1729.5,1559.1 1734.0,1557.7 1738.5,1557.2 1743.0,1556.3 1747.5,1554.7 1752.0,1553.0 1756.6,1551.9 1761.1,1550.5 1765.6,1549.2 1770.1,1548.7 1774.6,1548.3 1779.1,1547.5 1783.6,1545.0 1788.2,1543.2 1792.7,1541.0 1797.2,1540.7 1801.7,1540.1 1806.2,1539.1 1810.7,1534.7 1815.2,1533.1 1819.7,1532.1 1824.3,1531.3 1828.8,1529.7 1833.3,1528.7 1837.8,1528.1 1842.3,1527.0 1846.8,1524.6 1851.3,1523.0 1855.9,1522.8 1860.4,1522.6 1864.9,1522.3 1869.4,1521.4 1873.9,1520.7 1878.4,1520.2 1882.9,1519.6 1887.5,1519.1 1892.0,1518.2 1896.5,1517.6 1901.0,1517.2 1905.5,1515.6 1910.0,1513.9 1914.5,1512.4 1919.0,1511.7 1923.6,1510.7 1928.1,1509.6 1932.6,1508.3 1937.1,1507.0 1941.6,1505.9 1946.1,1505.0 1950.6,1504.1 1955.2,1502.7 1959.7,1501.4 1964.2,1498.0 1968.7,1496.4 1973.2,1495.3 1977.7,1494.7 1982.2,1493.7 1986.7,1492.7 1991.3,1491.4 1995.8,1490.3 2000.3,1489.5 2004.8,1488.7 2009.3,1488.2 2013.8,1487.5 2018.3,1486.7 2022.9,1484.9 2027.4,1482.2 2031.9,1480.2 2036.4,1478.9 2040.9,1477.9 2045.4,1477.7 2049.9,1477.4 2052.1,1477.2" stroke="#843c0b"/>
<path d="M59.5,2202.8 64.0,2202.8 68.5,2202.7 73.0,2202.7 77.6,2202.7 82.1,2202.6 86.6,2202.6 91.1,2202.6 95.6,2202.6 100.1,2202.5 104.6,2202.5 109.1,2202.5 113.7,2202.4 118.2,2202.4 122.7,2202.3 127.2,2202.2 131.7,2202.1 136.2,2202.1 140.7,2201.9 145.3,2201.6 149.8,2201.1 154.3,2200.2 158.8,2198.7 163.3,2197.3 167.8,2195.6 172.3,2193.9 176.8,2191.5 181.4,2189.1 185.9,2185.7 190.4,2180.8 194.9,2170.2 199.4,2159.9 203.9,2151.8 208.4,2142.3 213.0,2129.7 217.5,2112.4 222.0,2097.5 226.5,2072.4 231.0,2049.5 235.5,2031.8 240.0,2016.7 244.6,1996.1 249.1,1972.2 253.6,1946.3 258.1,1916.7 262.6,1875.0 267.1,1851.0 271.6,1825.3 276.1,1800.9 280.7,1773.8 285.2,1744.8 289.7,1712.8 294.2,1691.8 298.7,1670.0 303.2,1654.6 307.7,1630.5 312.3,1610.5 316.8,1602.7 321.3,1573.0 325.8,1536.4 330.3,1513.8 334.8,1494.9 339.3,1469.8 343.8,1450.2 348.4,1430.4 352.9,1402.2 357.4,1378.4 361.9,1358.4 366.4,1345.9 370.9,1331.6 375.4,1315.5 380.0,1298.9 384.5,1284.9 389.0,1270.0 393.5,1258.0 398.0,1246.2 402.5,1237.5 407.0,1229.1 411.5,1221.3 416.1,1210.4 420.6,1198.2 425.1,1190.0 429.6,1181.8 434.1,1171.5 438.6,1160.6 443.1,1157.2 447.7,1151.5 452.2,1143.0 456.7,1134.9 461.2,1129.4 465.7,1122.4 470.2,1113.6 474.7,1105.4 479.3,1098.0 483.8,1092.2 488.3,1087.3 492.8,1083.5 497.3,1078.0 501.8,1071.6 506.3,1065.5 510.8,1060.1 515.4,1055.0 519.9,1051.1 524.4,1045.5 528.9,1039.7 533.4,1026.9 537.9,1022.4 542.4,1018.2 547.0,1014.8 551.5,1012.4 556.0,1009.8 560.5,1007.4 565.0,1003.2 569.5,999.8 574.0,997.0 578.5,995.3 583.1,994.6 587.6,993.9 592.1,993.0 596.6,992.0 601.1,990.6 605.6,989.0 610.1,986.8 614.7,985.0 619.2,983.2 623.7,980.0 628.2,976.4 632.7,972.0 637.2,966.9 641.7,962.8 646.2,957.8 650.8,952.2 655.3,949.6 659.8,947.2 664.3,944.5 668.8,941.4 673.3,938.9 677.8,936.8 682.4,935.2 686.9,933.1 691.4,932.3 695.9,931.7 700.4,931.2 704.9,929.9 709.4,929.0 714.0,928.1 718.5,927.1 723.0,925.6 727.5,925.0 732.0,924.7 736.5,924.4 741.0,924.2 745.5,924.0 750.1,923.8 754.6,923.4 759.1,922.8 763.6,922.1 768.1,921.5 772.6,921.0 777.1,920.6 781.7,920.0 786.2,919.1 790.7,918.2 795.2,917.4 799.7,916.8 804.2,916.4 808.7,916.0 813.2,915.6 817.8,915.2 822.3,914.6 826.8,914.1 831.3,913.7 835.8,913.5 840.3,913.3 844.8,913.0 849.4,912.7 853.9,912.5 858.4,912.4 862.9,912.4 867.4,912.4 871.9,912.3 876.4,912.2 880.9,912.0 885.5,911.7 890.0,911.3 894.5,910.9 899.0,910.6 903.5,910.3 908.0,910.0 912.5,909.4 917.1,908.8 921.6,908.2 926.1,907.7 930.6,907.4 935.1,907.0 939.6,906.7 944.1,906.2 948.7,905.6 953.2,905.1 957.7,904.7 962.2,904.3 966.7,903.9 971.2,903.4 975.7,902.8 980.2,902.2 984.8,901.6 989.3,901.1 993.8,900.7 998.3,900.4 1002.8,900.0 1007.3,899.5 1011.8,899.0 1016.4,898.5 1020.9,898.1 1025.4,897.9 1029.9,897.6 1034.4,897.3 1038.9,896.9 1043.4,896.4 1047.9,896.0 1052.5,895.6 1057.0,895.3 1061.5,895.1 1066.0,894.7 1070.5,894.3 1075.0,893.9 1079.5,893.5 1084.1,893.1 1088.6,892.8 1093.1,892.6 1097.6,892.2 1102.1,891.7 1106.6,891.1 1111.1,890.1 1115.6,889.1 1120.2,888.3 1124.7,887.5 1129.2,886.6 1133.7,885.3 1138.2,884.1 1142.7,883.0 1147.2,882.3 1151.8,881.7 1156.3,881.2 1160.8,880.6 1165.3,879.8 1169.8,878.8 1174.3,877.8 1178.8,877.2 1183.4,876.5 1187.9,876.0 1192.4,875.1 1196.9,874.0 1201.4,872.8 1205.9,871.6 1210.4,870.6 1214.9,869.1 1219.5,867.9 1224.0,866.2 1228.5,864.1 1233.0,861.9 1237.5,859.1 1242.0,856.8 1246.5,855.2 1251.1,853.5 1255.6,851.5 1260.1,844.7 1264.6,835.0 1269.1,830.5 1273.6,827.7 1278.1,825.3 1282.6,823.0 1287.2,820.8 1291.7,817.6 1296.2,816.5 1300.7,812.3 1305.2,807.0 1309.7,803.4 1314.2,800.1 1318.8,796.4 1323.3,792.4 1327.8,790.2 1332.3,782.0 1336.8,776.1 1341.3,770.5 1345.8,766.9 1350.3,762.3 1354.9,757.1 1359.4,754.2 1363.9,745.3 1368.4,734.2 1372.9,730.8 1377.4,728.1 1381.9,723.7 1386.5,720.9 1391.0,718.9 1395.5,710.7 1400.0,701.0 1404.5,695.2 1409.0,691.0 1413.5,687.3 1418.1,685.0 1422.6,682.7 1427.1,672.6 1431.6,661.0 1436.1,653.3 1440.6,648.1 1445.1,640.8 1449.6,637.6 1454.2,634.2 1458.7,623.0 1463.2,614.3 1467.7,608.5 1472.2,602.7 1476.7,596.8 1481.2,592.7 1485.8,591.2 1490.3,579.9 1494.8,569.2 1499.3,566.3 1503.8,562.0 1508.3,555.7 1512.8,548.3 1517.3,546.1 1521.9,540.5 1526.4,533.1 1530.9,526.3 1535.4,522.4 1539.9,516.2 1544.4,508.8 1548.9,506.8 1553.5,496.5 1558.0,485.8 1562.5,482.0 1567.0,477.5 1571.5,471.5 1576.0,466.3 1580.5,462.8 1585.0,456.6 1589.6,449.7 1594.1,443.4 1598.6,437.3 1603.1,431.2 1607.6,426.0 1612.1,423.6 1616.6,413.6 1621.2,402.7 1625.7,399.9 1630.2,396.3 1634.7,392.4 1639.2,387.6 1643.7,385.2 1648.2,381.9 1652.8,374.7 1657.3,368.7 1661.8,362.1 1666.3,360.3 1670.8,358.2 1675.3,353.0 1679.8,346.0 1684.3,340.0 1688.9,335.5 1693.4,331.4 1697.9,327.0 1702.4,323.5 1706.9,320.6 1711.4,316.0 1715.9,306.9 1720.5,304.1 1725.0,302.4 1729.5,300.0 1734.0,297.3 1738.5,295.0 1743.0,289.0 1747.5,281.0 1752.0,278.0 1756.6,275.4 1761.1,272.1 1765.6,269.6 1770.1,266.5 1774.6,262.9 1779.1,258.9 1783.6,257.2 1788.2,255.4 1792.7,252.6 1797.2,249.8 1801.7,246.4 1806.2,243.2 1810.7,240.1 1815.2,238.2 1819.7,236.5 1824.3,234.8 1828.8,232.7 1833.3,229.8 1837.8,224.2 1842.3,218.3 1846.8,214.9 1851.3,213.9 1855.9,212.8 1860.4,211.0 1864.9,209.4 1869.4,206.2 1873.9,202.8 1878.4,200.3 1882.9,198.3 1887.5,195.1 1892.0,191.6 1896.5,187.9 1901.0,184.3 1905.5,181.0 1910.0,177.7 1914.5,175.1 1919.0,171.6 1923.6,168.8 1928.1,166.8 1932.6,163.5 1937.1,160.5 1941.6,157.9 1946.1,155.4 1950.6,152.8 1955.2,150.6 1959.7,147.9 1964.2,144.4 1968.7,141.4 1973.2,139.4 1977.7,137.5 1982.2,135.2 1986.7,132.3 1991.3,129.3 1995.8,126.6 2000.3,124.5 2004.8,122.5 2009.3,120.9 2013.8,119.0 2018.3,116.7 2022.9,113.6 2027.4,111.0 2031.9,109.0 2036.4,107.7 2040.9,106.5 2045.4,105.0 2049.9,103.4 2052.1,102.7" stroke="#525252"/>
<path d="M59.5,2202.8 64.0,2202.8 68.5,2202.8 73.0,2202.8 77.6,2202.8 82.1,2202.8 86.6,2202.8 91.1,2202.8 95.6,2202.8 100.1,2202.8 104.6,2202.8 109.1,2202.8 113.7,2202.8 118.2,2202.8 122.7,2202.8 127.2,2202.8 131.7,2202.8 136.2,2202.8 140.7,2202.8 145.3,2202.8 149.8,2202.8 154.3,2202.8 158.8,2202.7 163.3,2202.5 167.8,2202.3 172.3,2202.2 176.8,2202.1 181.4,2201.9 185.9,2201.7 190.4,2201.3 194.9,2200.9 199.4,2200.6 203.9,2200.3 208.4,2200.0 213.0,2199.7 217.5,2199.3 222.0,2198.4 226.5,2197.3 231.0,2196.3 235.5,2195.6 240.0,2195.1 244.6,2194.4 249.1,2193.5 253.6,2192.2 258.1,2190.6 262.6,2189.1 267.1,2188.3 271.6,2187.3 276.1,2186.4 280.7,2184.9 285.2,2182.6 289.7,2179.9 294.2,2177.6 298.7,2175.9 303.2,2174.6 307.7,2172.9 312.3,2170.5 316.8,2167.1 321.3,2163.4 325.8,2160.3 330.3,2157.7 334.8,2156.3 339.3,2153.5 343.8,2149.3 348.4,2144.5 352.9,2139.4 357.4,2136.8 361.9,2134.7 366.4,2133.4 370.9,2131.7 375.4,2129.6 380.0,2126.6 384.5,2123.3 389.0,2120.2 393.5,2118.0 398.0,2116.8 402.5,2114.6 407.0,2112.1 411.5,2108.7 416.1,2105.3 420.6,2101.7 425.1,2099.3 429.6,2098.2 434.1,2096.1 438.6,2093.5 443.1,2090.4 447.7,2086.6 452.2,2083.4 456.7,2081.7 461.2,2080.8 465.7,2079.4 470.2,2077.8 474.7,2075.3 479.3,2072.0 483.8,2069.0 488.3,2067.4 492.8,2066.1 497.3,2064.3 501.8,2062.6 506.3,2060.4 510.8,2057.7 515.4,2055.8 519.9,2054.6 524.4,2053.8 528.9,2053.0 533.4,2051.7 537.9,2049.8 542.4,2047.2 547.0,2044.8 551.5,2043.2 556.0,2042.1 560.5,2041.4 565.0,2040.0 569.5,2038.3 574.0,2036.4 578.5,2034.8 583.1,2033.9 587.6,2033.3 592.1,2032.5 596.6,2031.5 601.1,2030.0 605.6,2028.6 610.1,2027.5 614.7,2026.6 619.2,2026.0 623.7,2025.5 628.2,2024.6 632.7,2023.6 637.2,2021.5 641.7,2015.8 646.2,2012.3 650.8,2009.5 655.3,2008.7 659.8,2007.5 664.3,2005.7 668.8,2003.9 673.3,2002.0 677.8,2000.9 682.4,1999.8 686.9,1998.8 691.4,1997.4 695.9,1995.4 700.4,1993.1 704.9,1991.2 709.4,1989.7 714.0,1988.1 718.5,1987.0 723.0,1984.7 727.5,1981.3 732.0,1978.3 736.5,1975.9 741.0,1974.4 745.5,1973.3 750.1,1972.1 754.6,1970.6 759.1,1968.8 763.6,1967.1 768.1,1965.4 772.6,1964.4 777.1,1963.9 781.7,1963.3 786.2,1962.6 790.7,1961.5 795.2,1959.5 799.7,1957.2 804.2,1955.7 808.7,1954.8 813.2,1953.7 817.8,1951.9 822.3,1949.5 826.8,1947.3 831.3,1945.2 835.8,1944.0 840.3,1943.0 844.8,1942.0 849.4,1940.6 853.9,1938.6 858.4,1936.7 862.9,1935.2 867.4,1934.1 871.9,1933.2 876.4,1932.6 880.9,1930.6 885.5,1928.3 890.0,1925.8 894.5,1923.7 899.0,1922.2 903.5,1921.5 908.0,1920.6 912.5,1919.0 917.1,1917.2 921.6,1915.2 926.1,1913.5 930.6,1912.4 935.1,1911.5 939.6,1911.0 944.1,1910.1 948.7,1909.2 953.2,1908.0 957.7,1906.4 962.2,1905.4 966.7,1904.5 971.2,1903.7 975.7,1902.5 980.2,1901.0 984.8,1899.5 989.3,1898.2 993.8,1897.4 998.3,1897.0 1002.8,1896.3 1007.3,1895.5 1011.8,1894.5 1016.4,1893.2 1020.9,1891.3 1025.4,1889.8 1029.9,1889.0 1034.4,1888.1 1038.9,1887.9 1043.4,1887.6 1047.9,1887.4 1052.5,1886.8 1057.0,1886.0 1061.5,1885.3 1066.0,1884.8 1070.5,1883.1 1075.0,1880.9 1079.5,1878.2 1084.1,1875.7 1088.6,1873.9 1093.1,1872.8 1097.6,1871.6 1102.1,1869.6 1106.6,1867.1 1111.1,1864.2 1115.6,1861.8 1120.2,1859.7 1124.7,1858.5 1129.2,1857.1 1133.7,1854.7 1138.2,1851.6 1142.7,1848.3 1147.2,1844.7 1151.8,1842.9 1156.3,1841.3 1160.8,1839.4 1165.3,1836.4 1169.8,1832.0 1174.3,1826.8 1178.8,1822.4 1183.4,1819.0 1187.9,1816.0 1192.4,1813.9 1196.9,1809.5 1201.4,1803.4 1205.9,1796.4 1210.4,1790.0 1214.9,1784.7 1219.5,1782.5 1224.0,1778.0 1228.5,1772.6 1233.0,1763.4 1237.5,1753.5 1242.0,1744.2 1246.5,1738.9 1251.1,1733.2 1255.6,1727.9 1260.1,1721.5 1264.6,1708.1 1269.1,1695.2 1273.6,1686.4 1278.1,1680.8 1282.6,1675.7 1287.2,1671.0 1291.7,1664.8 1296.2,1654.6 1300.7,1638.2 1305.2,1620.3 1309.7,1607.5 1314.2,1600.6 1318.8,1591.9 1323.3,1586.2 1327.8,1581.2 1332.3,1579.1 1336.8,1561.6 1341.3,1549.6 1345.8,1539.5 1350.3,1530.2 1354.9,1514.9 1359.4,1502.3 1363.9,1486.9 1368.4,1470.1 1372.9,1459.9 1377.4,1454.0 1381.9,1445.8 1386.5,1439.4 1391.0,1433.5 1395.5,1425.4 1400.0,1408.1 1404.5,1399.2 1409.0,1392.0 1413.5,1383.7 1418.1,1378.2 1422.6,1362.8 1427.1,1351.5 1431.6,1338.8 1436.1,1331.9 1440.6,1325.4 1445.1,1315.0 1449.6,1307.3 1454.2,1299.3 1458.7,1286.6 1463.2,1271.4 1467.7,1256.9 1472.2,1251.1 1476.7,1244.8 1481.2,1235.0 1485.8,1226.6 1490.3,1218.5 1494.8,1204.0 1499.3,1196.3 1503.8,1190.3 1508.3,1184.7 1512.8,1173.6 1517.3,1159.6 1521.9,1147.0 1526.4,1135.1 1530.9,1124.3 1535.4,1116.0 1539.9,1105.6 1544.4,1093.6 1548.9,1081.8 1553.5,1070.7 1558.0,1061.3 1562.5,1052.9 1567.0,1048.7 1571.5,1044.7 1576.0,1038.9 1580.5,1030.5 1585.0,1023.2 1589.6,1016.3 1594.1,1010.9 1598.6,1007.4 1603.1,1004.5 1607.6,1000.4 1612.1,994.6 1616.6,988.0 1621.2,979.5 1625.7,974.4 1630.2,969.7 1634.7,964.9 1639.2,958.7 1643.7,949.1 1648.2,943.0 1652.8,936.4 1657.3,931.1 1661.8,927.8 1666.3,925.1 1670.8,924.5 1675.3,916.8 1679.8,912.1 1684.3,906.1 1688.9,902.4 1693.4,899.6 1697.9,895.8 1702.4,891.3 1706.9,886.0 1711.4,880.3 1715.9,873.8 1720.5,867.8 1725.0,864.2 1729.5,860.3 1734.0,855.2 1738.5,852.1 1743.0,844.6 1747.5,840.2 1752.0,838.1 1756.6,837.7 1761.1,837.3 1765.6,836.6 1770.1,835.8 1774.6,834.0 1779.1,829.0 1783.6,827.2 1788.2,826.2 1792.7,825.3 1797.2,823.5 1801.7,820.9 1806.2,818.2 1810.7,815.4 1815.2,813.4 1819.7,812.3 1824.3,810.9 1828.8,810.3 1833.3,810.3 1837.8,808.3 1842.3,805.5 1846.8,804.6 1851.3,804.0 1855.9,803.5 1860.4,802.6 1864.9,801.3 1869.4,797.6 1873.9,794.8 1878.4,792.9 1882.9,791.5 1887.5,791.3 1892.0,791.0 1896.5,790.3 1901.0,788.1 1905.5,786.0 1910.0,785.3 1914.5,785.0 1919.0,784.8 1923.6,784.3 1928.1,783.2 1932.6,780.4 1937.1,778.1 1941.6,776.5 1946.1,775.8 1950.6,775.3 1955.2,774.8 1959.7,774.1 1964.2,772.6 1968.7,769.8 1973.2,767.8 1977.7,766.3 1982.2,764.8 1986.7,762.6 1991.3,759.7 1995.8,757.1 2000.3,754.8 2004.8,753.3 2009.3,752.5 2013.8,751.9 2018.3,750.6 2022.9,748.7 2027.4,747.0 2031.9,745.6 2036.4,744.5 2040.9,744.2 2045.4,744.2 2049.9,744.2 2052.1,744.2" stroke="#806000"/>
<path d="M59.5,2202.8 64.0,2202.8 68.5,2202.8 73.0,2202.8 77.6,2202.8 82.1,2202.8 86.6,2202.8 91.1,2202.8 95.6,2202.8 100.1,2202.8 104.6,2202.8 109.1,2202.8 113.7,2202.5 118.2,2202.2 122.7,2201.8 127.2,2201.3 131.7,2201.0 136.2,2200.5 140.7,2200.0 145.3,2199.3 149.8,2197.3 154.3,2195.1 158.8,2191.8 163.3,2189.2 167.8,2185.2 172.3,2179.8 176.8,2168.0 181.4,2151.1 185.9,2131.3 190.4,2111.5 194.9,2096.5 199.4,2084.6 203.9,2058.3 208.4,2028.5 213.4,1991.0 219.4,1952.7 224.1,1921.9 226.5,1899.6 231.0,1869.4 235.5,1822.5 240.0,1777.5 244.6,1724.2 249.1,1682.3 253.6,1654.5 258.1,1630.1 262.6,1612.8 267.1,1585.4 271.6,1551.7 276.1,1527.3 280.7,1508.1 285.2,1478.0 289.7,1453.2 294.2,1440.0 298.7,1420.0 303.2,1395.3 307.7,1365.7 312.3,1345.3 316.8,1332.0 321.3,1323.2 325.8,1314.0 330.3,1301.1 334.8,1286.5 339.3,1267.2 343.8,1250.0 348.4,1240.2 352.9,1229.2 357.4,1220.0 361.9,1207.0 366.4,1195.8 370.9,1185.0 375.4,1174.9 380.0,1166.3 384.5,1162.2 389.0,1157.4 393.5,1150.6 398.0,1142.2 402.5,1130.0 407.0,1119.4 411.5,1112.1 416.1,1104.9 420.6,1100.7 425.1,1098.5 429.6,1095.1 434.1,1089.7 438.6,1083.7 443.1,1079.2 447.7,1075.6 452.2,1071.9 456.7,1068.5 461.2,1064.1 465.7,1060.3 470.2,1056.4 474.7,1054.3 479.3,1052.2 483.8,1050.8 488.3,1048.5 492.8,1045.7 497.3,1042.7 501.8,1040.1 506.3,1038.6 510.8,1037.4 515.4,1036.0 519.9,1034.2 524.4,1032.1 528.9,1029.8 533.4,1027.7 537.9,1026.3 542.4,1025.0 547.0,1023.9 551.5,1022.2 556.0,1020.2 560.5,1018.3 565.0,1017.0 569.5,1015.9 574.0,1015.2 578.5,1014.4 583.1,1013.6 587.6,1012.5 592.1,1011.3 596.6,1010.1 601.1,1009.2 605.6,1008.7 610.1,1008.1 614.7,1007.2 619.2,1006.1 623.7,1004.8 628.2,1003.7 632.7,1002.8 637.2,1002.2 641.7,1001.6 646.2,1000.9 650.8,999.9 655.3,998.7 659.8,997.7 664.3,997.0 668.8,996.4 673.3,995.9 677.8,995.2 682.4,994.1 686.9,993.2 691.4,992.4 695.9,991.8 700.4,991.3 704.9,991.0 709.4,990.5 714.0,990.0 718.5,989.5 723.0,989.2 727.5,988.9 732.0,988.7 736.5,988.5 741.0,988.2 745.5,987.9 750.1,987.5 754.6,987.1 759.1,986.8 763.6,986.5 768.1,986.3 772.6,986.0 777.1,985.6 781.7,985.2 786.2,984.7 790.7,984.5 795.2,984.3 799.7,984.1 804.2,983.8 808.7,983.4 813.2,983.0 817.8,982.7 822.3,982.5 826.8,982.3 831.3,982.2 835.8,982.0 840.3,981.8 844.8,981.6 849.4,981.3 853.9,981.1 858.4,980.9 862.9,980.7 867.4,980.4 871.9,979.9 876.4,979.3 880.9,977.5 885.5,976.2 890.0,976.0 894.5,975.9 899.0,975.6 903.5,975.3 908.0,975.1 912.5,975.0 917.1,974.9 921.6,974.8 926.1,974.7 930.6,974.6 935.1,974.5 939.6,974.4 944.1,974.2 948.7,974.0 953.2,973.9 957.7,973.7 962.2,973.4 966.7,973.2 971.2,972.8 975.7,972.5 980.2,969.3 984.8,967.3 989.3,966.2 993.8,965.6 998.3,965.2 1002.8,964.7 1007.3,964.5 1011.8,964.3 1016.4,964.2 1020.9,964.0 1025.4,963.8 1029.9,963.4 1034.4,962.8 1038.9,962.1 1043.4,961.7 1047.9,961.4 1052.5,961.1 1057.0,960.5 1061.5,959.9 1066.0,959.2 1070.5,958.6 1075.0,958.1 1079.5,957.7 1084.1,957.4 1088.6,956.9 1093.1,956.2 1097.6,955.5 1102.1,954.8 1106.6,954.3 1111.1,953.9 1115.6,953.5 1120.2,953.0 1124.7,952.5 1129.2,951.7 1133.7,951.1 1138.2,950.7 1142.7,950.5 1147.2,950.1 1151.8,949.8 1156.3,949.3 1160.8,948.8 1165.3,948.2 1169.8,947.8 1174.3,947.3 1178.8,947.0 1183.4,946.2 1187.9,945.1 1192.4,943.8 1196.9,942.8 1201.4,942.2 1205.9,942.0 1210.4,941.6 1214.9,941.3 1219.5,940.8 1224.0,940.0 1228.5,939.0 1233.0,938.0 1237.5,936.0 1242.0,933.7 1246.5,932.1 1251.1,930.5 1255.6,928.3 1260.1,928.2 1264.6,927.5 1269.1,926.8 1273.6,926.2 1278.1,925.2 1282.6,923.9 1287.2,922.0 1291.7,920.0 1296.2,917.3 1300.7,915.1 1305.2,913.6 1309.7,911.4 1314.2,908.2 1318.8,904.9 1323.3,901.1 1327.8,898.7 1332.3,896.6 1336.8,894.9 1341.3,891.9 1345.8,888.7 1350.3,885.0 1354.9,881.8 1359.4,878.0 1363.9,874.7 1368.4,871.2 1372.9,866.5 1377.4,861.6 1381.9,855.2 1386.5,849.8 1391.0,844.9 1395.5,840.2 1400.0,836.8 1404.5,831.8 1409.0,825.1 1413.5,818.4 1418.1,812.7 1422.6,807.7 1427.1,803.6 1431.6,800.2 1436.1,794.6 1440.6,788.3 1445.1,782.3 1449.6,776.2 1454.2,771.0 1458.7,768.1 1463.2,762.8 1467.7,756.2 1472.2,747.6 1476.7,739.1 1481.2,729.5 1485.8,723.9 1490.3,719.1 1494.8,714.7 1499.3,709.1 1503.8,696.4 1508.3,686.3 1512.8,676.1 1517.3,669.9 1521.9,662.1 1526.4,657.8 1530.9,648.6 1535.4,639.4 1539.9,630.7 1544.4,622.8 1548.9,616.3 1553.5,612.3 1558.0,606.6 1562.5,599.2 1567.0,590.6 1571.5,584.4 1576.0,575.9 1580.5,570.2 1585.0,565.0 1589.6,561.0 1594.1,554.8 1598.6,547.2 1603.1,537.7 1607.6,528.1 1612.1,522.9 1616.6,518.9 1621.2,513.8 1625.7,508.7 1630.2,500.4 1634.7,494.1 1639.2,487.8 1643.7,483.7 1648.2,480.0 1652.8,477.8 1657.3,471.8 1661.8,464.0 1666.3,461.0 1670.8,454.0 1675.3,449.7 1679.8,446.6 1684.3,443.4 1688.9,439.7 1693.4,433.7 1697.9,427.4 1702.4,421.5 1706.9,417.5 1711.4,414.1 1715.9,411.8 1720.5,408.1 1725.0,403.4 1729.5,398.4 1734.0,395.6 1738.5,393.3 1743.0,391.4 1747.5,389.1 1752.0,386.4 1756.6,382.2 1761.1,377.9 1765.6,373.7 1770.1,370.7 1774.6,368.1 1779.1,365.0 1783.6,362.3 1788.2,358.9 1792.7,356.3 1797.2,355.4 1801.7,354.6 1806.2,354.0 1810.7,351.0 1815.2,344.2 1819.7,339.3 1824.3,335.7 1828.8,331.8 1833.3,328.6 1837.8,326.6 1842.3,323.6 1846.8,321.1 1851.3,317.3 1855.9,312.9 1860.4,308.9 1864.9,306.4 1869.4,304.1 1873.9,302.7 1878.4,300.0 1882.9,296.3 1887.5,292.9 1892.0,289.7 1896.5,287.5 1901.0,285.6 1905.5,283.8 1910.0,281.5 1914.5,278.4 1919.0,275.8 1923.6,272.9 1928.1,271.0 1932.6,269.6 1937.1,268.5 1941.6,266.9 1946.1,264.6 1950.6,262.3 1955.2,260.1 1959.7,258.4 1964.2,256.2 1968.7,253.4 1973.2,252.1 1977.7,250.0 1982.2,247.5 1986.7,245.4 1991.3,243.8 1995.8,243.0 2000.3,241.5 2004.8,239.9 2009.3,237.3 2013.8,235.0 2018.3,232.6 2022.9,231.0 2027.4,230.1 2031.9,229.1 2036.4,227.9 2040.9,226.4 2045.4,224.6 2049.9,223.5 2052.1,222.9" stroke="#1f4e79"/>
<path d="M59.5,2202.8 64.0,2202.8 68.5,2202.8 73.0,2202.8 77.6,2202.8 82.1,2202.8 86.6,2202.8 91.1,2202.8 95.6,2202.8 100.1,2202.8 104.6,2202.8 109.1,2202.8 113.7,2202.8 118.2,2202.8 122.7,2202.8 127.2,2202.8 131.7,2202.8 136.2,2202.8 140.7,2202.8 145.3,2202.8 149.8,2202.8 154.3,2202.8 158.8,2202.8 163.3,2202.7 167.8,2202.6 172.3,2202.5 176.8,2202.4 181.4,2202.3 185.9,2202.2 190.4,2202.1 194.9,2202.0 199.4,2201.8 203.9,2201.6 208.4,2201.2 213.0,2200.9 217.5,2200.6 222.0,2200.3 226.5,2199.9 231.0,2199.2 235.5,2198.5 240.0,2197.6 244.6,2197.0 249.1,2196.5 253.6,2196.1 258.1,2195.5 262.6,2194.6 267.1,2193.4 271.6,2192.3 276.1,2191.1 280.7,2190.3 285.2,2189.6 289.7,2188.6 294.2,2187.0 298.7,2185.1 303.2,2183.2 307.7,2182.0 312.3,2181.0 316.8,2180.2 321.3,2178.7 325.8,2177.1 330.3,2175.2 334.8,2173.7 339.3,2172.5 343.8,2171.6 348.4,2170.6 352.9,2169.6 357.4,2167.9 361.9,2166.1 366.4,2164.4 370.9,2163.3 375.4,2162.4 380.0,2161.5 384.5,2160.5 389.0,2158.9 393.5,2157.2 398.0,2155.6 402.5,2154.5 407.0,2153.7 411.5,2153.0 416.1,2151.7 420.6,2150.3 425.1,2148.7 429.6,2147.3 434.1,2146.1 438.6,2145.3 443.1,2144.6 447.7,2143.6 452.2,2142.1 456.7,2140.6 461.2,2139.4 465.7,2138.2 470.2,2137.4 474.7,2136.7 479.3,2135.6 483.8,2134.5 488.3,2132.8 492.8,2131.6 497.3,2130.6 501.8,2129.7 506.3,2129.2 510.8,2128.1 515.4,2126.7 519.9,2125.5 524.4,2124.1 528.9,2123.0 533.4,2122.3 537.9,2121.7 542.4,2120.8 547.0,2119.5 551.5,2118.1 556.0,2116.8 560.5,2115.9 565.0,2115.2 569.5,2114.6 574.0,2113.6 578.5,2112.5 583.1,2111.0 587.6,2109.8 592.1,2108.7 596.6,2108.2 601.1,2107.5 605.6,2106.3 610.1,2105.1 614.7,2103.8 619.2,2102.4 623.7,2101.4 628.2,2100.7 632.7,2100.0 637.2,2099.0 641.7,2097.7 646.2,2096.2 650.8,2094.6 655.3,2093.3 659.8,2092.5 664.3,2091.6 668.8,2090.3 673.3,2088.9 677.8,2086.9 682.4,2085.2 686.9,2084.1 691.4,2083.3 695.9,2082.3 700.4,2080.7 704.9,2079.2 709.4,2077.1 714.0,2074.9 718.5,2073.2 723.0,2072.2 727.5,2071.1 732.0,2069.7 736.5,2067.5 741.0,2064.9 745.5,2062.8 750.1,2061.2 754.6,2059.4 759.1,2058.1 763.6,2056.3 768.1,2053.5 772.6,2051.2 777.1,2049.2 781.7,2047.8 786.2,2046.9 790.7,2045.7 795.2,2044.1 799.7,2042.0 804.2,2039.4 808.7,2037.1 813.2,2035.6 817.8,2034.0 822.3,2033.1 826.8,2031.3 831.3,2029.1 835.8,2026.5 840.3,2023.8 844.8,2021.8 849.4,2020.1 853.9,2018.7 858.4,2016.9 862.9,2014.8 867.4,2012.4 871.9,2010.1 876.4,2008.6 880.9,2007.3 885.5,2006.0 890.0,2004.1 894.5,2002.0 899.0,1999.3 903.5,1997.1 908.0,1995.4 912.5,1994.4 917.1,1993.1 921.6,1991.7 926.1,1989.3 930.6,1986.7 935.1,1984.6 939.6,1983.5 944.1,1982.5 948.7,1981.6 953.2,1980.5 957.7,1978.5 962.2,1975.4 966.7,1972.5 971.2,1970.5 975.7,1968.8 980.2,1967.5 984.8,1964.9 989.3,1961.4 993.8,1957.6 998.3,1955.5 1002.8,1954.1 1007.3,1953.4 1011.8,1952.6 1016.4,1951.3 1020.9,1949.4 1025.4,1947.1 1029.9,1944.6 1034.4,1943.0 1038.9,1941.8 1043.4,1941.0 1047.9,1939.7 1052.5,1937.8 1057.0,1935.8 1061.5,1933.6 1066.0,1931.7 1070.5,1930.7 1075.0,1929.4 1079.5,1927.6 1084.1,1925.5 1088.6,1922.8 1093.1,1920.4 1097.6,1918.8 1102.1,1917.3 1106.6,1916.1 1111.1,1914.2 1115.6,1912.1 1120.2,1909.3 1124.7,1906.7 1129.2,1905.0 1133.7,1903.6 1138.2,1902.3 1142.7,1900.6 1147.2,1898.2 1151.8,1895.2 1156.3,1892.7 1160.8,1890.9 1165.3,1889.5 1169.8,1888.2 1174.3,1886.3 1178.8,1884.0 1183.4,1880.8 1187.9,1878.3 1192.4,1876.0 1196.9,1874.6 1201.4,1873.2 1205.9,1871.5 1210.4,1868.4 1214.9,1865.6 1219.5,1863.1 1224.0,1860.7 1228.5,1859.5 1233.0,1858.2 1237.5,1856.2 1242.0,1853.6 1246.5,1851.0 1251.1,1848.4 1255.6,1846.5 1260.1,1845.3 1264.6,1844.0 1269.1,1842.0 1273.6,1839.3 1278.1,1836.6 1282.6,1833.8 1287.2,1831.8 1291.7,1830.2 1296.2,1828.5 1300.7,1826.2 1305.2,1823.0 1309.7,1819.6 1314.2,1815.9 1318.8,1813.4 1323.3,1811.7 1327.8,1809.5 1332.3,1806.6 1336.8,1803.1 1341.3,1798.2 1345.8,1794.6 1350.3,1791.5 1354.9,1789.3 1359.4,1786.8 1363.9,1783.9 1368.4,1779.5 1372.9,1774.7 1377.4,1770.4 1381.9,1766.9 1386.5,1764.3 1391.0,1761.8 1395.5,1758.1 1400.0,1752.3 1404.5,1746.3 1409.0,1740.2 1413.5,1737.2 1418.1,1735.2 1422.6,1733.3 1427.1,1731.9 1431.6,1728.3 1436.1,1719.1 1440.6,1718.9 1445.1,1712.7 1449.6,1708.8 1454.2,1706.7 1458.7,1704.9 1463.2,1697.5 1467.7,1685.2 1472.2,1674.1 1476.7,1666.8 1481.2,1662.3 1485.8,1660.0 1490.3,1657.9 1494.8,1651.6 1499.3,1642.1 1503.8,1633.4 1508.3,1627.0 1512.8,1623.4 1517.3,1621.5 1521.9,1619.7 1526.4,1613.2 1530.9,1603.9 1535.4,1592.3 1539.9,1584.8 1544.4,1579.5 1548.9,1576.6 1553.5,1571.5 1558.0,1562.4 1562.5,1552.8 1567.0,1544.2 1571.5,1538.2 1576.0,1535.0 1580.5,1533.3 1585.0,1529.8 1589.6,1520.5 1594.1,1509.8 1598.6,1499.9 1603.1,1491.1 1607.6,1487.5 1612.1,1485.3 1616.6,1481.6 1621.2,1475.2 1625.7,1466.7 1630.2,1458.0 1634.7,1451.8 1639.2,1447.4 1643.7,1444.7 1648.2,1441.2 1652.8,1434.9 1657.3,1429.0 1661.8,1425.2 1666.3,1423.9 1670.8,1422.8 1675.3,1420.0 1679.8,1415.1 1684.3,1409.9 1688.9,1403.5 1693.4,1399.2 1697.9,1396.3 1702.4,1394.9 1706.9,1393.9 1711.4,1392.9 1715.9,1388.8 1720.5,1384.5 1725.0,1380.8 1729.5,1378.1 1734.0,1376.5 1738.5,1374.9 1743.0,1372.4 1747.5,1369.7 1752.0,1367.4 1756.6,1364.8 1761.1,1362.9 1765.6,1362.4 1770.1,1361.9 1774.6,1361.1 1779.1,1359.2 1783.6,1356.3 1788.2,1354.3 1792.7,1352.8 1797.2,1352.3 1801.7,1352.1 1806.2,1350.8 1810.7,1347.8 1815.2,1343.1 1819.7,1338.2 1824.3,1337.0 1828.8,1336.2 1833.3,1335.2 1837.8,1333.9 1842.3,1332.2 1846.8,1330.0 1851.3,1329.3 1855.9,1329.3 1860.4,1329.3 1864.9,1328.8 1869.4,1326.8 1873.9,1324.5 1878.4,1323.1 1882.9,1321.8 1887.5,1321.8 1892.0,1321.8 1896.5,1321.8 1901.0,1320.0 1905.5,1318.0 1910.0,1315.0 1914.5,1312.3 1919.0,1312.0 1923.6,1312.0 1928.1,1311.3 1932.6,1309.9 1937.1,1307.2 1941.6,1304.5 1946.1,1302.2 1950.6,1300.9 1955.2,1299.7 1959.7,1299.0 1964.2,1297.7 1968.7,1295.9 1973.2,1294.5 1977.7,1293.3 1982.2,1292.3 1986.7,1291.4 1991.3,1290.7 1995.8,1289.4 2000.3,1287.3 2004.8,1285.5 2009.3,1283.9 2013.8,1283.1 2018.3,1282.3 2022.9,1281.8 2027.4,1280.9 2031.9,1279.5 2036.4,1278.0 2040.9,1277.4 2045.4,1277.4 2049.9,1277.4 2052.1,1277.4" stroke="#385723"/>
<path d="M59.5,2202.8 64.0,2202.8 68.5,2202.8 73.0,2202.8 77.6,2202.8 82.1,2202.8 86.6,2202.8 91.1,2202.8 95.6,2202.8 100.1,2202.8 104.6,2202.8 109.1,2202.8 113.7,2202.8 118.2,2202.8 122.7,2202.8 127.2,2202.8 131.7,2202.8 136.2,2202.8 140.7,2202.8 145.3,2202.8 149.8,2202.8 154.3,2202.8 158.8,2202.8 163.3,2202.6 167.8,2202.3 172.3,2202.1 176.8,2201.9 181.4,2201.6 185.9,2201.3 190.4,2200.8 194.9,2200.2 199.4,2199.8 203.9,2199.5 208.4,2199.3 213.0,2199.1 217.5,2198.7 222.0,2198.2 226.5,2197.6 231.0,2197.1 235.5,2196.6 240.0,2196.3 244.6,2196.1 249.1,2195.5 253.6,2194.8 258.1,2194.0 262.6,2193.4 267.1,2192.9 271.6,2192.4 276.1,2192.0 280.7,2191.3 285.2,2190.3 289.7,2189.2 294.2,2188.3 298.7,2187.5 303.2,2187.0 307.7,2186.4 312.3,2185.5 316.8,2184.2 321.3,2182.9 325.8,2181.7 330.3,2180.9 334.8,2180.3 339.3,2179.5 343.8,2178.3 348.4,2176.9 352.9,2175.0 357.4,2173.4 361.9,2172.0 366.4,2171.3 370.9,2170.1 375.4,2168.8 380.0,2166.8 384.5,2165.0 389.0,2163.2 393.5,2162.3 398.0,2161.5 402.5,2160.6 407.0,2159.6 411.5,2157.8 416.1,2156.2 420.6,2154.9 425.1,2153.9 429.6,2153.3 434.1,2152.5 438.6,2151.3 443.1,2149.9 447.7,2148.3 452.2,2147.0 456.7,2146.3 461.2,2145.5 465.7,2145.0 470.2,2143.9 474.7,2142.5 479.3,2141.2 483.8,2139.7 488.3,2138.9 492.8,2138.3 497.3,2137.6 501.8,2136.4 506.3,2135.2 510.8,2133.8 515.4,2132.8 519.9,2132.1 524.4,2131.6 528.9,2131.2 533.4,2130.6 537.9,2129.9 542.4,2129.2 547.0,2128.8 551.5,2128.5 556.0,2128.3 560.5,2128.1 565.0,2127.8 569.5,2127.5 574.0,2127.1 578.5,2126.8 583.1,2126.6 587.6,2126.4 592.1,2126.2 596.6,2125.9 601.1,2125.5 605.6,2124.9 610.1,2124.3 614.7,2124.0 619.2,2123.6 623.7,2123.1 628.2,2122.5 632.7,2121.5 637.2,2120.6 641.7,2119.7 646.2,2119.1 650.8,2118.6 655.3,2118.2 659.8,2117.4 664.3,2116.4 668.8,2115.4 673.3,2114.5 677.8,2113.9 682.4,2113.6 686.9,2113.0 691.4,2112.1 695.9,2111.0 700.4,2109.9 704.9,2108.9 709.4,2108.1 714.0,2107.5 718.5,2106.9 723.0,2106.0 727.5,2104.6 732.0,2103.2 736.5,2102.0 741.0,2101.2 745.5,2100.3 750.1,2099.6 754.6,2098.5 759.1,2097.0 763.6,2095.3 768.1,2093.8 772.6,2092.8 777.1,2092.0 781.7,2091.0 786.2,2089.9 790.7,2087.9 795.2,2086.2 799.7,2084.5 804.2,2083.4 808.7,2082.5 813.2,2081.8 817.8,2080.3 822.3,2078.8 826.8,2077.1 831.3,2075.7 835.8,2074.4 840.3,2073.8 844.8,2072.9 849.4,2071.4 853.9,2069.3 858.4,2066.8 862.9,2064.7 867.4,2062.7 871.9,2061.5 876.4,2059.8 880.9,2058.0 885.5,2054.6 890.0,2051.8 894.5,2049.5 899.0,2048.3 903.5,2047.1 908.0,2045.8 912.5,2043.9 917.1,2041.4 921.6,2038.7 926.1,2035.8 930.6,2034.2 935.1,2032.5 939.6,2031.2 944.1,2029.0 948.7,2025.9 953.2,2022.6 957.7,2018.6 962.2,2016.1 966.7,2013.3 971.2,2011.4 975.7,2007.3 980.2,2002.7 984.8,1998.3 989.3,1993.5 993.8,1990.6 998.3,1989.0 1002.8,1985.4 1007.3,1981.6 1011.8,1976.2 1016.4,1970.4 1020.9,1964.9 1025.4,1961.0 1029.9,1958.6 1034.4,1955.5 1038.9,1951.3 1043.4,1944.2 1047.9,1936.5 1052.5,1926.0 1057.0,1914.9 1060.1,1911.4 1066.4,1881.3 1070.5,1880.4 1075.0,1877.9 1079.5,1866.1 1084.1,1852.0 1088.6,1841.5 1093.1,1835.4 1097.6,1829.2 1102.1,1821.2 1106.6,1810.6 1111.1,1800.0 1115.6,1790.6 1120.2,1784.3 1124.7,1779.4 1129.2,1774.2 1133.7,1765.0 1138.2,1754.7 1142.7,1743.3 1147.2,1733.5 1151.8,1725.0 1156.3,1715.7 1160.8,1707.5 1165.3,1697.1 1169.8,1683.4 1174.3,1662.3 1178.8,1639.7 1183.4,1626.9 1187.9,1615.2 1192.4,1606.1 1196.9,1590.8 1201.4,1578.8 1205.9,1553.2 1210.4,1539.1 1214.9,1530.6 1219.5,1526.4 1224.0,1512.0 1228.5,1497.4 1233.0,1487.3 1237.5,1462.1 1242.0,1443.4 1246.5,1427.5 1251.1,1414.9 1255.6,1406.7 1260.1,1391.5 1264.2,1388.6 1267.3,1361.6 1269.1,1351.9 1273.6,1343.7 1278.1,1337.8 1282.6,1334.4 1287.2,1326.8 1291.7,1317.0 1296.2,1309.2 1300.7,1290.3 1305.2,1272.0 1309.7,1263.6 1314.2,1258.4 1318.8,1248.5 1323.3,1236.1 1325.5,1223.4 1331.5,1189.6 1336.8,1155.0 1337.8,1159.5 1343.8,1128.7 1345.8,1121.8 1350.3,1108.6 1354.9,1091.5 1359.4,1086.7 1363.9,1067.3 1368.4,1051.8 1372.9,1040.9 1377.4,1030.5 1381.9,1020.0 1386.5,1015.3 1391.0,1015.2 1395.5,1010.1 1400.0,1005.5 1404.5,990.4 1409.0,987.2 1413.5,986.2 1418.1,983.2 1422.6,978.8 1427.1,970.3 1431.6,963.1 1436.1,959.1 1440.6,957.6 1445.1,956.1 1449.6,939.4 1454.2,938.7 1458.7,926.5 1463.2,916.5 1467.7,908.1 1472.2,902.2 1476.7,898.8 1481.2,898.1 1485.8,897.3 1490.3,896.3 1494.8,894.1 1499.3,892.8 1503.8,887.1 1508.3,881.5 1512.8,874.4 1517.3,869.2 1521.9,867.8 1526.4,866.6 1530.9,855.7 1535.4,850.2 1539.9,847.2 1544.4,842.5 1548.9,840.8 1553.5,839.6 1558.0,838.0 1562.5,836.7 1567.0,835.3 1571.5,834.0 1576.0,832.2 1580.5,831.3 1585.0,831.3 1589.6,831.3 1594.1,830.8 1598.6,829.5 1603.1,828.0 1607.6,826.8 1612.1,826.8 1616.6,826.3 1621.2,824.9 1625.7,823.8 1630.2,823.0 1634.7,822.1 1639.2,820.8 1643.7,820.8 1648.2,820.8 1652.8,820.2 1657.3,819.4 1661.8,818.7 1666.3,818.0 1670.8,816.8 1675.3,816.1 1679.8,815.3 1684.3,814.2 1688.9,813.3 1693.4,812.7 1697.9,811.5 1702.4,810.4 1706.9,809.5 1711.4,808.5 1715.9,807.7 1720.5,807.2 1725.0,807.0 1729.5,806.7 1734.0,806.3 1738.5,805.7 1743.0,805.2 1747.5,803.4 1752.0,801.8 1756.6,800.9 1761.1,799.4 1765.6,798.0 1770.1,797.4 1774.6,796.8 1779.1,796.1 1783.6,795.5 1788.2,795.2 1792.7,794.7 1797.2,794.1 1801.7,793.3 1806.2,792.0 1810.7,790.9 1815.2,789.9 1819.7,789.5 1824.3,788.7 1828.8,788.5 1833.3,788.5 1837.8,788.5 1842.3,788.5 1846.8,788.5 1851.3,788.5 1855.9,788.5 1860.4,788.5 1864.9,788.5 1869.4,788.5 1873.9,788.2 1878.4,787.6 1882.9,787.3 1887.5,786.8 1892.0,785.6 1896.5,784.4 1901.0,783.0 1905.5,781.7 1910.0,780.3 1914.5,779.1 1919.0,777.9 1923.6,777.0 1928.1,776.6 1932.6,774.7 1937.1,772.9 1941.6,771.6 1946.1,770.5 1950.6,770.5 1955.2,770.5 1959.7,770.5 1964.2,769.0 1968.7,767.2 1973.2,765.8 1977.7,764.7 1982.2,763.6 1986.7,762.0 1991.3,760.9 1995.8,759.8 2000.3,759.2 2004.8,758.5 2009.3,758.2 2013.8,757.8 2018.3,757.3 2022.9,756.8 2027.4,755.9 2031.9,754.5 2036.4,753.7 2040.9,753.2 2045.4,753.2 2049.9,753.2 2052.1,753.2" stroke="#7c9cd6"/>
<path d="M59.5,2202.8 64.0,2202.8 68.5,2202.8 73.0,2202.8 77.6,2202.8 82.1,2202.8 86.6,2202.8 91.1,2202.8 95.6,2202.8 100.1,2202.8 104.6,2202.8 109.1,2202.8 113.7,2202.8 118.2,2202.8 122.7,2202.8 127.2,2202.8 131.7,2202.8 136.2,2202.8 140.7,2202.8 145.3,2202.8 149.8,2202.8 154.3,2202.8 158.8,2202.8 163.3,2202.8 167.8,2202.8 172.3,2202.8 176.8,2202.8 181.4,2202.8 185.9,2202.8 190.4,2199.9 194.9,2194.5 199.4,2189.8 203.9,2189.4 208.4,2189.4 213.0,2189.4 217.5,2189.4 222.0,2189.4 226.5,2189.4 231.0,2186.2 235.5,2178.7 240.0,2176.1 244.6,2176.1 249.1,2176.1 253.6,2176.1 258.1,2176.1 262.6,2176.1 267.1,2176.1 271.6,2176.1 276.1,2176.1 280.7,2176.1 285.2,2176.1 289.7,2176.1 294.2,2176.1 298.7,2176.1 303.2,2176.1 307.7,2176.1 312.3,2176.1 316.8,2176.1 321.3,2176.1 325.8,2176.1 330.3,2176.1 334.8,2176.1 339.3,2176.1 343.8,2176.1 348.4,2176.1 352.9,2176.1 357.4,2176.1 361.9,2176.1 366.4,2176.1 370.9,2176.1 375.4,2176.1 380.0,2176.1 384.5,2176.1 389.0,2176.1 393.5,2176.1 398.0,2176.1 402.5,2176.1 407.0,2176.1 411.5,2176.1 416.1,2176.1 420.6,2176.1 425.1,2176.1 429.6,2176.1 434.1,2176.1 438.6,2176.1 443.1,2176.1 447.7,2176.1 452.2,2176.1 456.7,2176.1 461.2,2176.1 465.7,2176.1 470.2,2176.1 474.7,2176.1 479.3,2176.1 483.8,2176.1 488.3,2176.1 492.8,2176.1 497.3,2176.1 501.8,2176.1 506.3,2176.1 510.8,2176.1 515.4,2176.1 519.9,2176.1 524.4,2176.1 528.9,2176.1 533.4,2176.1 537.9,2176.1 542.4,2176.1 547.0,2176.1 551.5,2176.1 556.0,2176.1 560.5,2176.1 565.0,2176.1 569.5,2176.1 574.0,2176.1 578.5,2176.1 583.1,2176.1 587.6,2176.1 592.1,2176.1 596.6,2176.1 601.1,2176.1 605.6,2176.1 610.1,2176.1 614.7,2176.1 619.2,2176.1 623.7,2176.1 628.2,2176.1 632.7,2176.1 637.2,2176.1 641.7,2176.1 646.2,2176.1 650.8,2176.1 655.3,2176.1 659.8,2176.1 664.3,2176.1 668.8,2176.1 673.3,2176.1 677.8,2176.1 682.4,2176.1 686.9,2176.1 691.4,2176.1 695.9,2176.1 700.4,2176.1 704.9,2176.1 709.4,2176.1 714.0,2176.1 718.5,2176.1 723.0,2176.1 727.5,2176.1 732.0,2176.1 736.5,2176.1 741.0,2176.1 745.5,2176.1 750.1,2176.1 754.6,2176.1 759.1,2176.1 763.6,2176.1 768.1,2176.1 772.6,2176.1 777.1,2176.1 781.7,2176.1 786.2,2176.1 790.7,2176.1 795.2,2176.1 799.7,2176.1 804.2,2176.1 808.7,2176.1 813.2,2176.1 817.8,2176.1 822.3,2176.1 826.8,2176.1 831.3,2176.1 835.8,2176.1 840.3,2176.1 844.8,2176.1 849.4,2176.1 853.9,2176.1 858.4,2176.1 862.9,2176.1 867.4,2176.1 871.9,2176.1 876.4,2176.1 880.9,2176.1 885.5,2176.1 890.0,2176.1 894.5,2176.1 899.0,2176.1 903.5,2176.1 908.0,2176.1 912.5,2176.1 917.1,2176.1 921.6,2176.1 926.1,2176.1 930.6,2176.1 935.1,2176.1 939.6,2176.1 944.1,2176.1 948.7,2176.1 953.2,2176.1 957.7,2176.1 962.2,2176.1 966.7,2176.1 971.2,2176.1 975.7,2176.1 980.2,2176.1 984.8,2176.1 989.3,2176.1 993.8,2176.1 998.3,2176.1 1002.8,2176.1 1007.3,2176.1 1011.8,2176.1 1016.4,2176.1 1020.9,2176.1 1025.4,2176.1 1029.9,2176.1 1034.4,2176.1 1038.9,2176.1 1043.4,2176.1 1047.9,2176.1 1052.5,2176.1 1057.0,2176.1 1061.5,2176.1 1066.0,2176.1 1070.5,2176.1 1075.0,2176.1 1079.5,2176.1 1084.1,2176.1 1088.6,2176.1 1093.1,2176.1 1097.6,2176.1 1102.1,2176.1 1106.6,2176.1 1111.1,2176.1 1115.6,2176.1 1120.2,2176.1 1124.7,2176.1 1129.2,2176.1 1133.7,2176.1 1138.2,2176.1 1142.7,2176.1 1147.2,2176.1 1151.8,2176.1 1156.3,2176.1 1160.8,2176.1 1165.3,2176.1 1169.8,2176.1 1174.3,2176.1 1178.8,2176.1 1183.4,2176.1 1187.9,2176.1 1192.4,2176.1 1196.9,2176.1 1201.4,2176.1 1205.9,2176.1 1210.4,2176.1 1214.9,2176.1 1219.5,2176.1 1224.0,2176.1 1228.5,2176.1 1233.0,2176.1 1237.5,2176.1 1242.0,2176.1 1246.5,2176.1 1251.1,2176.1 1255.6,2176.1 1260.1,2176.1 1264.6,2176.1 1269.1,2176.1 1273.6,2176.1 1278.1,2176.1 1282.6,2176.1 1287.2,2176.1 1291.7,2176.1 1296.2,2176.1 1300.7,2176.1 1305.2,2176.1 1309.7,2176.1 1314.2,2176.1 1318.8,2176.1 1323.3,2176.1 1327.8,2176.1 1332.3,2176.1 1336.8,2176.1 1341.3,2176.1 1345.8,2176.1 1350.3,2176.1 1354.9,2176.1 1359.4,2176.1 1363.9,2176.1 1368.4,2176.1 1372.9,2176.1 1377.4,2176.1 1381.9,2176.1 1386.5,2176.1 1391.0,2176.1 1395.5,2176.1 1400.0,2176.1 1404.5,2176.1 1409.0,2176.1 1413.5,2176.1 1418.1,2176.1 1422.6,2176.1 1427.1,2176.1 1431.6,2176.1 1436.1,2176.1 1440.6,2176.1 1445.1,2176.1 1449.6,2176.1 1454.2,2176.1 1458.7,2176.1 1463.2,2176.1 1467.7,2176.1 1472.2,2176.1 1476.7,2176.1 1481.2,2176.1 1485.8,2176.1 1490.3,2176.1 1494.8,2176.1 1499.3,2176.1 1503.8,2176.1 1508.3,2176.1 1512.8,2176.1 1517.3,2176.1 1521.9,2176.1 1526.4,2176.1 1530.9,2176.1 1535.4,2176.1 1539.9,2176.1 1544.4,2176.1 1548.9,2176.1 1553.5,2176.1 1558.0,2176.1 1562.5,2176.1 1567.0,2176.1 1571.5,2176.1 1576.0,2176.1 1580.5,2176.1 1585.0,2176.1 1589.6,2176.1 1594.1,2176.1 1598.6,2176.1 1603.1,2176.1 1607.6,2176.1 1612.1,2176.1 1616.6,2176.1 1621.2,2176.1 1625.7,2176.1 1630.2,2176.1 1634.7,2176.1 1639.2,2176.1 1643.7,2176.1 1648.2,2176.1 1652.8,2176.1 1657.3,2176.1 1661.8,2176.1 1666.3,2176.1 1670.8,2176.1 1675.3,2176.1 1679.8,2176.1 1684.3,2176.1 1688.9,2176.1 1693.4,2176.1 1697.9,2176.1 1702.4,2176.1 1706.9,2176.1 1711.4,2176.1 1715.9,2176.1 1720.5,2176.1 1725.0,2176.1 1729.5,2176.1 1734.0,2176.1 1738.5,2176.1 1743.0,2176.1 1747.5,2176.1 1752.0,2176.1 1756.6,2176.1 1761.1,2176.1 1765.6,2176.1 1770.1,2176.1 1774.6,2176.1 1779.1,2176.1 1783.6,2176.1 1788.2,2176.1 1792.7,2176.1 1797.2,2176.1 1801.7,2176.1 1806.2,2176.1 1810.7,2176.1 1815.2,2176.1 1819.7,2176.1 1824.3,2176.1 1828.8,2176.1 1833.3,2176.1 1837.8,2176.1 1842.3,2176.1 1846.8,2176.1 1851.3,2176.1 1855.9,2176.1 1860.4,2176.1 1864.9,2176.1 1869.4,2176.1 1873.9,2176.1 1878.4,2176.1 1882.9,2176.1 1887.5,2176.1 1892.0,2176.1 1896.5,2176.1 1901.0,2176.1 1905.5,2176.1 1910.0,2176.1 1914.5,2176.1 1919.0,2176.1 1923.6,2176.1 1928.1,2176.1 1932.6,2176.1 1937.1,2176.1 1941.6,2176.1 1946.1,2176.1 1950.6,2176.1 1955.2,2176.1 1959.7,2176.1 1964.2,2176.1 1968.7,2176.1 1973.2,2176.1 1977.7,2176.1 1982.2,2176.1 1986.7,2176.1 1991.3,2176.1 1995.8,2176.1 2000.3,2176.1 2004.8,2176.1 2009.3,2176.1 2013.8,2176.1 2018.3,2176.1 2022.9,2176.1 2027.4,2176.1 2031.9,2176.1 2036.4,2176.1 2040.9,2176.1 2045.4,2176.1 2049.9,2176.1 2052.1,2176.1" stroke="#f2a46f"/>
<path d="M59.5,2202.8 64.0,2202.8 68.5,2202.8 73.0,2202.8 77.6,2202.8 82.1,2202.8 86.6,2202.8 91.1,2202.8 95.6,2202.8 100.1,2202.8 104.6,2202.8 109.1,2202.8 113.7,2202.8 118.2,2202.8 122.7,2202.8 127.2,2202.8 131.7,2202.8 136.2,2202.8 140.7,2202.8 145.3,2202.8 149.8,2202.7 154.3,2202.6 158.8,2202.4 163.3,2202.2 167.8,2201.8 172.3,2201.4 176.8,2201.1 181.4,2200.8 185.9,2200.5 190.4,2200.1 194.9,2199.5 199.4,2198.8 203.9,2198.1 208.4,2197.2 213.0,2196.5 217.5,2195.6 222.0,2194.3 226.5,2192.8 231.0,2190.8 235.5,2188.9 240.0,2187.5 244.6,2186.3 249.1,2184.8 253.6,2183.3 258.1,2181.2 262.6,2178.5 267.1,2176.4 271.6,2174.4 276.1,2173.2 280.7,2171.8 285.2,2169.6 289.7,2167.1 294.2,2165.8 298.7,2164.5 303.2,2162.9 307.7,2161.1 312.3,2158.9 316.8,2155.1 321.3,2149.7 325.8,2144.0 330.3,2140.3 334.8,2137.6 339.3,2135.0 343.8,2132.6 348.4,2130.0 352.9,2125.9 357.4,2122.9 361.9,2120.3 366.4,2118.1 370.9,2116.8 375.4,2114.7 380.0,2112.3 384.5,2108.6 389.0,2105.2 393.5,2102.5 398.0,2100.7 402.5,2098.9 407.0,2097.2 411.5,2095.0 416.1,2091.8 420.6,2088.9 425.1,2086.5 429.6,2084.6 434.1,2083.5 438.6,2081.6 443.1,2079.3 447.7,2076.3 452.2,2073.4 456.7,2070.4 461.2,2068.7 465.7,2066.8 470.2,2065.3 474.7,2062.9 479.3,2060.6 483.8,2058.6 488.3,2056.5 492.8,2055.3 497.3,2054.0 501.8,2052.6 506.3,2050.9 510.8,2048.4 515.4,2046.2 519.9,2044.7 524.4,2043.6 528.9,2042.6 533.4,2041.7 537.9,2040.4 542.4,2038.5 547.0,2036.4 551.5,2034.8 556.0,2033.6 560.5,2033.1 565.0,2032.5 569.5,2031.7 574.0,2030.5 578.5,2029.0 583.1,2027.5 587.6,2026.4 592.1,2025.6 596.6,2024.5 601.1,2023.6 605.6,2022.8 610.1,2022.0 614.7,2021.2 619.2,2020.5 623.7,2019.8 628.2,2019.0 632.7,2018.1 637.2,2016.8 641.7,2014.0 646.2,2011.3 650.8,2010.3 655.3,2009.8 659.8,2009.3 664.3,2008.6 668.8,2007.8 673.3,2006.8 677.8,2005.8 682.4,2005.1 686.9,2004.6 691.4,2003.8 695.9,2002.2 700.4,2000.2 704.9,1997.6 709.4,1995.5 714.0,1993.9 718.5,1992.8 723.0,1991.3 727.5,1989.7 732.0,1987.2 736.5,1985.5 741.0,1983.9 745.5,1982.9 750.1,1982.0 754.6,1981.0 759.1,1979.7 763.6,1977.9 768.1,1976.1 772.6,1974.8 777.1,1973.2 781.7,1972.3 786.2,1971.1 790.7,1969.8 795.2,1967.8 799.7,1965.6 804.2,1963.6 808.7,1962.2 813.2,1961.1 817.8,1959.8 822.3,1958.1 826.8,1955.7 831.3,1953.3 835.8,1951.9 840.3,1951.0 844.8,1950.3 849.4,1949.6 853.9,1948.5 858.4,1947.2 862.9,1945.8 867.4,1944.8 871.9,1939.9 876.4,1933.9 880.9,1932.4 885.5,1932.4 890.0,1932.4 894.5,1932.2 899.0,1931.2 903.5,1930.3 908.0,1929.5 912.5,1928.9 917.1,1927.9 921.6,1926.8 926.1,1925.6 930.6,1924.7 935.1,1924.0 939.6,1923.5 944.1,1922.9 948.7,1922.0 953.2,1918.2 957.7,1911.3 962.2,1911.1 966.7,1911.0 971.2,1910.8 975.7,1910.7 980.2,1909.8 984.8,1907.7 989.3,1905.4 993.8,1903.6 998.3,1902.6 1002.8,1902.2 1007.3,1901.5 1011.8,1900.6 1016.4,1899.6 1020.9,1896.7 1025.4,1894.0 1029.9,1891.4 1034.4,1890.8 1038.9,1890.4 1043.4,1889.9 1047.9,1889.2 1052.5,1888.2 1057.0,1887.4 1061.5,1886.8 1066.0,1886.2 1070.5,1885.5 1075.0,1884.5 1079.5,1883.5 1084.1,1882.1 1088.6,1880.9 1093.1,1880.1 1097.6,1879.4 1102.1,1878.7 1106.6,1877.7 1111.1,1876.3 1115.6,1875.2 1120.2,1873.9 1124.7,1873.0 1129.2,1872.3 1133.7,1871.6 1138.2,1870.6 1142.7,1869.1 1147.2,1867.6 1151.8,1866.1 1156.3,1865.0 1160.8,1864.1 1165.3,1862.9 1169.8,1861.6 1174.3,1859.7 1178.8,1857.4 1183.4,1855.2 1187.9,1853.8 1192.4,1852.3 1196.9,1850.7 1201.4,1848.8 1205.9,1846.3 1210.4,1843.5 1214.9,1840.9 1219.5,1838.9 1224.0,1837.5 1228.5,1835.4 1233.0,1833.2 1237.5,1830.2 1242.0,1827.2 1246.5,1824.6 1251.1,1822.2 1255.6,1821.0 1260.1,1818.6 1264.6,1816.4 1269.1,1812.9 1273.6,1809.3 1278.1,1805.5 1282.6,1803.1 1287.2,1801.0 1291.7,1798.8 1296.2,1795.3 1300.7,1790.4 1305.2,1785.2 1309.7,1779.8 1314.2,1776.1 1318.8,1773.1 1323.3,1768.3 1327.8,1763.5 1332.3,1755.6 1336.8,1746.7 1341.3,1735.7 1345.8,1728.2 1350.3,1721.0 1354.9,1714.3 1359.4,1705.5 1363.9,1696.6 1368.4,1689.7 1372.9,1684.5 1377.4,1681.7 1381.9,1678.6 1386.5,1676.2 1391.0,1671.5 1395.5,1664.7 1400.0,1656.5 1404.5,1650.7 1409.0,1649.0 1413.5,1648.0 1418.1,1646.5 1422.6,1644.8 1427.1,1637.2 1431.6,1631.0 1436.1,1627.2 1440.6,1619.2 1445.1,1612.8 1449.6,1610.3 1454.2,1608.2 1458.7,1597.7 1463.2,1587.0 1467.7,1580.4 1472.2,1578.0 1476.7,1576.1 1481.2,1574.4 1485.8,1570.6 1490.3,1565.0 1494.8,1559.0 1499.3,1552.6 1503.8,1548.2 1508.3,1546.3 1512.8,1546.0 1517.3,1545.3 1521.9,1538.8 1526.4,1528.8 1530.9,1522.4 1535.4,1518.2 1539.9,1514.9 1544.4,1512.4 1548.9,1508.3 1553.5,1504.6 1558.0,1500.4 1562.5,1493.1 1567.0,1488.4 1571.5,1484.7 1576.0,1480.4 1580.5,1477.2 1585.0,1473.3 1589.6,1468.5 1594.1,1462.7 1598.6,1458.7 1603.1,1453.6 1607.6,1450.2 1612.1,1450.2 1616.6,1450.2 1620.3,1450.2 1624.7,1422.4 1627.8,1315.0 1631.0,1223.4 1633.8,1161.8 1639.2,1159.3 1643.7,1156.5 1648.2,1153.1 1652.8,1149.3 1657.3,1145.8 1661.8,1142.1 1666.3,1139.0 1670.8,1136.9 1675.3,1132.1 1679.8,1125.0 1684.3,1118.6 1688.9,1114.2 1693.4,1110.7 1697.9,1108.4 1702.4,1105.4 1706.9,1101.8 1711.4,1099.4 1715.9,1099.4 1720.5,1099.4 1725.0,1093.4 1729.5,1088.1 1734.0,1087.9 1738.5,1087.4 1743.0,1079.7 1747.5,1078.7 1752.0,1074.4 1756.6,1071.3 1761.1,1068.2 1765.6,1064.9 1770.1,1060.9 1774.6,1057.3 1779.1,1054.8 1783.6,1052.6 1788.2,1039.6 1792.7,1033.8 1797.2,1033.1 1801.7,1032.4 1806.2,1031.8 1810.7,1031.8 1815.2,1031.8 1819.7,1024.8 1824.3,1023.6 1828.8,1023.6 1833.3,1023.6 1837.8,1021.9 1842.3,1018.0 1846.8,1017.6 1851.3,1017.6 1855.9,1017.6 1860.4,1017.6 1864.9,1017.6 1869.4,1015.7 1873.9,1012.5 1878.4,1010.1 1882.9,1008.0 1887.5,1006.8 1892.0,1005.6 1896.5,1003.6 1901.0,1001.2 1905.5,999.2 1910.0,997.9 1914.5,996.7 1919.0,996.0 1923.6,995.0 1928.1,993.8 1932.6,991.5 1937.1,989.0 1941.6,987.0 1946.1,986.0 1950.6,986.0 1955.2,986.0 1959.7,986.0 1964.2,984.6 1968.7,980.8 1973.2,979.2 1977.7,977.6 1982.2,976.4 1986.7,975.2 1991.3,974.1 1995.8,973.1 2000.3,972.1 2004.8,971.0 2009.3,970.2 2013.8,969.3 2018.3,968.5 2022.9,967.3 2027.4,965.9 2031.9,964.5 2036.4,963.4 2040.9,962.7 2045.4,962.0 2049.9,960.9 2052.1,960.5" stroke="#c0c0c0"/>
<path d="M59.5,2202.8 64.0,2202.8 68.5,2202.8 73.0,2202.8 77.6,2202.8 82.1,2202.8 86.6,2202.8 91.1,2202.8 95.6,2202.8 100.1,2202.8 104.6,2202.8 109.1,2202.8 113.7,2202.8 118.2,2202.8 122.7,2202.8 127.2,2202.8 131.7,2202.8 136.2,2202.8 140.7,2202.8 145.3,2202.7 149.8,2202.6 154.3,2202.5 158.8,2202.3 163.3,2202.1 167.8,2201.6 172.3,2201.1 176.8,2200.5 181.4,2200.2 185.9,2199.9 190.4,2199.5 194.9,2198.9 199.4,2198.2 203.9,2197.2 208.4,2196.2 213.0,2195.1 217.5,2194.4 222.0,2193.5 226.5,2191.8 231.0,2190.1 235.5,2187.9 240.0,2186.1 244.6,2184.9 249.1,2183.6 253.6,2182.6 258.1,2181.0 262.6,2179.4 267.1,2177.4 271.6,2176.1 276.1,2174.8 280.7,2174.0 285.2,2173.1 289.7,2171.5 294.2,2169.9 298.7,2168.1 303.2,2166.7 307.7,2165.5 312.3,2164.8 316.8,2164.0 321.3,2162.6 325.8,2161.1 330.3,2159.7 334.8,2158.7 339.3,2158.1 343.8,2157.5 348.4,2156.9 352.9,2155.9 357.4,2154.9 361.9,2153.9 366.4,2153.0 370.9,2152.5 375.4,2152.1 380.0,2151.6 384.5,2150.8 389.0,2150.0 393.5,2149.1 398.0,2148.4 402.5,2148.0 407.0,2147.5 411.5,2147.1 416.1,2146.5 420.6,2145.7 425.1,2144.9 429.6,2144.3 434.1,2144.0 438.6,2143.6 443.1,2143.3 447.7,2142.7 452.2,2142.0 456.7,2141.3 461.2,2140.8 465.7,2140.4 470.2,2140.1 474.7,2139.7 479.3,2139.2 483.8,2138.7 488.3,2138.0 492.8,2137.5 497.3,2137.1 501.8,2136.9 506.3,2136.5 510.8,2136.0 515.4,2135.5 519.9,2135.0 524.4,2134.5 528.9,2134.2 533.4,2134.0 537.9,2133.7 542.4,2133.4 547.0,2133.0 551.5,2132.6 556.0,2132.3 560.5,2132.1 565.0,2132.0 569.5,2131.8 574.0,2131.5 578.5,2131.2 583.1,2130.9 587.6,2130.6 592.1,2130.3 596.6,2130.2 601.1,2129.9 605.6,2129.6 610.1,2129.1 614.7,2128.6 619.2,2128.1 623.7,2127.8 628.2,2127.5 632.7,2127.1 637.2,2126.6 641.7,2125.8 646.2,2125.1 650.8,2124.3 655.3,2123.7 659.8,2123.1 664.3,2122.5 668.8,2121.5 673.3,2120.1 677.8,2118.6 682.4,2117.2 686.9,2116.3 691.4,2115.7 695.9,2114.8 700.4,2113.5 704.9,2111.9 709.4,2110.0 714.0,2108.4 718.5,2107.3 723.0,2106.5 727.5,2105.5 732.0,2104.1 736.5,2102.1 741.0,2100.4 745.5,2098.9 750.1,2097.8 754.6,2097.0 759.1,2095.9 763.6,2094.4 768.1,2092.4 772.6,2090.3 777.1,2088.5 781.7,2087.6 786.2,2086.4 790.7,2085.3 795.2,2083.5 799.7,2081.1 804.2,2079.1 808.7,2077.4 813.2,2076.5 817.8,2075.3 822.3,2074.5 826.8,2073.1 831.3,2071.3 835.8,2069.6 840.3,2068.1 844.8,2067.1 849.4,2066.3 853.9,2065.2 858.4,2063.8 862.9,2061.8 867.4,2059.5 871.9,2058.0 876.4,2056.6 880.9,2055.5 885.5,2054.4 890.0,2052.8 894.5,2050.6 899.0,2048.4 903.5,2046.7 908.0,2045.2 912.5,2044.5 917.1,2043.1 921.6,2041.6 926.1,2039.3 930.6,2037.4 935.1,2035.7 939.6,2034.3 944.1,2033.3 948.7,2032.0 953.2,2030.5 957.7,2028.2 962.2,2026.3 966.7,2024.5 971.2,2023.3 975.7,2022.4 980.2,2021.3 984.8,2019.6 989.3,2018.1 993.8,2016.3 998.3,2014.8 1002.8,2013.7 1007.3,2012.9 1011.8,2012.2 1016.4,2010.6 1020.9,2008.7 1025.4,2006.8 1029.9,2005.1 1034.4,2004.1 1038.9,2003.0 1043.4,2001.9 1047.9,2000.4 1052.5,1998.6 1057.0,1996.7 1061.5,1995.4 1066.0,1994.3 1070.5,1993.3 1075.0,1992.4 1079.5,1991.0 1084.1,1989.4 1088.6,1987.3 1093.1,1984.9 1097.6,1983.0 1102.1,1981.9 1106.6,1979.9 1111.1,1977.5 1115.6,1975.4 1120.2,1973.6 1124.7,1972.1 1129.2,1971.2 1133.7,1969.9 1138.2,1968.3 1142.7,1966.0 1147.2,1963.2 1151.8,1960.2 1156.3,1957.7 1160.8,1956.2 1165.3,1954.3 1169.8,1953.0 1174.3,1950.3 1178.8,1947.3 1183.4,1944.2 1187.9,1941.6 1192.4,1939.8 1196.9,1938.3 1201.4,1936.8 1205.9,1934.7 1210.4,1931.5 1214.9,1928.0 1219.5,1924.7 1224.0,1921.9 1228.5,1920.3 1233.0,1917.8 1237.5,1914.4 1242.0,1910.3 1246.5,1905.9 1251.1,1902.2 1255.6,1900.1 1260.1,1897.6 1264.6,1895.3 1269.1,1892.6 1273.6,1888.2 1278.1,1883.6 1282.6,1879.0 1287.2,1876.2 1291.7,1873.9 1296.2,1871.5 1300.7,1867.4 1305.2,1861.6 1309.7,1856.3 1314.2,1852.0 1318.8,1848.6 1323.3,1845.5 1327.8,1841.3 1332.3,1836.6 1336.8,1829.0 1341.3,1824.2 1345.8,1820.3 1350.3,1817.8 1354.9,1816.4 1359.4,1814.3 1363.9,1810.8 1368.4,1806.4 1372.9,1801.3 1377.4,1797.5 1381.9,1794.0 1386.5,1791.2 1391.0,1788.2 1395.5,1783.8 1400.0,1777.2 1404.5,1771.1 1409.0,1765.5 1413.5,1761.2 1418.1,1757.5 1422.6,1753.8 1427.1,1748.1 1431.6,1739.8 1436.1,1732.3 1440.6,1729.7 1445.1,1728.2 1449.6,1726.0 1454.2,1721.9 1458.7,1718.9 1463.2,1713.2 1467.7,1704.7 1472.2,1697.2 1476.7,1690.3 1481.2,1685.6 1485.8,1681.4 1490.3,1677.4 1494.8,1669.3 1499.3,1658.8 1503.8,1650.6 1508.3,1644.4 1512.8,1641.2 1517.3,1637.3 1521.9,1629.6 1526.4,1616.6 1530.9,1601.7 1535.4,1595.5 1539.9,1591.8 1544.4,1587.6 1548.9,1583.3 1553.5,1577.8 1558.0,1571.0 1562.5,1559.9 1567.0,1548.3 1571.5,1540.5 1576.0,1534.6 1580.5,1531.3 1585.0,1525.2 1589.6,1514.9 1594.1,1503.6 1598.6,1494.1 1603.1,1485.9 1607.6,1482.3 1612.1,1478.6 1616.6,1472.8 1621.2,1462.8 1625.7,1451.2 1630.2,1445.3 1634.7,1442.0 1639.2,1439.3 1643.7,1436.5 1648.2,1432.5 1652.8,1427.5 1657.3,1423.4 1661.8,1419.9 1666.3,1417.2 1670.8,1412.8 1675.3,1409.0 1679.8,1404.7 1684.3,1397.4 1688.9,1389.0 1693.4,1381.3 1697.9,1375.5 1702.4,1369.3 1706.9,1359.4 1711.4,1345.9 1715.9,1342.8 1720.5,1342.6 1725.0,1342.4 1729.5,1342.4 1734.0,1342.3 1738.5,1342.2 1741.6,1342.0 1744.7,1310.5 1747.5,1310.4 1752.0,1310.2 1756.6,1310.1 1761.1,1310.0 1765.6,1309.9 1770.1,1309.9 1774.6,1307.5 1779.1,1295.3 1783.6,1295.2 1788.2,1295.1 1792.7,1295.1 1797.2,1295.1 1801.7,1295.0 1806.2,1294.9 1810.7,1289.3 1815.2,1283.2 1819.7,1282.9 1824.3,1282.7 1828.8,1282.4 1833.3,1282.2 1837.8,1280.7 1842.3,1272.4 1846.8,1268.1 1851.3,1267.0 1855.9,1266.5 1860.4,1266.1 1864.9,1265.6 1869.4,1264.1 1873.9,1217.4 1878.4,940.2 1882.9,940.0 1887.5,939.9 1892.0,939.8 1896.5,939.7 1901.0,939.6 1905.5,934.0 1910.0,931.7 1914.5,931.6 1919.0,931.4 1923.6,931.3 1928.1,931.1 1932.6,930.8 1937.1,930.3 1941.6,929.4 1946.1,928.9 1950.6,928.9 1955.2,928.9 1959.7,928.9 1964.2,928.9 1968.7,927.4 1973.2,923.7 1977.7,920.1 1982.2,917.8 1986.7,915.5 1991.3,914.7 1995.8,913.1 2000.3,911.4 2004.8,909.5 2009.3,908.4 2013.8,907.5 2018.3,906.7 2022.9,905.8 2027.4,904.6 2031.9,902.1 2036.4,899.0 2040.9,898.1 2045.4,898.1 2049.9,898.1 2052.1,898.1" stroke="#ffd34c"/>
<path d="M59.5,2202.8 64.0,2202.8 68.5,2202.8 73.0,2202.8 77.6,2202.8 82.1,2202.8 86.6,2202.8 91.1,2202.8 95.6,2202.8 100.1,2202.8 104.6,2202.8 109.1,2202.8 113.7,2202.8 118.2,2202.8 122.7,2202.8 127.2,2202.8 131.7,2202.8 136.2,2202.7 140.7,2202.6 145.3,2202.5 149.8,2202.4 154.3,2202.2 158.8,2202.1 163.3,2201.8 167.8,2201.5 172.3,2201.1 176.8,2200.8 181.4,2200.5 185.9,2200.4 190.4,2200.1 194.9,2199.8 199.4,2199.3 203.9,2198.9 208.4,2198.5 213.0,2198.1 217.5,2197.8 222.0,2197.4 226.5,2196.8 231.0,2196.0 235.5,2195.3 240.0,2194.7 244.6,2194.3 249.1,2194.0 253.6,2193.5 258.1,2192.8 262.6,2192.2 267.1,2191.4 271.6,2190.9 276.1,2190.6 280.7,2190.2 285.2,2189.9 289.7,2189.2 294.2,2188.4 298.7,2187.7 303.2,2187.2 307.7,2186.9 312.3,2186.6 316.8,2186.1 321.3,2185.6 325.8,2184.9 330.3,2184.2 334.8,2183.8 339.3,2183.4 343.8,2183.2 348.4,2182.8 352.9,2182.2 357.4,2181.5 361.9,2180.9 366.4,2180.4 370.9,2180.1 375.4,2179.8 380.0,2179.5 384.5,2179.1 389.0,2178.5 393.5,2178.2 398.0,2177.9 402.5,2177.7 407.0,2177.6 411.5,2177.4 416.1,2177.2 420.6,2177.0 425.1,2176.8 429.6,2176.6 434.1,2176.5 438.6,2176.4 443.1,2176.3 447.7,2176.1 452.2,2175.9 456.7,2175.7 461.2,2175.5 465.7,2175.3 470.2,2175.2 474.7,2175.0 479.3,2174.8 483.8,2174.4 488.3,2174.0 492.8,2173.7 497.3,2173.5 501.8,2173.3 506.3,2173.0 510.8,2172.6 515.4,2172.1 519.9,2171.6 524.4,2171.3 528.9,2171.0 533.4,2170.9 537.9,2170.6 542.4,2170.2 547.0,2169.7 551.5,2169.3 556.0,2169.0 560.5,2168.8 565.0,2168.7 569.5,2168.4 574.0,2168.0 578.5,2167.6 583.1,2167.2 587.6,2166.9 592.1,2166.6 596.6,2166.4 601.1,2166.1 605.6,2165.6 610.1,2165.1 614.7,2164.6 619.2,2164.2 623.7,2163.9 628.2,2163.7 632.7,2163.3 637.2,2162.8 641.7,2162.1 646.2,2161.4 650.8,2160.9 655.3,2160.6 659.8,2160.3 664.3,2159.8 668.8,2159.1 673.3,2158.3 677.8,2157.5 682.4,2156.8 686.9,2156.4 691.4,2156.0 695.9,2155.4 700.4,2154.5 704.9,2153.4 709.4,2152.3 714.0,2151.5 718.5,2150.8 723.0,2150.5 727.5,2149.7 732.0,2148.7 736.5,2147.5 741.0,2146.5 745.5,2145.7 750.1,2145.1 754.6,2144.7 759.1,2143.9 763.6,2143.1 768.1,2141.9 772.6,2140.8 777.1,2140.0 781.7,2139.4 786.2,2139.0 790.7,2138.3 795.2,2137.3 799.7,2136.3 804.2,2135.2 808.7,2134.5 813.2,2133.8 817.8,2133.4 822.3,2132.7 826.8,2131.8 831.3,2130.6 835.8,2129.4 840.3,2128.7 844.8,2128.2 849.4,2127.6 853.9,2127.0 858.4,2125.9 862.9,2124.8 867.4,2123.8 871.9,2122.9 876.4,2122.5 880.9,2122.0 885.5,2121.4 890.0,2120.4 894.5,2119.4 899.0,2118.5 903.5,2117.7 908.0,2117.2 912.5,2116.8 917.1,2116.1 921.6,2115.3 926.1,2114.3 930.6,2113.3 935.1,2112.7 939.6,2112.3 944.1,2111.9 948.7,2111.3 953.2,2110.7 957.7,2109.8 962.2,2109.1 966.7,2108.6 971.2,2108.3 975.7,2108.0 980.2,2107.6 984.8,2107.1 989.3,2106.5 993.8,2105.8 998.3,2105.4 1002.8,2105.1 1007.3,2104.8 1011.8,2104.5 1016.4,2104.0 1020.9,2103.3 1025.4,2102.8 1029.9,2102.3 1034.4,2102.1 1038.9,2101.8 1043.4,2101.5 1047.9,2101.0 1052.5,2100.2 1057.0,2099.3 1061.5,2098.7 1066.0,2098.2 1070.5,2097.8 1075.0,2097.3 1079.5,2096.8 1084.1,2096.1 1088.6,2095.5 1093.1,2095.0 1097.6,2094.5 1102.1,2094.3 1106.6,2093.9 1111.1,2093.3 1115.6,2091.7 1120.2,2090.2 1124.7,2089.2 1129.2,2088.4 1133.7,2087.8 1138.2,2087.0 1142.7,2086.1 1147.2,2084.8 1151.8,2084.0 1156.3,2083.7 1160.8,2083.6 1165.3,2083.4 1169.8,2082.0 1174.3,2080.3 1178.8,2078.3 1183.4,2077.2 1187.9,2076.4 1192.4,2075.8 1196.9,2075.1 1201.4,2074.3 1205.9,2072.8 1210.4,2071.3 1214.9,2070.1 1219.5,2069.4 1224.0,2069.0 1228.5,2068.6 1233.0,2068.1 1237.5,2066.5 1242.0,2063.7 1246.5,2061.2 1251.1,2059.1 1255.6,2057.5 1260.1,2056.0 1264.6,2054.3 1269.1,2051.6 1273.6,2048.2 1278.1,2046.4 1282.6,2045.0 1287.2,2044.3 1291.7,2043.5 1296.2,2042.3 1300.7,2039.7 1305.2,2036.6 1309.7,2030.2 1314.2,2025.2 1318.8,2023.2 1323.3,2021.0 1327.8,2018.7 1332.3,2015.7 1336.8,2012.4 1341.3,2007.3 1345.8,2003.7 1350.3,2002.8 1354.9,2001.6 1359.4,2000.2 1363.9,1996.1 1368.4,1988.7 1372.9,1977.7 1377.4,1970.6 1381.9,1967.5 1386.5,1965.4 1391.0,1965.1 1395.5,1963.5 1400.0,1956.6 1404.5,1954.3 1409.0,1952.9 1413.5,1951.7 1418.1,1950.6 1422.6,1949.5 1427.1,1947.9 1431.6,1944.6 1436.1,1939.9 1440.6,1939.3 1445.1,1939.0 1449.6,1938.6 1454.2,1937.8 1458.7,1935.8 1463.2,1931.3 1467.7,1927.3 1472.2,1923.2 1476.7,1920.4 1481.2,1918.2 1485.8,1915.7 1490.3,1910.0 1494.8,1903.7 1499.3,1897.7 1503.8,1892.6 1508.3,1890.6 1512.8,1888.0 1517.3,1885.8 1521.9,1883.2 1526.4,1880.2 1530.9,1877.5 1535.4,1875.5 1539.9,1874.2 1544.4,1873.2 1548.9,1871.2 1553.5,1868.1 1558.0,1864.2 1562.5,1860.1 1567.0,1857.2 1571.5,1855.6 1576.0,1854.0 1580.5,1852.4 1585.0,1849.7 1589.6,1846.4 1594.1,1843.5 1598.6,1841.7 1603.1,1840.3 1607.6,1839.3 1612.1,1837.6 1616.6,1835.6 1621.2,1833.2 1625.7,1831.0 1630.2,1829.6 1634.7,1828.3 1639.2,1827.8 1643.7,1826.7 1648.2,1825.4 1652.8,1823.8 1657.3,1822.2 1661.8,1821.8 1666.3,1821.7 1670.8,1821.6 1675.3,1821.4 1679.8,1821.2 1684.3,1814.8 1688.9,1812.4 1693.4,1811.7 1697.9,1811.4 1702.4,1811.0 1706.9,1810.6 1711.4,1810.1 1715.9,1804.0 1720.5,1798.5 1725.0,1797.0 1729.5,1796.2 1734.0,1795.6 1738.5,1795.3 1743.0,1794.9 1747.5,1794.4 1752.0,1792.7 1756.6,1792.3 1761.1,1792.0 1765.6,1791.9 1770.1,1791.5 1774.6,1790.6 1779.1,1787.1 1783.6,1785.8 1788.2,1785.0 1792.7,1784.4 1797.2,1784.0 1801.7,1783.4 1806.2,1782.9 1810.7,1782.6 1815.2,1782.4 1819.7,1782.2 1824.3,1782.0 1828.8,1781.8 1833.3,1781.3 1837.8,1780.7 1842.3,1780.0 1846.8,1779.5 1851.3,1779.2 1855.9,1779.0 1860.4,1778.8 1864.9,1778.5 1869.4,1778.4 1873.9,1771.4 1878.4,1770.7 1882.9,1770.1 1887.5,1769.9 1892.0,1769.7 1896.5,1769.5 1901.0,1769.0 1905.5,1768.6 1910.0,1767.8 1914.5,1767.3 1919.0,1767.1 1923.6,1766.9 1928.1,1766.8 1932.6,1766.6 1937.1,1765.9 1941.6,1764.3 1946.1,1763.2 1950.6,1762.6 1955.2,1762.5 1959.7,1762.3 1964.2,1762.1 1968.7,1761.5 1973.2,1760.9 1977.7,1760.4 1982.2,1760.1 1986.7,1759.8 1991.3,1759.3 1995.8,1758.5 2000.3,1757.6 2004.8,1756.7 2009.3,1755.8 2013.8,1755.3 2018.3,1754.9 2022.9,1753.7 2027.4,1751.2 2031.9,1748.8 2036.4,1746.5 2040.9,1745.8 2045.4,1745.3 2049.9,1744.9 2052.1,1744.6" stroke="#8cb9e2"/>
<path d="M59.5,2202.8 64.0,2202.8 68.5,2202.8 73.0,2202.8 77.6,2202.8 82.1,2202.8 86.6,2202.8 91.1,2202.8 95.6,2202.8 100.1,2202.8 104.6,2202.8 109.1,2202.8 113.7,2202.8 118.2,2202.8 122.7,2202.8 127.2,2202.8 131.7,2202.8 136.2,2202.8 140.7,2202.8 145.3,2202.8 149.8,2202.7 154.3,2202.5 158.8,2202.2 163.3,2202.0 167.8,2201.8 172.3,2201.5 176.8,2201.1 181.4,2200.4 185.9,2199.7 190.4,2199.2 194.9,2198.7 199.4,2198.4 203.9,2197.7 208.4,2196.5 213.0,2194.2 217.5,2191.4 222.0,2189.3 226.5,2187.3 231.0,2185.9 235.5,2183.9 240.0,2180.8 244.6,2176.9 249.1,2171.8 253.6,2167.4 258.1,2165.1 262.6,2161.8 267.1,2155.3 271.6,2148.0 276.1,2136.2 280.7,2127.3 285.2,2117.4 289.7,2111.5 294.2,2107.9 298.7,2105.4 303.2,2102.5 307.7,2099.4 312.3,2094.9 316.8,2090.2 321.3,2085.8 325.8,2079.4 330.3,2069.6 334.8,2058.7 339.3,2049.9 343.8,2042.6 348.4,2035.9 352.9,2024.8 357.4,2012.2 361.9,2004.2 366.4,1992.1 370.9,1986.8 375.4,1983.5 380.0,1982.0 384.5,1980.4 389.0,1975.4 393.5,1966.7 398.0,1956.4 402.5,1947.1 407.0,1944.6 411.5,1942.3 416.1,1935.5 420.6,1931.6 425.1,1924.9 429.6,1916.7 434.1,1910.4 438.6,1907.2 443.1,1906.2 447.7,1905.8 452.2,1904.0 456.7,1898.8 461.2,1890.7 465.7,1884.4 470.2,1882.2 474.7,1879.9 479.3,1876.7 483.8,1875.0 488.3,1872.0 492.8,1867.8 497.3,1862.9 501.8,1858.6 506.3,1855.4 510.8,1853.6 515.4,1851.4 519.9,1849.3 524.4,1847.3 528.9,1845.0 533.4,1842.5 537.9,1840.7 542.4,1839.3 547.0,1838.2 551.5,1836.5 556.0,1834.5 560.5,1833.2 565.0,1832.0 569.5,1831.1 574.0,1830.6 578.5,1830.0 583.1,1828.9 587.6,1827.1 592.1,1824.6 596.6,1822.0 601.1,1819.8 605.6,1818.6 610.1,1817.4 614.7,1815.5 619.2,1813.7 623.7,1811.2 628.2,1809.6 632.7,1808.3 637.2,1807.7 641.7,1806.9 646.2,1806.1 650.8,1805.1 655.3,1803.9 659.8,1802.8 664.3,1802.0 668.8,1801.5 673.3,1801.0 677.8,1800.2 682.4,1799.4 686.9,1798.2 691.4,1797.0 695.9,1796.0 700.4,1795.4 704.9,1794.7 709.4,1793.8 714.0,1792.8 718.5,1791.4 723.0,1790.0 727.5,1789.1 732.0,1788.4 736.5,1787.8 741.0,1787.2 745.5,1786.1 750.1,1785.2 754.6,1784.2 759.1,1783.6 763.6,1783.2 768.1,1782.9 772.6,1782.4 777.1,1781.7 781.7,1780.7 786.2,1779.5 790.7,1778.5 795.2,1777.9 799.7,1777.3 804.2,1776.6 808.7,1775.4 813.2,1774.0 817.8,1772.5 822.3,1771.6 826.8,1770.7 831.3,1770.0 835.8,1769.2 840.3,1768.0 844.8,1766.5 849.4,1765.2 853.9,1764.1 858.4,1763.4 862.9,1762.8 867.4,1762.0 871.9,1760.9 876.4,1759.9 880.9,1758.8 885.5,1758.3 890.0,1757.8 894.5,1757.5 899.0,1757.0 903.5,1756.3 908.0,1755.4 912.5,1754.2 917.1,1753.0 921.6,1752.1 926.1,1751.3 930.6,1750.2 935.1,1748.7 939.6,1747.2 944.1,1745.9 948.7,1745.0 953.2,1744.4 957.7,1744.0 962.2,1743.4 966.7,1742.5 971.2,1741.2 975.7,1739.9 980.2,1738.6 984.8,1737.7 989.3,1736.8 993.8,1735.8 998.3,1734.3 1002.8,1733.1 1007.3,1732.0 1011.8,1731.2 1016.4,1730.7 1020.9,1730.2 1025.4,1729.8 1029.9,1729.1 1034.4,1728.4 1038.9,1727.7 1043.4,1727.2 1047.9,1727.0 1052.5,1726.7 1057.0,1726.3 1061.5,1725.8 1066.0,1724.4 1070.5,1722.8 1075.0,1721.1 1079.5,1719.9 1084.1,1718.7 1088.6,1717.5 1093.1,1715.7 1097.6,1714.0 1102.1,1712.0 1106.6,1711.0 1111.1,1709.7 1115.6,1709.0 1120.2,1707.9 1124.7,1706.6 1129.2,1704.7 1133.7,1703.0 1138.2,1701.7 1142.7,1700.8 1147.2,1699.9 1151.8,1698.7 1156.3,1696.8 1160.8,1694.5 1165.3,1692.1 1169.8,1690.1 1174.3,1688.8 1178.8,1688.0 1183.4,1686.6 1187.9,1684.5 1192.4,1682.5 1196.9,1680.5 1201.4,1678.9 1205.9,1677.6 1210.4,1676.4 1214.9,1675.0 1219.5,1672.0 1224.0,1668.5 1228.5,1664.0 1233.0,1660.4 1237.5,1657.3 1242.0,1654.2 1246.5,1651.4 1251.1,1646.5 1255.6,1639.7 1260.1,1633.8 1264.6,1627.8 1269.1,1623.8 1273.6,1620.2 1278.1,1616.3 1282.6,1611.9 1287.2,1605.2 1291.7,1596.3 1296.2,1589.3 1300.7,1583.6 1305.2,1580.2 1309.7,1575.2 1314.2,1569.8 1318.8,1559.9 1323.3,1550.4 1327.8,1539.2 1332.3,1530.6 1336.8,1524.6 1341.3,1514.9 1345.8,1500.5 1350.3,1485.2 1354.9,1471.7 1359.4,1455.0 1363.9,1437.7 1368.4,1425.2 1372.9,1416.1 1377.4,1404.8 1381.9,1392.2 1386.5,1383.0 1391.0,1374.9 1395.5,1365.3 1400.0,1359.1 1404.5,1354.3 1409.0,1347.3 1413.5,1343.0 1418.1,1338.3 1422.6,1322.2 1427.1,1315.3 1431.6,1309.3 1436.1,1301.8 1440.6,1285.3 1445.1,1273.7 1449.6,1270.5 1454.2,1260.2 1458.7,1251.8 1463.2,1243.3 1467.7,1231.3 1472.2,1219.7 1476.7,1208.4 1481.2,1196.9 1485.8,1187.5 1490.3,1179.2 1494.8,1169.8 1499.3,1163.4 1503.8,1129.6 1508.3,1102.5 1512.8,1091.6 1517.3,1084.5 1521.9,1080.4 1524.8,1076.9 1531.2,1049.9 1535.4,1043.6 1539.9,1027.2 1544.4,1015.7 1548.9,1007.5 1553.5,1000.9 1558.0,996.1 1562.5,986.2 1567.0,971.3 1571.5,957.3 1576.0,950.3 1580.5,945.7 1585.0,943.4 1589.6,941.0 1594.1,929.7 1598.6,916.7 1603.1,907.6 1607.6,896.3 1612.1,889.1 1616.6,883.8 1621.2,879.9 1625.7,873.1 1630.2,867.0 1634.7,864.2 1639.2,861.9 1643.7,861.1 1648.2,860.5 1652.8,860.1 1657.3,853.5 1661.8,847.2 1666.3,840.5 1670.8,837.0 1675.3,834.7 1679.8,832.9 1684.3,829.8 1688.9,826.2 1693.4,821.8 1697.9,815.5 1702.4,810.0 1706.9,805.3 1711.4,802.8 1715.9,800.8 1720.5,797.6 1725.0,794.2 1729.5,791.5 1734.0,789.8 1738.5,788.8 1743.0,787.2 1747.5,786.0 1752.0,783.6 1756.6,781.0 1761.1,777.5 1765.6,775.0 1770.1,772.7 1774.6,771.4 1779.1,770.2 1783.6,768.3 1788.2,766.3 1792.7,764.1 1797.2,762.9 1801.7,762.0 1806.2,761.3 1810.7,760.3 1815.2,758.4 1819.7,756.4 1824.3,753.7 1828.8,751.1 1833.3,749.0 1837.8,747.7 1842.3,746.5 1846.8,745.5 1851.3,744.3 1855.9,742.9 1860.4,741.6 1864.9,739.6 1869.4,738.2 1873.9,736.8 1878.4,735.0 1882.9,732.3 1887.5,729.9 1892.0,728.4 1896.5,727.0 1901.0,725.2 1905.5,723.9 1910.0,721.7 1914.5,718.6 1919.0,715.8 1923.6,712.9 1928.1,710.5 1932.6,709.1 1937.1,706.8 1941.6,703.8 1946.1,700.0 1950.6,697.1 1955.2,695.5 1959.7,694.7 1964.2,692.9 1968.7,691.4 1973.2,688.9 1977.7,685.6 1982.2,681.9 1986.7,678.3 1991.3,675.7 1995.8,673.9 2000.3,672.4 2004.8,671.0 2009.3,668.0 2013.8,664.9 2018.3,662.3 2022.9,659.7 2027.4,658.2 2031.9,656.9 2036.4,655.1 2040.9,653.0 2045.4,649.9 2049.9,648.1 2052.1,647.3" stroke="#9ac97b"/>
<path d="M59.5,2202.8 64.0,2202.8 68.5,2202.8 73.0,2202.8 77.6,2202.8 82.1,2202.8 86.6,2202.8 91.1,2202.8 95.6,2202.8 100.1,2202.8 104.6,2202.8 109.1,2202.8 113.7,2202.8 118.2,2202.8 122.7,2202.8 127.2,2202.8 131.7,2202.8 136.2,2202.8 140.7,2202.8 145.3,2202.8 149.8,2202.8 154.3,2202.8 158.8,2202.7 163.3,2202.7 167.8,2202.5 172.3,2202.3 176.8,2201.9 181.4,2201.4 185.9,2201.0 190.4,2200.7 194.9,2200.5 199.4,2200.1 203.9,2199.7 208.4,2199.1 213.0,2198.4 217.5,2197.6 222.0,2197.2 226.5,2196.7 231.0,2196.2 235.5,2195.4 240.0,2194.2 244.6,2193.3 249.1,2192.4 253.6,2191.8 258.1,2191.4 262.6,2190.9 267.1,2190.2 271.6,2189.4 276.1,2188.5 280.7,2187.8 285.2,2187.4 289.7,2187.0 294.2,2186.4 298.7,2185.7 303.2,2185.0 307.7,2184.1 312.3,2183.4 316.8,2183.0 321.3,2182.6 325.8,2182.2 330.3,2181.6 334.8,2180.9 339.3,2180.3 343.8,2179.8 348.4,2179.4 352.9,2179.1 357.4,2178.7 361.9,2178.3 366.4,2177.7 370.9,2177.1 375.4,2176.7 380.0,2176.3 384.5,2176.1 389.0,2175.8 393.5,2175.4 398.0,2175.0 402.5,2174.6 407.0,2174.2 411.5,2174.0 416.1,2173.8 420.6,2173.5 425.1,2173.2 429.6,2172.9 434.1,2172.5 438.6,2172.2 443.1,2172.0 447.7,2171.8 452.2,2171.6 456.7,2171.4 461.2,2171.1 465.7,2170.8 470.2,2170.6 474.7,2170.4 479.3,2170.3 483.8,2170.1 488.3,2169.9 492.8,2169.7 497.3,2169.5 501.8,2169.3 506.3,2169.2 510.8,2169.1 515.4,2169.0 519.9,2168.8 524.4,2168.6 528.9,2168.4 533.4,2168.3 537.9,2168.2 542.4,2168.1 547.0,2168.1 551.5,2167.9 556.0,2167.8 560.5,2167.7 565.0,2167.6 569.5,2167.6 574.0,2167.5 578.5,2167.5 583.1,2167.4 587.6,2167.3 592.1,2167.2 596.6,2167.1 601.1,2167.0 605.6,2166.9 610.1,2166.8 614.7,2166.6 619.2,2166.4 623.7,2166.1 628.2,2165.9 632.7,2165.7 637.2,2165.5 641.7,2165.3 646.2,2164.9 650.8,2164.4 655.3,2163.7 659.8,2162.8 664.3,2162.1 668.8,2161.4 673.3,2160.6 677.8,2159.4 682.4,2158.1 686.9,2156.8 691.4,2155.8 695.9,2155.1 700.4,2154.7 704.9,2154.1 709.4,2153.4 714.0,2152.4 718.5,2151.5 723.0,2150.4 727.5,2149.7 732.0,2148.7 736.5,2147.0 741.0,2144.4 745.5,2141.6 750.1,2138.4 754.6,2136.6 759.1,2135.2 763.6,2133.7 768.1,2132.5 772.6,2130.6 777.1,2128.6 781.7,2126.7 786.2,2125.5 790.7,2124.4 795.2,2123.2 799.7,2122.0 804.2,2119.9 808.7,2117.6 813.2,2115.3 817.8,2113.2 822.3,2111.7 826.8,2110.4 831.3,2108.9 835.8,2107.0 840.3,2104.5 844.8,2102.4 849.4,2100.4 853.9,2099.0 858.4,2098.2 862.9,2097.2 867.4,2095.8 871.9,2094.1 876.4,2092.2 880.9,2090.8 885.5,2089.6 890.0,2088.9 894.5,2087.9 899.0,2086.4 903.5,2084.5 908.0,2082.9 912.5,2081.3 917.1,2080.0 921.6,2078.9 926.1,2077.4 930.6,2075.6 935.1,2073.2 939.6,2070.7 944.1,2068.6 948.7,2067.4 953.2,2066.1 957.7,2064.6 962.2,2063.3 966.7,2061.6 971.2,2059.9 975.7,2058.5 980.2,2057.3 984.8,2056.4 989.3,2055.3 993.8,2053.9 998.3,2052.2 1002.8,2050.4 1007.3,2049.1 1011.8,2047.9 1016.4,2047.1 1020.9,2046.0 1025.4,2044.7 1029.9,2043.0 1034.4,2041.1 1038.9,2039.9 1043.4,2039.3 1047.9,2038.7 1052.5,2038.0 1057.0,2036.8 1061.5,2035.0 1066.0,2033.2 1070.5,2032.0 1075.0,2031.5 1079.5,2031.0 1084.1,2030.5 1088.6,2029.8 1093.1,2028.1 1097.6,2025.8 1102.1,2024.4 1106.6,2023.4 1111.1,2022.8 1115.6,2021.9 1120.2,2021.0 1124.7,2019.4 1129.2,2018.2 1133.7,2016.8 1138.2,2015.6 1142.7,2014.6 1147.2,2013.4 1151.8,2011.9 1156.3,2010.0 1160.8,2008.2 1165.3,2007.0 1169.8,2005.7 1174.3,2005.1 1178.8,2004.0 1183.4,2002.5 1187.9,2000.6 1192.4,1998.7 1196.9,1996.6 1201.4,1995.1 1205.9,1993.8 1210.4,1992.2 1214.9,1990.2 1219.5,1988.0 1224.0,1985.9 1228.5,1983.3 1233.0,1981.4 1237.5,1979.6 1242.0,1977.3 1246.5,1974.7 1251.1,1969.8 1255.6,1964.9 1260.1,1962.4 1264.6,1959.9 1269.1,1958.2 1273.6,1955.8 1278.1,1953.2 1282.6,1950.4 1287.2,1947.6 1291.7,1945.0 1296.2,1942.8 1300.7,1940.8 1305.2,1938.5 1309.7,1935.3 1314.2,1930.9 1318.8,1927.6 1323.3,1925.0 1327.8,1923.4 1332.3,1921.5 1336.8,1920.2 1341.3,1915.1 1345.8,1909.9 1350.3,1905.9 1354.9,1902.6 1359.4,1900.5 1363.9,1898.6 1368.4,1896.7 1372.9,1892.8 1377.4,1888.3 1381.9,1884.6 1386.5,1882.0 1391.0,1879.2 1395.5,1877.6 1400.0,1875.2 1404.5,1872.2 1409.0,1868.1 1413.5,1867.1 1418.1,1863.0 1422.6,1860.6 1427.1,1857.9 1431.6,1855.0 1436.1,1851.0 1440.6,1846.1 1445.1,1842.2 1449.6,1838.7 1454.2,1836.4 1458.7,1834.7 1463.2,1832.3 1467.7,1829.3 1472.2,1825.7 1476.7,1821.4 1481.2,1818.5 1485.8,1816.2 1490.3,1814.4 1494.8,1812.3 1499.3,1809.8 1503.8,1805.7 1508.3,1802.4 1512.8,1800.0 1517.3,1798.4 1521.9,1796.6 1526.4,1795.2 1530.9,1792.9 1535.4,1790.3 1539.9,1787.3 1544.4,1785.0 1548.9,1783.4 1553.5,1782.2 1558.0,1780.4 1562.5,1777.8 1567.0,1775.0 1571.5,1772.4 1576.0,1770.1 1580.5,1768.9 1585.0,1767.7 1589.6,1766.3 1594.1,1764.4 1598.6,1762.5 1603.1,1760.6 1607.6,1759.2 1612.1,1758.3 1616.6,1757.5 1621.2,1756.7 1625.7,1755.5 1630.2,1754.2 1634.7,1752.8 1639.2,1751.7 1643.7,1750.7 1648.2,1750.2 1652.8,1749.1 1657.3,1748.0 1661.8,1746.5 1666.3,1744.8 1670.8,1738.6 1675.3,1737.5 1679.8,1736.6 1684.3,1734.7 1688.9,1731.6 1693.4,1727.9 1697.9,1725.5 1702.4,1724.5 1706.9,1723.9 1711.4,1723.4 1715.9,1722.8 1720.5,1721.7 1725.0,1720.6 1729.5,1719.6 1734.0,1718.6 1738.5,1718.1 1743.0,1717.5 1747.5,1717.0 1752.0,1716.3 1756.6,1715.4 1761.1,1714.6 1765.6,1714.2 1770.1,1714.0 1774.6,1713.7 1779.1,1713.4 1783.6,1713.1 1788.2,1712.0 1792.7,1710.9 1797.2,1710.1 1801.7,1709.8 1806.2,1709.7 1810.7,1709.5 1815.2,1708.9 1819.7,1708.1 1824.3,1707.3 1828.8,1706.9 1833.3,1706.8 1837.8,1706.6 1842.3,1706.5 1846.8,1705.9 1851.3,1704.7 1855.9,1703.3 1860.4,1702.2 1864.9,1701.5 1869.4,1701.1 1873.9,1700.6 1878.4,1699.9 1882.9,1699.0 1887.5,1697.5 1892.0,1696.3 1896.5,1695.2 1901.0,1694.5 1905.5,1693.1 1910.0,1690.7 1914.5,1688.8 1919.0,1687.0 1923.6,1685.4 1928.1,1683.9 1932.6,1683.1 1937.1,1681.5 1941.6,1677.9 1946.1,1673.7 1950.6,1671.1 1955.2,1670.3 1959.7,1670.3 1964.2,1669.1 1968.7,1666.4 1973.2,1662.9 1977.7,1660.9 1982.2,1658.6 1986.7,1656.7 1991.3,1654.8 1995.8,1653.8 2000.3,1652.2 2004.8,1650.1 2009.3,1647.5 2013.8,1644.7 2018.3,1642.8 2022.9,1641.3 2027.4,1639.8 2031.9,1638.4 2036.4,1636.4 2040.9,1633.7 2045.4,1632.0 2049.9,1631.0 2052.1,1630.5" stroke="#2c4f8c"/>
<path d="M59.5,2202.8 64.0,2202.8 68.5,2202.8 73.0,2202.8 77.6,2202.8 82.1,2202.8 86.6,2202.8 91.1,2202.8 95.6,2202.8 100.1,2202.8 104.6,2202.8 109.1,2202.8 113.7,2202.8 118.2,2202.8 122.7,2202.8 127.2,2202.8 131.7,2202.8 136.2,2202.8 140.7,2202.8 145.3,2202.8 149.8,2202.8 154.3,2202.6 158.8,2202.4 163.3,2202.2 167.8,2202.0 172.3,2201.7 176.8,2201.5 181.4,2201.1 185.9,2200.6 190.4,2199.9 194.9,2198.7 199.4,2197.7 203.9,2196.6 208.4,2195.4 213.0,2193.3 217.5,2190.7 222.0,2187.9 226.5,2182.4 231.0,2178.0 235.5,2173.9 240.0,2168.7 244.6,2163.8 249.1,2162.2 253.6,2162.2 258.1,2157.7 262.6,2157.7 267.1,2155.1 268.3,2157.7 273.1,2120.9 276.1,2116.2 280.7,2107.4 285.2,2095.9 289.7,2086.2 294.2,2075.3 298.7,2068.1 303.2,2063.0 307.7,2058.3 312.3,2052.8 316.8,2045.8 321.3,2040.1 325.8,2033.8 329.6,2029.3 331.2,1983.5 332.8,1954.2 334.8,1953.1 339.3,1951.6 343.8,1946.5 348.4,1945.2 352.9,1945.2 357.4,1945.2 361.9,1939.8 366.4,1934.1 370.9,1921.9 375.4,1921.9 380.0,1921.9 384.5,1921.9 389.0,1921.9 393.5,1921.9 398.8,1921.9 405.1,1828.0 407.0,1828.0 411.5,1828.0 416.1,1828.0 420.6,1828.0 425.1,1815.5 429.6,1800.8 434.1,1786.0 438.6,1779.5 443.1,1778.8 447.7,1768.3 452.2,1754.3 456.7,1744.9 461.2,1736.2 465.7,1726.8 470.2,1714.9 474.7,1699.8 479.3,1678.3 483.8,1660.0 488.3,1644.0 492.8,1633.4 497.3,1624.8 501.8,1614.7 506.3,1608.1 510.8,1606.4 515.4,1606.4 519.9,1606.4 524.4,1606.4 528.9,1605.6 533.4,1598.6 537.9,1598.2 542.4,1598.2 547.0,1598.2 551.5,1596.4 556.0,1592.6 560.5,1588.4 565.0,1581.6 569.5,1580.9 574.0,1580.9 578.5,1578.4 583.1,1574.6 587.6,1572.0 592.1,1569.6 596.6,1569.6 601.1,1567.2 605.6,1552.3 610.1,1546.8 614.7,1543.0 619.2,1539.5 623.7,1537.1 628.2,1532.8 632.7,1531.3 637.2,1531.3 641.7,1531.3 646.2,1531.3 650.8,1531.3 655.3,1530.9 659.8,1526.4 664.3,1525.5 668.8,1524.8 673.3,1524.4 677.8,1524.2 682.4,1524.0 686.9,1523.8 691.4,1523.4 695.9,1522.4 700.4,1521.2 704.9,1519.7 709.4,1518.4 714.0,1517.4 718.5,1516.6 723.0,1515.9 727.5,1515.3 732.0,1514.9 736.5,1514.5 741.0,1514.1 745.5,1511.1 750.1,1507.1 754.6,1505.0 759.1,1505.0 763.6,1505.0 768.1,1505.0 772.6,1505.0 777.1,1505.0 781.7,1504.3 786.2,1502.2 790.7,1502.0 795.2,1502.0 799.7,1502.0 804.2,1502.0 808.7,1502.0 813.2,1500.8 817.8,1499.8 822.3,1499.8 826.8,1499.8 831.3,1499.8 835.8,1499.8 840.3,1498.6 844.8,1495.3 849.4,1493.0 853.9,1493.0 858.4,1492.1 862.9,1490.8 867.4,1489.2 871.9,1488.1 876.4,1487.0 880.9,1487.0 885.5,1480.0 890.0,1472.7 894.5,1472.7 899.0,1472.7 903.5,1472.7 908.0,1472.0 912.5,1470.5 917.1,1470.5 921.6,1470.5 926.1,1470.5 930.6,1470.4 935.1,1470.2 939.6,1470.1 944.1,1469.9 948.7,1468.9 953.2,1466.2 957.7,1463.7 962.2,1460.7 966.7,1459.1 971.2,1458.9 975.7,1458.7 980.2,1454.6 984.8,1449.9 989.3,1446.8 993.8,1445.3 998.3,1444.9 1002.8,1444.9 1007.3,1444.9 1011.8,1444.9 1016.4,1443.0 1020.9,1441.5 1025.4,1439.5 1029.9,1438.3 1034.4,1437.4 1038.9,1437.4 1043.4,1436.9 1047.9,1434.3 1052.5,1432.6 1057.0,1431.8 1061.5,1431.2 1066.0,1430.7 1070.5,1430.4 1075.0,1430.0 1079.5,1425.3 1084.1,1419.6 1088.6,1417.5 1093.1,1416.4 1097.6,1415.6 1102.1,1415.6 1106.6,1412.9 1111.1,1407.5 1115.6,1403.5 1120.2,1401.1 1124.7,1399.0 1129.2,1396.9 1133.7,1396.9 1138.2,1394.9 1142.7,1389.9 1147.2,1385.9 1151.8,1384.0 1156.3,1383.0 1160.8,1381.9 1165.3,1380.4 1169.8,1378.5 1174.3,1375.4 1178.8,1372.4 1183.4,1369.9 1187.9,1368.1 1192.4,1365.9 1196.9,1363.4 1201.4,1360.4 1205.9,1357.3 1210.4,1354.3 1214.9,1351.8 1219.5,1349.7 1224.0,1347.5 1228.5,1344.1 1233.0,1339.0 1237.5,1333.5 1242.0,1327.3 1246.5,1323.0 1251.1,1319.7 1255.6,1316.2 1260.1,1311.1 1264.6,1305.0 1269.1,1299.2 1273.6,1292.9 1278.1,1288.7 1282.6,1285.3 1287.2,1282.3 1291.7,1281.2 1296.2,1276.3 1300.7,1261.2 1305.2,1251.1 1309.7,1245.2 1314.2,1239.7 1318.8,1235.3 1323.3,1235.0 1327.8,1232.3 1332.3,1203.1 1336.8,1187.0 1341.3,1179.5 1345.8,1174.7 1350.3,1170.2 1354.9,1169.3 1357.7,1169.3 1361.5,1140.7 1363.9,1130.1 1368.4,1111.6 1372.9,1103.5 1377.4,1096.7 1381.9,1091.0 1386.5,1088.9 1391.0,1088.9 1395.5,1057.7 1400.0,1043.1 1404.5,1035.6 1409.0,1035.6 1413.5,1035.6 1418.1,1035.6 1420.9,1035.6 1426.9,1011.6 1431.6,994.3 1436.1,986.7 1440.6,986.5 1445.1,986.3 1449.6,986.1 1453.4,974.8 1455.6,933.4 1458.7,919.7 1463.2,912.6 1467.7,906.6 1472.2,896.5 1476.7,891.6 1482.2,886.9 1488.2,864.3 1490.3,856.6 1494.8,842.2 1499.3,834.4 1503.8,827.6 1508.3,821.4 1512.8,820.7 1517.3,819.7 1521.9,801.9 1526.4,794.2 1530.9,786.4 1535.4,782.4 1539.9,782.0 1544.4,781.3 1548.9,764.3 1553.5,750.1 1558.0,741.2 1562.5,736.1 1567.0,731.0 1571.5,728.4 1576.0,728.4 1580.5,724.3 1585.0,713.3 1589.6,704.3 1594.1,695.2 1598.6,690.1 1603.1,690.1 1607.6,690.1 1612.1,677.9 1616.6,666.0 1621.2,653.4 1625.7,645.0 1630.2,637.4 1634.7,634.5 1639.2,634.5 1641.1,634.5 1645.2,603.7 1648.2,599.1 1652.8,591.6 1657.3,584.4 1661.8,578.4 1666.3,575.2 1671.8,575.2 1675.9,530.9 1678.1,506.1 1679.8,504.8 1684.3,501.3 1688.9,498.2 1693.4,494.5 1697.9,491.6 1702.4,490.8 1706.9,484.0 1711.4,474.9 1715.9,469.1 1720.5,464.0 1725.0,463.5 1729.5,463.1 1734.0,462.6 1738.5,458.4 1743.0,454.1 1747.5,450.3 1752.0,448.1 1756.6,446.3 1761.1,445.2 1765.6,445.2 1770.1,443.3 1774.6,437.8 1779.1,432.2 1783.6,427.4 1788.2,426.2 1792.7,425.8 1797.2,425.3 1801.7,423.3 1806.2,419.5 1810.7,418.6 1815.2,418.1 1819.7,417.8 1824.3,417.5 1828.8,416.4 1833.3,414.4 1837.8,410.9 1842.3,407.5 1846.8,405.6 1851.3,404.0 1855.9,403.2 1860.4,402.7 1864.9,402.0 1869.4,401.1 1873.9,399.7 1878.4,398.8 1882.9,397.8 1887.5,397.1 1892.0,396.7 1896.5,396.2 1901.0,395.7 1905.5,393.0 1910.0,391.1 1914.5,391.1 1919.0,391.1 1923.6,391.1 1928.1,389.7 1932.6,387.4 1937.1,385.0 1941.6,383.4 1946.1,382.2 1950.6,380.9 1955.2,380.1 1959.7,379.2 1964.2,378.1 1968.7,377.2 1973.2,376.5 1977.7,375.7 1982.2,374.9 1986.7,373.9 1991.3,372.0 1995.8,370.2 2000.3,368.1 2004.8,366.5 2009.3,365.1 2013.8,364.2 2018.3,362.5 2022.9,360.4 2027.4,358.0 2031.9,355.9 2036.4,355.0 2040.9,354.9 2045.4,354.7 2049.9,354.4 2052.1,354.3" stroke="#b85410"/>
<path d="M59.5,2202.8 64.0,2202.8 68.5,2202.8 73.0,2202.8 77.6,2202.8 82.1,2202.8 86.6,2202.8 91.1,2202.8 95.6,2202.8 100.1,2202.8 104.6,2202.8 109.1,2202.8 113.7,2202.8 118.2,2202.8 122.7,2202.8 127.2,2202.8 131.7,2202.8 136.2,2202.8 140.7,2202.7 145.3,2202.7 149.8,2202.6 154.3,2202.5 158.8,2202.4 163.3,2202.2 167.8,2201.8 172.3,2201.5 176.8,2201.2 181.4,2201.0 185.9,2200.8 190.4,2200.6 194.9,2200.2 199.4,2199.7 203.9,2199.0 208.4,2198.4 213.0,2198.0 217.5,2197.7 222.0,2196.9 226.5,2195.8 231.0,2194.4 235.5,2193.0 240.0,2191.9 244.6,2191.2 249.1,2190.6 253.6,2189.7 258.1,2188.3 262.6,2186.6 267.1,2185.0 271.6,2183.8 276.1,2183.2 280.7,2182.5 285.2,2181.2 289.7,2179.4 294.2,2177.4 298.7,2175.6 303.2,2174.1 307.7,2173.4 312.3,2172.4 316.8,2171.1 321.3,2169.6 325.8,2167.6 330.3,2165.9 334.8,2164.6 339.3,2163.8 343.8,2163.1 348.4,2162.0 352.9,2160.5 357.4,2158.9 361.9,2157.3 366.4,2156.2 370.9,2155.5 375.4,2154.7 380.0,2153.8 384.5,2152.4 389.0,2150.6 393.5,2149.2 398.0,2148.1 402.5,2147.5 407.0,2146.8 411.5,2145.8 416.1,2144.4 420.6,2142.7 425.1,2141.2 429.6,2140.3 434.1,2139.5 438.6,2138.9 443.1,2137.9 447.7,2136.5 452.2,2135.0 456.7,2133.4 461.2,2132.4 465.7,2131.8 470.2,2131.2 474.7,2130.3 479.3,2128.8 483.8,2127.3 488.3,2126.0 492.8,2125.0 497.3,2124.3 501.8,2123.8 506.3,2122.9 510.8,2121.6 515.4,2120.1 519.9,2118.7 524.4,2117.6 528.9,2116.8 533.4,2116.2 537.9,2115.1 542.4,2113.7 547.0,2112.0 551.5,2110.2 556.0,2109.1 560.5,2108.4 565.0,2107.7 569.5,2106.6 574.0,2104.8 578.5,2102.7 583.1,2100.8 587.6,2099.6 592.1,2098.6 596.6,2097.5 601.1,2095.9 605.6,2093.6 610.1,2090.6 614.7,2087.4 619.2,2083.7 623.7,2081.7 628.2,2080.0 632.7,2076.2 637.2,2072.1 641.7,2067.5 646.2,2064.9 650.8,2064.1 655.3,2063.6 659.8,2063.1 664.3,2062.3 668.8,2058.8 673.3,2053.9 677.8,2048.3 682.4,2042.3 686.9,2037.8 691.4,2036.3 695.9,2034.3 700.4,2024.1 704.9,2009.7 709.4,2001.6 714.0,1991.7 718.5,1988.8 723.0,1987.2 727.5,1985.3 732.0,1971.6 736.5,1962.7 741.0,1954.1 745.5,1945.8 750.1,1941.9 754.6,1939.4 759.1,1935.8 763.6,1930.2 768.1,1921.8 772.6,1915.2 777.1,1911.3 781.7,1909.1 786.2,1907.3 790.7,1904.6 795.2,1899.5 799.7,1888.8 804.2,1882.7 808.7,1876.4 813.2,1870.6 817.8,1869.0 822.3,1867.0 826.8,1862.3 831.3,1852.8 835.8,1845.1 840.3,1840.1 844.8,1838.3 849.4,1837.7 853.9,1836.9 858.4,1834.2 862.9,1830.5 867.4,1820.6 871.9,1812.7 876.4,1807.8 880.9,1803.9 885.5,1800.0 890.0,1795.2 894.5,1790.4 899.0,1786.1 903.5,1783.8 908.0,1781.5 912.5,1779.8 917.1,1776.5 921.6,1772.8 926.1,1768.3 930.6,1764.3 935.1,1761.1 939.6,1758.9 944.1,1757.3 948.7,1754.4 953.2,1750.0 957.7,1744.4 962.2,1739.1 966.7,1736.2 971.2,1733.9 975.7,1732.4 980.2,1729.3 984.8,1725.5 989.3,1721.9 993.8,1718.4 998.3,1716.1 1002.8,1714.1 1007.3,1712.6 1011.8,1710.9 1016.4,1707.7 1020.9,1704.7 1025.4,1702.0 1029.9,1700.1 1034.4,1698.8 1038.9,1697.4 1043.4,1695.1 1047.9,1691.6 1052.5,1688.1 1057.0,1684.9 1061.5,1682.7 1066.0,1681.7 1070.5,1680.3 1075.0,1678.7 1079.5,1676.1 1084.1,1673.0 1088.6,1670.3 1093.1,1668.2 1097.6,1666.8 1102.1,1665.5 1106.6,1663.4 1111.1,1660.6 1115.6,1653.8 1120.2,1648.8 1124.7,1646.5 1129.2,1645.0 1133.7,1643.6 1138.2,1641.5 1142.7,1638.0 1147.2,1633.7 1151.8,1631.0 1156.3,1628.8 1160.8,1627.6 1165.3,1626.9 1169.8,1625.6 1174.3,1623.2 1178.8,1619.8 1183.4,1617.3 1187.9,1615.6 1192.4,1614.7 1196.9,1613.6 1201.4,1611.6 1205.9,1608.2 1210.4,1604.3 1214.9,1601.1 1219.5,1599.5 1224.0,1599.0 1228.5,1598.5 1233.0,1596.1 1237.5,1591.9 1242.0,1588.2 1246.5,1583.2 1251.1,1580.7 1255.6,1579.0 1260.1,1577.5 1264.6,1576.4 1269.1,1575.2 1273.6,1571.0 1278.1,1568.1 1282.6,1565.0 1287.2,1563.5 1291.7,1563.2 1296.2,1561.3 1300.7,1555.6 1305.2,1549.7 1309.7,1545.4 1314.2,1540.9 1318.8,1538.2 1323.3,1536.7 1327.8,1534.0 1332.3,1531.2 1336.8,1527.2 1341.3,1523.7 1345.8,1519.9 1350.3,1517.2 1354.9,1514.0 1359.4,1508.9 1363.9,1501.7 1368.4,1494.8 1372.9,1489.2 1377.4,1484.9 1381.9,1482.5 1386.5,1480.2 1391.0,1476.7 1395.5,1471.1 1400.0,1465.3 1404.5,1459.8 1409.0,1456.5 1413.5,1453.5 1418.1,1451.0 1422.6,1446.0 1427.1,1440.1 1431.6,1433.0 1436.1,1426.5 1440.6,1425.5 1445.1,1416.6 1449.6,1410.6 1454.2,1402.1 1458.7,1399.3 1463.2,1389.3 1467.7,1372.8 1472.2,1363.9 1476.7,1360.1 1481.2,1354.5 1485.8,1349.7 1490.3,1347.0 1494.8,1337.5 1499.3,1328.8 1503.8,1321.4 1508.3,1314.8 1512.8,1307.3 1517.3,1297.3 1521.9,1284.2 1526.4,1271.7 1530.9,1265.0 1535.4,1260.3 1539.9,1254.7 1544.4,1249.7 1548.9,1244.2 1553.5,1235.9 1558.0,1220.8 1562.5,1200.4 1567.0,1186.3 1571.5,1179.7 1576.0,1174.1 1580.5,1165.6 1585.0,1156.3 1589.6,1146.7 1594.1,1137.1 1598.5,1134.0 1602.6,1106.9 1607.6,1096.4 1612.1,1086.4 1616.6,1075.4 1621.2,1069.2 1625.7,1058.3 1630.2,1050.5 1634.7,1047.3 1639.2,1043.2 1643.7,1037.5 1648.2,1025.2 1652.8,1018.8 1657.3,1006.2 1661.8,1001.5 1666.3,999.6 1670.8,993.9 1675.3,980.3 1679.8,978.9 1684.3,969.1 1688.9,962.6 1693.4,958.3 1697.9,955.4 1702.4,952.6 1706.9,949.4 1711.4,944.7 1715.9,938.8 1720.5,931.3 1725.0,925.2 1729.5,922.8 1734.0,920.3 1738.5,917.5 1743.0,916.5 1747.5,911.8 1752.0,907.1 1756.6,903.9 1761.1,901.7 1765.6,901.0 1770.1,900.5 1774.6,900.0 1779.1,893.7 1783.6,889.5 1788.2,887.4 1792.7,885.2 1797.2,883.4 1801.7,881.2 1806.2,877.6 1810.7,873.9 1815.2,870.4 1819.7,868.2 1824.3,867.0 1828.8,866.0 1833.3,864.6 1837.8,862.3 1842.3,860.1 1846.8,858.2 1851.3,856.7 1855.9,855.7 1860.4,854.9 1864.9,853.5 1869.4,852.7 1873.9,850.9 1878.4,847.3 1882.9,844.6 1887.5,843.4 1892.0,842.6 1896.5,840.7 1901.0,838.6 1905.5,836.5 1910.0,836.5 1914.5,836.5 1919.0,836.0 1923.6,834.8 1928.1,833.3 1932.6,831.4 1937.1,828.9 1941.6,826.2 1946.1,824.7 1950.6,823.6 1955.2,822.5 1959.7,821.0 1964.2,819.4 1968.7,816.9 1973.2,813.6 1977.7,811.8 1982.2,810.3 1986.7,809.0 1991.3,807.2 1995.8,804.6 2000.3,802.1 2004.8,799.8 2009.3,798.5 2013.8,797.6 2018.3,797.0 2022.9,795.8 2027.4,794.0 2031.9,792.4 2036.4,790.9 2040.9,789.9 2045.4,788.8 2049.9,787.6 2052.1,787.0" stroke="#747474"/>
<path d="M59.5,2202.8 64.0,2202.8 68.5,2202.8 73.0,2202.8 77.6,2202.8 82.1,2202.8 86.6,2202.8 91.1,2202.8 95.6,2202.8 100.1,2202.8 104.6,2202.8 109.1,2202.8 113.7,2202.8 118.2,2202.8 122.7,2202.8 127.2,2202.8 131.7,2202.8 136.2,2202.8 140.7,2202.7 145.3,2202.6 149.8,2202.5 154.3,2202.4 158.8,2202.3 163.3,2202.2 167.8,2202.0 172.3,2201.8 176.8,2201.5 181.4,2201.3 185.9,2201.2 190.4,2201.0 194.9,2200.9 199.4,2200.7 203.9,2200.5 208.4,2200.3 213.0,2200.1 217.5,2199.9 222.0,2199.7 226.5,2199.6 231.0,2199.4 235.5,2199.1 240.0,2198.8 244.6,2198.6 249.1,2198.3 253.6,2198.1 258.1,2197.9 262.6,2197.6 267.1,2197.2 271.6,2196.7 276.1,2196.3 280.7,2195.8 285.2,2195.5 289.7,2195.2 294.2,2194.7 298.7,2194.1 303.2,2193.4 307.7,2192.7 312.3,2192.0 316.8,2191.5 321.3,2190.9 325.8,2190.4 330.3,2189.4 334.8,2188.4 339.3,2187.2 343.8,2186.0 348.4,2184.6 352.9,2183.7 357.4,2181.9 361.9,2180.0 366.4,2177.5 370.9,2175.2 375.4,2173.4 380.0,2171.9 384.5,2170.8 389.0,2169.2 393.5,2167.4 398.0,2165.6 402.5,2164.3 407.0,2163.2 411.5,2162.6 416.1,2161.8 420.6,2160.7 425.1,2159.6 429.6,2158.6 434.1,2157.3 438.6,2156.6 443.1,2155.8 447.7,2155.2 452.2,2154.5 456.7,2153.5 461.2,2152.4 465.7,2151.3 470.2,2150.6 474.7,2150.0 479.3,2149.4 483.8,2148.5 488.3,2147.7 492.8,2146.6 497.3,2145.7 501.8,2144.9 506.3,2144.4 510.8,2143.7 515.4,2143.0 519.9,2142.2 524.4,2141.2 528.9,2140.2 533.4,2139.3 537.9,2138.8 542.4,2138.1 547.0,2137.2 551.5,2136.1 556.0,2134.8 560.5,2133.8 565.0,2132.8 569.5,2132.2 574.0,2131.5 578.5,2130.7 583.1,2129.5 587.6,2128.1 592.1,2127.0 596.6,2126.2 601.1,2125.6 605.6,2124.9 610.1,2124.1 614.7,2123.1 619.2,2122.0 623.7,2121.0 628.2,2120.2 632.7,2119.6 637.2,2119.0 641.7,2118.2 646.2,2117.4 650.8,2116.2 655.3,2115.1 659.8,2114.2 664.3,2113.3 668.8,2112.5 673.3,2111.7 677.8,2110.5 682.4,2109.1 686.9,2107.9 691.4,2107.1 695.9,2106.4 700.4,2105.6 704.9,2104.8 709.4,2103.7 714.0,2102.6 718.5,2101.5 723.0,2100.6 727.5,2100.1 732.0,2099.3 736.5,2098.3 741.0,2097.2 745.5,2095.6 750.1,2094.4 754.6,2093.5 759.1,2092.5 763.6,2091.8 768.1,2090.6 772.6,2089.6 777.1,2088.3 781.7,2087.2 786.2,2086.3 790.7,2085.6 795.2,2085.0 799.7,2084.2 804.2,2083.2 808.7,2081.9 813.2,2080.8 817.8,2080.0 822.3,2079.4 826.8,2078.6 831.3,2077.9 835.8,2076.9 840.3,2075.6 844.8,2074.6 849.4,2073.7 853.9,2073.0 858.4,2072.0 862.9,2071.1 867.4,2069.7 871.9,2068.2 876.4,2066.5 880.9,2065.5 885.5,2064.6 890.0,2063.7 894.5,2062.8 899.0,2061.6 903.5,2060.7 908.0,2059.8 912.5,2059.1 917.1,2058.5 921.6,2057.8 926.1,2056.7 930.6,2053.7 935.1,2050.2 939.6,2048.8 944.1,2047.5 948.7,2046.6 953.2,2045.5 957.7,2044.2 962.2,2041.3 966.7,2038.5 971.2,2036.1 975.7,2033.8 980.2,2031.5 984.8,2029.8 989.3,2027.2 993.8,2023.9 998.3,2021.2 1002.8,2018.7 1007.3,2017.2 1011.8,2015.7 1016.4,2014.4 1020.9,2012.9 1025.4,2011.0 1029.9,1999.2 1034.4,1995.7 1038.9,1994.1 1043.4,1993.0 1047.9,1992.0 1052.5,1988.2 1057.0,1972.6 1061.5,1963.1 1066.0,1961.6 1070.5,1960.5 1075.0,1959.4 1079.5,1958.5 1084.1,1957.2 1088.6,1949.5 1093.1,1941.7 1097.6,1936.4 1102.1,1932.0 1106.6,1929.2 1111.1,1925.1 1115.6,1918.9 1120.2,1903.1 1124.7,1893.8 1129.2,1888.2 1133.7,1886.7 1138.2,1886.0 1142.7,1885.4 1147.2,1879.4 1151.8,1863.6 1156.3,1845.7 1160.8,1836.3 1165.3,1832.9 1169.8,1831.5 1174.3,1829.5 1178.8,1824.8 1183.4,1815.0 1187.9,1799.9 1192.4,1782.4 1196.9,1768.0 1201.4,1756.3 1205.9,1743.5 1210.4,1730.4 1214.9,1721.7 1219.5,1720.7 1224.0,1690.3 1228.5,1661.6 1233.0,1657.7 1237.5,1657.1 1239.2,1656.8 1243.7,1633.5 1248.4,1609.4 1252.8,1572.6 1257.6,1541.8 1260.4,1508.0 1264.6,1507.7 1269.1,1507.5 1271.1,1507.3 1274.3,1482.5 1280.3,1480.2 1283.5,1451.7 1288.8,1407.4 1291.7,1406.3 1296.2,1405.5 1301.2,1404.4 1304.0,1367.6 1305.2,1366.5 1310.3,1336.8 1316.3,1300.0 1322.3,1275.2 1327.8,1263.8 1332.3,1262.5 1336.8,1254.2 1341.0,1214.4 1347.0,1183.6 1350.3,1167.4 1354.9,1156.5 1359.4,1144.6 1363.9,1136.0 1368.4,1123.6 1372.9,1109.5 1376.0,1105.4 1382.0,1076.9 1386.5,1059.4 1391.0,1050.7 1395.5,1033.3 1400.0,1032.8 1404.5,1006.4 1409.0,991.2 1413.5,982.3 1418.1,976.3 1422.6,976.3 1427.1,976.3 1431.6,974.5 1436.1,959.9 1440.6,940.3 1445.1,930.5 1449.6,921.6 1454.2,919.2 1458.7,919.2 1463.2,913.2 1467.7,897.6 1472.2,885.8 1476.7,876.1 1481.2,863.2 1485.8,859.8 1490.3,859.8 1494.8,852.8 1499.3,834.4 1503.8,823.0 1508.3,817.8 1512.5,815.5 1518.8,790.7 1521.9,790.4 1526.4,789.8 1530.9,788.9 1535.4,780.1 1539.9,767.7 1544.4,761.2 1548.9,756.8 1553.5,754.1 1557.7,750.2 1563.7,712.6 1567.0,706.7 1571.5,700.4 1576.0,699.3 1580.5,698.6 1585.0,698.0 1589.6,696.6 1594.1,694.4 1598.6,687.3 1603.1,679.6 1607.6,674.2 1612.1,671.4 1616.6,667.9 1621.2,663.7 1625.7,659.2 1630.2,652.1 1634.7,643.7 1639.2,639.6 1643.7,639.3 1648.2,639.0 1652.8,636.2 1657.3,634.1 1661.8,633.2 1666.3,628.4 1670.8,624.7 1675.3,624.7 1679.8,624.7 1684.3,622.1 1688.9,617.9 1693.4,613.7 1697.9,608.1 1702.4,604.2 1706.9,603.9 1711.4,603.4 1715.9,603.0 1720.5,598.7 1725.0,596.2 1729.5,594.6 1734.0,593.1 1738.5,591.8 1743.0,590.7 1747.5,589.3 1752.0,587.4 1756.6,585.7 1761.1,583.8 1765.6,582.6 1770.1,581.8 1774.6,580.9 1779.1,579.7 1783.6,578.4 1788.2,576.8 1792.7,575.4 1797.2,574.1 1801.7,572.6 1806.2,571.3 1810.7,569.9 1815.2,568.4 1819.7,567.1 1824.3,566.9 1828.8,566.9 1833.3,566.9 1837.8,566.6 1842.3,565.3 1846.8,563.7 1851.3,561.7 1855.9,560.9 1860.4,560.9 1864.9,560.9 1869.4,560.9 1873.9,560.9 1878.4,560.9 1882.9,556.5 1887.5,553.1 1892.0,551.6 1896.5,550.8 1901.0,549.9 1905.5,549.1 1910.0,548.5 1914.5,548.2 1919.0,548.1 1923.6,548.1 1928.1,548.1 1932.6,548.1 1937.1,547.6 1941.6,546.5 1946.1,545.3 1950.6,544.4 1955.2,543.5 1959.7,542.5 1964.2,541.7 1968.7,540.8 1973.2,539.3 1977.7,537.9 1982.2,536.6 1986.7,535.3 1991.3,534.1 1995.8,533.0 2000.3,531.6 2004.8,530.2 2009.3,528.0 2013.8,526.2 2018.3,524.2 2022.9,522.6 2027.4,521.1 2031.9,519.3 2036.4,517.5 2040.9,515.9 2045.4,515.1 2049.9,514.6 2052.1,514.3" stroke="#b28600"/>
<path d="M59.5,2202.8 64.0,2202.8 68.5,2202.8 73.0,2202.8 77.6,2202.8 82.1,2202.8 86.6,2202.8 91.1,2202.8 95.6,2202.8 100.1,2202.8 104.6,2202.8 109.1,2202.8 113.7,2202.8 118.2,2202.8 122.7,2202.8 127.2,2202.8 131.7,2202.8 136.2,2202.8 140.7,2202.8 145.3,2202.8 149.8,2202.8 154.3,2202.7 158.8,2202.5 163.3,2202.4 167.8,2202.3 172.3,2202.1 176.8,2201.7 181.4,2201.3 185.9,2200.8 190.4,2200.4 194.9,2200.1 199.4,2199.8 203.9,2199.4 208.4,2198.7 213.0,2197.7 217.5,2196.5 222.0,2195.5 226.5,2194.7 231.0,2194.2 235.5,2193.2 240.0,2192.2 244.6,2190.7 249.1,2189.6 253.6,2188.6 258.1,2188.2 262.6,2187.7 267.1,2187.4 271.6,2186.8 276.1,2186.1 280.7,2185.6 285.2,2185.2 289.7,2185.0 294.2,2184.7 298.7,2184.4 303.2,2184.0 307.7,2183.5 312.3,2183.0 316.8,2182.6 321.3,2182.3 325.8,2182.0 330.3,2181.6 334.8,2181.1 339.3,2180.4 343.8,2179.5 348.4,2178.8 352.9,2178.4 357.4,2177.8 361.9,2177.2 366.4,2176.4 370.9,2175.3 375.4,2174.3 380.0,2173.7 384.5,2173.2 389.0,2172.6 393.5,2172.1 398.0,2171.3 402.5,2170.6 407.0,2169.8 411.5,2169.3 416.1,2168.9 420.6,2168.6 425.1,2168.2 429.6,2167.6 434.1,2167.0 438.6,2166.3 443.1,2165.8 447.7,2165.4 452.2,2165.1 456.7,2164.7 461.2,2164.0 465.7,2163.3 470.2,2162.5 474.7,2161.7 479.3,2161.2 483.8,2160.8 488.3,2160.2 492.8,2159.1 497.3,2158.0 501.8,2156.9 506.3,2155.9 510.8,2155.2 515.4,2154.6 519.9,2153.9 524.4,2152.9 528.9,2151.7 533.4,2150.6 537.9,2149.7 542.4,2149.0 547.0,2148.5 551.5,2148.0 556.0,2147.0 560.5,2146.0 565.0,2145.0 569.5,2144.3 574.0,2143.6 578.5,2143.1 583.1,2142.5 587.6,2141.6 592.1,2140.4 596.6,2139.1 601.1,2138.1 605.6,2137.5 610.1,2136.8 614.7,2135.8 619.2,2134.2 623.7,2132.2 628.2,2130.2 632.7,2128.8 637.2,2127.5 641.7,2126.8 646.2,2125.4 650.8,2124.2 655.3,2122.6 659.8,2121.5 664.3,2120.7 668.8,2120.1 673.3,2119.6 677.8,2119.0 682.4,2117.9 686.9,2116.6 691.4,2115.1 695.9,2113.5 700.4,2112.4 704.9,2111.5 709.4,2109.8 714.0,2107.8 718.5,2105.1 723.0,2102.4 727.5,2100.1 732.0,2098.6 736.5,2097.2 741.0,2095.9 745.5,2093.1 750.1,2090.3 754.6,2087.3 759.1,2085.3 763.6,2083.3 768.1,2081.9 772.6,2079.6 777.1,2077.4 781.7,2073.9 786.2,2070.2 790.7,2067.4 795.2,2065.4 799.7,2064.1 804.2,2061.6 808.7,2058.3 813.2,2055.0 817.8,2050.7 822.3,2047.5 826.8,2045.0 831.3,2043.4 835.8,2040.4 840.3,2036.7 844.8,2032.5 849.4,2028.6 853.9,2025.0 858.4,2022.9 862.9,2021.0 867.4,2018.7 871.9,2015.2 876.4,2011.0 880.9,2007.4 885.5,2003.9 890.0,2001.8 894.5,2000.5 899.0,1997.8 903.5,1994.4 908.0,1990.4 912.5,1986.7 917.1,1983.9 921.6,1981.8 926.1,1979.9 930.6,1977.7 935.1,1974.3 939.6,1970.0 944.1,1966.6 948.7,1963.0 953.2,1961.0 957.7,1959.3 962.2,1956.8 966.7,1953.4 971.2,1950.1 975.7,1946.1 980.2,1943.2 984.8,1941.6 989.3,1939.8 993.8,1937.5 998.3,1934.5 1002.8,1931.5 1007.3,1928.3 1011.8,1925.9 1016.4,1924.3 1020.9,1923.1 1025.4,1921.4 1029.9,1919.9 1034.4,1917.5 1038.9,1915.5 1043.4,1913.7 1047.9,1912.2 1052.5,1910.8 1057.0,1908.8 1061.5,1905.3 1066.0,1900.5 1070.5,1895.7 1075.0,1892.5 1079.5,1889.8 1084.1,1887.2 1088.6,1884.2 1093.1,1880.0 1097.6,1875.0 1102.1,1871.3 1106.6,1868.4 1111.1,1866.2 1115.6,1864.5 1120.2,1862.4 1124.7,1859.5 1129.2,1856.3 1133.7,1853.4 1138.2,1850.8 1142.7,1848.5 1147.2,1847.1 1151.8,1845.1 1156.3,1841.8 1160.8,1837.7 1165.3,1833.9 1169.8,1830.1 1174.3,1827.1 1178.8,1824.5 1183.4,1821.3 1187.9,1817.0 1192.4,1811.1 1196.9,1805.1 1201.4,1800.2 1205.9,1796.8 1210.4,1793.8 1214.9,1789.8 1219.5,1784.8 1224.0,1779.0 1228.5,1772.6 1233.0,1768.3 1237.5,1765.6 1242.0,1762.4 1246.5,1759.1 1251.1,1754.6 1255.6,1749.1 1260.1,1743.2 1264.6,1739.0 1269.1,1735.3 1273.6,1732.6 1278.1,1729.0 1282.6,1723.6 1287.2,1717.0 1291.7,1709.8 1296.2,1703.8 1300.7,1698.9 1305.2,1695.1 1309.7,1689.7 1314.2,1682.8 1318.8,1672.5 1323.3,1662.6 1327.8,1652.8 1332.3,1647.1 1336.8,1642.5 1341.3,1635.3 1345.8,1625.0 1350.3,1612.6 1354.9,1601.4 1359.4,1592.5 1363.9,1587.4 1368.4,1581.2 1372.9,1574.9 1377.4,1564.8 1381.9,1553.2 1386.5,1541.2 1391.0,1531.6 1395.5,1526.5 1400.0,1519.0 1404.5,1511.9 1409.0,1502.1 1413.5,1491.2 1418.1,1478.0 1422.6,1469.0 1427.1,1462.8 1431.6,1455.4 1436.1,1449.9 1440.6,1441.6 1445.1,1433.9 1449.6,1426.8 1454.2,1418.0 1458.7,1410.3 1463.2,1403.3 1467.7,1393.5 1472.2,1381.6 1476.7,1369.3 1481.2,1357.8 1485.8,1343.9 1490.3,1334.4 1494.8,1321.3 1499.3,1311.0 1503.8,1303.6 1508.3,1295.5 1512.8,1289.5 1517.3,1287.1 1521.9,1284.6 1526.4,1273.5 1530.9,1263.7 1535.4,1250.2 1539.9,1236.5 1544.4,1224.0 1548.9,1212.5 1553.5,1203.5 1558.0,1194.4 1562.5,1187.2 1567.0,1178.6 1571.5,1167.8 1576.0,1152.2 1580.5,1139.7 1585.0,1128.0 1589.6,1122.0 1594.1,1110.1 1598.6,1094.6 1603.1,1072.2 1607.6,1069.0 1612.1,1061.8 1616.6,1052.1 1621.2,1048.1 1625.7,1043.5 1630.2,1033.0 1634.7,1020.6 1639.2,1017.0 1643.7,1014.2 1648.2,1012.3 1652.8,1010.3 1657.3,1006.1 1661.8,998.7 1666.3,995.4 1670.8,992.4 1675.3,990.5 1679.8,988.6 1684.3,984.6 1688.9,979.8 1693.4,969.8 1697.9,963.9 1702.4,961.6 1706.9,959.9 1711.4,957.9 1715.9,956.4 1720.5,953.5 1725.0,949.5 1729.5,947.0 1734.0,947.0 1738.5,945.5 1743.0,943.4 1747.5,941.7 1752.0,940.1 1756.6,938.7 1761.1,936.7 1765.6,936.2 1770.1,936.0 1774.6,935.8 1779.1,935.7 1783.6,934.1 1788.2,932.2 1792.7,929.6 1797.2,928.4 1801.7,927.0 1806.2,925.5 1810.7,923.6 1815.2,921.5 1819.7,920.0 1824.3,918.9 1828.8,916.2 1833.3,913.6 1837.8,911.4 1842.3,909.1 1846.8,907.8 1851.3,907.7 1855.9,907.4 1860.4,907.0 1864.9,904.6 1869.4,903.2 1873.9,901.6 1878.4,900.4 1882.9,898.9 1887.5,897.3 1892.0,896.2 1896.5,895.1 1901.0,894.3 1905.5,893.7 1910.0,893.4 1914.5,893.1 1919.0,892.6 1923.6,892.2 1928.1,889.4 1932.6,887.7 1937.1,886.6 1941.6,884.8 1946.1,882.9 1950.6,882.2 1955.2,882.0 1959.7,881.8 1964.2,881.7 1968.7,881.4 1973.2,880.9 1977.7,880.1 1982.2,879.2 1986.7,878.2 1991.3,877.4 1995.8,876.8 2000.3,876.3 2004.8,875.6 2009.3,874.6 2013.8,873.0 2018.3,871.6 2022.9,870.2 2027.4,869.5 2031.9,868.4 2036.4,867.0 2040.9,865.1 2045.4,865.1 2049.9,865.1 2052.1,865.1" stroke="#2b6da9"/>
<path d="M59.5,2202.8 64.0,2202.8 68.5,2202.8 73.0,2202.8 77.6,2202.8 82.1,2202.8 86.6,2202.8 91.1,2202.8 95.6,2202.8 100.1,2202.8 104.6,2202.8 109.1,2202.8 113.7,2202.8 118.2,2202.8 122.7,2202.8 127.2,2202.8 131.7,2202.8 136.2,2202.8 140.7,2202.8 145.3,2202.8 149.8,2202.7 154.3,2202.6 158.8,2202.5 163.3,2202.4 167.8,2202.3 172.3,2202.2 176.8,2202.1 181.4,2202.0 185.9,2201.8 190.4,2201.6 194.9,2201.4 199.4,2201.2 203.9,2201.0 208.4,2200.8 213.0,2200.4 217.5,2199.8 222.0,2199.1 226.5,2198.4 231.0,2197.7 235.5,2197.3 240.0,2196.7 244.6,2196.0 249.1,2195.0 253.6,2194.1 258.1,2193.3 262.6,2192.8 267.1,2192.3 271.6,2191.7 276.1,2191.0 280.7,2190.0 285.2,2189.1 289.7,2188.3 294.2,2187.6 298.7,2186.9 303.2,2186.3 307.7,2185.5 312.3,2184.6 316.8,2183.3 321.3,2182.5 325.8,2181.7 330.3,2181.0 334.8,2180.5 339.3,2179.6 343.8,2178.4 348.4,2177.4 352.9,2176.1 357.4,2175.4 361.9,2174.6 366.4,2174.0 370.9,2173.1 375.4,2171.9 380.0,2170.6 384.5,2169.6 389.0,2168.8 393.5,2168.2 398.0,2167.6 402.5,2166.9 407.0,2166.0 411.5,2165.0 416.1,2164.2 420.6,2163.6 425.1,2163.2 429.6,2162.6 434.1,2162.0 438.6,2161.3 443.1,2160.4 447.7,2159.7 452.2,2159.1 456.7,2158.6 461.2,2158.1 465.7,2157.5 470.2,2156.7 474.7,2155.9 479.3,2155.2 483.8,2154.6 488.3,2154.2 492.8,2153.7 497.3,2153.1 501.8,2152.3 506.3,2151.6 510.8,2150.9 515.4,2150.3 519.9,2149.9 524.4,2149.4 528.9,2148.7 533.4,2147.9 537.9,2146.9 542.4,2145.9 547.0,2145.2 551.5,2144.7 556.0,2144.1 560.5,2143.3 565.0,2142.3 569.5,2141.2 574.0,2140.0 578.5,2139.3 583.1,2138.4 587.6,2137.6 592.1,2136.5 596.6,2135.2 601.1,2133.5 605.6,2132.0 610.1,2130.8 614.7,2129.9 619.2,2128.4 623.7,2126.6 628.2,2124.0 632.7,2121.0 637.2,2118.2 641.7,2115.9 646.2,2114.4 650.8,2112.5 655.3,2109.5 659.8,2105.9 664.3,2101.5 668.8,2098.0 673.3,2095.8 677.8,2094.6 682.4,2092.5 686.9,2089.4 691.4,2084.9 695.9,2081.4 700.4,2078.3 704.9,2074.8 709.4,2070.8 714.0,2067.4 718.5,2061.0 723.0,2053.6 727.5,2041.7 732.0,2030.6 736.5,2025.1 741.0,2021.1 745.5,2016.9 750.1,2012.9 754.6,2006.5 759.1,1999.4 763.6,1992.6 768.1,1988.3 772.6,1985.5 777.1,1981.7 781.7,1977.3 786.2,1972.8 790.7,1968.6 795.2,1965.2 799.7,1959.5 804.2,1954.7 808.7,1950.4 813.2,1945.9 817.8,1939.1 822.3,1932.6 826.8,1925.5 831.3,1918.7 835.8,1915.5 840.3,1911.9 844.8,1907.9 849.4,1904.5 853.9,1901.1 858.4,1895.7 862.9,1891.0 867.4,1887.2 871.9,1884.1 876.4,1878.7 880.9,1875.5 885.5,1871.4 890.0,1867.5 894.5,1864.3 899.0,1861.9 903.5,1858.7 908.0,1855.4 912.5,1852.6 917.1,1848.8 921.6,1845.8 926.1,1843.8 930.6,1842.4 935.1,1841.0 939.6,1837.7 944.1,1833.8 948.7,1830.8 953.2,1829.5 957.7,1828.2 962.2,1826.7 966.7,1825.5 971.2,1823.2 975.7,1820.8 980.2,1817.9 984.8,1815.5 989.3,1813.2 993.8,1811.6 998.3,1810.0 1002.8,1807.6 1007.3,1804.6 1011.8,1802.3 1016.4,1799.6 1020.9,1798.0 1025.4,1796.3 1029.9,1794.6 1034.4,1792.4 1038.9,1789.7 1043.4,1787.4 1047.9,1784.6 1052.5,1782.9 1057.0,1781.1 1061.5,1779.5 1066.0,1777.2 1070.5,1775.0 1075.0,1772.0 1079.5,1769.7 1084.1,1768.0 1088.6,1766.5 1093.1,1765.1 1097.6,1763.2 1102.1,1760.5 1106.6,1757.8 1111.1,1754.8 1115.6,1752.6 1120.2,1751.1 1124.7,1748.7 1129.2,1745.9 1133.7,1742.3 1138.2,1738.1 1142.7,1736.3 1147.2,1734.6 1151.8,1733.4 1156.3,1732.0 1160.8,1729.4 1165.3,1726.8 1169.8,1725.2 1174.3,1724.5 1178.8,1721.7 1183.4,1718.6 1187.9,1716.4 1192.4,1713.2 1196.9,1710.5 1201.4,1708.6 1205.9,1707.0 1210.4,1703.0 1214.9,1698.7 1219.5,1694.7 1224.0,1692.5 1228.5,1690.7 1233.0,1687.7 1237.5,1684.5 1242.0,1680.5 1246.5,1677.4 1251.1,1674.4 1255.6,1670.6 1260.1,1663.6 1264.6,1659.9 1269.1,1656.6 1273.6,1653.2 1278.1,1650.3 1282.6,1647.4 1287.2,1644.8 1291.7,1642.1 1296.2,1638.8 1300.7,1635.3 1305.2,1627.1 1309.7,1621.1 1314.2,1617.0 1318.8,1611.9 1323.3,1606.4 1327.8,1601.7 1332.3,1598.4 1336.8,1594.0 1341.3,1591.6 1345.8,1588.2 1350.3,1580.7 1354.9,1574.1 1359.4,1569.4 1363.9,1565.1 1368.4,1560.7 1372.9,1558.2 1377.4,1554.3 1381.9,1550.2 1386.5,1543.8 1391.0,1537.6 1395.5,1533.0 1400.0,1528.8 1404.5,1525.1 1409.0,1520.4 1413.5,1515.6 1418.1,1508.8 1422.6,1502.1 1427.1,1496.2 1431.6,1491.3 1436.1,1487.1 1440.6,1483.2 1445.1,1477.8 1449.6,1471.2 1454.2,1463.5 1458.7,1457.2 1463.2,1451.1 1467.7,1443.8 1472.2,1437.2 1476.7,1432.3 1481.2,1425.1 1485.8,1415.4 1490.3,1406.1 1494.8,1395.9 1499.3,1389.1 1503.8,1383.5 1508.3,1377.0 1512.8,1361.3 1517.3,1356.4 1521.9,1350.3 1526.4,1341.7 1530.9,1332.8 1535.4,1322.7 1539.9,1314.4 1544.4,1304.1 1548.9,1296.5 1553.5,1288.7 1558.0,1279.3 1562.5,1271.7 1567.0,1265.5 1571.5,1255.9 1576.0,1245.8 1580.5,1237.1 1585.0,1230.3 1589.6,1221.4 1594.1,1211.6 1598.6,1203.9 1603.1,1192.9 1607.6,1184.2 1612.1,1178.5 1616.6,1169.3 1621.2,1164.3 1625.7,1159.8 1630.2,1155.4 1634.7,1149.6 1639.2,1142.6 1643.7,1135.0 1648.2,1130.9 1652.8,1128.1 1657.3,1126.3 1661.8,1122.9 1666.3,1119.0 1670.8,1114.0 1675.3,1108.5 1679.8,1102.6 1684.3,1094.6 1688.9,1087.7 1693.4,1080.9 1697.9,1076.2 1702.4,1069.4 1706.9,1063.4 1711.4,1058.1 1715.9,1052.9 1720.5,1047.1 1725.0,1043.3 1729.5,1036.1 1734.0,1029.2 1738.5,1026.9 1743.0,1022.5 1747.5,1017.5 1752.0,1013.7 1756.6,1010.0 1761.1,1005.0 1765.6,1000.4 1770.1,997.9 1774.6,995.0 1779.1,989.4 1783.6,985.9 1788.2,983.9 1792.7,980.6 1797.2,976.6 1801.7,972.6 1806.2,969.6 1810.7,967.6 1815.2,965.5 1819.7,963.4 1824.3,961.0 1828.8,958.9 1833.3,956.8 1837.8,955.3 1842.3,953.9 1846.8,952.0 1851.3,950.4 1855.9,947.6 1860.4,944.9 1864.9,941.6 1869.4,939.2 1873.9,937.1 1878.4,935.1 1882.9,933.4 1887.5,931.4 1892.0,930.2 1896.5,928.5 1901.0,927.3 1905.5,926.1 1910.0,924.6 1914.5,923.2 1919.0,921.5 1923.6,919.5 1928.1,917.5 1932.6,915.8 1937.1,914.6 1941.6,913.8 1946.1,912.8 1950.6,911.3 1955.2,909.7 1959.7,907.9 1964.2,906.6 1968.7,905.3 1973.2,904.2 1977.7,903.2 1982.2,901.6 1986.7,899.6 1991.3,897.9 1995.8,896.6 2000.3,895.5 2004.8,894.4 2009.3,893.3 2013.8,892.5 2018.3,891.1 2022.9,889.9 2027.4,888.4 2031.9,887.2 2036.4,886.0 2040.9,884.7 2045.4,884.4 2049.9,884.0 2052.1,883.9" stroke="#4e7932"/>
<path d="M59.5,2202.8 64.0,2202.8 68.5,2202.8 73.0,2202.8 77.6,2202.8 82.1,2202.8 86.6,2202.8 91.1,2202.8 95.6,2202.8 100.1,2202.8 104.6,2202.8 109.1,2202.8 113.7,2202.8 118.2,2202.8 122.7,2202.8 127.2,2202.8 131.7,2202.8 136.2,2202.8 140.7,2202.8 145.3,2202.8 149.8,2202.8 154.3,2202.8 158.8,2202.8 163.3,2202.8 167.8,2202.7 172.3,2202.5 176.8,2202.3 181.4,2202.0 185.9,2201.9 190.4,2201.8 194.9,2201.7 199.4,2201.5 203.9,2201.2 208.4,2200.9 213.0,2200.7 217.5,2200.6 222.0,2200.5 226.5,2200.3 231.0,2200.1 235.5,2199.7 240.0,2199.4 244.6,2199.2 249.1,2199.0 253.6,2198.9 258.1,2198.6 262.6,2198.3 267.1,2197.9 271.6,2197.5 276.1,2197.2 280.7,2196.9 285.2,2196.7 289.7,2196.5 294.2,2196.1 298.7,2195.5 303.2,2195.0 307.7,2194.6 312.3,2194.3 316.8,2194.1 321.3,2193.7 325.8,2193.3 330.3,2192.7 334.8,2192.1 339.3,2191.5 343.8,2191.1 348.4,2191.0 352.9,2190.5 357.4,2189.9 361.9,2189.2 366.4,2188.4 370.9,2187.7 375.4,2187.3 380.0,2187.0 384.5,2186.7 389.0,2186.0 393.5,2185.3 398.0,2184.5 402.5,2184.0 407.0,2183.6 411.5,2183.3 416.1,2183.0 420.6,2182.5 425.1,2181.8 429.6,2181.0 434.1,2180.6 438.6,2180.2 443.1,2180.0 447.7,2179.6 452.2,2179.1 456.7,2178.4 461.2,2177.7 465.7,2177.2 470.2,2176.7 474.7,2176.5 479.3,2176.1 483.8,2175.5 488.3,2174.8 492.8,2173.9 497.3,2173.3 501.8,2172.9 506.3,2172.7 510.8,2172.3 515.4,2171.7 519.9,2170.9 524.4,2170.1 528.9,2169.6 533.4,2169.2 537.9,2169.0 542.4,2168.6 547.0,2168.2 551.5,2167.5 556.0,2167.1 560.5,2166.7 565.0,2166.4 569.5,2166.2 574.0,2166.0 578.5,2165.6 583.1,2165.0 587.6,2164.4 592.1,2163.9 596.6,2163.6 601.1,2163.4 605.6,2162.9 610.1,2162.4 614.7,2161.5 619.2,2160.4 623.7,2159.4 628.2,2158.8 632.7,2158.3 637.2,2157.6 641.7,2156.4 646.2,2154.9 650.8,2153.5 655.3,2152.3 659.8,2151.5 664.3,2150.9 668.8,2150.1 673.3,2148.8 677.8,2147.4 682.4,2146.0 686.9,2144.9 691.4,2143.9 695.9,2143.4 700.4,2142.5 704.9,2141.2 709.4,2139.7 714.0,2138.2 718.5,2136.8 723.0,2136.3 727.5,2135.5 732.0,2134.8 736.5,2133.6 741.0,2132.1 745.5,2130.7 750.1,2129.7 754.6,2129.2 759.1,2128.8 763.6,2128.0 768.1,2127.0 772.6,2125.9 777.1,2124.7 781.7,2123.9 786.2,2123.3 790.7,2123.0 795.2,2122.4 799.7,2121.5 804.2,2120.3 808.7,2119.3 813.2,2118.5 817.8,2118.0 822.3,2117.5 826.8,2117.0 831.3,2116.1 835.8,2115.0 840.3,2113.9 844.8,2113.0 849.4,2112.6 853.9,2112.2 858.4,2111.7 862.9,2110.7 867.4,2109.7 871.9,2108.8 876.4,2108.1 880.9,2107.7 885.5,2107.4 890.0,2107.0 894.5,2106.3 899.0,2105.7 903.5,2105.0 908.0,2104.6 912.5,2104.2 917.1,2104.0 921.6,2103.7 926.1,2103.3 930.6,2102.6 935.1,2102.1 939.6,2101.6 944.1,2101.4 948.7,2101.2 953.2,2100.9 957.7,2100.4 962.2,2099.9 966.7,2099.5 971.2,2099.1 975.7,2098.8 980.2,2098.6 984.8,2098.4 989.3,2098.0 993.8,2097.6 998.3,2097.1 1002.8,2096.7 1007.3,2096.4 1011.8,2096.2 1016.4,2095.9 1020.9,2095.4 1025.4,2094.7 1029.9,2093.8 1034.4,2092.9 1038.9,2092.5 1043.4,2092.2 1047.9,2091.6 1052.5,2090.5 1057.0,2088.8 1061.5,2086.9 1066.0,2085.5 1070.5,2084.8 1075.0,2084.2 1079.5,2083.6 1084.1,2082.7 1088.6,2081.5 1093.1,2080.2 1097.6,2079.2 1102.1,2078.5 1106.6,2077.8 1111.1,2077.2 1115.6,2076.0 1120.2,2074.6 1124.7,2073.1 1129.2,2072.1 1133.7,2071.3 1138.2,2070.6 1142.7,2069.8 1147.2,2068.7 1151.8,2067.0 1156.3,2065.1 1160.8,2063.7 1165.3,2062.8 1169.8,2061.9 1174.3,2061.0 1178.8,2059.9 1183.4,2058.1 1187.9,2054.5 1192.4,2052.2 1196.9,2051.5 1201.4,2051.0 1205.9,2050.1 1210.4,2048.2 1214.9,2045.1 1219.5,2041.3 1224.0,2038.1 1228.5,2037.3 1233.0,2036.7 1237.5,2035.2 1242.0,2033.0 1246.5,2029.8 1251.1,2026.9 1255.6,2024.2 1260.1,2022.5 1264.6,2021.4 1269.1,2019.0 1273.6,2013.7 1278.1,2009.8 1282.6,2007.7 1287.2,2005.9 1291.7,2004.6 1296.2,2003.6 1300.7,2001.2 1305.2,1998.0 1309.7,1994.2 1314.2,1990.6 1318.8,1988.8 1323.3,1987.7 1327.8,1986.2 1332.3,1983.0 1336.8,1977.5 1341.3,1972.2 1345.8,1967.7 1350.3,1964.7 1354.9,1962.5 1359.4,1961.3 1363.9,1959.3 1368.4,1956.5 1372.9,1948.2 1377.4,1942.6 1381.9,1940.2 1386.5,1938.1 1391.0,1936.5 1395.5,1934.9 1400.0,1931.3 1404.5,1927.4 1409.0,1925.0 1413.5,1924.4 1418.1,1923.8 1422.6,1922.9 1427.1,1922.1 1431.6,1919.1 1436.1,1913.0 1440.6,1909.0 1445.1,1906.5 1449.6,1905.0 1454.2,1903.9 1458.7,1902.1 1463.2,1899.1 1467.7,1895.5 1472.2,1892.0 1476.7,1889.0 1481.2,1886.9 1485.8,1885.2 1490.3,1883.1 1494.8,1879.2 1499.3,1874.4 1503.8,1870.0 1508.3,1866.6 1512.8,1864.1 1517.3,1862.4 1521.9,1860.5 1526.4,1857.8 1530.9,1853.6 1535.4,1850.1 1539.9,1847.3 1544.4,1845.6 1548.9,1844.0 1553.5,1842.2 1558.0,1838.9 1562.5,1835.3 1567.0,1831.4 1571.5,1828.7 1576.0,1826.9 1580.5,1825.1 1585.0,1823.4 1589.6,1819.8 1594.1,1816.2 1598.6,1812.4 1603.1,1809.8 1607.6,1808.2 1612.1,1807.0 1616.6,1805.1 1621.2,1802.2 1625.7,1798.9 1630.2,1796.1 1634.7,1794.4 1639.2,1793.1 1643.7,1792.6 1648.2,1791.5 1652.8,1789.9 1657.3,1788.2 1661.8,1784.3 1666.3,1782.2 1670.8,1780.7 1675.3,1778.3 1679.8,1777.3 1684.3,1773.5 1688.9,1768.5 1693.4,1763.1 1697.9,1759.6 1702.4,1757.8 1706.9,1757.2 1711.4,1756.0 1715.9,1754.0 1720.5,1751.6 1725.0,1750.4 1729.5,1749.5 1734.0,1748.9 1738.5,1748.4 1743.0,1747.8 1747.5,1746.5 1752.0,1742.4 1756.6,1739.3 1761.1,1738.5 1765.6,1738.1 1770.1,1737.7 1774.6,1737.4 1779.1,1736.6 1783.6,1734.7 1788.2,1731.3 1792.7,1730.7 1797.2,1730.4 1801.7,1729.6 1806.2,1728.6 1810.7,1726.6 1815.2,1724.7 1819.7,1723.3 1824.3,1721.9 1828.8,1721.1 1833.3,1720.2 1837.8,1719.2 1842.3,1717.6 1846.8,1716.4 1851.3,1715.4 1855.9,1714.8 1860.4,1714.3 1864.9,1713.8 1869.4,1713.2 1873.9,1712.0 1878.4,1710.1 1882.9,1707.8 1887.5,1707.6 1892.0,1707.5 1896.5,1707.4 1901.0,1707.3 1905.5,1707.1 1910.0,1706.7 1914.5,1706.3 1919.0,1705.8 1923.6,1705.6 1928.1,1705.4 1932.6,1705.0 1937.1,1704.5 1941.6,1703.8 1946.1,1703.0 1950.6,1702.6 1955.2,1702.2 1959.7,1701.9 1964.2,1701.6 1968.7,1701.0 1973.2,1699.7 1977.7,1698.5 1982.2,1697.7 1986.7,1697.2 1991.3,1697.1 1995.8,1696.8 2000.3,1696.4 2004.8,1695.9 2009.3,1695.0 2013.8,1694.1 2018.3,1693.5 2022.9,1692.8 2027.4,1691.6 2031.9,1689.6 2036.4,1687.2 2040.9,1685.7 2045.4,1685.0 2049.9,1684.8 2052.1,1684.5" stroke="#a2b8e2"/>
<path d="M59.5,2202.8 64.0,2202.8 68.5,2202.8 73.0,2202.8 77.6,2202.8 82.1,2202.8 86.6,2202.8 91.1,2202.8 95.6,2202.8 100.1,2202.8 104.6,2202.8 109.1,2202.8 113.7,2202.8 118.2,2202.8 122.7,2202.8 127.2,2202.8 131.7,2202.8 136.2,2202.8 140.7,2202.8 145.3,2202.8 149.8,2202.3 154.3,2201.5 158.8,2200.2 163.3,2198.8 167.8,2197.9 172.3,2196.9 176.8,2195.7 181.4,2193.8 185.9,2191.7 190.4,2189.8 194.9,2188.4 199.4,2187.5 203.9,2186.5 208.4,2185.2 213.0,2183.8 217.5,2181.7 222.0,2179.7 226.5,2178.1 231.0,2177.2 235.5,2176.0 240.0,2174.8 244.6,2172.9 249.1,2170.8 253.6,2168.9 258.1,2167.4 262.6,2166.4 267.1,2165.1 271.6,2163.7 276.1,2162.1 280.7,2159.4 285.2,2157.0 289.7,2155.1 294.2,2154.1 298.7,2152.9 303.2,2151.5 307.7,2149.6 312.3,2147.5 316.8,2145.7 321.3,2144.5 325.8,2143.8 330.3,2143.4 334.8,2142.8 339.3,2142.4 343.8,2141.8 348.4,2141.4 352.9,2141.1 357.4,2140.9 361.9,2140.7 366.4,2140.4 370.9,2140.2 375.4,2139.9 380.0,2139.6 384.5,2139.4 389.0,2139.3 393.5,2139.2 398.0,2139.0 402.5,2138.8 407.0,2138.6 411.5,2138.3 416.1,2138.2 420.6,2138.1 425.1,2137.9 429.6,2137.8 434.1,2137.6 438.6,2137.4 443.1,2137.3 447.7,2137.2 452.2,2137.1 456.7,2137.0 461.2,2136.9 465.7,2136.8 470.2,2136.7 474.7,2136.7 479.3,2136.6 483.8,2136.6 488.3,2136.6 492.8,2136.5 497.3,2136.5 501.8,2136.4 506.3,2136.4 510.8,2136.4 515.4,2136.3 519.9,2136.3 524.4,2136.3 528.9,2136.2 533.4,2136.2 537.9,2136.2 542.4,2136.1 547.0,2136.1 551.5,2136.1 556.0,2136.1 560.5,2136.1 565.0,2136.0 569.5,2136.0 574.0,2136.0 578.5,2136.0 583.1,2136.0 587.6,2136.0 592.1,2136.0 596.6,2136.0 601.1,2136.0 605.6,2136.0 610.1,2136.0 614.7,2136.0 619.2,2136.0 623.7,2136.0 628.2,2136.0 632.7,2136.0 637.2,2136.0 641.7,2136.0 646.2,2136.0 650.8,2136.0 655.3,2136.0 659.8,2136.0 664.3,2136.0 668.8,2136.0 673.3,2136.0 677.8,2136.0 682.4,2136.0 686.9,2136.0 691.4,2136.0 695.9,2136.0 700.4,2136.0 704.9,2136.0 709.4,2136.0 714.0,2136.0 718.5,2136.0 723.0,2136.0 727.5,2136.0 732.0,2136.0 736.5,2136.0 741.0,2136.0 745.5,2136.0 750.1,2136.0 754.6,2136.0 759.1,2136.0 763.6,2136.0 768.1,2136.0 772.6,2136.0 777.1,2136.0 781.7,2136.0 786.2,2136.0 790.7,2136.0 795.2,2136.0 799.7,2136.0 804.2,2136.0 808.7,2136.0 813.2,2136.0 817.8,2136.0 822.3,2136.0 826.8,2136.0 831.3,2136.0 835.8,2136.0 840.3,2136.0 844.8,2136.0 849.4,2136.0 853.9,2136.0 858.4,2136.0 862.9,2136.0 867.4,2136.0 871.9,2136.0 876.4,2136.0 880.9,2136.0 885.5,2136.0 890.0,2136.0 894.5,2136.0 899.0,2136.0 903.5,2136.0 908.0,2136.0 912.5,2136.0 917.1,2136.0 921.6,2136.0 926.1,2136.0 930.6,2136.0 935.1,2136.0 939.6,2136.0 944.1,2136.0 948.7,2136.0 953.2,2136.0 957.7,2136.0 962.2,2136.0 966.7,2136.0 971.2,2136.0 975.7,2136.0 980.2,2136.0 984.8,2136.0 989.3,2136.0 993.8,2136.0 998.3,2136.0 1002.8,2136.0 1007.3,2136.0 1011.8,2136.0 1016.4,2136.0 1020.9,2136.0 1025.4,2136.0 1029.9,2136.0 1034.4,2136.0 1038.9,2136.0 1043.4,2136.0 1047.9,2136.0 1052.5,2136.0 1057.0,2136.0 1061.5,2136.0 1066.0,2135.9 1070.5,2135.9 1075.0,2135.9 1079.5,2135.9 1084.1,2135.9 1088.6,2135.9 1093.1,2135.9 1097.6,2135.9 1102.1,2135.9 1106.6,2135.9 1111.1,2135.9 1115.6,2135.9 1120.2,2135.9 1124.7,2135.9 1129.2,2135.9 1133.7,2135.8 1138.2,2135.8 1142.7,2135.8 1147.2,2135.8 1151.8,2135.8 1156.3,2135.8 1160.8,2135.7 1165.3,2135.7 1169.8,2135.7 1174.3,2135.7 1178.8,2135.6 1183.4,2135.6 1187.9,2135.6 1192.4,2135.6 1196.9,2135.5 1201.4,2135.5 1205.9,2135.4 1210.4,2135.4 1214.9,2135.4 1219.5,2135.4 1224.0,2135.3 1228.5,2135.2 1233.0,2135.1 1237.5,2134.8 1242.0,2134.6 1246.5,2134.2 1251.1,2133.2 1255.6,2132.1 1260.1,2130.8 1264.6,2129.5 1269.1,2128.6 1273.6,2127.8 1278.1,2127.0 1282.6,2125.9 1287.2,2124.6 1291.7,2124.1 1296.2,2122.7 1300.7,2120.5 1305.2,2119.4 1309.7,2117.9 1314.2,2116.2 1318.8,2113.7 1323.3,2110.6 1327.8,2107.3 1332.3,2104.7 1336.8,2102.5 1341.3,2101.2 1345.8,2098.9 1350.3,2095.7 1354.9,2091.5 1359.4,2087.0 1363.9,2084.1 1368.4,2082.4 1372.9,2080.8 1377.4,2079.2 1381.9,2077.5 1386.5,2075.0 1391.0,2073.9 1395.5,2072.5 1400.0,2069.7 1404.5,2068.0 1409.0,2064.6 1413.5,2062.6 1418.1,2060.1 1422.6,2056.8 1427.1,2054.2 1431.6,2052.0 1436.1,2049.6 1440.6,2047.5 1445.1,2045.7 1449.6,2043.4 1454.2,2041.3 1458.7,2039.2 1463.2,2038.1 1467.7,2036.8 1472.2,2034.9 1476.7,2032.7 1481.2,2030.0 1485.8,2027.2 1490.3,2024.6 1494.8,2022.8 1499.3,2021.4 1503.8,2019.4 1508.3,2017.0 1512.8,2014.8 1517.3,2013.4 1521.9,2012.2 1526.4,2011.4 1530.9,2010.9 1535.4,2009.9 1539.9,2008.9 1544.4,2007.3 1548.9,2005.9 1553.5,2004.6 1558.0,2003.6 1562.5,2002.8 1567.0,2001.7 1571.5,2000.0 1576.0,1998.4 1580.5,1996.9 1585.0,1995.6 1589.6,1994.8 1594.1,1994.0 1598.6,1993.0 1603.1,1991.8 1607.6,1990.2 1612.1,1988.8 1616.6,1987.6 1621.2,1986.9 1625.7,1986.1 1630.2,1985.2 1634.7,1984.1 1639.2,1982.7 1643.7,1981.4 1648.2,1980.4 1652.8,1979.8 1657.3,1979.0 1661.8,1978.3 1666.3,1976.2 1670.8,1973.1 1675.3,1970.8 1679.8,1969.5 1684.3,1967.8 1688.9,1966.3 1693.4,1964.7 1697.9,1964.3 1702.4,1963.6 1706.9,1962.8 1711.4,1962.1 1715.9,1961.7 1720.5,1961.2 1725.0,1960.5 1729.5,1959.6 1734.0,1958.7 1738.5,1958.7 1743.0,1956.5 1747.5,1955.5 1752.0,1955.2 1756.6,1954.6 1761.1,1952.8 1765.6,1951.9 1770.1,1951.9 1774.6,1951.9 1779.1,1951.3 1783.6,1948.9 1788.2,1948.2 1792.7,1947.2 1797.2,1946.2 1801.7,1944.9 1806.2,1943.9 1810.7,1943.1 1815.2,1942.5 1819.7,1941.9 1824.3,1941.4 1828.8,1941.1 1833.3,1940.7 1837.8,1939.4 1842.3,1938.7 1846.8,1938.1 1851.3,1937.6 1855.9,1936.8 1860.4,1935.9 1864.9,1935.2 1869.4,1934.7 1873.9,1934.3 1878.4,1933.9 1882.9,1933.5 1887.5,1933.0 1892.0,1932.5 1896.5,1931.3 1901.0,1929.2 1905.5,1927.4 1910.0,1925.0 1914.5,1921.9 1919.0,1921.0 1923.6,1920.6 1928.1,1920.1 1932.6,1919.8 1937.1,1919.5 1941.6,1919.2 1946.1,1919.0 1950.6,1917.8 1955.2,1916.5 1959.7,1916.2 1964.2,1915.9 1968.7,1915.8 1973.2,1915.7 1977.7,1915.5 1982.2,1915.3 1986.7,1915.1 1991.3,1914.6 1995.8,1914.3 2000.3,1914.1 2004.8,1913.9 2009.3,1913.6 2013.8,1913.3 2018.3,1912.9 2022.9,1912.0 2027.4,1911.0 2031.9,1910.4 2036.4,1909.9 2040.9,1909.2 2045.4,1909.1 2049.9,1909.1 2052.1,1909.1" stroke="#f6be98"/>
<path d="M59.5,2202.8 64.0,2202.8 68.5,2202.8 73.0,2202.8 77.6,2202.8 82.1,2202.8 86.6,2202.8 91.1,2202.8 95.6,2202.8 100.1,2202.8 104.6,2202.8 109.1,2202.8 113.7,2202.8 118.2,2202.8 122.7,2202.8 127.2,2202.8 131.7,2202.8 136.2,2202.8 140.7,2202.8 145.3,2202.8 149.8,2202.8 154.3,2202.8 158.8,2202.8 163.3,2202.8 167.8,2202.8 172.3,2202.8 176.8,2202.8 181.4,2202.8 185.9,2202.8 190.4,2202.8 194.9,2202.8 199.4,2202.8 203.9,2202.8 208.4,2199.9 213.0,2197.4 217.5,2195.2 222.0,2193.7 226.5,2193.0 231.0,2191.6 235.5,2189.9 240.0,2187.6 244.6,2185.5 249.1,2184.0 253.6,2183.3 258.1,2182.5 262.6,2182.1 267.1,2181.2 271.6,2180.4 276.1,2179.5 280.7,2179.0 285.2,2178.6 289.7,2178.3 294.2,2178.1 298.7,2177.6 303.2,2177.1 307.7,2176.6 312.3,2176.1 316.8,2175.8 321.3,2175.6 325.8,2175.4 330.3,2174.9 334.8,2174.3 339.3,2173.6 343.8,2173.2 348.4,2173.0 352.9,2172.8 357.4,2172.6 361.9,2172.2 366.4,2171.7 370.9,2171.1 375.4,2170.3 380.0,2169.8 384.5,2169.3 389.0,2168.5 393.5,2167.5 398.0,2160.7 402.5,2160.7 407.0,2160.7 411.5,2160.7 416.1,2160.7 420.6,2160.7 425.1,2160.7 429.6,2160.7 434.1,2160.7 438.6,2160.7 443.1,2160.7 447.7,2160.7 452.2,2160.7 456.7,2160.7 461.2,2160.7 465.7,2160.7 470.2,2160.7 474.7,2160.7 479.3,2160.7 483.8,2160.7 488.3,2160.7 492.8,2160.7 497.3,2160.7 501.8,2160.7 506.3,2160.7 510.8,2160.7 515.4,2160.7 519.9,2160.7 524.4,2160.7 528.9,2160.7 533.4,2160.7 537.9,2160.7 542.4,2160.7 547.0,2160.7 551.5,2160.7 556.0,2160.7 560.5,2160.7 565.0,2160.7 569.5,2160.7 574.0,2160.7 578.5,2160.7 583.1,2160.7 587.6,2160.7 592.1,2160.7 596.6,2160.7 601.1,2160.7 605.6,2160.7 610.1,2160.7 614.7,2160.7 619.2,2160.7 623.7,2160.7 628.2,2160.7 632.7,2160.7 637.2,2160.7 641.7,2160.7 646.2,2160.7 650.8,2160.7 655.3,2160.5 659.8,2160.1 664.3,2159.8 668.8,2159.4 673.3,2159.1 677.8,2158.4 682.4,2157.5 686.9,2156.6 691.4,2155.9 695.9,2155.4 700.4,2155.2 704.9,2154.9 709.4,2154.6 714.0,2154.4 718.5,2154.2 723.0,2154.0 727.5,2153.9 732.0,2153.7 736.5,2153.4 741.0,2146.8 745.5,2146.0 750.1,2145.8 754.6,2145.7 759.1,2145.6 763.6,2145.5 768.1,2145.3 772.6,2141.4 777.1,2137.0 781.7,2135.0 786.2,2133.4 790.7,2132.4 795.2,2131.2 799.7,2129.7 804.2,2127.6 808.7,2124.2 813.2,2121.1 817.8,2119.7 822.3,2118.6 826.8,2117.9 831.3,2117.0 835.8,2115.7 840.3,2114.5 844.8,2113.2 849.4,2112.3 853.9,2110.9 858.4,2108.7 862.9,2105.0 867.4,2103.4 871.9,2102.7 876.4,2102.2 880.9,2101.7 885.5,2101.4 890.0,2097.5 894.5,2094.3 899.0,2091.9 903.5,2088.5 908.0,2085.6 912.5,2083.5 917.1,2078.8 921.6,2076.4 926.1,2074.8 930.6,2074.0 935.1,2073.1 939.6,2066.9 944.1,2066.9 948.7,2066.9 953.2,2066.9 957.7,2066.9 962.2,2066.9 966.7,2066.9 971.2,2066.9 975.7,2066.9 980.2,2066.9 984.8,2066.9 989.3,2066.9 993.8,2066.9 998.3,2066.9 1002.8,2066.9 1007.3,2066.6 1011.8,2058.6 1016.4,2058.6 1020.9,2058.6 1025.4,2058.6 1029.9,2058.6 1034.4,2058.6 1038.9,2058.6 1043.4,2058.6 1047.9,2058.6 1052.5,2058.6 1057.0,2058.6 1061.5,2058.6 1066.0,2058.6 1070.5,2058.6 1075.0,2058.6 1079.5,2058.6 1084.1,2058.6 1088.6,2056.4 1093.1,2052.6 1097.6,2052.6 1102.1,2052.6 1106.6,2052.6 1111.1,2052.6 1115.6,2052.6 1120.2,2052.6 1124.7,2052.6 1129.2,2052.6 1133.7,2052.6 1138.2,2052.6 1142.7,2052.6 1147.2,2052.6 1151.8,2052.6 1156.3,2052.6 1160.8,2052.6 1165.3,2052.6 1169.8,2052.6 1174.3,2050.3 1178.8,2045.6 1183.4,2038.3 1187.9,2038.3 1192.4,2038.3 1196.9,2038.3 1201.4,2038.3 1205.9,2038.3 1210.4,2038.3 1214.9,2038.3 1219.5,2038.3 1224.0,2038.3 1228.5,2038.3 1233.0,2038.3 1237.5,2038.3 1242.0,2038.3 1246.5,2038.3 1251.1,2038.3 1255.6,2038.3 1260.1,2038.3 1264.6,2038.3 1269.1,2038.3 1273.6,2038.3 1278.1,2038.3 1282.6,2038.3 1287.2,2038.3 1291.7,2038.3 1296.2,2038.3 1300.7,2038.3 1305.2,2038.3 1309.7,2038.3 1314.2,2038.3 1318.8,2038.3 1323.3,2038.3 1327.8,2038.3 1332.3,2038.3 1336.8,2038.3 1341.3,2038.3 1345.8,2038.3 1350.3,2038.3 1354.9,2038.3 1359.4,2038.3 1363.9,2038.3 1368.4,2038.3 1372.9,2038.3 1377.4,2038.3 1381.9,2038.3 1386.5,2038.3 1391.0,2038.3 1395.5,2038.3 1400.0,2038.3 1404.5,2038.3 1409.0,2038.3 1413.5,2038.3 1418.1,2038.3 1422.6,2038.3 1427.1,2038.3 1431.6,2038.3 1436.1,2038.3 1440.6,2038.3 1445.1,2038.3 1449.6,2038.3 1454.2,2038.3 1458.7,2038.3 1463.2,2038.3 1467.7,2038.3 1472.2,2035.2 1476.7,2031.5 1481.2,2031.5 1485.8,2031.5 1490.3,2031.5 1494.8,2031.5 1499.3,2031.5 1503.8,2031.5 1508.3,2031.5 1512.8,2031.5 1517.3,2031.5 1521.9,2031.5 1526.4,2031.5 1530.9,2031.5 1535.4,2031.5 1539.9,2031.5 1544.4,2031.5 1548.9,2031.5 1553.5,2031.5 1558.0,2031.5 1562.5,2031.5 1567.0,2031.5 1571.5,2031.5 1576.0,2031.5 1580.5,2031.5 1585.0,2031.5 1589.6,2031.5 1594.1,2031.5 1598.6,2031.5 1603.1,2030.8 1607.6,2025.6 1612.1,2024.0 1616.6,2024.0 1621.2,2024.0 1625.7,2024.0 1630.2,2024.0 1634.7,2024.0 1639.2,2024.0 1643.7,2024.0 1648.2,2024.0 1652.8,2024.0 1657.3,2024.0 1661.8,2024.0 1666.3,2024.0 1670.8,2024.0 1675.3,2024.0 1679.8,2024.0 1684.3,2024.0 1688.9,2024.0 1693.4,2024.0 1697.9,2024.0 1702.4,2024.0 1706.9,2024.0 1711.4,2024.0 1715.9,2024.0 1720.5,2024.0 1725.0,2024.0 1729.5,2024.0 1734.0,2024.0 1738.5,2024.0 1743.0,2024.0 1747.5,2024.0 1752.0,2024.0 1756.6,2024.0 1761.1,2024.0 1765.6,2024.0 1770.1,2024.0 1774.6,2024.0 1779.1,2024.0 1783.6,2024.0 1788.2,2024.0 1792.7,2024.0 1797.2,2024.0 1801.7,2024.0 1806.2,2024.0 1810.7,2024.0 1815.2,2024.0 1819.7,2024.0 1824.3,2018.7 1828.8,2016.5 1833.3,2016.5 1837.8,2016.5 1842.3,2016.5 1846.8,2016.5 1851.3,2016.5 1855.9,2016.5 1860.4,2016.5 1864.9,2016.5 1869.4,2016.5 1873.9,2016.5 1878.4,2016.5 1882.9,2016.5 1887.5,2016.5 1892.0,2016.5 1896.5,2016.5 1901.0,2016.5 1905.5,2016.5 1910.0,2016.5 1914.5,2016.5 1919.0,2016.5 1923.6,2015.9 1928.1,2013.7 1932.6,2012.0 1937.1,2009.8 1941.6,2009.8 1946.1,2009.8 1950.6,2009.8 1955.2,2009.8 1959.7,2009.8 1964.2,2009.8 1968.7,2009.8 1973.2,2009.8 1977.7,2009.8 1982.2,2009.8 1986.7,2009.8 1991.3,2009.8 1995.8,2009.8 2000.3,2009.8 2004.8,2009.8 2009.3,2009.8 2013.8,2009.8 2018.3,2009.8 2022.9,2009.8 2027.4,2009.8 2031.9,2009.8 2036.4,2009.8 2040.9,2009.8 2045.4,2009.8 2049.9,2009.8 2052.1,2009.8" stroke="#d2d2d2"/>
<path d="M59.5,2202.8 64.0,2202.8 68.5,2202.8 73.0,2202.8 77.6,2202.8 82.1,2202.8 86.6,2202.8 91.1,2202.8 95.6,2202.8 100.1,2202.8 104.6,2202.8 109.1,2202.8 113.7,2202.8 118.2,2202.8 122.7,2202.8 127.2,2202.8 131.7,2202.8 136.2,2202.8 140.7,2202.7 145.3,2202.6 149.8,2202.5 154.3,2202.4 158.8,2202.3 163.3,2201.9 167.8,2201.5 172.3,2201.1 176.8,2200.8 181.4,2200.6 185.9,2200.4 190.4,2200.0 194.9,2199.4 199.4,2198.8 203.9,2198.2 208.4,2197.6 213.0,2197.1 217.5,2196.7 222.0,2195.9 226.5,2194.5 231.0,2193.1 235.5,2191.7 240.0,2190.9 244.6,2190.0 249.1,2189.3 253.6,2188.0 258.1,2186.7 262.6,2185.1 267.1,2183.5 271.6,2182.3 276.1,2181.5 280.7,2180.5 285.2,2179.1 289.7,2177.1 294.2,2174.8 298.7,2173.0 303.2,2171.7 307.7,2170.7 312.3,2169.6 316.8,2167.9 321.3,2165.9 325.8,2163.8 330.3,2162.1 334.8,2161.1 339.3,2160.3 343.8,2159.1 348.4,2158.0 352.9,2156.2 357.4,2153.5 361.9,2150.5 366.4,2148.1 370.9,2146.3 375.4,2144.7 380.0,2141.2 384.5,2137.9 389.0,2133.9 393.5,2130.4 398.0,2128.6 402.5,2126.8 407.0,2125.3 411.5,2122.8 416.1,2119.4 420.6,2115.7 425.1,2113.0 429.6,2110.8 434.1,2109.7 438.6,2107.9 443.1,2105.8 447.7,2103.0 452.2,2100.2 456.7,2097.8 461.2,2095.8 465.7,2094.9 470.2,2093.3 474.7,2091.6 479.3,2089.1 483.8,2086.6 488.3,2084.4 492.8,2082.9 497.3,2082.0 501.8,2080.7 506.3,2079.1 510.8,2076.8 515.4,2074.8 519.9,2072.7 524.4,2071.6 528.9,2070.6 533.4,2069.5 537.9,2067.9 542.4,2066.3 547.0,2064.4 551.5,2063.0 556.0,2062.1 560.5,2061.7 565.0,2061.0 569.5,2060.1 574.0,2059.1 578.5,2057.1 583.1,2055.0 587.6,2053.6 592.1,2052.4 596.6,2051.4 601.1,2049.9 605.6,2048.8 610.1,2047.7 614.7,2046.7 619.2,2046.1 623.7,2045.6 628.2,2045.2 632.7,2044.6 637.2,2043.7 641.7,2042.3 646.2,2041.0 650.8,2040.2 655.3,2039.5 659.8,2038.9 664.3,2037.8 668.8,2036.6 673.3,2035.4 677.8,2034.2 682.4,2033.6 686.9,2033.0 691.4,2032.6 695.9,2031.5 700.4,2030.3 704.9,2028.8 709.4,2027.8 714.0,2027.0 718.5,2026.6 723.0,2026.0 727.5,2025.0 732.0,2023.9 736.5,2020.9 741.0,2018.0 745.5,2016.0 750.1,2014.8 754.6,2013.2 759.1,2012.0 763.6,2010.3 768.1,2008.3 772.6,2007.1 777.1,2006.4 781.7,2005.9 786.2,2005.4 790.7,2004.6 795.2,2003.0 799.7,2001.0 804.2,1999.2 808.7,1998.2 813.2,1997.1 817.8,1996.1 822.3,1995.0 826.8,1993.1 831.3,1991.3 835.8,1989.8 840.3,1988.6 844.8,1987.8 849.4,1987.0 853.9,1985.6 858.4,1983.9 862.9,1982.1 867.4,1980.5 871.9,1979.3 876.4,1978.7 880.9,1978.2 885.5,1977.2 890.0,1976.3 894.5,1975.1 899.0,1973.9 903.5,1973.1 908.0,1972.3 912.5,1971.7 917.1,1970.7 921.6,1970.1 926.1,1969.4 930.6,1968.7 935.1,1968.3 939.6,1967.9 944.1,1967.4 948.7,1966.7 953.2,1957.6 957.7,1949.2 962.2,1946.7 966.7,1945.4 971.2,1944.2 975.7,1942.8 980.2,1940.7 984.8,1938.4 989.3,1936.1 993.8,1934.3 998.3,1932.8 1002.8,1931.9 1007.3,1930.5 1011.8,1928.6 1016.4,1926.2 1020.9,1924.1 1025.4,1922.6 1029.9,1921.5 1034.4,1920.6 1038.9,1919.9 1043.4,1918.5 1047.9,1916.5 1052.5,1914.4 1057.0,1912.0 1061.5,1910.5 1066.0,1909.7 1070.5,1908.9 1075.0,1907.3 1079.5,1904.5 1084.1,1901.8 1088.6,1899.5 1093.1,1898.6 1097.6,1897.9 1102.1,1897.2 1106.6,1895.7 1111.1,1893.7 1115.6,1892.2 1120.2,1890.9 1124.7,1890.1 1129.2,1889.5 1133.7,1888.8 1138.2,1887.9 1142.7,1886.9 1147.2,1885.7 1151.8,1884.7 1156.3,1884.1 1160.8,1883.5 1165.3,1883.0 1169.8,1882.1 1174.3,1880.9 1178.8,1879.4 1183.4,1877.9 1187.9,1876.9 1192.4,1876.4 1196.9,1875.7 1201.4,1875.1 1205.9,1874.2 1210.4,1873.3 1214.9,1872.3 1219.5,1871.4 1224.0,1870.8 1228.5,1870.1 1233.0,1869.1 1237.5,1867.6 1242.0,1865.9 1246.5,1863.4 1251.1,1861.3 1255.6,1860.0 1260.1,1859.0 1264.6,1857.5 1269.1,1855.5 1273.6,1853.5 1278.1,1852.0 1282.6,1851.1 1287.2,1850.4 1291.7,1849.6 1296.2,1848.5 1300.7,1846.4 1305.2,1843.9 1309.7,1841.3 1314.2,1839.2 1318.8,1838.3 1323.3,1837.4 1327.8,1835.7 1332.3,1832.6 1336.8,1828.7 1341.3,1825.1 1345.8,1823.2 1350.3,1821.0 1354.9,1818.7 1359.4,1815.7 1363.9,1812.3 1368.4,1808.2 1372.9,1804.2 1377.4,1802.2 1381.9,1799.9 1386.5,1798.5 1391.0,1795.4 1395.5,1792.1 1400.0,1789.1 1404.5,1786.2 1409.0,1784.1 1413.5,1782.7 1418.1,1781.2 1422.6,1778.5 1427.1,1775.6 1431.6,1771.8 1436.1,1768.0 1440.6,1765.2 1445.1,1762.9 1449.6,1761.0 1454.2,1757.5 1458.7,1752.3 1463.2,1747.8 1467.7,1743.3 1472.2,1740.6 1476.7,1738.5 1481.2,1736.9 1485.8,1734.4 1490.3,1730.6 1494.8,1721.4 1499.3,1716.4 1503.8,1714.2 1508.3,1712.1 1512.8,1710.1 1517.3,1707.6 1521.9,1704.5 1526.4,1697.4 1530.9,1689.0 1535.4,1683.5 1539.9,1679.1 1544.4,1675.1 1548.9,1672.9 1553.5,1670.4 1558.0,1657.9 1562.5,1650.7 1567.0,1645.4 1571.5,1641.8 1576.0,1640.6 1580.5,1639.9 1585.0,1637.1 1589.6,1631.9 1594.1,1624.7 1598.6,1620.8 1603.1,1618.6 1607.6,1616.1 1612.1,1611.2 1616.6,1605.3 1621.2,1600.5 1625.7,1598.2 1630.2,1596.7 1634.7,1595.5 1639.2,1594.1 1643.7,1591.9 1648.2,1589.2 1652.8,1586.7 1657.3,1585.0 1661.8,1584.6 1666.3,1584.6 1670.8,1584.6 1675.3,1563.4 1679.8,1540.6 1684.3,1512.9 1688.9,1491.9 1693.4,1477.4 1697.9,1467.2 1702.4,1453.9 1706.9,1434.7 1711.4,1411.6 1715.9,1388.1 1720.5,1370.4 1725.0,1365.7 1729.5,1361.6 1734.0,1357.4 1738.5,1355.5 1743.0,1352.2 1747.5,1343.0 1752.0,1337.4 1756.6,1334.6 1761.1,1332.6 1765.6,1330.5 1770.1,1327.2 1774.6,1323.2 1779.1,1318.7 1783.6,1317.3 1788.2,1317.3 1792.7,1317.3 1797.2,1317.3 1801.7,1317.3 1806.2,1317.3 1810.7,1317.3 1815.2,1317.3 1819.7,1317.3 1824.3,1317.0 1828.8,1316.0 1833.3,1314.4 1837.8,1312.2 1842.3,1309.9 1846.8,1307.4 1851.3,1305.7 1855.9,1304.4 1860.4,1303.3 1864.9,1301.1 1869.4,1298.3 1873.9,1295.2 1878.4,1294.2 1882.9,1293.2 1887.5,1292.5 1892.0,1292.0 1896.5,1291.0 1901.0,1289.7 1905.5,1288.0 1910.0,1286.3 1914.5,1285.0 1919.0,1284.2 1923.6,1283.0 1928.1,1281.7 1932.6,1280.4 1937.1,1279.1 1941.6,1278.0 1946.1,1276.9 1950.6,1276.2 1955.2,1275.6 1959.7,1274.2 1964.2,1272.7 1968.7,1271.3 1973.2,1269.8 1977.7,1269.3 1982.2,1269.0 1986.7,1268.6 1991.3,1267.7 1995.8,1265.7 2000.3,1264.1 2004.8,1262.3 2009.3,1260.8 2013.8,1259.9 2018.3,1258.6 2022.9,1257.0 2027.4,1254.3 2031.9,1252.0 2036.4,1249.8 2040.9,1248.1 2045.4,1247.2 2049.9,1245.2 2052.1,1244.4" stroke="#ffe080"/>
<path d="M59.5,2202.8 64.0,2202.7 68.5,2202.7 73.0,2202.6 77.6,2202.5 82.1,2202.4 86.6,2202.4 91.1,2202.3 95.6,2202.2 100.1,2202.0 104.6,2201.7 109.1,2201.4 113.7,2201.1 118.2,2200.9 122.7,2200.7 127.2,2200.0 131.7,2198.9 136.2,2197.7 140.7,2196.8 145.3,2196.1 149.8,2195.1 154.3,2194.0 158.8,2192.2 163.3,2190.2 167.8,2188.5 172.3,2187.2 176.8,2186.3 181.4,2185.5 185.9,2184.4 190.4,2183.2 194.9,2181.1 199.4,2177.9 203.9,2175.0 208.4,2172.7 213.0,2171.2 217.5,2169.2 222.0,2166.6 226.5,2163.5 231.0,2160.4 235.5,2158.2 240.0,2156.6 244.6,2155.4 249.1,2153.8 253.6,2152.0 258.1,2150.7 262.6,2149.5 267.1,2148.5 271.6,2145.2 276.1,2142.6 280.7,2140.1 285.2,2135.6 289.7,2132.5 294.2,2129.1 298.7,2126.9 303.2,2125.1 307.7,2124.0 312.3,2122.4 316.8,2120.5 321.3,2118.1 325.8,2116.4 330.3,2114.9 334.8,2113.5 339.3,2112.6 343.8,2111.4 348.4,2109.6 352.9,2107.0 357.4,2104.7 361.9,2102.5 366.4,2100.8 370.9,2099.7 375.4,2098.2 380.0,2096.8 384.5,2094.9 389.0,2093.1 393.5,2091.7 398.0,2090.4 402.5,2090.1 407.0,2090.1 411.5,2090.1 416.1,2090.1 420.6,2090.1 425.1,2090.1 429.6,2090.1 434.1,2090.1 438.6,2090.1 443.1,2090.1 447.7,2090.1 452.2,2090.1 456.7,2090.0 461.2,2089.7 465.7,2089.2 470.2,2088.7 474.7,2087.9 479.3,2086.6 483.8,2085.2 488.3,2084.2 492.8,2083.6 497.3,2083.1 501.8,2082.5 506.3,2081.6 510.8,2080.5 515.4,2079.4 519.9,2078.7 524.4,2078.0 528.9,2077.6 533.4,2077.1 537.9,2076.5 542.4,2075.9 547.0,2075.3 551.5,2075.0 556.0,2074.7 560.5,2074.4 565.0,2074.1 569.5,2073.6 574.0,2073.1 578.5,2072.5 583.1,2071.8 587.6,2071.2 592.1,2070.7 596.6,2070.0 601.1,2069.3 605.6,2068.3 610.1,2067.5 614.7,2067.0 619.2,2066.6 623.7,2066.4 628.2,2066.2 632.7,2065.9 637.2,2065.5 641.7,2065.1 646.2,2064.8 650.8,2064.5 655.3,2064.1 659.8,2063.7 664.3,2063.1 668.8,2062.2 673.3,2061.4 677.8,2060.5 682.4,2059.9 686.9,2059.4 691.4,2058.8 695.9,2057.8 700.4,2056.8 704.9,2055.8 709.4,2054.8 714.0,2053.9 718.5,2053.3 723.0,2052.4 727.5,2051.4 732.0,2050.2 736.5,2049.0 741.0,2047.8 745.5,2046.9 750.1,2046.2 754.6,2045.3 759.1,2044.2 763.6,2042.7 768.1,2041.5 772.6,2040.2 777.1,2039.3 781.7,2038.5 786.2,2037.5 790.7,2036.3 795.2,2034.7 799.7,2033.2 804.2,2032.1 808.7,2030.9 813.2,2030.2 817.8,2029.4 822.3,2028.1 826.8,2026.5 831.3,2025.0 835.8,2023.8 840.3,2022.8 844.8,2021.8 849.4,2021.0 853.9,2019.8 858.4,2018.6 862.9,2017.3 867.4,2016.2 871.9,2015.3 876.4,2014.6 880.9,2013.8 885.5,2013.0 890.0,2012.0 894.5,2011.2 899.0,2010.6 903.5,2010.2 908.0,2009.9 912.5,2009.6 917.1,2009.1 921.6,2008.7 926.1,2008.2 930.6,2007.8 935.1,2007.5 939.6,2007.2 944.1,2006.9 948.7,2006.5 953.2,2006.0 957.7,2005.5 962.2,2005.1 966.7,2004.7 971.2,2004.4 975.7,2004.1 980.2,2003.5 984.8,2002.7 989.3,2001.6 993.8,2000.8 998.3,2000.2 1002.8,1999.6 1007.3,1998.8 1011.8,1998.0 1016.4,1997.1 1020.9,1996.4 1025.4,1995.9 1029.9,1995.4 1034.4,1995.2 1038.9,1994.8 1043.4,1994.2 1047.9,1993.5 1052.5,1992.5 1057.0,1991.6 1061.5,1991.0 1066.0,1990.4 1070.5,1989.8 1075.0,1989.1 1079.5,1988.5 1084.1,1987.9 1088.6,1987.3 1093.1,1986.3 1097.6,1985.3 1102.1,1984.5 1106.6,1983.0 1111.1,1981.3 1115.6,1980.8 1120.2,1980.4 1124.7,1980.2 1129.2,1979.9 1133.7,1979.6 1138.2,1978.0 1142.7,1976.2 1147.2,1974.0 1151.8,1973.0 1156.3,1973.0 1160.8,1973.0 1165.3,1973.0 1169.8,1973.0 1174.3,1969.7 1178.8,1968.2 1183.4,1967.7 1187.9,1967.4 1192.4,1967.0 1196.9,1966.1 1201.4,1964.2 1205.9,1962.8 1210.4,1961.3 1214.9,1960.2 1219.5,1959.4 1224.0,1958.7 1228.5,1958.0 1233.0,1956.8 1237.5,1954.5 1242.0,1952.3 1246.5,1949.9 1251.1,1948.4 1255.6,1947.2 1260.1,1946.3 1264.6,1945.2 1269.1,1943.0 1273.6,1939.9 1278.1,1939.1 1282.6,1938.7 1287.2,1938.1 1291.7,1937.6 1296.2,1936.7 1300.7,1928.5 1305.2,1923.3 1309.7,1919.9 1314.2,1916.5 1318.8,1915.5 1323.3,1914.9 1327.8,1913.9 1332.3,1911.2 1336.8,1908.2 1341.3,1905.1 1345.8,1904.6 1350.3,1904.6 1354.9,1904.6 1359.4,1903.8 1363.9,1901.3 1368.4,1898.8 1372.9,1894.9 1377.4,1892.7 1381.9,1891.5 1386.5,1890.3 1391.0,1888.3 1395.5,1884.1 1400.0,1880.7 1404.5,1878.2 1409.0,1876.6 1413.5,1875.9 1418.1,1874.8 1422.6,1873.7 1427.1,1866.8 1431.6,1859.9 1436.1,1856.5 1440.6,1855.8 1445.1,1855.4 1449.6,1854.7 1454.2,1853.2 1458.7,1850.5 1463.2,1846.9 1467.7,1843.5 1472.2,1840.6 1476.7,1838.4 1481.2,1835.9 1485.8,1832.8 1490.3,1828.5 1494.8,1824.1 1499.3,1820.7 1503.8,1818.5 1508.3,1815.8 1512.8,1813.3 1517.3,1810.3 1521.9,1805.5 1526.4,1801.7 1530.9,1797.9 1535.4,1795.6 1539.9,1793.1 1544.4,1790.7 1548.9,1787.2 1553.5,1783.2 1558.0,1779.1 1562.5,1775.5 1567.0,1772.4 1571.5,1770.5 1576.0,1768.4 1580.5,1765.2 1585.0,1761.5 1589.6,1758.2 1594.1,1755.0 1598.6,1753.1 1603.1,1751.2 1607.6,1749.5 1612.1,1746.6 1616.6,1743.8 1621.2,1740.7 1625.7,1738.3 1630.2,1736.6 1634.7,1735.1 1639.2,1733.7 1643.7,1732.5 1648.2,1731.0 1652.8,1729.6 1657.3,1728.5 1661.8,1727.7 1666.3,1727.1 1670.8,1726.4 1675.3,1724.9 1679.8,1721.6 1684.3,1719.1 1688.9,1716.8 1693.4,1715.2 1697.9,1713.8 1702.4,1713.5 1706.9,1713.2 1711.4,1711.0 1715.9,1708.6 1720.5,1706.4 1725.0,1705.4 1729.5,1705.2 1734.0,1704.9 1738.5,1703.8 1743.0,1702.2 1747.5,1700.7 1752.0,1699.3 1756.6,1698.4 1761.1,1697.6 1765.6,1697.0 1770.1,1696.4 1774.6,1695.5 1779.1,1694.6 1783.6,1693.8 1788.2,1693.1 1792.7,1692.6 1797.2,1692.1 1801.7,1691.6 1806.2,1690.8 1810.7,1690.0 1815.2,1689.2 1819.7,1688.8 1824.3,1688.2 1828.8,1687.9 1833.3,1687.3 1837.8,1686.7 1842.3,1686.0 1846.8,1685.3 1851.3,1684.7 1855.9,1684.3 1860.4,1683.8 1864.9,1683.1 1869.4,1682.1 1873.9,1680.9 1878.4,1680.0 1882.9,1679.4 1887.5,1679.0 1892.0,1678.6 1896.5,1678.1 1901.0,1677.5 1905.5,1676.7 1910.0,1675.3 1914.5,1674.6 1919.0,1674.0 1923.6,1674.0 1928.1,1673.7 1932.6,1672.6 1937.1,1671.5 1941.6,1670.8 1946.1,1670.0 1950.6,1669.4 1955.2,1668.5 1959.7,1667.5 1964.2,1666.2 1968.7,1664.7 1973.2,1663.1 1977.7,1662.0 1982.2,1661.1 1986.7,1660.2 1991.3,1659.2 1995.8,1658.0 2000.3,1657.0 2004.8,1656.0 2009.3,1655.6 2013.8,1655.1 2018.3,1654.5 2022.9,1653.8 2027.4,1653.0 2031.9,1651.9 2036.4,1651.1 2040.9,1650.4 2045.4,1650.1 2049.9,1649.5 2052.1,1649.2" stroke="#adcdea"/>
<path d="M59.5,2202.8 64.0,2202.8 68.5,2202.8 73.0,2202.8 77.6,2202.8 82.1,2202.8 86.6,2202.8 91.1,2202.8 95.6,2202.8 100.1,2202.8 104.6,2202.8 109.1,2202.8 113.7,2202.8 118.2,2202.8 122.7,2202.8 127.2,2202.8 131.7,2202.8 136.2,2202.8 140.7,2202.8 145.3,2202.8 149.8,2202.8 154.3,2202.8 158.8,2202.8 163.3,2202.8 167.8,2202.8 172.3,2202.7 176.8,2202.6 181.4,2202.5 185.9,2202.5 190.4,2202.4 194.9,2202.3 199.4,2202.1 203.9,2202.0 208.4,2201.7 213.0,2201.6 217.5,2201.3 222.0,2201.2 226.5,2200.9 231.0,2200.5 235.5,2200.0 240.0,2199.6 244.6,2199.2 249.1,2198.8 253.6,2198.5 258.1,2198.1 262.6,2197.5 267.1,2196.7 271.6,2195.9 276.1,2195.3 280.7,2194.6 285.2,2193.8 289.7,2193.0 294.2,2191.7 298.7,2190.4 303.2,2189.2 307.7,2188.2 312.3,2187.4 316.8,2186.7 321.3,2185.8 325.8,2184.8 330.3,2183.8 334.8,2183.0 339.3,2182.4 343.8,2182.0 348.4,2181.5 352.9,2180.9 357.4,2180.1 361.9,2179.4 366.4,2178.8 370.9,2178.3 375.4,2177.9 380.0,2177.5 384.5,2177.1 389.0,2176.6 393.5,2176.0 398.0,2175.6 402.5,2175.3 407.0,2175.1 411.5,2174.8 416.1,2174.6 420.6,2174.2 425.1,2173.9 429.6,2173.7 434.1,2173.4 438.6,2173.2 443.1,2173.1 447.7,2172.9 452.2,2172.6 456.7,2172.3 461.2,2172.0 465.7,2171.7 470.2,2171.5 474.7,2171.3 479.3,2170.9 483.8,2170.4 488.3,2170.0 492.8,2169.4 497.3,2169.0 501.8,2168.8 506.3,2168.4 510.8,2168.0 515.4,2167.5 519.9,2167.0 524.4,2166.6 528.9,2166.4 533.4,2166.2 537.9,2166.0 542.4,2165.8 547.0,2165.6 551.5,2165.4 556.0,2165.2 560.5,2165.1 565.0,2165.0 569.5,2164.9 574.0,2164.8 578.5,2164.6 583.1,2164.5 587.6,2164.3 592.1,2164.2 596.6,2164.1 601.1,2164.0 605.6,2163.9 610.1,2163.7 614.7,2163.5 619.2,2163.4 623.7,2163.3 628.2,2163.1 632.7,2163.0 637.2,2162.9 641.7,2162.7 646.2,2162.6 650.8,2162.4 655.3,2162.2 659.8,2162.1 664.3,2161.9 668.8,2161.7 673.3,2161.5 677.8,2161.1 682.4,2160.9 686.9,2160.6 691.4,2160.3 695.9,2160.1 700.4,2159.8 704.9,2159.3 709.4,2158.8 714.0,2158.3 718.5,2157.9 723.0,2157.5 727.5,2157.1 732.0,2156.7 736.5,2156.1 741.0,2155.3 745.5,2154.6 750.1,2154.0 754.6,2153.5 759.1,2152.9 763.6,2152.1 768.1,2150.7 772.6,2149.3 777.1,2147.7 781.7,2146.5 786.2,2145.5 790.7,2144.4 795.2,2143.1 799.7,2141.4 804.2,2139.5 808.7,2138.0 813.2,2136.6 817.8,2135.8 822.3,2134.9 826.8,2133.6 831.3,2132.0 835.8,2130.1 840.3,2128.6 844.8,2127.3 849.4,2126.3 853.9,2125.1 858.4,2124.0 862.9,2122.1 867.4,2120.3 871.9,2118.4 876.4,2117.2 880.9,2116.0 885.5,2114.7 890.0,2113.3 894.5,2111.4 899.0,2109.4 903.5,2107.4 908.0,2105.8 912.5,2104.4 917.1,2103.3 921.6,2101.4 926.1,2099.5 930.6,2096.9 935.1,2094.8 939.6,2093.1 944.1,2091.6 948.7,2090.3 953.2,2088.8 957.7,2086.5 962.2,2084.0 966.7,2081.3 971.2,2079.5 975.7,2078.1 980.2,2076.2 984.8,2074.3 989.3,2071.7 993.8,2068.9 998.3,2066.6 1002.8,2064.7 1007.3,2063.3 1011.8,2061.9 1016.4,2060.2 1020.9,2058.5 1025.4,2056.4 1029.9,2055.1 1034.4,2054.0 1038.9,2053.2 1043.4,2052.3 1047.9,2051.1 1052.5,2049.7 1057.0,2048.1 1061.5,2046.5 1066.0,2045.3 1070.5,2044.2 1075.0,2043.4 1079.5,2041.9 1084.1,2040.6 1088.6,2038.8 1093.1,2037.3 1097.6,2036.0 1102.1,2034.9 1106.6,2034.0 1111.1,2032.6 1115.6,2029.1 1120.2,2025.7 1124.7,2024.9 1129.2,2024.3 1133.7,2023.0 1138.2,2021.8 1142.7,2019.9 1147.2,2017.8 1151.8,2015.4 1156.3,2013.0 1160.8,2011.1 1165.3,2009.5 1169.8,2008.5 1174.3,2007.5 1178.8,2005.8 1183.4,2004.0 1187.9,1998.6 1192.4,1994.8 1196.9,1990.2 1201.4,1986.2 1205.9,1979.7 1210.4,1972.9 1214.9,1971.1 1219.5,1968.3 1224.0,1964.3 1228.5,1962.0 1233.0,1957.8 1237.5,1952.0 1242.0,1947.4 1246.5,1942.7 1251.1,1935.2 1255.6,1930.5 1260.1,1927.4 1264.6,1925.1 1269.1,1921.4 1273.6,1913.8 1278.1,1906.9 1282.6,1903.0 1287.2,1899.8 1291.7,1898.0 1296.2,1895.8 1300.7,1890.5 1305.2,1876.8 1309.7,1866.5 1314.2,1860.1 1318.8,1857.2 1323.3,1851.9 1327.8,1843.6 1332.3,1831.8 1336.8,1821.7 1341.3,1812.6 1345.8,1802.2 1350.3,1795.9 1354.9,1789.6 1359.4,1783.7 1363.9,1775.5 1368.4,1765.7 1372.9,1754.7 1377.4,1745.0 1381.9,1737.7 1386.5,1736.3 1391.0,1735.3 1395.5,1724.1 1400.0,1706.0 1404.5,1691.4 1409.0,1683.9 1413.5,1678.9 1418.1,1676.5 1422.6,1674.4 1427.1,1664.8 1431.6,1651.6 1436.1,1639.9 1440.6,1631.6 1445.1,1625.8 1449.6,1624.9 1454.2,1621.7 1458.7,1606.3 1463.2,1568.6 1464.2,1556.9 1467.0,1511.0 1472.2,1508.8 1476.7,1508.8 1481.2,1508.8 1485.8,1508.8 1490.3,1508.8 1494.8,1508.8 1499.3,1499.3 1503.8,1482.0 1508.3,1470.2 1512.8,1462.2 1517.3,1457.3 1521.9,1450.3 1526.4,1441.4 1530.9,1431.7 1535.4,1423.4 1539.9,1417.5 1544.4,1412.5 1548.9,1404.1 1553.5,1394.7 1558.0,1380.0 1562.5,1366.0 1567.0,1358.6 1571.5,1356.9 1576.0,1356.0 1580.5,1355.2 1585.0,1353.0 1589.6,1347.1 1594.1,1332.9 1598.6,1323.7 1603.1,1318.7 1607.6,1315.2 1612.1,1309.7 1616.6,1303.0 1621.2,1294.6 1625.7,1288.3 1630.2,1281.5 1634.7,1277.9 1639.2,1276.8 1643.7,1275.8 1648.2,1274.7 1652.8,1273.2 1657.3,1268.8 1661.8,1264.1 1666.3,1259.0 1670.8,1255.5 1675.3,1253.8 1679.8,1251.5 1684.3,1248.4 1688.9,1245.0 1693.4,1242.5 1697.9,1239.9 1702.4,1238.8 1706.9,1238.0 1711.4,1236.8 1715.9,1235.4 1720.5,1234.1 1725.0,1232.2 1729.5,1231.0 1734.0,1230.2 1738.5,1229.2 1743.0,1228.0 1747.5,1226.3 1752.0,1224.5 1756.6,1188.9 1761.1,1148.0 1765.6,1145.6 1770.1,1142.9 1774.6,1139.3 1779.1,1134.9 1783.6,1128.5 1788.2,1118.2 1792.7,1113.7 1797.2,1111.8 1801.7,1109.0 1806.2,1107.1 1810.7,1104.6 1815.2,1102.4 1819.7,1100.3 1824.3,1098.7 1828.8,1097.3 1833.3,1095.6 1837.8,1094.1 1842.3,1083.9 1846.8,1078.1 1851.3,1076.4 1855.9,1075.3 1860.4,1074.2 1864.9,1073.1 1869.4,1069.7 1873.9,1065.9 1878.4,1060.8 1882.9,1056.7 1887.5,1055.7 1892.0,1055.1 1896.5,1054.4 1901.0,1053.5 1905.5,1050.6 1910.0,1044.8 1914.5,1040.6 1919.0,1038.7 1923.6,1037.2 1928.1,1035.1 1932.6,1032.4 1937.1,1028.9 1941.6,1025.4 1946.1,1022.7 1950.6,1022.5 1955.2,1022.3 1959.7,1022.2 1964.2,1049.0 1968.7,1086.8 1973.2,1085.3 1977.7,1084.0 1982.2,1082.9 1986.7,1080.5 1991.3,1074.8 1995.8,1064.0 2000.3,1051.7 2004.8,1038.9 2009.3,1036.3 2013.8,1036.3 2018.3,1036.3 2022.9,1036.3 2027.4,1036.3 2031.9,1036.3 2036.4,1036.3 2040.9,1036.3 2045.4,1036.3 2049.9,1036.3 2052.1,1036.3" stroke="#b7d8a1"/>
<path d="M59.5,2202.8 64.0,2202.8 68.5,2202.8 73.0,2202.8 77.6,2202.8 82.1,2202.8 86.6,2202.8 91.1,2202.8 95.6,2202.8 100.1,2202.8 104.6,2202.8 109.1,2202.8 113.7,2202.8 118.2,2202.8 122.7,2202.8 127.2,2202.8 131.7,2202.8 136.2,2202.8 140.7,2202.8 145.3,2202.8 149.8,2202.7 154.3,2202.6 158.8,2202.4 163.3,2202.2 167.8,2201.8 172.3,2201.4 176.8,2201.1 181.4,2200.8 185.9,2200.5 190.4,2200.0 194.9,2199.5 199.4,2198.8 203.9,2198.0 208.4,2197.2 213.0,2196.2 217.5,2195.4 222.0,2194.0 226.5,2192.1 231.0,2190.1 235.5,2188.2 240.0,2186.7 244.6,2185.4 249.1,2184.1 253.6,2182.5 258.1,2180.7 262.6,2179.0 267.1,2177.5 271.6,2176.4 276.1,2175.7 280.7,2174.7 285.2,2173.5 289.7,2172.1 294.2,2170.5 298.7,2169.3 303.2,2168.2 307.7,2167.5 312.3,2166.6 316.8,2165.5 321.3,2164.0 325.8,2162.6 330.3,2161.4 334.8,2160.4 339.3,2159.7 343.8,2158.8 348.4,2157.7 352.9,2156.3 357.4,2155.1 361.9,2153.8 366.4,2152.8 370.9,2152.2 375.4,2151.4 380.0,2150.2 384.5,2149.1 389.0,2147.6 393.5,2146.4 398.0,2145.4 402.5,2144.5 407.0,2143.8 411.5,2142.5 416.1,2141.2 420.6,2139.6 425.1,2138.2 429.6,2137.0 434.1,2136.1 438.6,2135.3 443.1,2134.2 447.7,2132.5 452.2,2131.1 456.7,2129.7 461.2,2128.9 465.7,2128.1 470.2,2127.3 474.7,2126.2 479.3,2125.0 483.8,2123.8 488.3,2122.6 492.8,2121.7 497.3,2121.0 501.8,2120.4 506.3,2119.5 510.8,2118.3 515.4,2117.2 519.9,2116.3 524.4,2115.6 528.9,2115.0 533.4,2114.3 537.9,2113.4 542.4,2112.5 547.0,2111.3 551.5,2110.4 556.0,2109.5 560.5,2109.0 565.0,2108.4 569.5,2107.5 574.0,2106.6 578.5,2105.6 583.1,2104.8 587.6,2104.1 592.1,2103.6 596.6,2103.2 601.1,2102.6 605.6,2101.9 610.1,2101.2 614.7,2100.7 619.2,2100.4 623.7,2100.0 628.2,2099.8 632.7,2099.4 637.2,2099.1 641.7,2098.7 646.2,2098.3 650.8,2098.0 655.3,2097.8 659.8,2097.5 664.3,2097.1 668.8,2096.6 673.3,2095.9 677.8,2095.2 682.4,2094.7 686.9,2094.2 691.4,2093.7 695.9,2093.0 700.4,2092.1 704.9,2090.8 709.4,2089.9 714.0,2089.0 718.5,2088.4 723.0,2087.7 727.5,2086.9 732.0,2085.8 736.5,2084.6 741.0,2083.5 745.5,2082.8 750.1,2082.2 754.6,2081.5 759.1,2080.7 763.6,2079.7 768.1,2078.5 772.6,2077.4 777.1,2076.7 781.7,2076.2 786.2,2075.5 790.7,2074.6 795.2,2073.5 799.7,2072.4 804.2,2071.4 808.7,2070.6 813.2,2070.1 817.8,2069.6 822.3,2068.7 826.8,2067.8 831.3,2066.7 835.8,2065.9 840.3,2065.2 844.8,2064.8 849.4,2064.1 853.9,2063.5 858.4,2062.6 862.9,2061.6 867.4,2060.8 871.9,2060.1 876.4,2059.5 880.9,2059.0 885.5,2058.3 890.0,2057.2 894.5,2056.2 899.0,2055.2 903.5,2054.4 908.0,2053.8 912.5,2053.3 917.1,2052.4 921.6,2051.3 926.1,2050.2 930.6,2049.1 935.1,2048.4 939.6,2047.8 944.1,2047.2 948.7,2046.2 953.2,2045.2 957.7,2044.1 962.2,2043.3 966.7,2042.5 971.2,2042.1 975.7,2041.5 980.2,2040.9 984.8,2040.0 989.3,2039.0 993.8,2038.2 998.3,2037.5 1002.8,2036.9 1007.3,2036.3 1011.8,2035.4 1016.4,2034.0 1020.9,2032.8 1025.4,2031.3 1029.9,2029.8 1034.4,2028.2 1038.9,2027.1 1043.4,2025.1 1047.9,2022.7 1052.5,2020.0 1057.0,2016.6 1061.5,2014.3 1066.0,2011.8 1070.5,2009.5 1075.0,2006.6 1079.5,2001.8 1084.1,1997.3 1088.6,1993.5 1093.1,1990.9 1097.6,1988.4 1102.1,1985.4 1106.6,1982.6 1111.1,1978.2 1115.6,1973.5 1120.2,1969.0 1124.7,1965.7 1129.2,1963.5 1133.7,1960.7 1138.2,1956.3 1142.7,1951.0 1147.2,1945.4 1151.8,1940.3 1156.3,1937.1 1160.8,1934.2 1165.3,1930.2 1169.8,1926.1 1174.3,1920.4 1178.8,1914.7 1183.4,1909.5 1187.9,1906.4 1192.4,1903.0 1196.9,1899.2 1201.4,1895.0 1205.9,1889.3 1210.4,1883.8 1214.9,1878.3 1219.5,1873.3 1224.0,1870.3 1228.5,1866.6 1233.0,1861.4 1237.5,1855.2 1242.0,1847.8 1246.5,1842.9 1251.1,1838.1 1255.6,1834.9 1260.1,1831.4 1264.6,1826.1 1269.1,1817.6 1273.6,1806.8 1278.1,1796.1 1282.6,1788.3 1287.2,1783.2 1291.7,1776.9 1296.2,1770.2 1300.7,1761.8 1305.2,1754.6 1309.7,1747.8 1314.2,1743.5 1318.8,1739.8 1323.3,1735.5 1327.8,1729.9 1332.3,1723.8 1336.8,1716.6 1341.3,1711.4 1345.8,1707.2 1350.3,1703.4 1354.9,1699.3 1359.4,1692.0 1363.9,1682.6 1368.4,1669.3 1372.9,1661.9 1377.4,1655.1 1381.9,1649.7 1386.5,1645.7 1391.0,1640.3 1395.5,1636.1 1400.0,1621.1 1404.5,1612.2 1409.0,1609.5 1413.5,1607.4 1418.1,1606.4 1422.6,1605.1 1427.1,1598.2 1431.6,1589.5 1436.1,1582.8 1440.6,1581.4 1445.1,1580.5 1449.6,1580.1 1454.2,1580.1 1458.7,1574.3 1463.2,1562.6 1467.7,1555.1 1472.2,1551.0 1476.7,1548.8 1481.2,1547.4 1485.8,1545.5 1490.3,1541.5 1494.8,1535.7 1499.3,1528.7 1503.8,1524.0 1508.3,1518.5 1512.8,1512.2 1517.3,1506.7 1521.9,1504.1 1526.4,1501.0 1530.9,1496.2 1535.4,1491.7 1539.9,1486.8 1544.4,1480.7 1548.9,1478.3 1553.5,1475.9 1558.0,1470.7 1562.5,1464.3 1567.0,1462.1 1571.5,1459.7 1576.0,1457.7 1580.5,1452.9 1585.0,1448.8 1589.6,1443.1 1594.1,1439.1 1598.6,1436.4 1603.1,1434.3 1607.6,1432.5 1612.1,1431.1 1616.6,1427.0 1621.2,1421.8 1625.7,1420.0 1630.2,1418.4 1634.7,1417.0 1639.2,1416.0 1643.7,1415.3 1648.2,1412.1 1652.8,1408.6 1657.3,1407.0 1661.8,1404.8 1666.3,1402.8 1670.8,1402.3 1675.3,1401.6 1679.8,1400.8 1684.3,1394.4 1688.9,1389.4 1693.4,1388.1 1697.9,1387.6 1702.4,1387.1 1706.9,1386.5 1711.4,1384.2 1715.9,1380.6 1720.5,1378.0 1725.0,1377.4 1729.5,1377.0 1734.0,1376.5 1738.5,1375.7 1743.0,1374.7 1747.5,1372.6 1752.0,1371.2 1756.6,1370.9 1761.1,1370.7 1765.6,1370.5 1770.1,1370.2 1774.6,1369.9 1779.1,1367.6 1783.6,1366.2 1788.2,1365.6 1792.7,1364.9 1797.2,1364.6 1801.7,1364.6 1806.2,1364.6 1810.7,1362.0 1815.2,1361.6 1819.7,1361.6 1824.3,1361.6 1828.8,1361.6 1833.3,1361.6 1837.8,1361.0 1842.3,1358.9 1846.8,1358.2 1851.3,1358.0 1855.9,1357.7 1860.4,1357.4 1864.9,1357.1 1869.4,1355.6 1873.9,1354.2 1878.4,1352.7 1882.9,1352.2 1887.5,1351.9 1892.0,1351.6 1896.5,1351.2 1901.0,1350.7 1905.5,1350.2 1910.0,1349.8 1914.5,1349.5 1919.0,1349.3 1923.6,1349.1 1928.1,1348.6 1932.6,1347.8 1937.1,1346.9 1941.6,1346.2 1946.1,1345.5 1950.6,1345.0 1955.2,1344.3 1959.7,1343.6 1964.2,1341.9 1968.7,1339.5 1973.2,1337.1 1977.7,1334.9 1982.2,1333.4 1986.7,1332.2 1991.3,1330.3 1995.8,1328.5 2000.3,1326.6 2004.8,1324.9 2009.3,1324.1 2013.8,1323.3 2018.3,1322.6 2022.9,1321.6 2027.4,1320.4 2031.9,1318.6 2036.4,1316.9 2040.9,1316.3 2045.4,1316.2 2049.9,1315.9 2052.1,1315.8" stroke="#4472c4"/>
<path d="M59.5,2202.8 64.0,2202.8 68.5,2202.8 73.0,2202.8 77.6,2202.8 82.1,2202.8 86.6,2202.8 91.1,2202.8 95.6,2202.8 100.1,2202.8 104.6,2202.8 109.1,2202.8 113.7,2202.8 118.2,2202.8 122.7,2202.8 127.2,2202.8 131.7,2202.8 136.2,2202.8 140.7,2202.8 145.3,2202.8 149.8,2202.8 154.3,2202.8 158.8,2202.8 163.3,2202.8 167.8,2202.8 172.3,2202.8 176.8,2202.8 181.4,2202.8 185.9,2202.7 190.4,2202.6 194.9,2202.5 199.4,2202.4 203.9,2202.3 208.4,2202.2 213.0,2202.1 217.5,2202.0 222.0,2201.8 226.5,2201.6 231.0,2201.4 235.5,2201.3 240.0,2201.1 244.6,2201.0 249.1,2200.8 253.6,2200.5 258.1,2200.3 262.6,2200.1 267.1,2199.8 271.6,2199.6 276.1,2199.3 280.7,2198.9 285.2,2198.3 289.7,2197.8 294.2,2197.2 298.7,2196.7 303.2,2196.3 307.7,2196.1 312.3,2195.6 316.8,2195.0 321.3,2194.5 325.8,2194.1 330.3,2193.9 334.8,2193.8 339.3,2193.7 343.8,2193.5 348.4,2193.4 352.9,2193.3 357.4,2193.2 361.9,2193.1 366.4,2193.1 370.9,2193.0 375.4,2192.9 380.0,2192.8 384.5,2192.7 389.0,2192.5 393.5,2192.4 398.0,2192.3 402.5,2192.1 407.0,2191.7 411.5,2191.1 416.1,2190.3 420.6,2189.6 425.1,2189.0 429.6,2188.3 434.1,2187.6 438.6,2186.9 443.1,2185.8 447.7,2184.7 452.2,2183.9 456.7,2183.4 461.2,2183.0 465.7,2182.5 470.2,2182.1 474.7,2181.7 479.3,2181.4 483.8,2181.2 488.3,2181.0 492.8,2180.9 497.3,2180.8 501.8,2180.6 506.3,2180.5 510.8,2180.3 515.4,2180.2 519.9,2180.0 524.4,2180.0 528.9,2179.8 533.4,2179.7 537.9,2179.5 542.4,2179.2 547.0,2179.0 551.5,2178.9 556.0,2178.7 560.5,2178.6 565.0,2178.4 569.5,2178.2 574.0,2177.9 578.5,2177.7 583.1,2177.6 587.6,2177.4 592.1,2177.3 596.6,2177.1 601.1,2176.8 605.6,2176.6 610.1,2176.4 614.7,2176.3 619.2,2176.2 623.7,2176.0 628.2,2175.9 632.7,2175.7 637.2,2175.5 641.7,2175.4 646.2,2175.2 650.8,2175.1 655.3,2175.0 659.8,2174.8 664.3,2174.6 668.8,2174.4 673.3,2174.1 677.8,2174.0 682.4,2173.8 686.9,2173.6 691.4,2173.3 695.9,2173.0 700.4,2172.6 704.9,2172.3 709.4,2172.1 714.0,2171.8 718.5,2171.5 723.0,2171.2 727.5,2170.8 732.0,2170.4 736.5,2170.0 741.0,2169.7 745.5,2169.5 750.1,2169.2 754.6,2168.9 759.1,2168.5 763.6,2168.1 768.1,2167.7 772.6,2167.4 777.1,2167.2 781.7,2166.9 786.2,2166.5 790.7,2166.1 795.2,2165.5 799.7,2165.1 804.2,2164.7 808.7,2164.4 813.2,2164.0 817.8,2163.6 822.3,2162.7 826.8,2161.8 831.3,2161.0 835.8,2160.1 840.3,2159.6 844.8,2158.7 849.4,2157.7 853.9,2156.5 858.4,2155.2 862.9,2154.2 867.4,2153.5 871.9,2152.7 876.4,2152.1 880.9,2151.1 885.5,2150.2 890.0,2149.4 894.5,2148.7 899.0,2148.2 903.5,2147.9 908.0,2147.4 912.5,2146.9 917.1,2146.2 921.6,2145.6 926.1,2145.1 930.6,2144.7 935.1,2144.4 939.6,2144.1 944.1,2143.6 948.7,2143.1 953.2,2142.6 957.7,2142.3 962.2,2142.1 966.7,2141.9 971.2,2141.7 975.7,2141.4 980.2,2141.1 984.8,2140.8 989.3,2140.6 993.8,2140.4 998.3,2140.2 1002.8,2140.0 1007.3,2139.8 1011.8,2139.4 1016.4,2139.0 1020.9,2138.6 1025.4,2138.2 1029.9,2137.7 1034.4,2137.2 1038.9,2136.4 1043.4,2135.5 1047.9,2134.7 1052.5,2134.1 1057.0,2133.8 1061.5,2133.5 1066.0,2133.2 1070.5,2132.8 1075.0,2132.3 1079.5,2128.3 1084.1,2126.0 1088.6,2125.8 1093.1,2125.6 1097.6,2125.4 1102.1,2125.2 1106.6,2124.8 1111.1,2123.4 1115.6,2121.0 1120.2,2115.6 1124.7,2115.5 1129.2,2115.3 1133.7,2115.2 1138.2,2113.8 1142.7,2103.0 1147.2,2102.4 1151.8,2090.9 1156.3,2090.9 1160.8,2090.9 1165.3,2090.9 1169.8,2086.7 1174.3,2078.1 1178.8,2067.7 1183.4,2067.3 1187.9,2067.1 1192.4,2064.6 1196.9,2056.0 1201.4,2055.1 1205.9,2039.1 1210.4,2038.8 1214.9,2038.6 1219.5,2038.4 1221.5,2038.3 1225.6,2015.8 1228.5,2015.7 1233.0,2015.3 1237.5,2007.8 1242.0,2001.3 1244.0,2002.3 1248.1,1973.7 1251.1,1973.6 1255.6,1973.4 1260.1,1973.2 1262.3,1973.0 1266.4,1941.4 1269.1,1940.4 1273.6,1922.6 1278.1,1922.5 1282.6,1922.4 1287.2,1922.3 1291.7,1922.2 1296.2,1922.0 1300.7,1909.3 1305.2,1901.6 1307.2,1902.4 1313.2,1867.8 1314.2,1867.8 1318.8,1867.5 1323.3,1867.3 1325.5,1867.1 1329.6,1840.0 1332.3,1839.0 1336.8,1828.4 1341.3,1821.0 1345.8,1814.9 1350.3,1810.2 1354.9,1804.5 1359.4,1797.0 1363.9,1789.9 1368.4,1782.6 1372.9,1776.1 1377.4,1769.4 1381.9,1764.0 1386.5,1754.2 1391.0,1743.0 1395.5,1720.5 1400.0,1719.1 1404.5,1719.1 1409.0,1719.1 1413.5,1719.1 1418.1,1719.1 1422.6,1692.4 1427.1,1676.3 1431.6,1676.3 1436.1,1676.3 1438.0,1676.3 1442.7,1632.0 1445.1,1632.0 1449.6,1632.0 1454.2,1632.0 1456.3,1632.0 1459.4,1598.2 1465.8,1597.4 1470.2,1566.6 1472.2,1566.6 1476.7,1566.6 1481.2,1566.6 1485.8,1566.6 1488.5,1566.6 1491.7,1523.8 1494.8,1523.8 1499.3,1523.8 1503.8,1523.8 1508.3,1523.8 1512.8,1523.8 1517.3,1523.8 1520.7,1523.8 1523.9,1487.0 1526.4,1487.0 1530.9,1487.0 1533.1,1487.0 1537.5,1459.2 1539.9,1458.8 1544.4,1455.4 1548.9,1452.1 1551.4,1450.2 1554.5,1426.9 1558.0,1426.9 1562.5,1426.9 1567.0,1426.9 1571.5,1426.9 1576.0,1426.9 1580.4,1426.9 1584.9,1390.1 1589.6,1390.1 1594.1,1390.1 1598.6,1390.1 1603.1,1390.1 1607.6,1390.1 1612.1,1390.1 1613.9,1390.1 1618.7,1360.8 1621.2,1360.8 1625.7,1360.8 1630.2,1360.8 1634.7,1360.8 1639.2,1360.8 1643.7,1360.8 1648.2,1341.8 1652.8,1341.3 1657.3,1341.3 1661.8,1341.3 1666.3,1341.1 1670.8,1340.9 1675.3,1340.7 1679.8,1333.2 1684.3,1329.2 1688.9,1329.1 1693.4,1329.0 1697.9,1328.9 1702.4,1328.8 1706.9,1328.6 1711.4,1318.3 1715.9,1314.2 1720.5,1314.2 1725.0,1314.2 1729.5,1314.2 1734.0,1314.2 1738.5,1314.2 1743.0,1307.9 1747.5,1302.8 1752.0,1302.7 1756.6,1302.6 1761.1,1302.6 1765.6,1302.6 1770.1,1302.4 1774.6,1301.8 1779.1,1300.5 1783.6,1300.1 1788.2,1299.8 1792.7,1299.6 1797.2,1299.1 1801.7,1298.6 1806.2,1298.3 1810.7,1298.2 1815.2,1298.2 1819.7,1298.2 1824.3,1298.1 1828.8,1298.0 1833.3,1297.8 1837.8,1295.2 1842.3,1292.5 1846.8,1292.3 1851.3,1292.2 1855.9,1292.1 1860.4,1291.9 1864.9,1291.7 1869.4,1291.4 1873.9,1291.2 1878.4,1291.0 1882.9,1290.8 1887.5,1290.6 1892.0,1290.3 1896.5,1290.0 1901.0,1289.6 1905.5,1289.2 1910.0,1289.0 1914.5,1288.7 1919.0,1288.3 1923.6,1287.7 1928.1,1286.4 1932.6,1284.9 1937.1,1284.7 1941.6,1284.7 1946.1,1284.6 1950.6,1284.6 1955.2,1284.5 1959.7,1284.4 1964.2,1282.5 1968.7,1282.0 1973.2,1282.0 1977.7,1282.0 1982.2,1282.0 1986.7,1282.0 1991.3,1281.6 1995.8,1281.2 2000.3,1280.9 2004.8,1280.6 2009.3,1280.3 2013.8,1279.9 2018.3,1279.4 2022.9,1278.7 2027.4,1278.1 2031.9,1277.5 2036.4,1277.0 2040.9,1276.7 2045.4,1276.7 2049.9,1276.7 2052.1,1276.7" stroke="#ed7d31"/>
</g>
<path d="M60.5 325.05H2171" stroke="#000" stroke-width="2.4" fill="none"/>
<path d="M60.5 700.60H2170.5" stroke="#404040" stroke-width="1.9" fill="none"/>
<path d="M60.5 950.97H2170.6" stroke="#000" stroke-width="2.0" fill="none"/>
<path d="M60.5 1129.80H2170.6" stroke="#1f3864" stroke-width="1.8" fill="none"/>
<path d="M60.5 1263.93H2170.6" stroke="#000" stroke-width="2.0" fill="none"/>
<path d="M60.5 1368.24H2170.6" stroke="#000" stroke-width="2.0" fill="none"/>
<path d="M60.5 1451.70H2170.6" stroke="#000" stroke-width="2.0" fill="none"/>
<path d="M60.5 1827.25H2171" stroke="#000" stroke-width="2.2" fill="none"/>
<text x="119.5" y="306.6" font-size="35.5" fill="#000" textLength="267.5" lengthAdjust="spacingAndGlyphs" stroke="#fff" stroke-width="7" stroke-linejoin="round" paint-order="stroke" font-family="Liberation Sans, sans-serif" font-weight="bold">1/400 residents</text>
<text x="119.5" y="683.5" font-size="35.5" fill="#000" textLength="99.4" lengthAdjust="spacingAndGlyphs" stroke="#fff" stroke-width="7" stroke-linejoin="round" paint-order="stroke" font-family="Liberation Sans, sans-serif" font-weight="bold">1/500</text>
<text x="119.5" y="936.6" font-size="35.5" fill="#000" textLength="99.4" lengthAdjust="spacingAndGlyphs" stroke="#fff" stroke-width="7" stroke-linejoin="round" paint-order="stroke" font-family="Liberation Sans, sans-serif" font-weight="bold">1/600</text>
<text x="119.5" y="1114.8" font-size="35.5" fill="#000" textLength="99.4" lengthAdjust="spacingAndGlyphs" stroke="#fff" stroke-width="7" stroke-linejoin="round" paint-order="stroke" font-family="Liberation Sans, sans-serif" font-weight="bold">1/700</text>
<text x="119.5" y="1251.3" font-size="35.5" fill="#000" textLength="99.4" lengthAdjust="spacingAndGlyphs" stroke="#fff" stroke-width="7" stroke-linejoin="round" paint-order="stroke" font-family="Liberation Sans, sans-serif" font-weight="bold">1/800</text>
<text x="119.5" y="1353.3" font-size="35.5" fill="#000" textLength="99.4" lengthAdjust="spacingAndGlyphs" stroke="#fff" stroke-width="7" stroke-linejoin="round" paint-order="stroke" font-family="Liberation Sans, sans-serif" font-weight="bold">1/900</text>
<text x="119.5" y="1441.1" font-size="35.5" fill="#000" textLength="132.0" lengthAdjust="spacingAndGlyphs" stroke="#fff" stroke-width="7" stroke-linejoin="round" paint-order="stroke" font-family="Liberation Sans, sans-serif" font-weight="bold">1/1,000</text>
<text x="119.5" y="1809.7" font-size="35.5" fill="#000" textLength="132.0" lengthAdjust="spacingAndGlyphs" stroke="#fff" stroke-width="7" stroke-linejoin="round" paint-order="stroke" font-family="Liberation Sans, sans-serif" font-weight="bold">1/2,000</text>
<text x="790.0" y="43.7" font-size="40" fill="#000" textLength="676.0" lengthAdjust="spacingAndGlyphs" stroke="#fff" stroke-width="7" stroke-linejoin="round" paint-order="stroke" font-family="Liberation Sans, sans-serif" font-weight="bold">COVID-19 Deaths/10,000 Residents</text>
<text x="808.0" y="99.0" font-size="40" fill="#000" textLength="641.0" lengthAdjust="spacingAndGlyphs" stroke="#fff" stroke-width="7" stroke-linejoin="round" paint-order="stroke" font-family="Liberation Sans, sans-serif" font-weight="bold">Cumulative - All States/Territories</text>
<text x="935.3" y="136.0" font-size="21" fill="#000" textLength="385.0" lengthAdjust="spacingAndGlyphs" stroke="#fff" stroke-width="7" stroke-linejoin="round" paint-order="stroke" font-family="Liberation Sans, sans-serif" font-weight="bold">data via Johns Hopkins University</text>
<text x="891.0" y="169.0" font-size="21" fill="#000" textLength="474.0" lengthAdjust="spacingAndGlyphs" stroke="#fff" stroke-width="7" stroke-linejoin="round" paint-order="stroke" font-family="Liberation Sans, sans-serif" font-weight="bold">graph via Charles Gaba / ACASignups.net</text>
<text x="2061.0" y="109.2" font-size="23" fill="#000" textLength="134.8" lengthAdjust="spacingAndGlyphs" stroke="#fff" stroke-width="7" stroke-linejoin="round" paint-order="stroke" font-family="Liberation Sans, sans-serif" font-weight="bold">New Jersey</text>
<text x="2061.0" y="223.9" font-size="23" fill="#000" textLength="111.8" lengthAdjust="spacingAndGlyphs" stroke="#fff" stroke-width="7" stroke-linejoin="round" paint-order="stroke" font-family="Liberation Sans, sans-serif" font-weight="bold">New York</text>
<text x="2061.0" y="309.8" font-size="23" fill="#000" textLength="165.8" lengthAdjust="spacingAndGlyphs" stroke="#fff" stroke-width="7" stroke-linejoin="round" paint-order="stroke" font-family="Liberation Sans, sans-serif" font-weight="bold">Massachusetts</text>
<text x="2061.0" y="362.9" font-size="18.2" fill="#000" textLength="235.8" lengthAdjust="spacingAndGlyphs" stroke="#fff" stroke-width="7" stroke-linejoin="round" paint-order="stroke" font-family="Liberation Sans, sans-serif" font-weight="bold">Rhode Island, Mississippi</text>
<text x="2061.0" y="387.1" font-size="18.2" fill="#000" textLength="73.5" lengthAdjust="spacingAndGlyphs" stroke="#fff" stroke-width="7" stroke-linejoin="round" paint-order="stroke" font-family="Liberation Sans, sans-serif" font-weight="bold">Arizona</text>
<text x="2061.0" y="506.7" font-size="18.2" fill="#000" textLength="212.2" lengthAdjust="spacingAndGlyphs" stroke="#fff" stroke-width="7" stroke-linejoin="round" paint-order="stroke" font-family="Liberation Sans, sans-serif" font-weight="bold">Connecticut, Louisiana</text>
<text x="2061.0" y="531.0" font-size="18.2" fill="#000" textLength="129.6" lengthAdjust="spacingAndGlyphs" stroke="#fff" stroke-width="7" stroke-linejoin="round" paint-order="stroke" font-family="Liberation Sans, sans-serif" font-weight="bold">South Dakota</text>
<text x="2061.0" y="554.5" font-size="18.2" fill="#000" textLength="83.3" lengthAdjust="spacingAndGlyphs" stroke="#fff" stroke-width="7" stroke-linejoin="round" paint-order="stroke" font-family="Liberation Sans, sans-serif" font-weight="bold">Alabama</text>
<text x="2061.0" y="650.6" font-size="18.2" fill="#000" textLength="122.8" lengthAdjust="spacingAndGlyphs" stroke="#fff" stroke-width="7" stroke-linejoin="round" paint-order="stroke" font-family="Liberation Sans, sans-serif" font-weight="bold">Pennsylvania</text>
<text x="2061.0" y="699.4" font-size="18.2" fill="#000" textLength="69.0" lengthAdjust="spacingAndGlyphs" stroke="#fff" stroke-width="7" stroke-linejoin="round" paint-order="stroke" font-family="Liberation Sans, sans-serif" font-weight="bold">Indiana</text>
<text x="2061.0" y="723.0" font-size="18.2" fill="#000" textLength="85.8" lengthAdjust="spacingAndGlyphs" stroke="#fff" stroke-width="7" stroke-linejoin="round" paint-order="stroke" font-family="Liberation Sans, sans-serif" font-weight="bold">Michigan</text>
<text x="2061.0" y="746.5" font-size="18.2" fill="#000" textLength="191.2" lengthAdjust="spacingAndGlyphs" stroke="#fff" stroke-width="7" stroke-linejoin="round" paint-order="stroke" font-family="Liberation Sans, sans-serif" font-weight="bold">New Mexico, Illinois</text>
<text x="2061.0" y="770.4" font-size="18.2" fill="#000" textLength="228.6" lengthAdjust="spacingAndGlyphs" stroke="#fff" stroke-width="7" stroke-linejoin="round" paint-order="stroke" font-family="Liberation Sans, sans-serif" font-weight="bold">North Dakota, Arkansas</text>
<text x="2061.0" y="794.3" font-size="18.2" fill="#000" textLength="283.7" lengthAdjust="spacingAndGlyphs" stroke="#fff" stroke-width="7" stroke-linejoin="round" paint-order="stroke" font-family="Liberation Sans, sans-serif" font-weight="bold">Georgia, South Carolina, Iowa</text>
<text x="2061.0" y="866.3" font-size="18.2" fill="#000" textLength="182.2" lengthAdjust="spacingAndGlyphs" stroke="#fff" stroke-width="7" stroke-linejoin="round" paint-order="stroke" font-family="Liberation Sans, sans-serif" font-weight="bold">Tennessee, Nevada</text>
<text x="2061.0" y="890.2" font-size="18.2" fill="#000" textLength="160.2" lengthAdjust="spacingAndGlyphs" stroke="#fff" stroke-width="7" stroke-linejoin="round" paint-order="stroke" font-family="Liberation Sans, sans-serif" font-weight="bold">Texas, Oklahoma</text>
<text x="2061.0" y="914.3" font-size="18.2" fill="#000" textLength="66.8" lengthAdjust="spacingAndGlyphs" stroke="#fff" stroke-width="7" stroke-linejoin="round" paint-order="stroke" font-family="Liberation Sans, sans-serif" font-weight="bold">Kansas</text>
<text x="2061.0" y="938.4" font-size="18.2" fill="#000" textLength="167.4" lengthAdjust="spacingAndGlyphs" stroke="#fff" stroke-width="7" stroke-linejoin="round" paint-order="stroke" font-family="Liberation Sans, sans-serif" font-weight="bold">Florida, Delaware</text>
<text x="2061.0" y="962.4" font-size="18.2" fill="#000" textLength="45.8" lengthAdjust="spacingAndGlyphs" stroke="#fff" stroke-width="7" stroke-linejoin="round" paint-order="stroke" font-family="Liberation Sans, sans-serif" font-weight="bold">Ohio</text>
<text x="2061.0" y="986.3" font-size="18.2" fill="#000" textLength="189.8" lengthAdjust="spacingAndGlyphs" stroke="#fff" stroke-width="7" stroke-linejoin="round" paint-order="stroke" font-family="Liberation Sans, sans-serif" font-weight="bold">District of Columbia</text>
<text x="2061.0" y="1010.2" font-size="18.2" fill="#000" textLength="91.2" lengthAdjust="spacingAndGlyphs" stroke="#fff" stroke-width="7" stroke-linejoin="round" paint-order="stroke" font-family="Liberation Sans, sans-serif" font-weight="bold">California</text>
<text x="2061.0" y="1034.3" font-size="18.2" fill="#000" textLength="80.2" lengthAdjust="spacingAndGlyphs" stroke="#fff" stroke-width="7" stroke-linejoin="round" paint-order="stroke" font-family="Liberation Sans, sans-serif" font-weight="bold">Missouri</text>
<text x="2061.0" y="1058.4" font-size="18.2" fill="#000" textLength="127.6" lengthAdjust="spacingAndGlyphs" stroke="#fff" stroke-width="7" stroke-linejoin="round" paint-order="stroke" font-family="Liberation Sans, sans-serif" font-weight="bold">West Virginia</text>
<text x="2061.0" y="1082.2" font-size="18.2" fill="#000" textLength="89.4" lengthAdjust="spacingAndGlyphs" stroke="#fff" stroke-width="7" stroke-linejoin="round" paint-order="stroke" font-family="Liberation Sans, sans-serif" font-weight="bold">Kentucky</text>
<text x="2061.0" y="1106.1" font-size="18.2" fill="#000" textLength="84.3" lengthAdjust="spacingAndGlyphs" stroke="#fff" stroke-width="7" stroke-linejoin="round" paint-order="stroke" font-family="Liberation Sans, sans-serif" font-weight="bold">Montana</text>
<text x="2061.0" y="1130.2" font-size="18.2" fill="#000" textLength="89.4" lengthAdjust="spacingAndGlyphs" stroke="#fff" stroke-width="7" stroke-linejoin="round" paint-order="stroke" font-family="Liberation Sans, sans-serif" font-weight="bold">Maryland</text>
<text x="2061.0" y="1226.1" font-size="18.2" fill="#000" textLength="100.0" lengthAdjust="spacingAndGlyphs" stroke="#fff" stroke-width="7" stroke-linejoin="round" paint-order="stroke" font-family="Liberation Sans, sans-serif" font-weight="bold">Minnesota</text>
<text x="2061.0" y="1250.0" font-size="18.2" fill="#000" textLength="73.5" lengthAdjust="spacingAndGlyphs" stroke="#fff" stroke-width="7" stroke-linejoin="round" paint-order="stroke" font-family="Liberation Sans, sans-serif" font-weight="bold">Virginia</text>
<text x="2061.0" y="1274.7" font-size="18.2" fill="#000" textLength="241.8" lengthAdjust="spacingAndGlyphs" stroke="#fff" stroke-width="7" stroke-linejoin="round" paint-order="stroke" font-family="Liberation Sans, sans-serif" font-weight="bold">Wyoming, North Carolina</text>
<text x="2061.0" y="1322.7" font-size="18.2" fill="#000" textLength="94.3" lengthAdjust="spacingAndGlyphs" stroke="#fff" stroke-width="7" stroke-linejoin="round" paint-order="stroke" font-family="Liberation Sans, sans-serif" font-weight="bold">Wisconsin</text>
<text x="2061.0" y="1346.7" font-size="18.2" fill="#000" textLength="189.8" lengthAdjust="spacingAndGlyphs" stroke="#fff" stroke-width="7" stroke-linejoin="round" paint-order="stroke" font-family="Liberation Sans, sans-serif" font-weight="bold">Nebraska, Colorado</text>
<text x="2061.0" y="1370.6" font-size="18.2" fill="#000" textLength="53.1" lengthAdjust="spacingAndGlyphs" stroke="#fff" stroke-width="7" stroke-linejoin="round" paint-order="stroke" font-family="Liberation Sans, sans-serif" font-weight="bold">Idaho</text>
<text x="2061.0" y="1466.5" font-size="18.2" fill="#000" textLength="152.0" lengthAdjust="spacingAndGlyphs" stroke="#fff" stroke-width="7" stroke-linejoin="round" paint-order="stroke" font-family="Liberation Sans, sans-serif" font-weight="bold">New Hampshire</text>
<text x="2061.0" y="1562.4" font-size="18.2" fill="#000" textLength="55.8" lengthAdjust="spacingAndGlyphs" stroke="#fff" stroke-width="7" stroke-linejoin="round" paint-order="stroke" font-family="Liberation Sans, sans-serif" font-weight="bold">Guam</text>
<text x="2061.0" y="1634.7" font-size="18.2" fill="#000" textLength="110.2" lengthAdjust="spacingAndGlyphs" stroke="#fff" stroke-width="7" stroke-linejoin="round" paint-order="stroke" font-family="Liberation Sans, sans-serif" font-weight="bold">Puerto Rico</text>
<text x="2061.0" y="1658.6" font-size="18.2" fill="#000" textLength="112.7" lengthAdjust="spacingAndGlyphs" stroke="#fff" stroke-width="7" stroke-linejoin="round" paint-order="stroke" font-family="Liberation Sans, sans-serif" font-weight="bold">Washington</text>
<text x="2061.0" y="1682.4" font-size="18.2" fill="#000" textLength="45.9" lengthAdjust="spacingAndGlyphs" stroke="#fff" stroke-width="7" stroke-linejoin="round" paint-order="stroke" font-family="Liberation Sans, sans-serif" font-weight="bold">Utah</text>
<text x="2061.0" y="1730.4" font-size="18.2" fill="#000" textLength="72.8" lengthAdjust="spacingAndGlyphs" stroke="#fff" stroke-width="7" stroke-linejoin="round" paint-order="stroke" font-family="Liberation Sans, sans-serif" font-weight="bold">Oregon</text>
<text x="2061.0" y="1754.5" font-size="18.2" fill="#000" textLength="58.2" lengthAdjust="spacingAndGlyphs" stroke="#fff" stroke-width="7" stroke-linejoin="round" paint-order="stroke" font-family="Liberation Sans, sans-serif" font-weight="bold">Maine</text>
<text x="2061.0" y="1850.4" font-size="18.2" fill="#000" textLength="62.8" lengthAdjust="spacingAndGlyphs" stroke="#fff" stroke-width="7" stroke-linejoin="round" paint-order="stroke" font-family="Liberation Sans, sans-serif" font-weight="bold">Alaska</text>
<text x="2061.0" y="1898.4" font-size="18.2" fill="#000" textLength="83.3" lengthAdjust="spacingAndGlyphs" stroke="#fff" stroke-width="7" stroke-linejoin="round" paint-order="stroke" font-family="Liberation Sans, sans-serif" font-weight="bold">Vermont</text>
<text x="2061.0" y="1946.5" font-size="18.2" fill="#000" textLength="64.3" lengthAdjust="spacingAndGlyphs" stroke="#fff" stroke-width="7" stroke-linejoin="round" paint-order="stroke" font-family="Liberation Sans, sans-serif" font-weight="bold">Hawaii</text>
<text x="2061.0" y="2018.8" font-size="18.2" fill="#000" textLength="171.4" lengthAdjust="spacingAndGlyphs" stroke="#fff" stroke-width="7" stroke-linejoin="round" paint-order="stroke" font-family="Liberation Sans, sans-serif" font-weight="bold">U.S. Virgin Islands</text>
<text x="2061.0" y="2186.8" font-size="18.2" fill="#000" textLength="174.4" lengthAdjust="spacingAndGlyphs" stroke="#fff" stroke-width="7" stroke-linejoin="round" paint-order="stroke" font-family="Liberation Sans, sans-serif" font-weight="bold">N. Mariana Islands</text>
<text x="2061.0" y="2210.7" font-size="18.2" fill="#000" textLength="158.2" lengthAdjust="spacingAndGlyphs" stroke="#fff" stroke-width="7" stroke-linejoin="round" paint-order="stroke" font-family="Liberation Sans, sans-serif" font-weight="bold">American Samoa</text>
</svg>
</body></html>
